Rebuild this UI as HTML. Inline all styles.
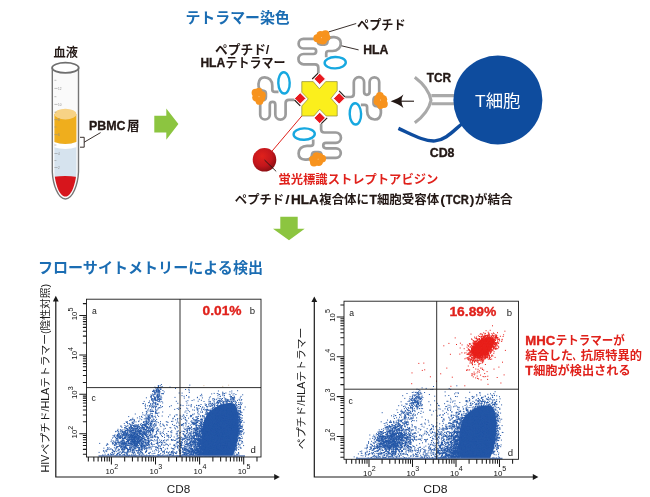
<!DOCTYPE html>
<html lang="ja"><head><meta charset="utf-8"><title>テトラマー染色</title>
<style>
html,body{margin:0;padding:0;background:#fff;}
body{width:650px;height:497px;overflow:hidden;font-family:"Liberation Sans","Noto Sans CJK JP",sans-serif;}
svg{display:block;}
text{font-family:"Liberation Sans","Noto Sans CJK JP",sans-serif;}
.b{font-weight:700;}
</style></head><body>
<svg width="650" height="497" viewBox="0 0 650 497">
<rect width="650" height="497" fill="#fff"/>
<g id="tube">
<defs><clipPath id="tubeclip"><path d="M54.4 67.5 L54.4 172 C54.9 183 59.2 196.6 65.4 196.6 C71.6 196.6 75.9 183 76.4 172 L76.4 67.5 Z"/></clipPath></defs>
<path d="M52.3 67.5 L52.3 172 C52.8 184 58 199 65.4 199 C72.8 199 78 184 78.5 172 L78.5 67.5 Z" fill="#fafafa"/>
<g clip-path="url(#tubeclip)">
<rect x="50" y="143" width="30" height="36" fill="#d6e3ee"/>
<path d="M50 177.5 Q65.4 174.5 80 177.5 L80 200 L50 200 Z" fill="#d7151c"/>
<path d="M50 140.5 Q65.4 147.5 80 140.5 L80 146 Q65.4 152 50 146 Z" fill="#fff"/>
<path d="M50 114 L80 114 L80 140.5 Q65.4 147.5 50 140.5 Z" fill="#efae1d"/>
<ellipse cx="65.4" cy="114.1" rx="11.2" ry="5.3" fill="#f7d285"/>
</g>
<g stroke="#8f8f8f" stroke-width="0.55" fill="none">
<path d="M54.4 80.3h2M54.4 88.4h3.2M54.4 96.7h2M54.4 104.4h3.2M54.4 112.2h2M54.4 119.6h3.2M54.4 127h2M54.4 134.6h3.2M54.4 145h2M54.4 153.5h3.2M54.4 160.5h2M54.4 167.5h3.2"/>
</g>
<g font-size="3.1" fill="#8a8a8a"><text x="58" y="89.5">12</text><text x="58" y="105.5">10</text><text x="58" y="120.7">8</text><text x="58" y="135.7">6</text><text x="58" y="154.6">4</text><text x="58" y="168.6">2</text></g>
<path d="M52.3 67.5 L52.3 172 C52.8 184 58 199 65.4 199 C72.8 199 78 184 78.5 172 L78.5 67.5" fill="none" stroke="#757575" stroke-width="1.4"/>
<ellipse cx="65.4" cy="67.8" rx="13.3" ry="5.1" fill="#fff" stroke="#6e6e6e" stroke-width="1.7"/>
<path d="M80 137.3 H84.2 V147.2 H80" fill="none" stroke="#231815" stroke-width="0.9"/>
<path d="M84.2 142.2 L100.6 132.6" fill="none" stroke="#231815" stroke-width="0.9"/>
</g>
<text class="b" x="65.8" y="57" font-size="12.2" text-anchor="middle" fill="#231815" textLength="24.4" lengthAdjust="spacingAndGlyphs">血液</text>
<text class="b" y="130.4" font-size="13" fill="#231815"><tspan x="89.0" textLength="36.6" lengthAdjust="spacingAndGlyphs" stroke="#231815" stroke-width="0.35">PBMC</tspan><tspan x="127.0" textLength="12.6" lengthAdjust="spacingAndGlyphs">層</tspan></text>
<path d="M154.3 115.8 H166.3 V108.5 L178.4 124.1 L166.3 139.7 V132.6 H154.3 Z" fill="#8cc540"/>
<path d="M280.3 216.7 H297.7 V228.7 H304.7 L289 240.2 L273 228.7 H280.3 Z" fill="#8cc540"/>
<g id="tetramer">
<path d="M301.8 116 L264.5 160" stroke="#e0211b" stroke-width="1" fill="none"/>
<path d="M301.8 81.6 L313.2 81.6 L319.4 88.8 L325.7 81.6 L337.2 81.6 L337.2 90.6 L331 98.3 L337.2 105.5 L337.2 116 L326.2 116 L319.7 109.2 L313.9 116 L301.8 116 L301.8 106 L308.2 98.9 L301.8 92.2 Z" fill="#fbef1c" stroke="#8c8a3a" stroke-width="0.7" stroke-linejoin="miter"/>
<g transform="rotate(0 319.7 98.4)">
<path d="M318.3 73 L318.3 67.6 Q318.3 64.3 315 64.3 L303.6 64.3 A5.15 5.15 0 0 1 303.6 54 L313.4 54 A2.75 2.75 0 0 0 313.4 48.5 L303.4 48.5 A4.8 4.8 0 0 1 303.4 38.9 L314.5 38.9 Q317.6 38.9 317.8 41.5 Q318 44.6 321 44.6 L324.5 44.6 Q327.3 44.6 327.5 41.5 C327.8 38 331 37 334.2 37.2 C338.2 37.5 340.8 39.8 340.8 43.4 C340.8 47.6 337.6 51 332.4 51 L328.6 51 Q326.2 51 326.2 53.4 L326.2 57.2" fill="none" stroke="#9c9c9c" stroke-width="2.7" stroke-linecap="butt" stroke-linejoin="round"/>
<ellipse cx="335.2" cy="62.7" rx="10.6" ry="5.7" fill="none" stroke="#17a8e0" stroke-width="2.4" transform="rotate(-2 335.2 62.7)"/>
<g fill="#f7931e"><circle cx="317.2" cy="38.2" r="3.9"/><circle cx="320.6" cy="35.2" r="4.3"/><circle cx="325.4" cy="34.3" r="4"/><circle cx="327" cy="37.6" r="3.3"/><circle cx="322.8" cy="40.2" r="4.4"/><circle cx="319.6" cy="40.6" r="3.2"/></g>
<circle cx="321.3" cy="37.7" r="0.45" fill="#fff"/>
<path d="M319.7 73.2 L325.4 78.9 L319.7 84.6 L314 78.9 Z" fill="#e8191f" stroke="#fff" stroke-width="0.9"/>
<path d="M312.2 79 L318.1 73.2" stroke="#231815" stroke-width="1.1" fill="none"/>
</g>
<g transform="rotate(90 319.7 98.4)">
<path d="M318.3 73 L318.3 67.6 Q318.3 64.3 315 64.3 L303.6 64.3 A5.15 5.15 0 0 1 303.6 54 L313.4 54 A2.75 2.75 0 0 0 313.4 48.5 L303.4 48.5 A4.8 4.8 0 0 1 303.4 38.9 L314.5 38.9 Q317.6 38.9 317.8 41.5 Q318 44.6 321 44.6 L324.5 44.6 Q327.3 44.6 327.5 41.5 C327.8 38 331 37 334.2 37.2 C338.2 37.5 340.8 39.8 340.8 43.4 C340.8 47.6 337.6 51 332.4 51 L328.6 51 Q326.2 51 326.2 53.4 L326.2 57.2" fill="none" stroke="#9c9c9c" stroke-width="2.7" stroke-linecap="butt" stroke-linejoin="round"/>
<ellipse cx="335.2" cy="62.7" rx="10.6" ry="5.7" fill="none" stroke="#17a8e0" stroke-width="2.4" transform="rotate(-2 335.2 62.7)"/>
<g fill="#f7931e"><circle cx="317.2" cy="38.2" r="3.9"/><circle cx="320.6" cy="35.2" r="4.3"/><circle cx="325.4" cy="34.3" r="4"/><circle cx="327" cy="37.6" r="3.3"/><circle cx="322.8" cy="40.2" r="4.4"/><circle cx="319.6" cy="40.6" r="3.2"/></g>
<circle cx="321.3" cy="37.7" r="0.45" fill="#fff"/>
<path d="M319.7 73.2 L325.4 78.9 L319.7 84.6 L314 78.9 Z" fill="#e8191f" stroke="#fff" stroke-width="0.9"/>
<path d="M312.2 79 L318.1 73.2" stroke="#231815" stroke-width="1.1" fill="none"/>
</g>
<g transform="rotate(180 319.7 98.4)">
<path d="M318.3 73 L318.3 67.6 Q318.3 64.3 315 64.3 L303.6 64.3 A5.15 5.15 0 0 1 303.6 54 L313.4 54 A2.75 2.75 0 0 0 313.4 48.5 L303.4 48.5 A4.8 4.8 0 0 1 303.4 38.9 L314.5 38.9 Q317.6 38.9 317.8 41.5 Q318 44.6 321 44.6 L324.5 44.6 Q327.3 44.6 327.5 41.5 C327.8 38 331 37 334.2 37.2 C338.2 37.5 340.8 39.8 340.8 43.4 C340.8 47.6 337.6 51 332.4 51 L328.6 51 Q326.2 51 326.2 53.4 L326.2 57.2" fill="none" stroke="#9c9c9c" stroke-width="2.7" stroke-linecap="butt" stroke-linejoin="round"/>
<ellipse cx="335.2" cy="62.7" rx="10.6" ry="5.7" fill="none" stroke="#17a8e0" stroke-width="2.4" transform="rotate(-2 335.2 62.7)"/>
<g fill="#f7931e"><circle cx="317.2" cy="38.2" r="3.9"/><circle cx="320.6" cy="35.2" r="4.3"/><circle cx="325.4" cy="34.3" r="4"/><circle cx="327" cy="37.6" r="3.3"/><circle cx="322.8" cy="40.2" r="4.4"/><circle cx="319.6" cy="40.6" r="3.2"/></g>
<circle cx="321.3" cy="37.7" r="0.45" fill="#fff"/>
<path d="M319.7 73.2 L325.4 78.9 L319.7 84.6 L314 78.9 Z" fill="#e8191f" stroke="#fff" stroke-width="0.9"/>
<path d="M312.2 79 L318.1 73.2" stroke="#231815" stroke-width="1.1" fill="none"/>
</g>
<g transform="rotate(270 319.7 98.4)">
<path d="M318.3 73 L318.3 67.6 Q318.3 64.3 315 64.3 L303.6 64.3 A5.15 5.15 0 0 1 303.6 54 L313.4 54 A2.75 2.75 0 0 0 313.4 48.5 L303.4 48.5 A4.8 4.8 0 0 1 303.4 38.9 L314.5 38.9 Q317.6 38.9 317.8 41.5 Q318 44.6 321 44.6 L324.5 44.6 Q327.3 44.6 327.5 41.5 C327.8 38 331 37 334.2 37.2 C338.2 37.5 340.8 39.8 340.8 43.4 C340.8 47.6 337.6 51 332.4 51 L328.6 51 Q326.2 51 326.2 53.4 L326.2 57.2" fill="none" stroke="#9c9c9c" stroke-width="2.7" stroke-linecap="butt" stroke-linejoin="round"/>
<ellipse cx="335.2" cy="62.7" rx="10.6" ry="5.7" fill="none" stroke="#17a8e0" stroke-width="2.4" transform="rotate(-2 335.2 62.7)"/>
<g fill="#f7931e"><circle cx="317.2" cy="38.2" r="3.9"/><circle cx="320.6" cy="35.2" r="4.3"/><circle cx="325.4" cy="34.3" r="4"/><circle cx="327" cy="37.6" r="3.3"/><circle cx="322.8" cy="40.2" r="4.4"/><circle cx="319.6" cy="40.6" r="3.2"/></g>
<circle cx="321.3" cy="37.7" r="0.45" fill="#fff"/>
<path d="M319.7 73.2 L325.4 78.9 L319.7 84.6 L314 78.9 Z" fill="#e8191f" stroke="#fff" stroke-width="0.9"/>
<path d="M312.2 79 L318.1 73.2" stroke="#231815" stroke-width="1.1" fill="none"/>
</g>
<defs><radialGradient id="ball" cx="0.4" cy="0.35" r="0.75"><stop offset="0" stop-color="#e0211b"/><stop offset="0.55" stop-color="#c3161c"/><stop offset="1" stop-color="#7a0c10"/></radialGradient></defs>
<circle cx="264.5" cy="159.8" r="11.8" fill="url(#ball)"/>
<path d="M264.5 160 L276.2 171.4" stroke="#231815" stroke-width="0.9" fill="none"/>
<path d="M328.8 31.9 L356.2 23.5" stroke="#231815" stroke-width="0.9" fill="none"/>
<path d="M341.6 45.8 L358.6 49.9" stroke="#231815" stroke-width="0.9" fill="none"/>
</g>
<g id="tcell">
<path d="M398.4 128.4 C412 134.5 424 141.6 435 140.9 C446 140.1 454 130 463 123" fill="none" stroke="#0e4c9e" stroke-width="3.4"/>
<path d="M414.8 77.2 Q428.6 87.6 431 100.2 Q428.6 112.4 414.8 122.8" fill="none" stroke="#a9a9a9" stroke-width="3.1" stroke-linejoin="miter"/>
<path d="M431.4 95.6 H456 M431.4 103.8 H456" fill="none" stroke="#a9a9a9" stroke-width="3.1"/>
<circle cx="497.9" cy="100" r="44.5" fill="#0e4c9e"/>
<path d="M414 101.2 L399 101.2" stroke="#231815" stroke-width="1.1" fill="none"/>
<path d="M390.6 101.2 Q398.6 98.6 403.4 94.6 Q399.6 101.2 403.4 107.9 Q398.6 103.8 390.6 101.2 Z" fill="#231815"/>
</g>
<text x="497.8" y="106.8" font-size="16.5" text-anchor="middle" fill="#fff" textLength="45.4" lengthAdjust="spacingAndGlyphs">T細胞</text>
<text class="b" y="81.9" font-size="12.5" fill="#231815"><tspan x="426.8" textLength="24.4" lengthAdjust="spacingAndGlyphs" stroke="#231815" stroke-width="0.35">TCR</tspan></text>
<text class="b" y="156.6" font-size="12.5" fill="#231815"><tspan x="429.7" textLength="24.8" lengthAdjust="spacingAndGlyphs" stroke="#231815" stroke-width="0.35">CD8</tspan></text>
<text class="b" x="185.4" y="23.4" font-size="15" fill="#1b6db3" textLength="104.4" lengthAdjust="spacingAndGlyphs">テトラマー染色</text>
<text class="b" x="215" y="53.9" font-size="12.8" fill="#231815" textLength="54.4" lengthAdjust="spacingAndGlyphs">ペプチド/</text>
<text class="b" y="67.3" font-size="12.8" fill="#231815"><tspan x="200.4" textLength="24.8" lengthAdjust="spacingAndGlyphs" stroke="#231815" stroke-width="0.35">HLA</tspan><tspan x="225.6" textLength="60" lengthAdjust="spacingAndGlyphs">テトラマー</tspan></text>
<text class="b" x="357" y="29.1" font-size="12.6" fill="#231815" textLength="48.6" lengthAdjust="spacingAndGlyphs">ペプチド</text>
<text class="b" y="53.8" font-size="12.5" fill="#231815"><tspan x="363.2" textLength="25.2" lengthAdjust="spacingAndGlyphs" stroke="#231815" stroke-width="0.35">HLA</tspan></text>
<text class="b" x="278.5" y="184.4" font-size="12.3" fill="#e0211b" textLength="159.8" lengthAdjust="spacingAndGlyphs">蛍光標識ストレプトアビジン</text>
<text class="b" y="203.6" font-size="12.5" fill="#231815"><tspan x="234.8" textLength="49.4" lengthAdjust="spacingAndGlyphs">ペプチド</tspan><tspan x="285.2" textLength="4.4" lengthAdjust="spacingAndGlyphs">/</tspan><tspan x="291" textLength="27.8" lengthAdjust="spacingAndGlyphs" stroke="#231815" stroke-width="0.35">HLA</tspan><tspan x="319.2" textLength="49.8" lengthAdjust="spacingAndGlyphs">複合体に</tspan><tspan x="369.6" textLength="7.4" lengthAdjust="spacingAndGlyphs" stroke="#231815" stroke-width="0.35">T</tspan><tspan x="376.9" textLength="62.3" lengthAdjust="spacingAndGlyphs">細胞受容体</tspan><tspan x="440.2" textLength="5" lengthAdjust="spacingAndGlyphs">(</tspan><tspan x="445.8" textLength="23" lengthAdjust="spacingAndGlyphs" stroke="#231815" stroke-width="0.35">TCR</tspan><tspan x="469.4" textLength="5" lengthAdjust="spacingAndGlyphs">)</tspan><tspan x="474.8" textLength="38" lengthAdjust="spacingAndGlyphs">が結合</tspan></text>
<text class="b" x="38" y="273.4" font-size="15" fill="#1b6db3" textLength="225" lengthAdjust="spacingAndGlyphs">フローサイトメトリーによる検出</text>
<text class="b" y="344.8" font-size="12.1" fill="#e0211b"><tspan x="525.3" textLength="30" lengthAdjust="spacingAndGlyphs" stroke="#e0211b" stroke-width="0.35">MHC</tspan><tspan x="555.7" textLength="69" lengthAdjust="spacingAndGlyphs">テトラマーが</tspan></text>
<text class="b" y="360.1" font-size="12.1" fill="#e0211b"><tspan x="525.3" textLength="47.6" lengthAdjust="spacingAndGlyphs">結合した</tspan><tspan x="572.6" textLength="8" lengthAdjust="spacingAndGlyphs">、</tspan><tspan x="580.8" textLength="61.2" lengthAdjust="spacingAndGlyphs">抗原特異的</tspan></text>
<text class="b" y="375.4" font-size="12.1" fill="#e0211b"><tspan x="525.3" textLength="7.6" lengthAdjust="spacingAndGlyphs" stroke="#e0211b" stroke-width="0.35">T</tspan><tspan x="533.2" textLength="97.4" lengthAdjust="spacingAndGlyphs">細胞が検出される</tspan></text>
<g id="plot1">
<path d="M134.5 427.8h1M137.8 435.8h1M131.4 419.8h1M124.5 425.5h1M129.4 439.8h1M123.4 431.7h1M135.2 436.5h1M149.5 434.1h1M129.0 455.5h1M127.6 450.4h1M140.0 436.5h1M138.5 447.5h1M135.7 431.1h1M124.1 437.2h1M134.2 445.8h1M142.3 425.9h1M119.4 438.6h1M129.4 427.8h1M113.2 443.2h1M120.1 454.7h1M113.9 435.6h1M131.9 440.4h1M120.3 433.1h1M137.5 427.6h1M136.3 427.1h1M132.4 450.8h1M128.5 443.3h1M134.0 432.0h1M135.8 443.8h1M117.4 438.5h1M129.1 445.9h1M123.5 442.6h1M125.4 442.2h1M146.4 440.8h1M125.5 434.8h1M134.1 434.6h1M144.4 421.4h1M128.0 435.5h1M133.2 426.1h1M135.7 436.5h1M135.2 429.7h1M120.8 441.6h1M135.4 441.7h1M149.7 422.9h1M117.2 434.5h1M144.1 428.1h1M135.8 444.1h1M127.3 454.0h1M156.9 440.9h1M143.0 433.3h1M121.1 453.1h1M135.3 424.9h1M141.0 449.5h1M132.4 432.8h1M142.1 412.8h1M142.0 450.0h1M150.6 426.0h1M126.9 440.9h1M136.8 435.7h1M129.3 439.9h1M135.9 425.1h1M121.2 434.8h1M128.0 443.3h1M132.3 440.3h1M144.6 446.2h1M147.3 436.2h1M125.6 433.6h1M141.7 438.8h1M129.3 428.3h1M133.4 449.5h1M148.6 427.2h1M142.2 441.0h1M130.8 438.2h1M130.4 429.9h1M131.7 435.6h1M151.6 430.3h1M129.7 434.8h1M131.1 445.1h1M138.4 442.8h1M133.1 433.3h1M132.3 430.7h1M122.0 442.9h1M134.4 437.2h1M129.5 447.7h1M141.8 443.7h1M134.2 437.8h1M142.0 435.1h1M130.7 431.4h1M146.3 428.0h1M134.4 429.5h1M141.0 433.3h1M120.0 437.2h1M138.4 443.6h1M115.6 438.3h1M131.1 428.3h1M124.4 454.0h1M136.3 442.0h1M159.6 448.3h1M125.2 446.6h1M127.5 452.1h1M136.8 435.4h1M140.0 443.0h1M132.2 428.0h1M142.4 446.5h1M140.3 451.3h1M122.9 443.9h1M133.6 444.7h1M134.9 448.8h1M122.7 434.6h1M137.4 441.0h1M124.9 432.3h1M145.4 430.0h1M136.7 432.2h1M135.5 436.6h1M127.9 440.6h1M133.2 442.2h1M138.6 447.3h1M110.7 449.0h1M144.0 433.0h1M114.9 441.1h1M143.0 441.1h1M125.0 443.5h1M143.2 421.6h1M136.0 444.2h1M148.5 419.1h1M150.6 443.5h1M133.8 441.4h1M131.4 437.6h1M132.7 450.3h1M123.6 429.8h1M146.8 437.0h1M128.4 452.0h1M133.9 436.4h1M125.6 436.1h1M127.5 440.4h1M120.2 436.9h1M148.6 448.8h1M132.8 430.4h1M145.3 443.5h1M134.6 427.0h1M126.7 445.4h1M130.8 437.8h1M128.2 416.6h1M134.6 437.9h1M130.3 429.5h1M131.1 434.8h1M119.1 454.5h1M125.5 430.0h1M153.0 425.1h1M127.0 452.1h1M122.7 441.3h1M138.3 450.8h1M150.3 437.7h1M118.2 433.5h1M132.2 437.9h1M127.4 450.2h1M114.8 450.1h1M142.7 436.4h1M134.2 438.5h1M135.3 436.9h1M126.1 434.6h1M139.6 453.9h1M128.5 439.2h1M132.9 428.4h1M122.1 436.3h1M120.9 447.0h1M149.5 440.7h1M128.8 437.9h1M137.8 431.5h1M134.1 438.3h1M129.6 424.3h1M128.8 427.7h1M141.6 443.6h1M131.1 434.5h1M132.8 441.6h1M134.7 448.6h1M147.7 441.1h1M142.1 436.7h1M138.8 455.8h1M128.2 445.1h1M119.0 437.9h1M145.1 442.3h1M145.3 439.4h1M132.9 430.8h1M140.6 437.4h1M143.3 434.8h1M143.8 418.9h1M144.8 434.5h1M129.4 436.5h1M151.5 430.8h1M120.5 426.3h1M144.2 433.0h1M140.0 436.6h1M144.3 437.0h1M155.5 423.9h1M151.1 440.3h1M121.7 429.9h1M115.6 439.8h1M143.6 447.6h1M123.1 434.2h1M134.4 433.6h1M143.9 445.6h1M116.1 438.3h1M110.9 440.0h1M137.4 439.4h1M135.0 447.1h1M131.7 419.2h1M134.9 430.7h1M124.9 431.1h1M117.5 431.8h1M132.6 430.9h1M123.6 432.8h1M116.1 444.3h1M140.2 429.1h1M133.8 439.2h1M139.1 440.6h1M123.4 433.8h1M127.1 440.6h1M123.3 454.5h1M124.6 442.8h1M136.7 432.0h1M125.7 439.2h1M138.5 429.2h1M138.3 439.6h1M157.2 441.1h1M118.9 433.9h1M144.4 434.2h1M133.5 447.9h1M134.3 433.7h1M118.3 442.8h1M129.3 430.1h1M142.8 429.2h1M133.6 433.7h1M135.4 456.4h1M131.2 435.2h1M147.4 430.9h1M134.3 433.2h1M126.7 445.1h1M112.4 443.9h1M128.6 441.0h1M149.4 447.4h1M135.0 440.3h1M121.4 445.7h1M124.0 427.8h1M147.2 434.4h1M136.3 437.1h1M135.0 435.8h1M133.9 419.8h1M134.9 445.4h1M143.5 432.9h1M140.7 433.1h1M136.9 435.4h1M122.8 438.4h1M140.2 440.3h1M126.8 428.7h1M146.8 427.7h1M120.3 443.3h1M133.0 439.5h1M134.4 434.8h1M119.7 436.0h1M153.8 427.1h1M150.9 434.3h1M129.3 449.1h1M143.1 427.3h1M138.7 450.1h1M105.2 450.9h1M137.3 433.6h1M133.8 444.8h1M135.4 425.3h1M131.5 427.6h1M132.5 434.9h1M147.8 432.6h1M138.2 432.9h1M134.4 438.9h1M151.6 416.4h1M128.3 443.4h1M130.1 426.8h1M114.2 436.4h1M152.1 431.0h1M145.3 426.0h1M144.8 424.3h1M142.0 428.0h1M135.7 437.7h1M136.9 442.6h1M131.7 443.4h1M132.2 430.0h1M135.1 431.1h1M151.4 426.8h1M140.7 440.6h1M133.8 420.8h1M128.0 449.8h1M127.4 435.3h1M152.5 427.8h1M140.2 439.8h1M135.3 446.6h1M130.6 441.7h1M122.1 449.4h1M133.8 439.3h1M144.3 446.6h1M130.1 449.5h1M132.0 437.7h1M132.0 450.7h1M135.7 439.2h1M116.7 442.2h1M131.9 430.7h1M124.9 437.4h1M144.4 442.7h1M125.9 428.5h1M141.0 442.3h1M151.6 437.6h1M131.0 441.1h1M136.6 436.7h1M134.5 443.5h1M123.4 433.7h1M139.7 437.8h1M157.1 413.3h1M131.6 444.3h1M132.2 432.8h1M122.8 447.7h1M138.1 421.6h1M120.5 446.6h1M122.1 438.4h1M148.8 442.1h1M124.4 432.1h1M146.6 430.4h1M151.6 453.8h1M137.4 430.4h1M140.7 430.8h1M156.4 431.3h1M132.3 429.7h1M127.9 449.4h1M119.3 455.7h1M135.0 431.9h1M151.1 420.0h1M145.2 445.9h1M123.9 449.5h1M124.9 446.9h1M128.9 449.0h1M137.8 430.0h1M132.2 437.0h1M136.9 425.7h1M137.8 425.3h1M131.2 447.0h1M134.1 432.4h1M133.6 438.8h1M140.1 431.4h1M155.5 440.7h1M141.1 452.0h1M135.1 442.0h1M115.6 431.3h1M138.8 440.3h1M112.7 454.0h1M118.7 436.9h1M144.1 429.5h1M142.4 445.1h1M132.8 439.5h1M130.3 435.6h1M126.9 433.1h1M141.6 439.1h1M159.8 434.0h1M136.9 447.3h1M125.8 445.8h1M121.4 427.3h1M133.9 441.6h1M132.5 446.0h1M121.6 444.4h1M135.8 446.5h1M121.6 435.8h1M147.0 427.5h1M146.4 443.6h1M146.6 426.5h1M129.2 420.6h1M140.3 445.6h1M133.0 432.1h1M130.1 436.2h1M130.7 426.8h1M119.9 429.6h1M143.4 433.2h1M132.4 441.6h1M136.9 417.9h1M145.7 442.2h1M115.1 431.7h1M125.7 430.6h1M136.5 443.4h1M138.9 436.5h1M130.3 425.7h1M146.0 451.5h1M136.9 430.2h1M120.9 442.8h1M124.1 441.8h1M143.5 448.3h1M139.7 433.1h1M113.2 450.8h1M149.6 428.7h1M141.2 446.2h1M149.5 428.5h1M130.2 435.8h1M131.2 454.8h1M121.9 443.2h1M162.9 433.4h1M152.3 437.6h1M127.3 432.5h1M136.3 443.9h1M130.2 448.5h1M145.5 446.1h1M120.5 435.9h1M146.5 430.3h1M138.3 438.8h1M122.8 440.4h1M128.9 430.8h1M129.4 443.9h1M133.9 420.7h1M128.5 435.5h1M125.2 436.4h1M131.1 436.3h1M123.0 442.9h1M134.0 443.1h1M144.4 434.5h1M117.4 435.8h1M134.5 426.3h1M127.2 429.3h1M123.6 443.2h1M144.1 427.9h1M128.7 439.7h1M151.3 443.8h1M125.8 448.5h1M138.8 450.4h1M132.0 436.0h1M126.1 430.4h1M141.1 445.4h1M132.8 441.0h1M141.3 446.2h1M134.0 438.2h1M122.3 450.6h1M133.4 445.4h1M135.1 444.0h1M145.2 440.2h1M124.3 443.4h1M134.1 440.1h1M115.2 443.7h1M141.8 445.0h1M122.4 436.0h1M133.8 437.2h1M146.9 444.0h1M117.4 440.6h1M122.3 438.3h1M121.8 437.8h1M138.7 426.3h1M125.5 433.7h1M126.4 436.9h1M141.0 455.1h1M126.0 441.4h1M139.3 445.0h1M123.6 431.6h1M120.9 443.7h1M113.9 447.8h1M155.3 449.3h1M130.9 432.8h1M137.2 442.6h1M134.2 440.6h1M136.3 428.9h1M135.1 437.7h1M155.9 431.6h1M117.1 446.5h1M123.2 444.8h1M119.6 437.2h1M142.9 425.0h1M143.7 448.8h1M123.7 442.4h1M118.9 449.7h1M130.5 450.8h1M150.1 430.5h1M102.9 451.1h1M140.4 434.8h1M122.5 439.8h1M146.2 435.0h1M122.4 440.4h1M131.3 448.1h1M117.6 442.4h1M123.6 438.8h1M150.0 432.6h1M143.7 439.1h1M130.0 431.3h1M124.8 435.6h1M113.3 441.7h1M130.1 434.0h1M134.2 437.1h1M133.6 433.0h1M133.4 455.3h1M121.9 451.8h1M133.8 442.0h1M134.1 437.6h1M149.0 453.8h1M155.4 436.6h1M133.0 437.6h1M125.9 442.3h1M133.8 440.7h1M127.7 451.4h1M126.2 439.5h1M133.8 456.0h1M122.8 432.8h1M141.3 442.6h1M133.3 429.7h1M137.3 452.9h1M132.5 435.6h1M126.4 439.1h1M123.9 448.0h1M131.8 449.2h1M128.4 429.7h1M137.1 434.5h1M134.5 426.1h1M119.2 442.2h1M135.3 437.0h1M119.5 438.0h1M127.6 433.5h1M131.2 435.4h1M135.5 442.3h1M136.2 450.6h1M132.7 421.9h1M129.7 437.9h1M130.3 435.3h1M123.6 444.3h1M131.5 430.5h1M128.3 438.0h1M135.5 428.9h1M121.0 446.6h1M137.1 438.3h1M136.1 436.3h1M132.9 441.5h1M129.6 436.9h1M140.7 423.5h1M115.9 446.7h1M139.7 439.4h1M137.2 436.2h1M137.7 445.8h1M138.8 447.5h1M127.2 430.1h1M131.6 431.9h1M141.6 449.8h1M139.3 449.1h1M136.8 431.3h1M140.5 431.4h1M147.6 431.2h1M145.8 422.3h1M137.1 437.8h1M117.1 430.5h1M145.1 425.6h1M132.9 446.1h1M138.7 436.6h1M117.8 446.6h1M120.0 447.8h1M127.4 436.5h1M148.8 435.6h1M130.3 431.8h1M137.5 452.3h1M154.1 439.7h1M152.4 425.1h1M133.3 438.3h1M131.8 444.6h1M120.4 444.9h1M126.7 455.1h1M139.3 448.8h1M138.9 432.5h1M135.7 437.0h1M145.6 424.9h1M125.8 441.8h1M133.9 439.4h1M141.0 437.5h1M146.5 417.8h1M138.9 431.4h1M131.0 439.6h1M138.6 426.5h1M123.3 432.8h1M116.1 438.5h1M141.0 439.6h1M133.9 436.7h1M138.0 429.7h1M115.5 448.4h1M130.4 434.2h1M127.8 435.1h1M124.8 428.1h1M130.7 444.3h1M144.5 422.2h1M138.8 436.6h1M127.8 445.4h1M134.3 434.8h1M143.0 438.4h1M133.1 449.4h1M140.6 446.2h1M142.1 438.5h1M153.5 419.3h1M147.2 426.6h1M138.0 445.6h1M137.9 451.9h1M143.3 438.8h1M128.5 449.8h1M134.0 432.9h1M144.6 434.4h1M156.4 433.7h1M132.7 442.0h1M134.0 425.1h1M136.7 445.6h1M149.5 446.3h1M134.2 428.3h1M151.0 423.2h1M123.7 443.1h1M132.4 432.8h1M132.3 418.2h1M143.3 443.2h1M146.2 437.0h1M117.6 437.3h1M138.3 438.4h1M127.1 433.0h1M117.4 442.2h1M146.1 426.9h1M140.0 430.4h1M140.0 440.2h1M129.2 434.3h1M146.0 431.9h1M131.8 452.7h1M146.8 442.9h1M124.3 446.8h1M124.9 444.4h1M136.8 441.7h1M126.6 452.0h1M142.1 436.3h1M137.4 453.2h1M124.2 431.9h1M135.3 435.7h1M130.6 427.0h1M144.8 433.1h1M127.4 443.8h1M129.6 451.3h1M148.1 429.7h1M159.6 433.1h1M156.9 430.5h1M135.2 431.6h1M137.0 427.4h1M151.7 435.1h1M133.1 423.5h1M123.6 441.1h1M135.8 437.9h1M139.6 431.4h1M125.2 431.2h1M142.0 425.1h1M126.0 452.9h1M132.9 443.4h1M136.9 434.4h1M141.4 426.8h1M130.7 447.6h1M140.1 451.6h1M124.5 432.0h1M130.4 436.3h1M123.0 449.2h1M147.2 438.4h1M134.2 455.1h1M126.2 434.8h1M130.6 443.4h1M132.0 427.8h1M142.3 454.3h1M116.6 435.3h1M130.3 437.8h1M162.9 431.2h1M145.2 452.2h1M133.3 435.4h1M142.5 436.3h1M157.5 438.5h1M131.9 452.0h1M130.4 438.3h1M148.1 444.2h1M140.0 441.3h1M142.0 434.0h1M128.8 439.8h1M156.1 434.0h1M153.6 426.4h1M140.8 447.1h1M142.2 424.7h1M111.8 452.4h1M141.6 444.7h1M132.3 437.6h1M139.4 430.5h1M142.1 434.6h1M130.7 442.8h1M115.6 448.1h1M138.6 439.6h1M126.2 448.1h1M130.8 434.0h1M127.7 441.3h1M130.7 425.4h1M108.6 449.6h1M148.1 436.6h1M137.3 433.9h1M146.9 445.5h1M156.7 439.5h1M134.8 414.0h1M114.3 442.3h1M124.5 427.6h1M121.0 449.7h1M135.4 433.4h1M112.1 443.0h1M138.3 435.1h1M117.6 444.3h1M137.8 442.8h1M133.3 449.2h1M131.0 430.3h1M133.7 451.6h1M128.5 431.3h1M127.6 441.7h1M115.7 451.6h1M134.2 444.1h1M155.2 425.9h1M156.7 427.7h1M149.3 431.2h1M142.4 436.0h1M126.9 449.3h1M150.7 423.8h1M133.9 442.1h1M133.7 443.3h1M131.2 443.4h1M135.5 441.8h1M129.6 451.9h1M133.6 442.3h1M122.4 447.7h1M130.3 443.6h1M160.0 448.3h1M133.7 422.0h1M131.8 449.4h1M140.5 434.6h1M142.4 434.1h1M122.0 432.2h1M132.2 422.5h1M144.8 432.7h1M137.5 431.6h1M135.9 441.9h1M151.9 422.0h1M126.9 451.7h1M135.4 440.1h1M128.7 437.0h1M151.2 428.7h1M112.6 435.6h1M127.0 429.8h1M128.6 434.5h1M141.9 436.6h1M141.3 435.2h1M150.1 422.9h1M116.9 439.2h1M142.9 428.7h1M131.2 440.0h1M127.0 455.4h1M140.5 442.1h1M124.2 437.4h1M130.4 426.8h1M127.2 445.6h1M138.7 430.7h1M138.0 437.8h1M152.3 429.2h1M132.3 439.2h1M117.3 453.3h1M126.0 433.8h1M124.2 437.1h1M120.9 433.8h1M139.4 444.5h1M127.3 430.7h1M142.3 424.6h1M133.3 426.2h1M138.5 441.2h1M141.6 428.1h1M134.9 446.0h1M148.3 437.4h1M139.3 427.7h1M138.9 434.8h1M139.1 435.1h1M118.2 435.3h1M132.7 454.8h1M131.6 422.3h1M136.8 440.8h1M119.3 443.8h1M152.8 429.5h1M135.7 439.0h1M120.9 448.1h1M115.4 443.1h1M131.3 442.2h1M133.5 444.1h1M126.5 422.3h1M135.5 450.4h1M140.7 445.1h1M126.4 448.2h1M134.1 426.1h1M145.5 434.8h1M163.3 425.4h1M123.2 435.2h1M129.3 447.3h1M125.1 433.0h1M143.3 435.2h1M129.1 437.7h1M134.2 438.8h1M123.5 434.1h1M123.8 434.0h1M129.2 455.1h1M118.3 432.2h1M129.9 432.0h1M136.2 447.9h1M132.4 456.3h1M114.6 444.7h1M129.3 432.9h1M143.4 432.6h1M140.7 445.8h1M133.6 430.4h1M124.6 452.3h1M141.6 448.7h1M128.0 439.9h1M121.4 446.1h1M125.5 446.2h1M150.7 448.1h1M137.0 428.6h1M147.5 445.5h1M129.1 435.9h1M145.0 429.4h1M127.8 440.2h1M132.7 436.5h1M162.3 424.1h1M143.1 422.7h1M128.9 431.1h1M133.6 450.6h1M138.2 454.0h1M148.1 440.9h1M129.0 449.2h1M115.0 437.4h1M131.4 438.0h1M134.7 440.4h1M135.7 428.5h1M149.2 426.7h1M138.0 438.1h1M143.6 433.5h1M122.2 431.4h1M144.2 439.4h1M158.0 431.1h1M143.2 445.0h1M137.3 437.4h1M136.2 435.1h1M154.5 435.2h1M124.1 438.6h1M133.3 432.6h1M139.7 433.6h1M142.8 442.7h1M129.6 444.5h1M137.9 448.3h1M131.4 424.2h1M135.8 434.4h1M133.0 434.8h1M121.7 442.0h1M134.3 434.2h1M144.3 431.7h1M123.7 446.8h1M131.8 440.0h1M141.9 426.6h1M122.5 451.7h1M136.5 446.1h1M122.6 435.4h1M147.2 442.6h1M160.4 426.6h1M157.1 443.1h1M132.0 436.6h1M142.8 429.5h1M135.9 434.6h1M135.6 431.3h1M151.8 436.2h1M119.7 442.4h1M146.3 436.0h1M134.0 433.4h1M150.3 403.7h1M136.6 438.4h1M127.0 423.3h1M137.6 439.5h1M142.7 446.0h1M134.9 440.3h1M140.0 433.6h1M128.7 437.6h1M110.6 441.6h1M144.6 431.3h1M142.3 431.5h1M136.2 429.8h1M135.3 448.0h1M146.1 435.6h1M129.4 447.2h1M126.6 437.4h1M132.4 439.0h1M147.8 433.9h1M119.0 445.0h1M147.8 442.4h1M127.3 441.4h1M122.2 434.7h1M148.6 428.6h1M133.4 452.4h1M119.9 438.5h1M130.5 436.3h1M144.9 448.4h1M147.9 444.6h1M129.7 443.5h1M139.1 433.7h1M142.5 456.5h1M127.3 442.8h1M138.5 441.9h1M134.1 436.6h1M128.5 427.1h1M129.0 427.7h1M135.3 441.3h1M134.8 441.3h1M128.2 437.2h1M129.7 429.0h1M147.0 423.3h1M136.9 434.7h1M144.4 423.6h1M148.0 443.0h1M141.1 446.5h1M125.3 447.3h1M143.6 431.2h1M130.9 431.3h1M155.3 404.5h1M153.5 429.2h1M112.6 440.8h1M123.6 448.4h1M141.9 441.7h1M143.3 441.3h1M142.7 438.2h1M133.7 443.8h1M139.6 449.3h1M141.8 427.5h1M133.6 434.3h1M146.0 423.9h1M141.6 447.7h1M122.9 446.7h1M145.2 425.7h1M131.9 440.0h1M124.5 438.0h1M138.7 437.9h1M124.3 438.4h1M124.3 444.4h1M116.9 438.1h1M134.2 445.3h1M140.1 439.0h1M146.0 433.3h1M132.9 437.4h1M146.2 431.9h1M134.7 444.9h1M133.5 435.9h1M140.9 439.3h1M146.4 432.3h1M130.7 426.1h1M131.8 446.3h1M132.7 429.3h1M135.4 443.6h1M124.4 443.6h1M146.0 421.6h1M130.0 430.8h1M139.7 432.6h1M125.3 432.8h1M138.5 427.1h1M138.9 443.4h1M129.8 436.9h1M157.1 436.8h1M138.7 433.5h1M154.4 436.7h1M145.2 429.5h1M127.1 439.2h1M130.2 443.8h1M139.4 437.4h1M135.2 434.0h1M135.1 428.6h1M131.3 440.1h1M114.2 444.9h1M132.0 436.3h1M138.7 441.8h1M126.5 437.0h1M132.0 441.4h1M137.6 440.6h1M114.9 442.9h1M122.6 434.3h1M111.6 454.3h1M123.7 438.0h1M152.3 427.9h1M122.7 438.5h1M141.8 438.0h1M119.1 436.2h1M137.9 436.9h1M130.9 427.2h1M133.8 436.2h1M140.9 443.4h1M154.2 450.9h1M136.7 443.6h1M135.9 440.0h1M123.6 450.2h1M141.0 445.4h1M131.7 452.7h1M143.8 445.4h1M134.0 437.1h1M154.0 436.4h1M112.3 443.9h1M131.2 441.2h1M144.4 437.8h1M130.6 432.1h1M125.6 421.8h1M131.5 432.9h1M135.8 438.3h1M161.8 432.7h1M147.3 421.2h1M122.1 446.3h1M124.7 447.3h1M130.0 439.7h1M145.7 450.0h1M125.3 455.8h1M126.8 429.2h1M144.4 444.9h1M144.2 439.9h1M130.3 442.4h1M122.0 448.4h1M117.1 435.3h1M126.7 434.5h1M142.9 429.9h1M127.4 438.5h1M139.9 424.6h1M155.4 425.0h1M147.6 440.3h1M121.6 439.9h1M144.2 439.4h1M147.5 419.4h1M126.1 433.0h1M123.8 435.4h1M133.3 438.5h1M116.6 436.5h1M151.0 442.7h1M122.1 440.6h1M131.5 438.7h1M132.0 444.5h1M136.4 433.6h1M137.5 447.0h1M132.1 442.4h1M147.2 436.8h1M134.5 442.4h1M126.5 448.2h1M136.0 445.8h1M137.0 440.7h1M124.3 447.5h1M127.3 440.4h1M143.4 446.9h1M138.4 437.0h1M126.9 421.8h1M157.3 444.9h1M160.4 433.8h1M118.1 431.2h1M137.9 435.6h1M162.6 424.9h1M143.3 454.2h1M137.0 441.8h1M132.2 425.1h1M128.4 443.8h1M132.1 435.1h1M128.3 455.5h1M142.8 427.4h1M130.0 419.7h1M129.6 439.5h1M121.0 437.7h1M133.9 434.6h1M132.5 442.0h1M146.2 450.0h1M138.6 420.9h1M140.2 446.9h1M138.5 432.4h1M133.1 442.0h1M131.1 437.1h1M143.0 445.7h1M122.4 444.9h1M149.5 430.0h1M134.9 444.0h1M126.1 435.3h1M129.0 423.8h1M136.3 434.7h1M126.5 434.4h1M147.3 438.4h1M125.7 426.4h1M126.3 435.4h1M112.0 438.0h1M134.1 438.7h1M146.4 445.2h1M141.8 432.5h1M119.5 445.1h1M126.0 444.8h1M154.4 424.9h1M138.1 439.2h1M134.5 430.0h1M146.3 444.7h1M162.0 436.5h1M149.0 435.3h1M136.1 426.3h1M138.5 438.2h1M141.4 430.1h1M127.6 445.4h1M122.6 439.3h1M135.1 431.0h1M123.9 448.0h1M133.8 444.3h1M135.6 432.7h1M160.7 442.8h1M125.0 437.3h1M133.1 435.6h1M132.7 439.4h1M139.4 430.6h1M146.2 431.9h1M129.0 437.7h1M125.3 452.8h1M116.1 454.4h1M124.1 437.8h1M140.5 450.5h1M135.0 437.5h1M123.1 443.5h1M130.3 446.3h1M134.9 440.4h1M127.9 441.4h1M131.7 428.3h1M114.1 453.1h1M121.6 437.0h1M152.6 431.8h1M130.7 447.3h1M137.0 444.5h1M130.3 445.6h1M125.4 448.1h1M133.8 452.5h1M134.4 437.6h1M133.6 446.2h1M132.8 435.3h1M124.9 448.9h1M128.4 442.5h1M137.0 426.1h1M141.7 439.7h1M144.5 434.5h1M128.9 432.1h1M144.8 439.7h1M147.6 432.0h1M147.2 422.1h1M150.1 425.5h1M132.9 453.4h1M132.5 425.5h1M143.7 438.1h1M119.2 446.2h1M136.8 443.0h1M128.6 428.7h1M130.4 436.1h1M115.0 443.0h1M124.5 446.8h1M134.3 432.5h1M144.5 426.1h1M145.6 444.4h1M133.6 447.6h1M132.4 441.6h1M125.2 434.6h1M139.0 440.6h1M131.7 439.5h1M141.3 443.8h1M154.1 423.5h1M134.1 439.1h1M117.7 439.9h1M124.9 430.4h1M118.2 443.0h1M121.1 440.9h1M149.1 431.6h1M137.0 440.9h1M117.5 429.3h1M141.8 436.1h1M148.6 438.9h1M130.5 441.2h1M126.9 448.7h1M130.7 428.5h1M137.7 424.5h1M141.7 438.6h1M147.7 439.3h1M148.1 453.4h1M147.8 440.6h1M149.8 427.6h1M141.9 443.4h1M117.4 434.2h1M133.0 425.6h1M130.2 441.6h1M144.7 442.1h1M130.5 443.6h1M124.1 455.5h1M150.7 437.2h1M142.0 446.9h1M137.0 428.8h1M144.9 424.1h1M146.4 447.8h1M138.3 449.8h1M107.0 447.8h1M126.9 441.4h1M129.4 440.4h1M123.5 434.3h1M136.7 450.7h1M147.9 441.0h1M129.1 443.4h1M121.8 443.7h1M157.2 442.5h1M129.4 443.3h1M120.7 447.1h1M137.2 427.5h1M139.3 441.4h1M143.4 431.8h1M129.0 438.0h1M124.2 447.6h1M136.5 445.8h1M143.1 441.6h1M127.4 425.6h1M138.2 441.5h1M133.5 428.1h1M166.1 424.8h1M126.6 444.2h1M150.0 432.4h1M133.9 445.0h1M142.6 443.0h1M144.5 442.2h1M148.7 427.6h1M138.2 431.8h1M127.8 430.3h1M128.5 434.6h1M140.2 427.6h1M141.0 431.1h1M150.2 433.1h1M139.2 428.6h1M146.4 423.6h1M151.5 423.1h1M136.3 441.5h1M117.9 441.8h1M121.3 449.3h1M118.4 450.1h1M152.3 431.6h1M125.0 445.6h1M148.3 423.0h1M141.1 456.2h1M153.7 444.4h1M145.7 434.0h1M133.4 428.3h1M132.3 441.7h1M135.5 421.9h1M136.5 431.0h1M128.6 445.5h1M134.1 438.7h1M152.5 430.3h1M115.4 449.8h1M137.4 428.6h1M124.3 442.4h1M136.6 433.3h1M143.9 428.9h1M133.9 442.1h1M143.2 427.8h1M146.9 430.6h1M127.7 456.3h1M141.5 427.3h1M136.5 442.8h1M126.0 428.2h1M137.0 438.9h1M151.9 440.4h1M137.7 426.5h1M137.4 447.5h1M118.7 434.3h1M150.5 436.0h1M154.7 437.3h1M134.8 443.0h1M132.0 423.2h1M116.4 455.4h1M144.4 440.8h1M164.8 428.4h1M142.5 427.7h1M148.7 420.8h1M140.6 425.2h1M123.5 444.8h1M149.5 432.2h1M120.7 431.1h1M132.1 434.0h1M137.6 450.7h1M144.4 433.2h1M139.2 432.1h1M138.8 448.7h1M126.0 443.6h1M120.1 441.2h1M135.2 432.7h1M126.5 426.3h1M119.9 430.9h1M120.3 436.7h1M129.0 437.2h1M113.8 445.1h1M119.4 445.7h1M116.2 443.5h1M136.5 439.5h1M139.1 428.5h1M157.0 415.2h1M117.7 436.9h1M126.9 431.4h1M144.7 430.4h1M132.1 436.1h1M130.8 428.1h1M153.6 424.8h1M130.7 437.9h1M121.6 441.5h1M119.8 435.3h1M138.3 441.5h1M137.9 435.5h1M123.5 440.5h1M140.5 452.9h1M141.0 431.0h1M127.3 449.4h1M141.5 448.4h1M140.9 449.5h1M114.5 434.9h1M131.0 455.9h1M139.1 438.1h1M128.1 437.1h1M131.3 443.7h1M142.9 436.8h1M152.2 433.0h1M110.0 453.8h1M163.8 426.1h1M121.9 431.6h1M145.2 442.7h1M148.3 441.3h1M145.5 445.2h1M136.2 428.5h1M121.5 449.8h1M141.5 440.7h1M126.5 454.6h1M166.2 433.6h1M142.4 434.1h1M154.9 420.5h1M124.3 433.9h1M150.9 444.4h1M152.3 430.5h1M151.9 428.4h1M134.3 445.4h1M148.1 424.6h1M158.2 392.9h1M156.1 413.4h1M145.4 408.6h1M155.1 399.9h1M151.2 407.9h1M148.2 427.7h1M148.6 419.7h1M155.0 412.6h1M146.2 420.3h1M148.5 417.1h1M150.1 411.3h1M148.7 417.1h1M148.1 421.0h1M151.4 400.4h1M148.3 402.6h1M151.9 431.2h1M148.1 419.4h1M143.8 425.0h1M159.8 389.6h1M143.2 431.1h1M151.4 413.6h1M147.7 428.4h1M154.4 402.6h1M155.5 403.0h1M144.0 424.8h1M155.6 390.0h1M161.2 397.9h1M139.5 418.8h1M156.3 389.7h1M150.5 424.0h1M150.6 405.3h1M141.2 428.3h1M158.9 407.6h1M149.9 409.7h1M163.7 391.9h1M157.2 403.9h1M152.1 410.1h1M147.9 430.2h1M152.9 411.4h1M154.3 406.3h1M158.6 387.7h1M153.9 398.4h1M150.8 415.9h1M154.8 416.2h1M157.4 396.5h1M142.8 424.5h1M152.5 405.2h1M154.5 399.5h1M148.1 408.9h1M152.2 401.3h1M146.4 411.3h1M146.2 422.5h1M151.9 416.1h1M149.9 435.8h1M146.5 418.6h1M158.4 412.8h1M154.7 398.0h1M160.0 421.7h1M155.1 409.6h1M158.6 390.3h1M153.1 402.2h1M152.7 403.1h1M153.0 407.0h1M159.5 407.8h1M147.2 405.8h1M158.1 416.4h1M148.7 415.9h1M151.0 421.5h1M136.6 427.2h1M150.3 411.1h1M153.0 396.2h1M154.4 403.7h1M147.7 424.5h1M150.5 395.0h1M149.6 423.6h1M158.8 394.8h1M155.3 406.9h1M155.7 400.4h1M154.4 421.5h1M154.9 398.0h1M140.4 429.3h1M140.4 434.2h1M156.6 410.0h1M151.6 415.7h1M150.5 424.2h1M150.0 404.2h1M146.1 427.9h1M156.9 395.5h1M152.0 398.8h1M144.0 425.7h1M162.2 402.9h1M152.5 420.0h1M151.1 399.2h1M149.0 401.0h1M154.1 394.3h1M149.6 425.7h1M159.8 385.7h1M150.2 413.2h1M148.0 422.6h1M148.6 417.4h1M145.5 420.9h1M160.7 399.6h1M152.9 411.4h1M155.7 428.8h1M150.8 397.2h1M150.7 410.0h1M158.2 399.2h1M145.1 426.4h1M150.2 396.7h1M152.2 391.5h1M146.0 436.6h1M152.3 421.1h1M146.5 423.5h1M155.4 411.2h1M150.3 425.5h1M156.9 401.1h1M147.7 424.8h1M152.2 404.3h1M155.1 403.5h1M152.7 418.1h1M148.2 417.1h1M157.7 397.3h1M144.7 425.2h1M143.1 422.5h1M145.5 417.8h1M155.1 412.1h1M151.4 415.5h1M152.8 430.3h1M152.3 403.6h1M157.1 404.5h1M158.6 401.5h1M154.9 411.8h1M146.7 418.4h1M144.9 433.8h1M152.1 400.1h1M149.0 406.9h1M152.4 406.1h1M160.4 398.0h1M146.0 413.2h1M162.4 393.7h1M152.7 394.4h1M155.1 402.3h1M155.2 388.1h1M145.5 421.3h1M157.7 391.6h1M150.2 406.2h1M159.6 402.0h1M158.8 395.8h1M154.4 406.0h1M151.4 411.5h1M140.9 425.6h1M152.0 406.8h1M145.0 418.9h1M153.6 416.4h1M149.7 423.8h1M163.0 393.7h1M155.6 406.0h1M157.0 398.9h1M148.4 419.9h1M149.8 424.7h1M158.1 390.8h1M150.4 421.2h1M153.8 392.4h1M152.3 411.4h1M159.9 423.6h1M151.1 399.3h1M149.6 414.3h1M148.3 414.9h1M144.9 408.4h1M158.1 399.7h1M148.9 421.2h1M148.6 430.8h1M157.5 408.9h1M156.1 419.4h1M147.3 416.9h1M155.2 417.6h1M156.9 397.9h1M148.3 415.8h1M151.9 421.1h1M154.4 398.7h1M155.4 421.9h1M157.5 397.2h1M155.1 400.3h1M150.7 426.3h1M153.3 421.6h1M156.1 406.6h1M152.8 399.8h1M159.9 399.5h1M158.8 399.4h1M152.9 402.0h1M148.5 402.6h1M153.9 397.0h1M146.5 412.7h1M146.0 429.2h1M149.6 417.2h1M144.6 405.4h1M156.5 391.0h1M155.0 407.8h1M149.4 415.3h1M153.3 390.0h1M154.9 413.7h1M145.5 427.0h1M147.2 410.1h1M145.4 416.1h1M146.7 428.1h1M157.4 404.0h1M157.9 407.9h1M157.5 394.4h1M142.5 432.7h1M153.5 400.5h1M151.3 398.7h1M147.7 418.3h1M144.3 415.3h1M153.2 407.7h1M151.6 417.3h1M146.2 419.2h1M156.9 389.1h1M143.8 425.1h1M145.6 414.3h1M148.1 416.5h1M160.3 389.0h1M155.8 412.9h1M148.6 411.0h1M161.3 393.7h1M148.3 418.1h1M159.6 398.1h1M150.0 418.2h1M152.5 391.1h1M154.5 390.4h1M151.9 394.0h1M158.6 387.7h1M157.5 397.1h1M158.4 391.1h1M155.4 404.4h1M158.3 390.5h1M156.1 388.0h1M159.1 391.6h1M158.2 398.0h1M154.3 393.3h1M157.3 395.4h1M157.5 393.0h1M156.4 391.3h1M160.0 405.7h1M162.4 390.5h1M156.2 390.7h1M156.2 390.9h1M150.6 397.6h1M156.9 394.7h1M156.0 396.8h1M150.8 396.4h1M158.2 385.6h1M159.1 394.2h1M155.1 392.2h1M156.2 391.8h1M154.4 387.2h1M159.6 388.9h1M152.7 391.5h1M156.4 392.9h1M157.5 392.8h1M158.7 392.5h1M156.9 387.7h1M153.8 391.4h1M157.2 388.7h1M158.5 396.2h1M158.3 390.5h1M160.5 389.1h1M152.6 398.8h1M154.4 391.1h1M152.5 395.6h1M160.5 387.2h1M159.1 400.6h1M159.4 395.8h1M154.7 399.0h1M157.5 387.4h1M157.6 397.4h1M154.7 392.9h1M157.7 391.2h1M159.2 393.2h1M158.0 386.5h1M154.2 397.6h1M151.0 395.7h1M156.5 395.2h1M157.8 389.3h1M156.5 395.3h1M156.0 390.0h1M155.2 398.0h1M159.4 396.7h1M157.1 396.9h1M157.7 394.8h1M154.4 396.9h1M157.8 396.2h1M154.3 392.8h1M153.5 394.8h1M156.3 391.8h1M160.9 384.5h1M157.9 389.9h1M161.7 393.5h1M156.9 399.3h1M156.4 390.2h1M153.1 390.5h1M155.6 400.1h1M161.6 386.5h1M158.3 401.6h1M159.5 391.8h1M159.4 387.5h1M157.3 397.1h1M156.7 400.6h1M157.7 385.9h1M159.3 398.8h1M158.7 390.7h1M158.8 398.7h1M157.8 390.6h1M139.1 416.8h1M176.5 439.7h1M148.7 441.8h1M133.7 443.1h1M168.1 452.9h1M181.4 456.3h1M108.0 454.3h1M189.8 452.1h1M152.4 444.6h1M118.2 449.1h1M117.1 453.7h1M140.7 452.7h1M151.4 411.5h1M135.1 454.2h1M162.1 452.1h1M185.2 450.2h1M151.9 413.8h1M132.5 439.5h1M123.3 450.0h1M141.7 452.5h1M160.4 456.3h1M181.1 419.3h1M184.2 431.9h1M172.4 451.2h1M178.7 425.3h1M161.7 455.5h1M185.4 423.2h1M116.6 435.9h1M159.0 455.2h1M160.2 453.6h1M181.0 445.4h1M157.5 404.8h1M188.4 456.4h1M148.6 455.7h1M133.8 455.7h1M112.2 450.6h1M149.0 445.1h1M131.7 444.9h1M166.9 455.7h1M138.0 431.1h1M178.1 456.2h1M166.5 452.1h1M140.7 447.6h1M127.4 450.4h1M127.1 432.8h1M127.7 435.3h1M138.6 442.2h1M103.4 448.2h1M177.2 455.9h1M124.5 435.4h1M117.4 453.8h1M139.4 430.8h1M110.4 455.0h1M161.0 444.7h1M134.4 436.1h1M138.3 442.9h1M141.6 417.4h1M134.1 448.4h1M139.4 433.7h1M125.9 456.4h1M126.1 422.4h1M169.1 406.7h1M175.1 419.8h1M147.6 447.7h1M127.7 441.9h1M155.8 443.5h1M173.1 448.9h1M116.2 447.5h1M157.6 448.1h1M161.7 442.2h1M130.5 420.2h1M106.6 444.7h1M128.4 449.5h1M145.6 425.8h1M186.4 454.2h1M106.8 443.7h1M145.0 439.5h1M184.5 412.1h1M155.1 394.1h1M146.2 455.0h1M104.1 452.1h1M156.8 447.4h1M127.7 440.3h1M156.3 450.6h1M117.7 450.2h1M110.2 449.0h1M119.2 442.7h1M108.6 447.8h1M145.6 447.8h1M135.2 445.0h1M173.0 455.5h1M141.0 416.4h1M145.1 452.2h1M161.7 443.8h1M175.7 414.8h1M149.5 430.9h1M151.5 446.8h1M145.1 451.9h1M175.9 426.3h1M156.8 437.5h1M161.1 442.4h1M117.7 436.7h1M158.1 455.6h1M111.7 452.7h1M170.9 448.1h1M144.1 449.4h1M138.1 442.7h1M149.4 447.5h1M171.3 452.9h1M153.3 441.0h1M142.5 414.8h1M142.9 422.4h1M188.8 436.3h1M148.1 441.7h1M139.0 452.9h1M179.1 451.5h1M169.5 427.6h1M184.4 448.8h1M148.8 444.2h1M157.2 429.1h1M177.3 442.7h1M117.1 454.1h1M146.5 448.3h1M126.0 453.8h1M131.8 450.9h1M134.3 452.9h1M118.3 453.1h1M125.1 427.2h1M160.7 396.2h1M111.7 452.3h1M177.0 447.2h1M152.4 436.8h1M102.3 454.9h1M178.7 393.0h1M115.3 445.2h1M156.4 421.8h1M161.4 401.5h1M179.8 445.5h1M141.3 445.0h1M122.9 451.8h1M123.5 452.0h1M154.4 453.2h1M184.4 450.5h1M126.8 453.9h1M150.5 439.6h1M163.4 429.1h1M180.3 405.3h1M118.9 452.1h1M182.1 449.7h1M165.5 455.1h1M155.5 446.6h1M111.4 454.8h1M102.4 455.5h1M179.8 456.1h1M171.4 440.5h1M144.3 455.9h1M113.3 437.1h1M167.1 448.8h1M148.4 431.1h1M184.7 455.6h1M163.4 456.4h1M148.7 418.6h1M181.4 439.4h1M110.8 454.5h1M120.1 451.9h1M116.7 440.8h1M107.6 448.8h1M126.0 447.9h1M116.8 435.4h1M142.3 437.9h1M179.7 443.7h1M185.5 452.2h1M148.0 443.4h1M158.2 454.8h1M107.4 444.4h1M144.4 447.1h1M112.0 449.7h1M128.0 456.4h1M124.1 454.4h1M172.0 455.6h1M115.3 455.6h1M145.2 442.8h1M149.6 455.9h1M183.1 433.9h1M124.9 438.3h1M160.0 446.2h1M163.2 451.5h1M107.4 454.4h1M164.3 445.3h1M130.4 433.3h1M176.1 423.1h1M115.9 440.1h1M176.7 445.0h1M103.2 450.6h1M114.0 451.5h1M167.5 422.4h1M118.4 434.9h1M146.7 427.2h1M173.9 445.7h1M165.9 440.7h1M187.8 439.3h1M121.7 432.7h1M177.9 445.6h1M146.2 450.6h1M112.1 452.7h1M124.5 445.9h1M105.9 450.1h1M167.7 439.9h1M146.9 415.1h1M178.1 442.0h1M150.6 429.9h1M135.7 455.9h1M106.2 451.6h1M138.3 441.6h1M181.9 454.7h1M149.5 455.7h1M137.3 440.8h1M151.8 446.0h1M146.2 448.6h1M153.3 419.8h1M111.9 442.7h1M107.0 449.7h1M173.6 425.6h1M117.5 450.9h1M149.6 440.8h1M141.2 419.7h1M113.3 451.6h1M141.0 435.2h1M120.9 453.2h1M159.6 454.9h1M123.8 452.3h1M157.4 454.4h1M145.8 424.2h1M181.0 424.7h1M183.6 396.3h1M148.2 447.0h1M188.4 389.6h1M115.5 442.4h1M121.5 444.3h1M136.2 445.1h1M142.1 453.4h1M172.4 448.6h1M136.1 450.9h1M160.7 407.2h1M114.2 445.6h1M178.5 423.2h1M113.2 454.4h1M122.0 452.6h1M151.1 424.0h1M118.6 452.9h1M149.7 432.1h1M164.2 440.0h1M133.9 447.0h1M99.2 443.4h1M120.4 426.0h1M177.8 438.0h1M155.5 447.4h1M164.0 437.4h1M133.2 440.4h1M141.3 448.1h1M116.6 447.7h1M117.1 453.7h1M180.8 447.6h1M105.9 445.4h1M163.1 440.8h1M142.4 441.1h1M121.2 444.1h1M108.2 454.9h1M104.6 454.2h1M121.3 430.4h1M165.8 421.7h1M185.3 448.7h1M143.9 447.2h1M145.0 404.2h1M141.3 447.0h1M168.0 445.7h1M169.5 387.1h1M145.8 456.0h1M131.9 432.9h1M144.9 406.7h1M153.4 453.4h1M161.1 440.4h1M180.1 405.0h1M156.5 443.0h1M189.9 416.7h1M157.3 443.8h1M118.7 437.2h1M118.7 446.0h1M159.1 442.5h1M159.7 431.8h1M152.2 451.2h1M137.7 441.3h1M182.1 424.4h1M123.8 423.6h1M175.8 438.9h1M139.3 443.9h1M98.6 452.4h1M119.9 445.9h1M150.0 434.2h1M149.0 405.6h1M122.1 455.0h1M175.0 428.9h1M159.9 441.7h1M162.8 447.5h1M188.6 455.7h1M183.7 449.4h1M198.4 455.3h1M193.7 448.2h1M134.8 426.5h1M186.3 430.0h1M200.8 451.3h1M193.0 438.3h1M153.8 435.5h1M173.5 452.2h1M199.8 454.9h1M194.8 434.2h1M197.0 450.7h1M196.0 405.4h1M155.0 408.0h1M171.2 451.7h1M163.0 440.7h1M191.3 420.8h1M201.0 430.4h1M201.2 433.5h1M196.1 450.3h1M194.8 440.5h1M191.3 449.1h1M192.8 451.3h1M179.8 455.8h1M179.9 453.3h1M198.1 455.1h1M190.7 454.0h1M199.7 433.8h1M196.2 446.0h1M197.7 439.0h1M190.3 453.5h1M183.3 455.0h1M198.6 408.4h1M198.8 441.7h1M186.0 449.2h1M180.4 437.0h1M197.5 449.2h1M201.2 448.5h1M201.3 442.3h1M191.9 449.5h1M198.4 451.2h1M192.9 450.0h1M199.5 446.7h1M186.0 453.1h1M192.1 450.2h1M200.2 422.4h1M194.9 449.4h1M194.4 446.1h1M180.7 445.5h1M190.0 441.7h1M194.0 442.6h1M193.3 452.8h1M201.2 445.8h1M185.9 433.5h1M192.7 417.9h1M192.2 453.9h1M196.6 456.1h1M187.6 435.7h1M132.5 447.8h1M200.4 454.5h1M200.1 450.6h1M193.8 439.5h1M168.0 416.8h1M190.8 404.6h1M201.1 454.9h1M182.5 451.5h1M199.8 449.8h1M188.9 452.7h1M174.2 409.4h1M187.5 440.4h1M189.4 452.1h1M178.7 449.5h1M188.7 437.9h1M196.4 430.7h1M197.8 456.4h1M197.1 408.9h1M158.0 452.3h1M189.5 449.6h1M198.8 452.9h1M182.9 434.2h1M161.0 435.7h1M188.1 444.1h1M184.3 448.7h1M193.5 419.7h1M192.8 441.2h1M195.0 447.3h1M197.2 445.2h1M190.4 449.6h1M179.5 446.6h1M196.0 452.9h1M191.5 443.0h1M201.2 422.2h1M129.9 424.8h1M191.0 452.0h1M200.0 425.9h1M157.0 456.3h1M183.3 439.5h1M193.2 455.7h1M195.9 454.8h1M160.5 448.5h1M196.1 426.3h1M186.0 444.4h1M191.6 451.0h1M178.7 437.4h1M189.1 451.6h1M198.2 451.8h1M189.5 451.1h1M180.5 445.1h1M197.8 418.5h1M199.1 448.8h1M157.0 447.6h1M192.1 456.1h1M182.9 423.8h1M183.8 454.7h1M176.9 442.0h1M171.1 421.4h1M191.8 452.0h1M188.4 423.4h1M199.7 441.3h1M201.8 456.3h1M199.8 452.3h1M201.1 429.7h1M197.7 454.4h1M189.6 454.3h1M200.2 451.3h1M199.3 447.9h1M201.6 448.1h1M170.4 431.9h1M198.5 440.3h1M197.3 438.6h1M163.5 452.3h1M196.9 431.2h1M183.3 415.1h1M188.3 443.8h1M190.7 440.3h1M194.9 433.9h1M186.3 442.9h1M195.5 456.4h1M199.7 453.1h1M193.9 410.2h1M152.0 430.7h1M180.2 416.9h1M196.6 417.3h1M190.7 437.9h1M186.5 413.3h1M197.3 450.0h1M201.0 442.2h1M163.7 442.6h1M189.6 435.1h1M194.9 430.7h1M184.7 454.4h1M190.4 435.3h1M198.8 399.3h1M201.9 421.7h1M190.9 445.1h1M183.8 416.8h1M183.0 448.1h1M195.6 439.7h1M160.9 449.6h1M143.1 403.5h1M165.2 444.2h1M198.8 440.8h1M192.0 444.8h1M199.2 440.9h1M196.5 419.1h1M186.7 430.5h1M196.6 427.6h1M162.2 412.0h1M194.3 429.4h1M177.5 422.2h1M194.2 444.4h1M195.1 452.3h1M172.3 452.0h1M196.9 410.2h1M187.2 449.8h1M196.3 439.5h1M191.3 452.1h1M190.6 416.6h1M186.5 403.0h1M185.7 424.1h1M197.3 454.7h1M187.6 443.9h1M173.2 445.1h1M182.1 439.8h1M187.9 451.3h1M184.7 446.7h1M199.6 431.1h1M188.9 387.6h1M191.3 432.2h1M169.5 414.9h1M201.8 446.5h1M181.7 439.9h1M190.6 406.7h1M199.9 456.2h1M169.1 451.9h1M188.7 456.4h1M169.1 454.6h1M183.8 454.5h1M163.9 450.8h1M190.5 448.0h1M189.9 442.7h1M181.2 442.0h1M178.6 435.3h1M175.8 401.3h1M192.7 444.1h1M182.0 424.8h1M135.0 456.1h1M188.4 396.7h1M186.3 437.8h1M186.3 415.6h1M196.0 452.7h1M189.3 385.1h1M196.9 449.0h1M192.9 454.0h1M169.6 444.2h1M192.3 442.6h1M166.3 452.1h1M201.0 426.9h1M201.2 449.4h1M200.6 446.8h1M193.2 455.0h1M196.3 451.5h1M185.7 401.3h1M200.9 442.9h1M180.8 441.6h1M151.4 430.5h1M194.6 448.7h1M185.9 456.4h1M185.3 453.6h1M195.9 453.3h1M164.4 442.3h1M196.8 451.1h1M199.1 444.7h1M190.8 456.0h1M179.4 451.4h1M199.6 454.7h1M192.0 436.9h1M181.3 437.5h1M201.0 425.1h1M181.2 455.2h1M190.9 429.3h1M189.0 428.2h1M157.7 388.0h1M185.0 452.3h1M201.4 443.7h1M173.6 452.5h1M180.0 432.6h1M197.9 442.5h1M195.7 448.3h1M172.0 424.4h1M201.5 453.8h1M182.9 453.1h1M197.0 449.4h1M183.0 431.3h1M183.5 450.8h1M199.9 450.1h1M192.2 451.6h1M191.6 454.4h1M193.8 437.6h1M188.4 456.1h1M175.2 453.5h1M182.6 449.3h1M167.4 436.0h1M201.9 445.7h1M189.5 450.6h1M198.8 447.9h1M197.0 397.3h1M196.0 432.8h1M201.8 407.7h1M194.5 453.9h1M191.4 446.1h1M177.0 446.7h1M191.8 441.1h1M198.6 438.6h1M183.3 423.7h1M184.6 434.8h1M198.3 405.8h1M194.9 453.7h1M185.2 420.1h1M178.5 408.0h1M200.8 451.6h1M200.8 452.5h1M159.2 440.0h1M185.7 455.7h1M190.5 421.4h1M197.0 452.5h1M200.0 440.8h1M130.1 450.2h1M200.5 421.6h1M179.7 415.3h1M193.8 438.6h1M195.2 450.2h1M197.4 443.7h1M191.2 436.2h1M193.4 438.1h1M191.7 422.6h1M196.6 435.6h1M197.6 416.5h1M183.4 456.2h1M153.5 446.5h1M201.9 430.0h1M189.6 454.3h1M199.9 454.2h1M186.2 408.1h1M197.8 416.3h1M201.4 448.9h1M190.7 451.1h1M197.2 428.9h1M174.2 440.5h1M198.8 445.1h1M155.6 410.7h1M179.7 443.5h1M200.5 404.5h1M190.3 438.4h1M197.8 451.0h1M195.0 430.4h1M189.6 456.0h1M152.9 455.4h1M189.4 451.4h1M161.7 416.0h1M193.5 399.9h1M200.1 448.2h1M193.0 450.8h1M188.0 426.6h1M121.9 442.8h1M184.8 435.5h1M182.6 438.3h1M185.2 440.4h1M197.8 444.9h1M194.8 454.6h1M198.1 454.5h1M186.8 444.4h1M158.3 445.9h1M185.6 436.1h1M196.8 435.0h1M167.1 444.7h1M179.3 438.1h1M139.9 451.7h1M189.7 452.2h1M184.1 453.2h1M195.8 448.9h1M188.7 443.8h1M200.2 441.3h1M198.7 448.4h1M200.8 424.0h1M201.9 419.4h1M201.2 432.1h1M187.3 439.4h1M195.7 435.0h1M192.3 450.5h1M197.8 435.8h1M187.9 450.2h1M175.9 453.7h1M191.9 448.7h1M200.2 453.7h1M185.1 389.5h1M198.8 439.7h1M172.0 453.0h1M170.6 454.2h1M199.0 448.8h1M154.3 399.3h1M198.1 429.0h1M188.1 428.6h1M183.9 449.5h1M171.3 432.7h1M199.8 455.7h1M193.8 413.9h1M181.9 452.3h1M184.1 446.7h1M192.1 423.3h1M194.4 441.0h1M196.6 453.2h1M199.6 456.3h1M201.2 426.9h1M181.2 456.1h1M187.2 408.9h1M184.1 435.7h1M173.0 453.9h1M198.9 435.2h1M198.0 450.0h1M187.6 452.4h1M192.9 424.7h1M183.3 454.4h1M200.2 448.4h1M195.6 442.6h1M198.4 446.8h1M200.3 453.2h1M184.9 429.7h1M200.0 455.7h1M188.4 397.7h1M172.7 439.9h1M157.9 422.6h1M193.4 447.1h1M184.8 448.7h1M182.0 449.1h1M200.2 430.6h1M196.7 448.7h1M197.6 445.7h1M157.6 448.3h1M194.8 456.4h1M201.3 447.7h1M187.2 446.8h1M166.7 439.8h1M140.6 441.3h1M162.3 451.3h1M176.5 455.7h1M181.5 442.8h1M187.0 450.0h1M197.5 444.5h1M198.0 451.2h1M200.2 442.1h1M178.1 409.3h1M155.2 434.6h1M196.2 439.6h1M193.8 438.8h1M181.4 443.3h1M200.7 452.3h1M195.6 433.5h1M189.3 436.9h1M157.9 455.7h1M201.7 454.5h1M197.8 455.5h1M199.5 456.4h1M174.2 427.9h1M180.7 443.9h1M179.6 418.3h1M176.8 442.1h1M170.7 435.1h1M200.0 444.5h1M195.2 439.0h1M150.6 429.5h1M200.2 424.6h1M185.2 419.4h1M199.9 415.8h1M198.9 438.6h1M195.0 452.2h1M178.3 438.2h1M175.7 433.9h1M195.4 426.0h1M164.8 449.2h1M177.2 427.8h1M158.0 450.0h1M176.5 442.0h1M193.0 433.4h1M158.4 446.6h1M192.0 448.7h1M174.9 440.3h1M187.7 410.6h1M170.8 405.7h1M190.9 450.9h1M200.6 448.6h1M155.9 432.4h1M183.5 428.1h1M189.3 439.5h1M201.6 445.1h1M139.1 454.6h1M181.1 425.5h1M158.2 429.3h1M197.7 438.8h1M164.0 452.0h1M176.7 408.5h1M146.4 440.0h1M200.1 454.4h1M181.5 431.3h1M158.5 445.4h1M189.1 411.7h1M176.7 426.7h1M198.7 444.8h1M202.0 434.9h1M196.6 449.4h1M199.7 431.2h1M192.3 414.9h1M173.1 453.9h1M167.9 435.4h1M196.1 420.9h1M189.2 447.1h1M200.6 452.8h1M168.3 436.2h1M149.9 452.3h1M191.4 435.3h1M168.1 452.9h1M201.6 446.2h1M148.2 438.5h1M197.1 431.5h1M183.8 398.1h1M172.7 418.2h1M199.3 445.7h1M183.8 438.7h1M196.0 447.7h1M201.2 410.1h1M184.4 453.4h1M181.6 393.1h1M194.1 442.5h1M193.9 432.6h1M196.6 427.6h1M201.1 429.5h1M185.0 450.1h1M194.2 428.3h1M201.9 450.0h1M194.0 407.1h1M200.8 449.4h1M188.2 453.9h1M195.1 450.8h1M188.4 446.1h1M195.5 433.5h1M196.4 407.6h1M201.7 412.5h1M194.8 422.9h1M186.6 431.4h1M201.5 426.6h1M187.0 426.9h1M178.0 430.9h1M191.2 451.7h1M192.7 455.4h1M192.2 409.9h1M184.3 429.3h1M183.6 431.5h1M185.4 444.6h1M175.7 443.7h1M197.2 422.3h1M193.0 441.9h1M190.1 444.5h1M167.5 454.2h1M196.9 452.4h1M174.4 447.7h1M201.3 419.9h1M198.3 445.7h1M163.9 453.7h1M162.5 454.4h1M200.4 446.7h1M186.5 437.3h1M182.3 455.7h1M199.9 395.7h1M198.8 451.6h1M182.3 451.2h1M200.6 448.2h1M187.1 451.7h1M201.7 423.1h1M190.6 448.5h1M195.5 450.9h1M201.1 394.3h1M142.4 403.6h1M191.0 448.0h1M188.1 418.2h1M195.5 432.9h1M178.7 446.5h1M178.6 450.4h1M180.2 452.6h1M196.9 397.7h1M201.9 397.9h1M176.7 431.9h1M171.0 439.6h1M176.3 452.6h1M183.1 452.5h1M199.5 447.8h1M184.9 422.9h1M195.1 443.1h1M201.2 454.5h1M184.8 455.7h1M188.1 434.3h1M195.2 442.9h1M183.8 438.9h1M172.3 418.8h1M177.1 419.1h1M197.4 451.4h1M170.5 452.8h1M185.4 442.9h1M182.5 405.6h1M200.5 456.3h1M195.2 445.2h1M196.9 449.4h1M176.3 451.6h1M185.2 444.5h1M140.6 444.9h1M123.3 445.4h1M184.8 455.1h1M190.7 456.3h1M183.6 438.1h1M142.5 444.3h1M196.3 408.9h1M197.8 446.3h1M193.0 422.8h1M151.0 429.4h1M179.1 443.8h1M174.0 416.6h1M199.6 451.2h1M184.4 449.2h1M200.5 428.7h1M166.5 436.0h1M201.0 454.4h1M164.0 434.8h1M200.9 400.3h1M201.9 441.6h1M183.4 450.4h1M200.9 442.3h1M179.4 439.8h1M201.7 454.2h1M170.9 436.2h1M190.6 405.7h1M185.1 455.4h1M202.0 448.5h1M200.9 444.2h1M199.6 449.6h1M195.3 441.2h1M192.8 452.4h1M132.7 419.6h1M182.7 425.8h1M176.8 435.4h1M191.1 427.6h1M196.8 427.9h1M160.9 448.7h1M166.1 444.1h1M191.6 433.4h1M187.7 435.1h1M155.6 449.3h1M197.2 442.9h1M199.5 453.2h1M198.0 452.8h1M200.1 454.5h1M197.9 450.0h1M198.8 453.5h1M175.0 388.4h1M193.9 428.4h1M191.8 442.7h1M196.5 454.6h1M191.6 400.5h1M145.1 435.5h1M187.4 429.9h1M180.9 444.4h1M200.0 406.5h1M200.8 427.9h1M194.5 438.7h1M162.0 406.6h1M192.8 452.6h1M176.9 421.0h1M199.8 425.5h1M201.0 447.0h1M196.0 442.9h1M179.4 453.7h1M197.0 439.9h1M185.3 437.6h1M199.7 441.7h1M179.8 453.9h1M171.0 452.2h1M199.2 443.6h1M186.3 454.3h1M173.8 445.5h1M196.9 425.1h1M195.2 429.7h1M170.5 455.0h1M199.5 444.6h1M197.1 449.4h1M180.0 408.5h1M189.9 428.3h1M183.8 445.2h1M194.7 424.8h1M190.1 442.3h1M196.6 433.3h1M197.9 455.9h1M186.2 449.4h1M195.9 423.0h1M199.2 453.4h1M191.5 449.8h1M194.8 440.0h1M197.6 454.7h1M200.4 439.5h1M182.3 438.8h1M151.4 406.9h1M148.7 452.7h1M200.1 439.5h1M186.0 395.5h1M159.5 425.0h1M181.9 448.5h1M186.5 433.8h1M196.2 448.7h1M196.9 444.1h1M188.9 454.9h1M193.8 424.5h1M166.7 435.2h1M197.1 439.2h1M187.8 453.2h1M187.4 400.7h1M180.7 446.3h1M187.0 428.8h1M188.1 426.2h1M169.0 455.4h1M185.7 451.5h1M193.5 450.1h1M174.3 425.4h1M160.8 450.5h1M195.3 450.2h1M193.5 440.7h1M127.4 423.7h1M182.8 415.0h1M177.3 403.3h1M189.8 454.4h1M193.9 451.5h1M180.9 445.4h1M188.7 390.8h1M187.4 450.1h1M180.0 453.6h1M179.0 441.7h1M188.2 453.7h1M167.8 431.5h1M185.4 447.2h1M199.8 443.2h1M179.3 450.3h1M155.5 425.2h1M194.7 455.7h1M169.8 437.5h1M195.8 416.8h1M192.1 451.8h1M198.9 444.2h1M202.0 431.3h1M198.0 451.7h1M180.1 450.5h1M187.4 455.6h1M177.5 448.1h1M192.4 445.0h1M193.1 454.6h1M186.2 454.5h1M197.2 449.3h1M166.8 425.1h1M201.8 452.4h1M187.0 453.6h1M188.5 447.9h1M195.2 423.6h1M191.5 429.3h1M173.7 437.0h1M188.9 443.0h1M172.3 440.1h1M143.7 401.4h1M145.9 397.8h1M187.3 450.4h1M198.9 430.8h1M179.7 443.3h1M194.8 444.9h1M188.3 405.3h1M188.6 428.5h1M199.6 452.3h1M166.8 448.3h1M192.5 422.1h1M192.9 419.8h1M201.7 456.1h1M197.5 444.0h1M169.9 454.5h1M181.5 395.6h1M201.8 456.5h1M192.3 414.3h1M185.5 453.0h1M197.6 455.7h1M195.7 428.0h1M199.9 428.7h1M198.4 440.5h1M176.5 434.0h1M190.8 446.6h1M191.6 436.4h1M197.8 411.1h1M189.6 455.6h1M199.2 451.0h1M193.4 435.7h1M176.7 442.6h1M198.9 431.7h1M189.5 433.9h1M201.8 429.7h1M180.3 447.8h1M194.9 423.9h1M181.7 442.4h1M199.6 453.0h1M200.7 436.9h1M145.8 411.5h1M172.2 448.7h1M195.2 432.8h1M188.1 387.6h1M198.2 448.2h1M190.9 431.3h1M177.2 447.9h1M186.3 405.3h1M188.7 427.8h1M155.5 447.3h1M194.0 436.1h1M198.5 451.6h1M201.0 445.9h1M185.3 436.3h1M194.5 452.4h1M173.6 449.3h1M199.8 424.9h1M157.5 443.0h1M194.1 446.4h1M174.2 444.8h1M199.6 425.9h1M196.3 453.7h1M198.6 405.4h1M189.1 429.3h1M180.2 442.0h1M196.7 431.2h1M190.2 448.5h1M198.9 454.9h1M170.3 427.8h1M195.0 444.4h1M190.4 445.4h1M197.7 401.2h1M191.5 451.4h1M183.6 435.0h1M193.5 423.6h1M174.5 397.4h1M193.8 423.4h1M195.7 450.4h1M186.6 439.7h1M161.0 444.9h1M179.2 452.8h1M166.1 452.2h1M193.9 452.9h1M187.7 437.8h1M192.8 442.8h1M120.4 431.7h1M150.7 449.2h1M194.0 455.8h1M185.5 410.9h1M188.4 450.5h1M195.0 438.7h1M199.5 449.1h1M180.4 456.4h1M201.7 450.1h1M158.6 451.4h1M199.6 451.5h1M183.7 447.4h1M201.4 395.8h1M176.7 414.9h1M162.8 445.1h1M197.0 456.1h1M174.3 445.6h1M195.5 449.0h1M196.8 448.0h1M168.2 437.7h1M199.7 454.0h1M188.8 392.5h1M199.3 454.4h1M197.3 420.7h1M198.6 420.8h1M184.1 441.4h1M166.7 422.0h1M199.0 438.6h1M201.2 455.8h1M196.5 452.7h1M201.6 445.8h1M185.4 426.0h1M198.9 451.4h1M176.7 436.7h1M196.0 456.2h1M182.5 433.7h1M189.1 448.2h1M174.1 416.0h1M140.7 438.3h1M172.4 451.0h1M184.1 454.2h1M196.3 435.6h1M171.3 430.7h1M194.1 452.2h1M185.3 438.6h1M194.2 456.2h1M138.4 449.7h1M190.4 442.9h1M177.2 438.4h1M201.2 447.1h1M200.2 437.2h1M157.9 437.6h1M193.5 447.8h1M199.8 447.7h1M201.8 447.4h1M198.5 453.9h1M201.0 419.4h1M201.1 426.1h1M192.4 450.8h1M192.6 444.5h1" stroke="#2457a7" stroke-width="1" fill="none" opacity="1"/>
<path d="M203.0 456.6 C200.0 437.0 201.5 420.0 209.0 412.0 C216.0 406.0 226.0 401.5 233.0 403.5 C239.5 406.0 239.5 426.0 238.0 436.0 C237.0 445.0 235.0 451.0 232.0 456.6 Z" fill="#2457a7"/>
<path d="M219.2 415.7h1M226.7 422.7h1M222.2 445.5h1M236.3 415.1h1M225.7 417.3h1M222.2 420.3h1M200.1 416.7h1M216.6 421.7h1M207.2 435.0h1M228.5 415.9h1M212.9 446.1h1M224.2 430.8h1M210.1 430.3h1M240.0 448.0h1M208.4 447.4h1M221.9 433.4h1M222.7 449.4h1M211.5 427.5h1M226.8 434.7h1M230.7 423.0h1M229.5 410.4h1M222.7 451.9h1M198.5 425.4h1M240.1 431.4h1M221.2 411.1h1M215.7 449.2h1M227.5 429.5h1M225.5 427.1h1M208.2 454.7h1M237.3 426.2h1M218.0 430.7h1M202.3 452.6h1M235.0 423.0h1M236.4 438.0h1M233.5 427.7h1M226.2 441.6h1M211.3 445.2h1M230.2 439.5h1M239.8 411.8h1M229.0 454.4h1M237.1 424.0h1M231.1 420.8h1M230.2 425.4h1M205.1 436.0h1M203.6 455.4h1M213.1 430.5h1M221.4 438.2h1M225.2 410.3h1M218.2 427.7h1M219.9 436.3h1M219.4 432.1h1M221.5 407.8h1M226.6 437.2h1M225.7 418.1h1M223.2 429.4h1M228.8 438.4h1M215.3 441.3h1M237.6 419.6h1M220.3 431.6h1M223.4 437.9h1M212.6 410.4h1M217.0 447.8h1M222.3 416.8h1M220.8 429.5h1M214.1 399.3h1M208.5 444.1h1M221.0 442.8h1M222.2 436.1h1M226.3 435.0h1M233.6 422.7h1M217.3 436.4h1M219.1 428.0h1M201.3 447.7h1M207.2 448.3h1M231.3 425.4h1M226.5 433.7h1M213.8 438.7h1M213.9 429.2h1M202.3 434.8h1M225.6 453.8h1M216.9 448.8h1M239.8 397.9h1M209.5 441.0h1M231.0 442.5h1M213.5 446.9h1M231.2 416.5h1M210.4 440.7h1M228.2 413.8h1M216.0 421.0h1M212.0 433.4h1M219.0 436.2h1M225.6 452.4h1M224.8 436.0h1M237.1 440.4h1M229.2 413.4h1M193.0 428.9h1M216.4 428.2h1M216.6 416.7h1M227.1 409.1h1M206.6 437.8h1M208.2 454.0h1M222.1 410.5h1M217.6 430.8h1M237.1 407.9h1M224.0 451.0h1M226.2 440.0h1M238.9 429.1h1M215.4 434.5h1M220.6 429.8h1M210.2 439.1h1M223.3 423.1h1M231.4 416.6h1M234.9 412.1h1M220.2 433.3h1M213.2 425.3h1M212.6 448.0h1M206.0 410.7h1M221.9 440.0h1M234.8 434.2h1M197.8 439.0h1M235.3 406.7h1M203.8 427.5h1M224.1 446.7h1M207.4 434.3h1M228.8 424.0h1M228.8 421.6h1M222.4 431.3h1M229.3 426.3h1M221.2 411.7h1M226.6 422.4h1M239.8 438.5h1M232.2 447.6h1M213.8 434.1h1M212.2 429.4h1M218.2 452.2h1M218.3 431.5h1M221.4 416.7h1M214.3 433.8h1M227.5 439.4h1M221.1 453.7h1M224.5 424.7h1M220.8 440.1h1M227.1 425.7h1M208.2 453.4h1M237.3 429.5h1M224.3 434.9h1M225.4 417.7h1M227.1 425.9h1M232.1 423.8h1M223.2 443.3h1M218.8 433.5h1M203.5 437.2h1M223.0 427.0h1M217.5 434.5h1M217.5 437.4h1M201.3 442.6h1M221.4 434.1h1M233.5 427.9h1M230.9 408.6h1M233.8 425.5h1M207.5 421.0h1M210.7 441.7h1M227.3 447.8h1M217.7 445.8h1M238.8 420.8h1M223.2 424.5h1M222.9 424.3h1M225.4 435.6h1M218.0 425.0h1M222.1 425.0h1M213.8 402.0h1M220.5 421.5h1M215.8 424.3h1M223.5 424.4h1M206.0 455.2h1M205.2 421.0h1M225.7 412.9h1M223.2 439.8h1M210.8 423.7h1M218.5 431.5h1M209.9 439.6h1M204.5 429.1h1M238.9 437.6h1M212.3 456.5h1M225.3 417.4h1M218.1 430.2h1M216.9 447.0h1M230.7 425.8h1M229.5 415.7h1M217.9 428.2h1M211.4 447.8h1M235.7 430.0h1M222.4 437.2h1M217.8 425.2h1M224.0 439.0h1M221.8 441.3h1M233.5 440.9h1M210.8 449.4h1M221.1 412.6h1M212.7 448.1h1M234.7 434.8h1M239.9 438.0h1M220.0 421.7h1M226.6 442.5h1M235.7 431.6h1M217.8 418.4h1M211.1 453.9h1M231.9 417.7h1M226.3 416.9h1M218.8 438.9h1M236.3 418.2h1M223.4 436.5h1M202.3 437.1h1M224.6 435.0h1M220.3 443.9h1M220.8 444.4h1M218.8 445.0h1M225.5 419.6h1M223.5 443.1h1M206.2 447.1h1M222.2 434.0h1M217.5 449.2h1M235.7 448.8h1M209.2 417.9h1M210.8 442.9h1M212.1 434.6h1M214.1 432.0h1M213.7 440.4h1M221.5 428.1h1M232.4 449.9h1M207.3 442.1h1M204.8 439.7h1M201.6 451.3h1M232.6 438.7h1M234.9 442.9h1M204.9 448.0h1M203.8 439.4h1M222.3 434.0h1M232.5 399.1h1M231.6 408.7h1M223.0 445.9h1M228.1 425.4h1M224.4 455.7h1M221.0 437.0h1M216.1 424.3h1M204.8 444.8h1M221.2 429.6h1M232.5 424.8h1M207.7 434.6h1M232.8 427.7h1M243.0 433.9h1M225.0 420.4h1M208.8 444.6h1M212.0 427.1h1M217.5 441.3h1M207.5 442.6h1M207.9 427.8h1M218.3 435.8h1M219.1 423.7h1M227.4 418.8h1M208.4 453.7h1M240.7 400.3h1M232.1 435.7h1M230.4 438.4h1M214.2 427.7h1M239.3 439.9h1M217.4 446.5h1M240.1 407.5h1M232.3 435.2h1M211.6 443.0h1M216.2 424.9h1M240.7 432.4h1M231.5 438.5h1M219.4 423.8h1M223.1 405.2h1M223.1 437.3h1M212.9 426.2h1M218.9 410.6h1M214.1 430.5h1M216.5 402.7h1M225.9 426.2h1M222.2 438.5h1M229.0 417.1h1M230.3 423.4h1M234.1 415.1h1M227.6 438.6h1M228.4 429.6h1M219.1 423.1h1M227.0 412.8h1M211.5 431.0h1M218.4 449.4h1M228.9 413.2h1M220.5 438.6h1M225.7 435.4h1M209.9 410.5h1M235.4 441.7h1M214.9 434.8h1M220.8 456.3h1M230.8 425.4h1M217.0 432.4h1M210.5 423.6h1M201.0 422.6h1M217.8 444.9h1M208.4 434.6h1M226.6 425.1h1M236.2 424.2h1M197.6 451.7h1M207.4 451.2h1M224.2 431.5h1M234.0 424.8h1M224.2 432.9h1M226.3 402.6h1M227.1 414.7h1M238.3 432.1h1M227.4 432.2h1M207.9 454.9h1M216.0 452.6h1M212.4 425.6h1M218.2 442.3h1M215.5 431.9h1M213.6 449.1h1M228.3 432.4h1M216.9 446.5h1M209.5 427.6h1M213.5 438.2h1M221.4 425.8h1M223.7 425.6h1M236.6 412.5h1M226.2 445.8h1M198.3 446.3h1M225.0 446.0h1M212.0 423.2h1M206.7 412.4h1M209.6 428.9h1M239.9 423.0h1M204.3 450.5h1M214.4 449.9h1M233.2 444.4h1M228.0 450.9h1M202.9 450.3h1M219.8 434.9h1M215.5 424.8h1M218.9 443.1h1M228.9 422.8h1M214.9 424.6h1M217.6 442.3h1M236.4 429.5h1M201.5 452.6h1M217.0 424.9h1M225.9 446.8h1M207.8 443.3h1M214.3 433.4h1M207.1 428.4h1M222.6 417.6h1M214.4 417.2h1M229.3 448.5h1M231.8 409.2h1M221.5 441.3h1M216.9 431.3h1M223.7 424.0h1M221.6 426.3h1M208.1 437.0h1M232.3 440.5h1M223.3 439.6h1M229.3 429.5h1M206.5 420.3h1M230.2 404.9h1M227.5 416.6h1M205.6 418.0h1M221.3 448.0h1M220.3 412.9h1M223.3 442.1h1M218.5 446.6h1M226.2 434.2h1M216.0 448.1h1M223.4 413.1h1M213.6 419.4h1M222.0 429.9h1M231.5 428.5h1M215.7 434.0h1M228.0 436.3h1M211.5 426.8h1M217.0 405.6h1M218.4 439.5h1M234.1 424.4h1M212.8 447.4h1M233.8 455.8h1M205.4 440.5h1M219.2 441.5h1M230.6 416.8h1M228.3 442.2h1M210.2 442.0h1M207.9 441.7h1M230.2 441.5h1M207.5 423.1h1M227.0 438.0h1M215.4 441.4h1M220.8 454.6h1M237.3 424.9h1M206.3 433.4h1M224.3 425.6h1M235.1 428.6h1M202.6 430.8h1M224.3 423.5h1M222.2 427.0h1M212.9 424.8h1M239.2 414.4h1M207.4 440.9h1M221.2 433.3h1M221.7 439.1h1M197.6 442.9h1M205.7 422.8h1M210.6 447.2h1M229.2 432.8h1M230.9 420.8h1M227.2 426.6h1M223.4 436.2h1M197.5 443.7h1M223.1 430.2h1M215.4 445.6h1M233.3 442.2h1M235.1 422.7h1M228.4 414.7h1M229.5 427.0h1M209.9 443.9h1M221.7 444.3h1M207.7 440.6h1M230.4 427.8h1M208.1 428.5h1M218.6 436.8h1M212.1 421.7h1M215.8 436.7h1M225.7 431.2h1M214.8 423.1h1M223.2 436.4h1M210.1 434.4h1M235.7 434.9h1M214.0 429.2h1M231.6 435.0h1M194.9 446.1h1M210.2 448.0h1M218.6 425.1h1M233.3 423.0h1M215.6 409.5h1M224.8 429.2h1M213.0 420.8h1M226.8 432.0h1M207.9 410.3h1M229.7 417.5h1M188.9 447.2h1M200.6 446.6h1M240.2 402.4h1M222.6 426.5h1M232.0 430.4h1M216.3 422.3h1M227.4 437.2h1M226.2 433.8h1M203.1 446.4h1M227.1 443.3h1M218.8 435.0h1M234.5 438.7h1M234.7 402.8h1M214.3 431.5h1M222.8 423.3h1M227.8 450.3h1M216.3 442.9h1M219.5 446.6h1M227.3 421.8h1M225.3 434.8h1M233.2 437.4h1M223.3 416.4h1M211.2 433.9h1M201.8 437.4h1M229.4 425.3h1M217.2 424.9h1M217.0 417.4h1M217.6 440.0h1M203.9 443.2h1M216.5 450.2h1M192.8 443.5h1M216.4 425.6h1M211.1 417.2h1M240.4 425.8h1M225.5 426.7h1M228.5 451.0h1M212.6 424.0h1M218.2 415.0h1M216.9 431.3h1M221.5 451.8h1M199.6 443.2h1M229.3 423.8h1M210.4 454.1h1M220.0 439.7h1M231.5 410.5h1M214.6 432.6h1M217.8 425.1h1M207.4 442.6h1M209.3 439.7h1M233.0 437.0h1M208.3 429.8h1M224.7 413.3h1M224.2 420.3h1M213.7 430.0h1M221.2 429.5h1M219.6 423.0h1M215.3 449.7h1M221.2 445.2h1M221.2 428.9h1M209.6 430.7h1M206.7 435.4h1M211.5 436.0h1M222.0 432.0h1M235.6 404.7h1M236.5 420.4h1M224.0 406.0h1M230.9 429.1h1M222.0 441.4h1M232.6 413.5h1M222.0 434.5h1M224.9 422.8h1M217.6 424.7h1M241.2 436.4h1M207.6 444.8h1M220.7 426.9h1M214.2 441.0h1M231.0 425.9h1M240.3 430.8h1M217.2 422.1h1M190.6 444.3h1M227.3 424.7h1M227.3 410.9h1M218.0 445.0h1M219.9 422.4h1M195.5 423.3h1M227.9 420.0h1M225.4 419.5h1M223.2 423.5h1M209.1 417.1h1M212.9 424.8h1M213.7 436.5h1M225.8 436.2h1M209.9 410.4h1M236.5 426.2h1M224.7 417.7h1M196.9 428.5h1M238.9 420.9h1M222.3 422.8h1M214.6 444.8h1M221.7 441.9h1M200.7 436.9h1M222.6 423.2h1M235.3 432.0h1M234.3 425.0h1M216.8 448.1h1M230.7 421.5h1M222.8 429.7h1M227.3 444.8h1M208.8 430.7h1M229.2 430.2h1M197.4 436.2h1M236.5 426.6h1M203.4 453.8h1M213.6 423.5h1M213.2 431.8h1M228.4 437.0h1M228.6 423.1h1M226.4 410.4h1M219.7 424.2h1M199.6 454.8h1M195.3 450.5h1M219.9 413.8h1M217.9 429.3h1M218.9 434.4h1M222.9 439.6h1M217.9 447.4h1M209.5 452.8h1M199.6 428.5h1M233.7 440.9h1M230.3 404.9h1M205.6 441.0h1M217.4 419.5h1M225.2 406.5h1M237.9 438.2h1M213.8 435.2h1M222.3 445.6h1M233.1 405.9h1M201.3 424.1h1M212.3 434.8h1M219.9 423.9h1M212.5 437.1h1M229.9 424.3h1M222.5 416.3h1M209.8 454.8h1M229.9 424.6h1M227.3 413.8h1M214.7 444.5h1M215.6 441.5h1M204.3 442.5h1M219.5 436.3h1M229.8 423.5h1M231.3 426.5h1M226.7 399.9h1M229.4 407.8h1M213.9 418.7h1M215.2 439.0h1M233.5 444.2h1M225.3 428.6h1M211.6 432.8h1M225.8 446.1h1M229.4 424.1h1M228.1 438.7h1M221.5 438.3h1M214.6 417.0h1M224.7 435.4h1M238.9 428.0h1M221.9 416.5h1M213.0 421.7h1M224.0 413.9h1M217.0 444.0h1M230.8 450.1h1M221.4 413.9h1M231.8 447.5h1M217.9 456.1h1M211.1 423.8h1M225.3 445.8h1M219.3 431.7h1M221.8 447.1h1M213.7 426.8h1M226.3 430.6h1M221.0 424.8h1M196.6 449.3h1M217.7 432.6h1M223.9 446.7h1M233.1 438.9h1M213.9 441.3h1M211.5 436.1h1M232.8 423.6h1M213.6 435.8h1M221.4 442.8h1M225.4 432.6h1M228.3 433.6h1M220.3 432.4h1M208.1 436.9h1M231.3 419.2h1M215.5 409.0h1M214.5 443.2h1M242.1 431.6h1M229.8 415.6h1M215.0 419.0h1M217.5 447.8h1M212.0 439.8h1M199.3 446.0h1M229.0 445.0h1M228.7 442.1h1M222.9 432.2h1M215.8 420.2h1M222.5 415.2h1M227.2 432.7h1M216.6 446.6h1M214.1 435.0h1M227.8 434.4h1M223.1 441.2h1M213.5 425.3h1M239.5 435.0h1M209.6 441.2h1M221.8 421.8h1M213.3 421.8h1M233.8 444.8h1M219.5 437.8h1M215.4 432.1h1M207.4 439.7h1M217.5 447.6h1M229.2 430.6h1M227.5 452.1h1M205.8 435.4h1M237.2 415.1h1M217.5 432.6h1M208.7 424.8h1M221.6 427.6h1M213.4 452.7h1M213.3 444.6h1M219.2 436.1h1M214.7 422.7h1M201.6 426.9h1M225.8 435.8h1M214.5 437.7h1M233.1 419.6h1M226.0 424.4h1M226.8 451.8h1M222.1 445.9h1M234.2 427.9h1M216.6 437.6h1M209.3 455.1h1M223.9 436.4h1M190.6 448.6h1M216.1 413.0h1M222.5 408.8h1M215.6 408.5h1M233.8 396.3h1M227.7 429.7h1M221.3 437.1h1M215.8 422.8h1M232.0 434.2h1M212.7 442.2h1M215.6 433.8h1M228.2 409.3h1M226.6 450.3h1M242.2 442.9h1M217.7 426.0h1M227.2 430.7h1M233.7 416.5h1M218.3 428.1h1M237.0 400.4h1M239.4 420.2h1M212.9 413.9h1M214.9 450.8h1M206.5 443.1h1M226.0 411.4h1M227.9 437.7h1M226.6 406.6h1M206.7 440.7h1M211.8 443.1h1M204.5 440.4h1M202.6 424.7h1M205.5 437.6h1M202.9 437.6h1M218.1 434.7h1M224.6 451.7h1M226.8 453.6h1M219.8 455.0h1M212.8 427.3h1M219.9 422.7h1M226.2 430.8h1M216.8 440.4h1M220.6 404.3h1M216.7 425.9h1M220.4 415.7h1M207.9 427.8h1M231.4 418.5h1M203.1 446.8h1M225.0 430.1h1M205.3 434.7h1M236.4 405.3h1M229.4 437.6h1M211.2 436.7h1M215.1 425.8h1M207.8 438.4h1M219.4 444.2h1M224.5 410.8h1M205.2 425.0h1M233.4 415.4h1M213.7 393.4h1M223.0 423.4h1M229.5 444.5h1M225.9 426.0h1M224.6 445.2h1M217.9 394.1h1M219.9 431.5h1M221.7 451.5h1M233.0 449.4h1M204.1 432.7h1M214.7 423.8h1M206.5 443.9h1M209.6 420.5h1M211.4 431.5h1M231.9 405.0h1M234.6 427.0h1M220.8 437.6h1M207.7 428.9h1M224.8 429.7h1M233.7 409.5h1M226.3 430.8h1M229.4 426.1h1M218.4 439.5h1M198.7 454.7h1M198.6 414.2h1M218.9 438.0h1M226.2 440.7h1M233.7 410.7h1M220.8 422.7h1M231.5 439.1h1M219.2 446.7h1M208.2 441.6h1M231.7 442.2h1M224.4 416.8h1M224.1 420.1h1M206.3 411.5h1M219.9 440.6h1M201.5 430.8h1M198.3 452.4h1M217.4 442.3h1M215.3 416.4h1M226.1 440.2h1M235.5 430.2h1M219.6 435.9h1M239.3 431.4h1M213.7 435.3h1M228.2 429.8h1M206.3 453.3h1M221.4 418.6h1M216.6 417.7h1M217.7 423.4h1M226.3 444.7h1M199.7 437.0h1M211.2 393.9h1M221.3 422.6h1M224.2 425.1h1M216.0 438.4h1M216.0 453.2h1M207.6 435.6h1M225.9 416.5h1M212.7 447.6h1M224.8 452.5h1M204.6 403.9h1M234.7 434.9h1M209.0 441.7h1M232.5 416.3h1M215.2 428.4h1M225.9 434.6h1M218.4 434.0h1M227.3 426.5h1M220.0 416.8h1M233.7 431.3h1M227.2 420.8h1M227.3 431.2h1M238.0 417.4h1M212.5 438.9h1M234.0 437.5h1M220.8 435.9h1M204.1 448.7h1M225.1 411.6h1M217.8 440.3h1M238.2 429.5h1M214.7 426.5h1M220.5 430.5h1M222.5 393.1h1M199.5 442.6h1M225.5 425.0h1M209.3 406.0h1M235.2 433.7h1M237.9 416.7h1M219.9 436.8h1M202.9 436.7h1M222.0 438.8h1M221.9 433.4h1M227.8 425.7h1M216.8 441.1h1M207.2 449.8h1M218.5 402.2h1M210.0 437.4h1M239.1 416.8h1M212.4 420.8h1M213.0 453.9h1M219.5 446.4h1M206.6 424.1h1M215.2 419.4h1M218.5 444.9h1M214.7 426.4h1M217.3 429.5h1M233.4 400.1h1M224.7 429.1h1M205.6 454.6h1M215.4 428.5h1M228.0 428.0h1M220.9 444.7h1M219.7 452.8h1M225.7 439.3h1M218.1 450.3h1M218.5 410.5h1M210.8 425.4h1M223.9 408.4h1M238.7 427.7h1M219.8 431.3h1M217.6 423.5h1M228.5 415.3h1M219.1 394.5h1M219.4 432.0h1M212.2 437.0h1M210.1 417.5h1M212.5 435.2h1M232.2 433.1h1M213.2 434.6h1M215.6 443.3h1M215.2 423.3h1M227.5 434.3h1M210.1 444.8h1M225.9 435.7h1M221.3 430.9h1M216.7 420.6h1M225.4 438.3h1M206.3 433.1h1M229.0 416.1h1M222.4 442.5h1M209.3 415.1h1M237.1 418.1h1M229.1 439.8h1M232.5 440.8h1M204.4 434.2h1M217.1 435.0h1M214.4 442.7h1M226.7 429.1h1M234.6 416.2h1M199.5 447.4h1M220.2 435.1h1M218.6 434.9h1M230.7 443.9h1M219.6 437.3h1M206.3 432.2h1M217.9 436.0h1M211.6 426.4h1M220.5 429.1h1M214.8 423.9h1M223.0 436.5h1M203.7 422.2h1M233.5 437.8h1M227.7 419.0h1M206.1 426.9h1M196.8 421.9h1M210.7 437.3h1M217.5 418.4h1M234.0 421.3h1M214.4 425.7h1M233.0 439.1h1M233.1 449.5h1M220.2 403.4h1M233.1 416.2h1M223.5 434.9h1M213.0 421.3h1M207.4 430.7h1M218.7 436.3h1M230.7 447.7h1M205.4 455.2h1M202.7 436.0h1M225.9 432.3h1M190.8 440.0h1M239.6 422.4h1M215.3 418.6h1M227.9 405.2h1M240.0 419.6h1M204.4 452.9h1M208.7 448.1h1M216.9 431.5h1M218.6 424.8h1M222.4 435.9h1M231.3 413.0h1M234.2 439.7h1M221.2 429.6h1M216.4 442.4h1M219.6 445.2h1M223.3 404.7h1M234.1 424.1h1M221.5 453.2h1M239.5 425.1h1M210.8 451.2h1M225.7 436.4h1M238.9 418.2h1M233.8 431.1h1M223.6 446.0h1M210.5 454.7h1M212.4 456.1h1M218.3 418.3h1M223.3 443.0h1M217.3 415.0h1M204.4 437.6h1M212.1 433.3h1M225.6 439.3h1M229.0 433.6h1M205.0 456.4h1M216.1 426.1h1M202.0 452.0h1M213.9 440.8h1M220.7 416.1h1M216.3 442.4h1M213.7 439.9h1M207.0 449.2h1M200.0 440.7h1M219.5 429.6h1M217.0 439.6h1M235.9 432.8h1M202.4 449.7h1M234.4 418.5h1M202.7 453.4h1M225.6 419.3h1M235.8 454.1h1M220.0 420.7h1M223.1 446.3h1M212.6 422.4h1M223.1 416.0h1M232.2 439.0h1M218.0 445.8h1M218.5 423.9h1M228.8 424.9h1M220.6 418.7h1M212.6 422.7h1M225.3 432.0h1M231.1 414.4h1M223.4 437.9h1M233.9 397.6h1M209.4 439.8h1M215.6 427.0h1M209.4 424.1h1M220.6 435.6h1M221.0 429.5h1M217.9 427.6h1M207.0 449.5h1M219.2 437.4h1M215.3 440.1h1M226.5 448.6h1M217.1 433.2h1M232.5 439.3h1M222.5 426.2h1M200.1 449.6h1M218.1 441.0h1M204.7 431.8h1M230.4 407.8h1M235.4 408.9h1M219.7 420.1h1M224.8 438.6h1M204.5 437.5h1M195.9 438.9h1M214.0 442.0h1M217.3 444.1h1M221.0 424.4h1M223.4 439.1h1M226.9 439.8h1M236.7 413.0h1M228.7 431.1h1M216.1 422.0h1M221.1 429.4h1M226.5 436.1h1M208.8 414.2h1M234.3 415.0h1M229.7 417.8h1M217.6 435.2h1M213.2 425.7h1M229.1 417.4h1M230.1 421.7h1M239.4 433.3h1M230.6 433.0h1M222.3 434.1h1M227.6 429.3h1M210.2 450.8h1M227.7 448.7h1M203.5 434.7h1M224.6 421.1h1M226.0 416.2h1M240.7 412.1h1M207.7 419.9h1M231.3 432.0h1M214.4 449.7h1M223.4 414.6h1M213.0 434.2h1M231.2 418.8h1M239.6 447.2h1M228.5 431.7h1M227.6 426.2h1M221.8 433.2h1M217.6 437.9h1M226.7 428.8h1M221.9 415.9h1M218.5 417.3h1M216.9 423.8h1M226.7 446.7h1M215.1 425.1h1M223.9 449.2h1M218.7 443.1h1M209.1 434.6h1M212.3 423.3h1M217.1 431.0h1M217.4 422.3h1M232.3 417.2h1M208.6 432.7h1M198.2 428.8h1M227.6 425.3h1M219.0 409.5h1M236.0 413.3h1M226.6 423.8h1M230.5 442.5h1M221.6 442.2h1M230.6 435.2h1M213.7 438.4h1M215.3 419.5h1M237.3 410.0h1M237.1 425.6h1M213.8 438.4h1M232.8 424.4h1M218.6 422.0h1M231.9 410.1h1M216.9 430.5h1M230.6 418.9h1M219.1 426.7h1M217.2 419.3h1M220.1 451.4h1M222.0 438.3h1M205.6 431.9h1M238.6 426.1h1M216.1 431.2h1M200.8 441.2h1M195.9 439.4h1M190.1 443.1h1M213.8 408.5h1M235.0 423.0h1M202.8 449.6h1M216.9 407.5h1M200.6 436.2h1M232.3 435.8h1M224.3 448.6h1M223.9 430.2h1M235.0 433.1h1M238.1 449.6h1M231.5 446.0h1M214.2 429.2h1M206.1 430.4h1M209.1 451.5h1M201.5 443.7h1M239.9 417.3h1M218.4 430.5h1M221.8 436.6h1M222.5 429.2h1M214.3 432.1h1M233.2 407.0h1M223.7 455.3h1M218.8 450.3h1M230.4 426.9h1M212.4 437.9h1M215.5 442.8h1M222.9 443.1h1M221.5 407.3h1M232.6 432.6h1M213.2 422.1h1M222.2 431.1h1M223.4 422.5h1M220.7 456.1h1M227.8 437.2h1M217.7 433.6h1M233.5 446.6h1M212.8 435.0h1M204.9 429.3h1M220.0 430.4h1M233.2 422.5h1M214.9 435.8h1M213.7 447.2h1M216.7 432.7h1M222.2 431.2h1M218.6 447.5h1M223.8 435.4h1M201.9 453.5h1M236.6 427.9h1M226.7 412.3h1M211.1 421.3h1M235.3 403.9h1M225.3 446.4h1M236.4 431.9h1M207.7 431.6h1M238.4 411.8h1M220.9 437.6h1M198.2 440.2h1M228.6 433.8h1M217.2 422.6h1M209.5 422.1h1M218.1 455.3h1M199.5 428.4h1M226.8 429.9h1M218.1 452.1h1M217.5 408.9h1M235.7 436.1h1M220.8 433.6h1M213.3 433.8h1M210.2 440.8h1M219.8 416.8h1M232.0 397.6h1M209.2 433.5h1M230.4 440.9h1M221.1 447.7h1M220.2 436.9h1M243.0 429.7h1M207.3 448.0h1M222.6 453.5h1M201.2 447.5h1M217.2 451.4h1M226.8 426.2h1M232.6 422.0h1M206.7 439.7h1M229.5 434.6h1M228.9 436.7h1M220.5 433.7h1M225.0 435.4h1M200.3 446.1h1M237.3 432.6h1M231.1 423.9h1M216.1 419.7h1M227.1 431.9h1M226.2 426.2h1M241.4 412.4h1M213.8 437.2h1M206.5 435.9h1M198.4 433.9h1M217.2 409.8h1M203.5 437.6h1M224.9 443.2h1M215.7 449.6h1M210.2 436.8h1M233.3 442.0h1M218.3 424.5h1M222.9 425.6h1M230.7 435.7h1M206.3 419.2h1M210.5 437.8h1M209.2 428.0h1M217.7 439.8h1M214.2 426.5h1M207.1 430.9h1M220.2 420.1h1M220.3 448.7h1M226.2 437.5h1M201.7 442.8h1M229.0 436.7h1M215.6 417.9h1M233.6 424.6h1M223.7 430.7h1M226.2 418.2h1M209.5 443.2h1M223.2 445.1h1M233.7 416.3h1M219.7 405.7h1M228.0 431.1h1M223.7 401.4h1M229.0 424.1h1M216.2 440.2h1M223.6 432.3h1M225.5 432.9h1M229.3 436.8h1M232.4 442.2h1M221.2 426.6h1M218.0 428.0h1M216.6 420.2h1M221.9 429.9h1M233.2 418.1h1M236.6 439.7h1M215.4 443.8h1M210.4 435.4h1M211.9 429.0h1M222.8 423.8h1M223.7 435.7h1M225.6 439.8h1M219.1 400.6h1M209.2 439.7h1M213.8 421.5h1M221.7 429.4h1M224.7 424.7h1M216.5 442.6h1M216.0 409.3h1M235.2 419.0h1M215.4 447.9h1M222.8 434.7h1M217.0 423.0h1M211.2 442.9h1M204.1 443.6h1M214.7 423.1h1M211.6 446.0h1M229.6 438.3h1M208.1 436.2h1M216.0 447.6h1M227.5 414.0h1M219.2 443.9h1M225.8 428.1h1M229.4 416.3h1M202.6 432.1h1M216.0 450.7h1M210.1 429.6h1M234.9 422.1h1M219.2 424.5h1M225.8 419.9h1M238.7 438.5h1M221.2 450.9h1M224.8 438.0h1M217.6 444.4h1M233.9 422.6h1M229.2 422.5h1M231.2 412.4h1M221.0 452.4h1M216.8 429.8h1M216.6 424.7h1M216.5 425.8h1M202.8 442.8h1M224.3 423.8h1M229.1 429.6h1M220.3 435.2h1M215.1 453.4h1M220.8 415.8h1M222.8 436.0h1M223.9 422.0h1M239.7 419.1h1M224.3 439.9h1M227.8 424.6h1M221.3 439.3h1M217.9 433.7h1M209.5 452.6h1M214.1 428.9h1M228.0 436.5h1M235.9 423.7h1M213.4 436.0h1M225.4 428.8h1M226.0 422.2h1M231.2 429.9h1M223.0 445.3h1M225.1 422.7h1M229.9 423.7h1M208.0 443.1h1M220.9 422.4h1M201.6 452.6h1M199.4 451.3h1M211.6 405.2h1M204.0 430.8h1M225.8 416.0h1M231.0 439.9h1M217.2 447.1h1M218.9 417.2h1M217.9 424.6h1M217.6 433.0h1M221.8 427.3h1M224.1 441.2h1M215.5 448.4h1M212.0 444.5h1M214.9 450.2h1M228.9 442.2h1M215.9 433.9h1M235.8 420.7h1M217.8 424.0h1M234.9 438.2h1M207.7 450.4h1M213.0 449.9h1M225.4 426.4h1M225.6 425.5h1M218.7 437.3h1M221.1 437.6h1M223.4 434.8h1M214.3 424.2h1M237.9 431.8h1M229.4 436.6h1M224.7 418.3h1M224.2 418.9h1M215.4 447.7h1M224.5 428.5h1M230.0 431.2h1M212.4 425.6h1M222.7 424.4h1M229.6 438.7h1M222.1 429.7h1M216.9 429.8h1M209.2 449.8h1M213.3 445.7h1M206.9 440.8h1M230.8 431.9h1M221.5 456.0h1M207.5 436.1h1M220.3 438.4h1M206.7 444.5h1M185.7 428.3h1M233.1 401.4h1M232.7 429.7h1M204.8 451.3h1M212.8 438.9h1M222.5 424.9h1M216.3 425.8h1M211.3 447.9h1M214.9 431.2h1M217.8 412.2h1M214.5 444.8h1M222.5 435.4h1M217.9 439.3h1M212.3 450.6h1M220.6 451.0h1M202.8 447.9h1M235.5 424.4h1M202.0 411.8h1M219.4 437.5h1M223.9 429.6h1M224.7 449.2h1M223.1 449.3h1M233.6 434.0h1M219.6 432.4h1M221.8 431.8h1M215.1 423.7h1M214.1 431.4h1M233.8 430.3h1M212.8 450.6h1M215.3 425.2h1M217.4 445.2h1M222.0 414.1h1M218.1 430.5h1M224.2 431.7h1M221.7 446.2h1M234.7 443.9h1M211.4 436.2h1M237.6 414.3h1M215.6 434.3h1M227.3 429.6h1M222.0 435.7h1M217.2 422.2h1M237.2 416.2h1M212.3 445.6h1M212.0 439.4h1M231.4 413.5h1M221.0 433.6h1M240.2 425.1h1M237.9 423.2h1M227.7 441.0h1M222.9 425.5h1M206.5 454.2h1M222.0 419.8h1M221.8 398.5h1M215.3 452.2h1M222.9 435.4h1M205.0 440.5h1M229.7 415.8h1M233.7 407.8h1M206.7 413.2h1M236.4 448.2h1M224.6 423.7h1M209.9 412.0h1M229.1 438.9h1M239.4 434.7h1M208.9 426.0h1M220.6 426.6h1M212.1 422.1h1M217.3 434.8h1M223.4 449.7h1M219.8 446.8h1M213.1 441.7h1M218.6 409.3h1M231.8 427.5h1M220.3 414.9h1M218.1 428.6h1M230.1 420.0h1M209.4 438.7h1M228.0 434.0h1M231.0 396.5h1M227.1 447.4h1M220.1 418.8h1M218.9 450.8h1M223.2 445.6h1M229.2 451.6h1M221.7 413.3h1M216.2 444.6h1M211.5 422.7h1M221.6 419.0h1M232.8 410.9h1M220.3 448.4h1M215.0 443.7h1M219.1 433.8h1M215.2 436.9h1M217.8 442.4h1M203.6 430.0h1M207.8 430.4h1M225.0 423.0h1M219.4 432.3h1M221.7 432.5h1M232.3 410.2h1M209.4 441.6h1M232.1 410.6h1M224.2 427.0h1M212.8 432.6h1M235.7 423.2h1M218.0 448.7h1M224.4 453.1h1M218.2 429.8h1M217.1 433.5h1M219.3 436.5h1M234.4 408.6h1M221.5 424.0h1M208.9 435.4h1M223.7 436.5h1M208.1 436.2h1M222.3 420.3h1M224.0 415.4h1M216.0 434.8h1M222.8 415.5h1M216.8 418.1h1M214.3 434.0h1M236.1 428.8h1M226.2 419.0h1M217.0 409.7h1M212.2 440.2h1M222.0 443.5h1M226.0 424.9h1M229.0 424.1h1M235.4 394.5h1M225.0 443.4h1M208.6 422.6h1M241.2 434.2h1M232.2 419.8h1M228.8 427.4h1M234.0 424.6h1M204.7 414.5h1M214.9 413.5h1M232.5 429.3h1M207.9 426.8h1M216.8 431.0h1M235.9 445.5h1M226.9 404.4h1M216.2 432.6h1M239.6 431.7h1M206.4 440.3h1M224.8 436.5h1M217.8 423.5h1M225.4 408.1h1M217.3 416.0h1M211.5 430.9h1M222.4 442.3h1M206.5 439.7h1M225.6 452.8h1M216.8 435.7h1M229.7 431.7h1M215.5 437.6h1M213.2 411.9h1M224.3 439.2h1M232.9 412.3h1M198.7 436.6h1M226.6 413.2h1M205.4 440.7h1M211.0 440.8h1M226.8 432.0h1M211.6 436.5h1M213.5 428.0h1M237.9 453.1h1M210.4 409.2h1M211.2 422.5h1M208.8 445.2h1M207.4 427.6h1M237.9 413.2h1M232.7 424.3h1M240.5 431.4h1M228.1 415.4h1M218.2 437.0h1M228.5 420.8h1M224.0 452.0h1M212.2 440.3h1M210.7 439.1h1M216.4 440.2h1M212.4 440.0h1M230.2 414.7h1M209.1 431.7h1M229.3 434.5h1M215.1 428.2h1M208.5 437.6h1M220.0 422.5h1M212.0 450.0h1M202.0 433.1h1M219.9 438.7h1M219.6 431.9h1M228.7 419.5h1M223.0 451.0h1M209.6 438.6h1M213.7 450.6h1M194.4 438.9h1M208.5 418.0h1M233.5 410.2h1M235.8 419.3h1M228.0 427.2h1M223.2 432.4h1M226.2 437.5h1M225.1 413.7h1M202.1 443.6h1M211.0 419.9h1M232.3 418.4h1M222.6 449.6h1M216.9 429.3h1M214.4 454.9h1M210.5 449.2h1M221.6 428.9h1M215.4 433.2h1M217.8 422.0h1M237.8 433.7h1M226.2 413.1h1M212.8 429.0h1M226.1 436.8h1M204.5 432.5h1M231.0 433.3h1M218.0 420.2h1M226.0 449.9h1M235.2 417.3h1M215.2 422.0h1M209.8 440.3h1M242.0 438.1h1M220.2 423.0h1M235.6 416.5h1M213.0 429.8h1M224.0 421.4h1M213.4 438.3h1M226.6 420.4h1M217.2 430.6h1M213.1 440.8h1M236.2 420.5h1M223.6 447.5h1M199.0 432.4h1M217.6 423.3h1M214.0 436.5h1M215.1 446.5h1M220.4 437.5h1M211.8 429.3h1M200.7 450.4h1M214.5 439.5h1M229.2 446.9h1M205.8 413.4h1M226.5 441.5h1M224.8 433.3h1M215.4 425.4h1M223.2 425.7h1M212.2 430.6h1M215.9 416.4h1M209.4 429.5h1M224.9 441.8h1M234.3 406.1h1M213.0 430.7h1M232.5 395.1h1M197.8 434.2h1M210.8 442.2h1M209.5 436.7h1M238.0 426.2h1M213.9 420.1h1M228.1 437.5h1M198.6 429.4h1M221.2 445.1h1M225.9 433.5h1M219.6 427.8h1M221.9 426.8h1M228.5 443.7h1M233.8 428.7h1M224.2 431.3h1M202.4 454.2h1M217.8 440.0h1M229.5 429.0h1M211.5 434.9h1M225.9 433.5h1M215.0 436.3h1M221.0 428.1h1M227.9 415.4h1M212.6 400.2h1M221.6 429.0h1M223.6 448.3h1M212.2 442.4h1M220.7 448.5h1M204.7 437.9h1M204.0 428.0h1M223.0 443.1h1M219.1 425.2h1M192.4 440.9h1M216.8 442.0h1M219.3 448.5h1M226.4 411.7h1M207.0 438.9h1M226.2 445.9h1M216.8 416.6h1M214.7 438.0h1M218.5 439.2h1M230.3 396.9h1M225.9 452.7h1M229.3 419.3h1M212.8 434.1h1M207.8 413.3h1M214.2 441.9h1M215.8 428.6h1M215.1 435.7h1M227.5 418.6h1M224.5 450.1h1M228.0 414.2h1M221.3 437.5h1M231.3 435.9h1M221.2 431.3h1M230.1 425.1h1M225.3 427.2h1M227.7 444.0h1M219.3 439.6h1M207.0 437.3h1M204.8 424.2h1M240.6 426.7h1M224.1 438.7h1M224.7 430.7h1M218.2 453.7h1M215.2 408.6h1M208.2 435.4h1M219.3 417.6h1M219.5 409.1h1M208.1 450.0h1M206.6 446.5h1M212.6 433.1h1M216.4 433.9h1M214.9 437.5h1M228.5 423.7h1M207.6 454.1h1M224.2 440.0h1M235.4 425.0h1M229.4 406.5h1M189.0 439.3h1M228.9 415.1h1M225.2 448.7h1M213.9 442.5h1M233.4 399.6h1M215.8 411.8h1M221.1 427.1h1M209.1 420.2h1M223.4 429.6h1M231.3 427.8h1M222.3 443.2h1M204.3 451.9h1M227.3 428.4h1M228.8 409.0h1M211.3 451.6h1M215.9 432.4h1M220.6 439.2h1M217.4 444.0h1M221.3 421.4h1M226.8 453.6h1M214.8 436.3h1M241.8 427.2h1M212.5 430.2h1M214.3 445.3h1M240.7 438.6h1M220.4 441.1h1M218.0 427.9h1M208.7 420.7h1M232.0 423.6h1M221.8 440.8h1M211.1 444.5h1M224.3 446.3h1M234.4 417.8h1M227.2 426.0h1M232.2 436.7h1M224.6 429.6h1M219.7 420.1h1M225.8 409.3h1M232.8 444.2h1M229.0 444.2h1M231.1 419.3h1M222.3 452.7h1M228.0 428.9h1M232.8 434.2h1M218.3 451.4h1M206.4 432.2h1M238.1 414.9h1M226.1 406.6h1M215.4 439.3h1M222.5 438.4h1M217.4 446.2h1M202.1 449.0h1M218.1 435.5h1M205.0 455.3h1M222.1 418.1h1M218.9 439.1h1M231.9 435.4h1M218.7 432.1h1M223.9 455.5h1M216.9 440.6h1M216.0 453.6h1M205.3 451.7h1M230.4 426.4h1M213.9 451.2h1M222.2 432.6h1M215.6 433.4h1M212.4 422.0h1M222.6 430.0h1M232.8 424.7h1M217.2 437.3h1M205.0 433.6h1M213.5 443.8h1M238.9 424.3h1M211.5 414.8h1M232.5 421.0h1M217.5 421.8h1M227.8 412.3h1M218.9 430.2h1M203.4 452.8h1M215.7 419.5h1M218.6 431.6h1M216.5 426.5h1M218.6 437.6h1M223.4 426.1h1M225.0 443.1h1M219.8 431.1h1M218.1 450.5h1M213.1 421.1h1M206.2 441.9h1M203.1 422.6h1M227.0 433.0h1M200.5 432.8h1M234.8 430.5h1M229.0 414.0h1M216.9 437.8h1M207.9 439.9h1M220.3 425.2h1M220.3 422.0h1M231.9 411.9h1M212.2 431.0h1M216.1 440.5h1M219.5 431.7h1M217.1 436.7h1M213.5 453.6h1M202.0 436.3h1M202.8 444.5h1M212.9 447.7h1M217.7 441.4h1M230.5 434.3h1M238.0 452.6h1M224.2 430.5h1M239.8 419.8h1M218.8 442.0h1M208.8 438.4h1M215.7 446.7h1M217.3 441.4h1M235.4 428.0h1M213.8 445.0h1M228.2 438.5h1M215.8 437.1h1M222.5 427.1h1M221.8 452.0h1M211.7 440.6h1M230.2 426.6h1M224.9 409.2h1M222.5 431.5h1M215.0 413.7h1M225.1 409.8h1M213.7 447.6h1M206.1 447.7h1M212.7 411.1h1M222.3 431.6h1M221.0 437.7h1M231.2 407.7h1M202.3 454.0h1M217.8 415.9h1M224.2 447.3h1M210.0 440.3h1M222.7 422.6h1M215.8 412.8h1M208.2 433.5h1M231.8 427.1h1M205.5 437.6h1M230.6 420.7h1M215.7 432.2h1M210.2 449.5h1M210.8 424.5h1M212.3 433.6h1M211.2 443.4h1M222.9 431.8h1M200.5 453.4h1M233.1 449.5h1M228.8 424.8h1M234.6 430.3h1M209.8 396.8h1M195.8 438.5h1M213.5 445.3h1M218.3 418.5h1M223.3 450.4h1M214.6 409.4h1M219.2 452.4h1M221.7 425.4h1M203.8 425.8h1M239.0 418.7h1M208.3 434.4h1M222.9 418.0h1M231.4 409.4h1M211.9 429.4h1M220.1 446.4h1M237.2 431.8h1M217.1 453.1h1M231.1 420.2h1M223.2 427.0h1M222.5 427.6h1M227.6 432.1h1M217.7 440.6h1M230.2 438.8h1M222.9 434.3h1M225.3 449.8h1M207.6 427.5h1M220.3 414.9h1M232.9 437.2h1M229.6 431.6h1M223.7 433.3h1M214.7 448.3h1M213.7 431.2h1M224.7 429.7h1M235.0 432.2h1M220.6 442.0h1M233.8 441.1h1M217.0 436.1h1M232.8 431.6h1M209.7 403.9h1M222.1 449.3h1M209.0 416.0h1M227.1 429.6h1M210.2 432.7h1M212.3 414.4h1M204.5 431.9h1M210.4 434.9h1M211.1 434.6h1M228.4 439.9h1M234.7 437.9h1M215.5 433.3h1M217.1 449.8h1M222.4 419.6h1M214.7 444.7h1M217.2 425.7h1M228.9 439.1h1M222.6 422.8h1M219.3 427.4h1M214.2 456.0h1M235.6 411.1h1M213.7 419.5h1M221.4 440.5h1M209.3 433.8h1M213.9 429.7h1M221.1 430.7h1M225.8 416.4h1M220.9 429.0h1M205.7 441.3h1M196.0 430.0h1M230.6 428.2h1M214.0 442.3h1M235.7 414.0h1M220.3 448.4h1M212.1 420.5h1M226.0 428.6h1M217.3 438.9h1M210.4 412.8h1M226.8 434.1h1M214.6 427.0h1M238.9 440.3h1M214.2 438.4h1M222.8 412.1h1M203.0 445.6h1M200.0 429.0h1M242.2 425.1h1M235.1 406.0h1M232.2 438.1h1M202.3 406.9h1M222.5 429.6h1M224.5 449.0h1M221.0 439.8h1M223.3 426.9h1M210.5 433.7h1M218.5 427.8h1M216.5 433.8h1M224.0 431.2h1M211.9 426.2h1M217.2 427.6h1M215.6 443.3h1M220.3 424.5h1M229.8 417.8h1M222.6 424.3h1M224.3 426.4h1M205.0 441.6h1M216.3 427.8h1M228.7 426.8h1M211.1 426.3h1M215.6 452.0h1M210.0 438.4h1M234.1 422.8h1M215.4 438.9h1M212.5 435.5h1M226.6 408.6h1M231.6 425.7h1M225.3 453.7h1M230.4 435.7h1M222.3 448.3h1M218.8 424.2h1M215.5 414.3h1M214.8 425.5h1M213.8 454.2h1M224.0 417.5h1M218.9 422.5h1M221.0 447.9h1M226.4 426.9h1M219.5 430.5h1M205.7 444.2h1M211.8 437.6h1M208.4 433.6h1M200.1 444.7h1M221.2 422.6h1M207.5 437.6h1M206.6 447.6h1M208.8 423.0h1M229.2 426.2h1M216.8 418.5h1M230.6 438.9h1M219.1 441.9h1M215.5 447.9h1M226.0 444.8h1M226.3 444.5h1M221.3 442.4h1M209.2 426.7h1M215.3 447.9h1M207.7 425.5h1M221.0 436.6h1M235.6 434.7h1M234.9 409.8h1M227.2 444.9h1M230.1 445.1h1M222.5 410.3h1M236.1 419.9h1M224.0 450.4h1M231.1 413.7h1M222.0 446.7h1M223.3 428.0h1M209.7 456.2h1M229.9 395.0h1M221.5 426.4h1M228.5 446.3h1M217.7 423.4h1M225.3 423.7h1M232.2 443.7h1M206.6 446.6h1M209.8 431.4h1M216.9 423.7h1M217.4 431.7h1M202.2 456.4h1M238.4 425.2h1M230.6 419.4h1M201.0 419.0h1M223.8 428.2h1M240.8 431.8h1M228.7 414.9h1M232.1 427.8h1M210.1 431.2h1M222.4 411.4h1M204.3 445.8h1M226.0 420.0h1M200.6 425.5h1M225.0 439.2h1M221.4 448.7h1M216.7 448.0h1M226.5 436.8h1M241.1 421.0h1M223.8 411.9h1M201.1 442.8h1M218.3 439.8h1M206.2 431.6h1M211.5 422.8h1M223.4 443.5h1M218.2 419.0h1M208.8 443.7h1M219.7 426.4h1M211.4 413.1h1M225.5 452.9h1M217.4 442.4h1M224.0 438.7h1M217.1 414.5h1M227.8 427.8h1M218.5 437.3h1M219.8 422.6h1M221.4 404.2h1M201.3 450.3h1M212.8 414.0h1M220.9 414.6h1M214.9 442.7h1M214.8 425.0h1M224.1 421.6h1M214.5 422.3h1M215.4 414.0h1M205.4 426.2h1M210.2 423.0h1M207.6 433.2h1M238.8 419.4h1M205.9 405.1h1M208.6 428.2h1M221.9 448.4h1M234.9 419.6h1M202.1 438.7h1M203.6 429.1h1M221.2 422.2h1M223.4 429.7h1M205.0 419.7h1M200.9 437.7h1M209.7 413.2h1M227.7 433.5h1M219.4 410.4h1M227.7 437.8h1M218.7 446.5h1M219.5 409.6h1M226.3 438.6h1M218.6 426.8h1M222.3 447.0h1M210.2 428.5h1M213.5 430.5h1M224.7 425.8h1M217.3 450.3h1M212.0 408.2h1M226.7 439.5h1M225.5 430.7h1M219.7 425.0h1M211.8 431.8h1M229.2 440.8h1M203.6 429.5h1M211.6 408.9h1M210.0 428.1h1M206.5 434.5h1M207.4 430.8h1M228.7 444.9h1M235.3 430.5h1M227.6 403.7h1M214.7 448.1h1M231.1 418.0h1M213.3 434.9h1M216.1 444.8h1M207.4 441.9h1M232.6 425.4h1M230.4 431.2h1M214.9 444.2h1M216.5 441.7h1M228.6 417.1h1M220.4 423.3h1M223.9 441.3h1M204.0 441.2h1M216.6 444.7h1M200.9 419.7h1M238.4 420.9h1M234.4 434.5h1M227.2 427.8h1M231.4 421.3h1M240.7 426.7h1M229.6 450.4h1M203.0 409.4h1M217.5 454.5h1M195.0 445.7h1M211.1 423.3h1M206.6 446.2h1M219.6 432.2h1M223.8 446.7h1M209.9 424.5h1M216.7 446.3h1M222.6 417.9h1M218.0 436.7h1M217.8 442.0h1M194.4 441.0h1M215.0 442.4h1M228.0 420.0h1M222.4 445.2h1M204.1 431.1h1M216.8 423.1h1M222.4 428.9h1M209.4 435.2h1M226.7 417.1h1M211.2 446.2h1M216.2 431.4h1M218.5 440.5h1M216.3 414.9h1M213.6 430.5h1M227.1 414.8h1M214.7 431.9h1M221.6 438.6h1M222.7 450.7h1M219.4 442.6h1M206.1 427.5h1M233.9 433.4h1M217.1 425.5h1M217.6 440.0h1M205.8 422.8h1M213.6 439.9h1M203.6 434.4h1M224.8 410.8h1M228.7 431.8h1M212.9 427.2h1M202.7 442.2h1M215.5 423.6h1M208.5 428.8h1M221.3 439.6h1M221.5 451.4h1M215.1 416.1h1M220.4 428.7h1M230.5 432.6h1M237.5 422.2h1M214.1 427.9h1M217.1 421.2h1M208.5 441.3h1M233.0 419.4h1M223.7 428.7h1M221.1 399.5h1M223.3 442.5h1M217.9 429.6h1M208.5 423.0h1M238.2 447.0h1M229.0 424.0h1M222.3 422.1h1M229.7 415.9h1M233.1 440.9h1M217.5 433.0h1M225.7 424.9h1M216.2 414.9h1M226.3 416.5h1M216.9 437.7h1M215.8 405.5h1M225.0 417.4h1M224.4 432.9h1M229.4 417.3h1M218.7 401.4h1M215.2 444.2h1M219.6 425.1h1M211.7 416.8h1M232.1 434.4h1M226.1 425.8h1M229.9 414.2h1M205.4 419.5h1M222.4 428.9h1M211.5 436.3h1M220.5 406.8h1M232.9 439.9h1M222.3 413.1h1M217.7 451.9h1M231.3 431.5h1M230.2 424.8h1M239.0 428.4h1M200.0 431.7h1M223.0 429.5h1M215.2 456.4h1M210.4 427.7h1M220.8 442.6h1M207.4 424.4h1M196.1 441.2h1M210.1 449.0h1M216.8 416.3h1M239.2 428.3h1M212.0 405.2h1M207.3 421.0h1M198.8 434.6h1M215.9 445.5h1M217.0 442.7h1M221.1 418.5h1M204.4 436.3h1M211.6 437.7h1M195.8 420.0h1M221.3 436.9h1M231.7 418.6h1M224.9 423.9h1M223.3 417.3h1M223.2 423.4h1M208.7 432.8h1M230.8 436.5h1M208.6 437.5h1M239.6 410.6h1M221.9 442.1h1M200.2 452.0h1M228.7 419.6h1M240.3 419.8h1M216.9 431.5h1M230.8 404.4h1M217.3 434.6h1M213.0 443.8h1M232.6 429.1h1M214.9 429.8h1M223.6 428.1h1M207.7 445.2h1M210.0 446.8h1M231.3 415.1h1M215.5 436.2h1M215.4 442.6h1M206.3 409.5h1M221.8 449.9h1M227.8 425.5h1M214.8 445.9h1M217.6 432.0h1M206.8 433.7h1M234.3 424.7h1M213.1 438.5h1M218.0 444.5h1M237.3 420.9h1M217.2 417.3h1M203.3 428.9h1M209.9 422.4h1M215.8 443.9h1M238.4 410.8h1M222.0 451.9h1M217.3 434.6h1M228.4 427.0h1M233.4 444.2h1M211.7 430.1h1M234.7 421.5h1M228.7 438.9h1M224.4 440.2h1M194.7 428.4h1M234.4 433.7h1M216.8 415.7h1M220.5 444.4h1M209.0 439.4h1M225.9 441.2h1M228.5 441.2h1M233.5 435.7h1M213.8 425.2h1M221.1 452.3h1M206.5 427.8h1M211.3 448.8h1M221.9 440.2h1M212.8 423.2h1M215.0 424.3h1M217.5 430.6h1M222.4 436.5h1M227.8 447.2h1M227.9 429.8h1M230.6 454.0h1M221.9 443.4h1M214.0 425.8h1M202.9 430.7h1M216.1 435.0h1M211.3 428.6h1M200.5 439.1h1M237.2 435.9h1M200.3 444.1h1M223.5 444.3h1M225.6 420.5h1M217.3 421.5h1M220.0 407.7h1M211.6 429.7h1M238.5 425.7h1M211.3 433.3h1M204.5 438.9h1M212.9 420.3h1M220.2 428.7h1M223.3 424.4h1M203.6 426.7h1M223.5 449.8h1M243.5 422.3h1M212.2 453.1h1M218.4 417.6h1M227.2 455.5h1M212.7 423.6h1M209.5 436.8h1M209.0 435.4h1M231.4 435.6h1M229.3 410.8h1M196.7 448.7h1M197.0 452.2h1M206.6 429.9h1M203.8 408.0h1M224.1 421.5h1M222.1 426.3h1M240.6 434.7h1M228.2 420.7h1M221.1 416.3h1M232.3 436.1h1M210.3 441.8h1M204.9 449.1h1M220.1 433.3h1M229.8 443.3h1M202.5 447.0h1M229.3 404.2h1M228.9 431.8h1M214.4 445.7h1M221.6 432.6h1M216.8 454.2h1M220.6 426.2h1M228.4 438.9h1M211.2 419.4h1M230.9 428.2h1M229.0 421.4h1M229.4 415.0h1M198.8 423.5h1M199.9 444.2h1M227.1 435.7h1M213.5 426.7h1M212.4 418.8h1M211.6 424.1h1M205.5 449.3h1M216.7 417.5h1M212.1 451.8h1M212.8 412.7h1M224.9 434.6h1M207.2 447.3h1M231.8 444.8h1M196.0 436.8h1M205.3 419.2h1M226.0 442.9h1M229.5 427.1h1M219.7 426.6h1M227.7 423.8h1M218.6 436.9h1M201.0 441.1h1M223.4 447.7h1M232.0 398.1h1M213.9 447.0h1M201.6 433.1h1M213.3 434.5h1M223.2 427.1h1M223.0 430.4h1M231.6 438.5h1M225.7 433.5h1M225.2 410.7h1M198.4 440.9h1M220.3 437.9h1M229.0 429.7h1M216.1 433.4h1M218.1 447.8h1M220.4 417.6h1M236.6 456.1h1M236.0 418.5h1M226.4 415.9h1M215.6 449.6h1M225.3 448.0h1M214.9 455.2h1M233.7 433.9h1M220.2 433.7h1M230.3 433.9h1M238.3 425.3h1M197.6 434.7h1M243.1 445.6h1M216.4 434.5h1M199.3 438.4h1M216.6 427.6h1M195.2 420.0h1M220.8 423.3h1M218.0 426.6h1M239.4 424.7h1M216.3 420.6h1M231.4 402.0h1M232.4 436.9h1M217.2 404.7h1M228.0 427.8h1M203.6 451.7h1M208.0 421.9h1M216.9 414.4h1M219.6 433.6h1M206.8 435.3h1M215.5 426.1h1M227.4 452.7h1M215.0 455.8h1M218.2 442.9h1M210.3 436.2h1M234.8 422.5h1M239.0 437.5h1M222.1 429.0h1M218.7 454.3h1M237.8 443.0h1M225.1 422.7h1M212.7 446.7h1M213.6 445.0h1M213.5 432.3h1M219.9 435.1h1M217.6 434.8h1M234.2 422.6h1M217.3 446.4h1M224.0 450.5h1M208.7 430.3h1M206.5 418.6h1M212.0 442.0h1M222.3 432.6h1M212.8 442.4h1M198.8 432.9h1M225.1 435.5h1M218.2 421.8h1M216.9 450.0h1M195.7 430.9h1M237.1 390.7h1M214.8 429.1h1M225.6 424.1h1M235.0 430.3h1M232.1 429.1h1M222.1 439.8h1M223.3 424.8h1M229.7 424.7h1M226.2 437.3h1M215.2 410.3h1M224.8 442.8h1M224.0 423.6h1M227.5 411.0h1M222.2 421.3h1M234.7 434.8h1M222.2 444.7h1M229.6 447.3h1M220.5 439.9h1M213.8 426.6h1M209.8 446.0h1M218.3 433.7h1M233.6 400.0h1M214.4 447.1h1M214.5 442.1h1M233.9 427.1h1M221.1 425.9h1M214.6 423.1h1M228.0 409.3h1M221.2 446.7h1M219.5 443.8h1M218.5 439.9h1M207.6 412.9h1M230.6 426.1h1M238.1 428.5h1M205.7 456.3h1M221.3 419.9h1M226.9 435.2h1M215.5 436.6h1M209.8 427.8h1M219.9 439.4h1M241.7 426.5h1M220.7 408.2h1M222.8 450.0h1M197.0 431.8h1M229.8 416.9h1M228.3 423.7h1M225.6 435.0h1M220.4 455.3h1M222.3 437.6h1M211.3 452.1h1M215.1 434.3h1M217.5 445.0h1M238.1 419.3h1M226.8 426.8h1M203.1 428.6h1M224.5 441.2h1M235.4 435.5h1M223.0 423.8h1M231.7 442.6h1M219.6 426.9h1M209.9 450.3h1M228.5 453.2h1M205.2 431.1h1M233.9 415.2h1M203.7 416.3h1M197.2 453.2h1M225.7 416.9h1M218.1 454.2h1M221.2 436.3h1M224.6 443.5h1M219.7 417.2h1M210.5 430.6h1M222.3 436.5h1M223.7 443.5h1M225.3 414.9h1M212.1 426.8h1M220.7 445.8h1M226.0 429.3h1M215.2 432.8h1M207.1 446.3h1M213.9 453.4h1M231.5 426.9h1M217.1 453.1h1M226.6 418.4h1M212.1 442.1h1M224.8 417.5h1M212.7 440.9h1M210.9 426.1h1M221.2 434.9h1M220.6 443.3h1M235.9 415.0h1M202.5 418.0h1M225.5 430.2h1M237.4 434.9h1M234.7 432.0h1M215.9 424.1h1M212.7 449.5h1M214.7 433.1h1M223.2 444.1h1M222.0 421.9h1M223.8 439.4h1M226.4 448.4h1M208.5 430.5h1M207.9 435.9h1M206.8 448.9h1M205.5 448.0h1M218.9 440.2h1M223.4 431.8h1M225.7 432.4h1M220.2 416.9h1M235.3 429.6h1M212.1 405.9h1M223.7 453.0h1M228.5 437.4h1M224.3 421.3h1M216.2 432.1h1M206.6 452.5h1M218.3 444.5h1M213.6 427.8h1M227.4 448.1h1M218.5 445.3h1M226.0 439.6h1M202.7 437.0h1M230.5 430.3h1M210.8 428.7h1M203.2 444.2h1M205.2 431.8h1M213.2 453.6h1M232.1 430.2h1M227.7 434.4h1M207.4 444.4h1M220.9 438.7h1M218.9 415.6h1M209.3 440.4h1M198.1 436.2h1M210.6 425.2h1M191.5 437.1h1M211.4 429.8h1M209.9 439.0h1M211.4 426.4h1M211.1 439.8h1M232.4 431.5h1M216.3 426.7h1M228.1 429.6h1M229.7 435.2h1M227.3 433.1h1M214.0 434.9h1M208.2 448.7h1M214.9 435.6h1M220.1 422.7h1M219.1 442.4h1M231.8 400.1h1M218.9 437.1h1M239.3 423.9h1M231.1 434.3h1M214.8 415.9h1M229.2 424.6h1M189.1 433.1h1M234.8 420.9h1M224.4 440.6h1M224.3 429.9h1M201.9 433.6h1M217.3 435.6h1M218.5 407.1h1M232.1 414.9h1M217.9 440.6h1M210.9 443.9h1M227.1 434.2h1M209.1 442.2h1M228.0 418.4h1M221.5 432.1h1M232.1 412.7h1M207.0 427.9h1M233.4 415.9h1M223.2 421.1h1M213.0 433.6h1M239.9 414.6h1M227.6 445.4h1M228.5 424.0h1M226.0 444.8h1M227.2 414.1h1M211.1 449.4h1M207.6 419.6h1M235.7 431.5h1M221.7 419.2h1M230.1 399.4h1M223.1 426.7h1M221.2 414.4h1M222.4 447.3h1M215.6 418.1h1M233.1 424.7h1M221.9 439.1h1M222.4 432.4h1M205.1 442.9h1M223.3 428.4h1M212.7 446.0h1M214.6 422.6h1M231.1 436.2h1M208.3 421.5h1M217.9 436.4h1M226.7 414.7h1M232.4 425.2h1M214.4 443.3h1M223.4 448.5h1M223.1 407.2h1M207.9 427.6h1M197.0 429.2h1M226.4 418.5h1M221.1 442.1h1M205.6 431.9h1M213.1 416.1h1M215.7 436.2h1M216.2 419.0h1M219.7 443.0h1M211.6 454.5h1M221.5 418.4h1M213.2 448.9h1M210.5 412.3h1M223.7 417.2h1M222.3 436.4h1M210.4 418.5h1M240.6 422.5h1M207.4 440.6h1M223.8 439.7h1M212.3 435.7h1M234.2 414.2h1M235.2 431.8h1M223.6 440.4h1M200.2 442.0h1M235.2 442.2h1M221.0 442.7h1M214.1 440.3h1M233.7 443.0h1M212.2 419.1h1M231.4 427.6h1M214.1 411.1h1M225.7 430.2h1M208.4 431.2h1M215.7 445.9h1M210.2 430.9h1M212.4 427.3h1M222.0 430.7h1M218.2 431.8h1M222.0 439.0h1M233.7 415.2h1M218.8 412.8h1M200.0 419.3h1M216.9 449.9h1M220.8 415.2h1M230.9 422.0h1M231.1 413.1h1M230.2 440.7h1M217.6 426.1h1M226.9 446.8h1M204.5 429.6h1M233.9 431.2h1M224.7 441.3h1M225.4 443.8h1M215.9 418.2h1M220.6 427.6h1M212.8 434.7h1M226.1 405.3h1M205.7 448.5h1M230.4 433.9h1M225.8 437.4h1M219.6 435.6h1M219.0 439.3h1M222.1 446.1h1M220.4 425.6h1M218.8 442.6h1M208.1 431.9h1M213.9 429.8h1M216.9 429.8h1M207.3 417.8h1M207.5 433.1h1M217.0 456.4h1M227.9 416.9h1M217.9 431.1h1M227.3 446.3h1M230.4 436.4h1M228.2 432.7h1M215.5 430.2h1M215.7 433.2h1M200.0 441.4h1M212.7 445.4h1M225.0 431.9h1M208.3 450.7h1M234.5 401.4h1M235.4 437.8h1M216.0 427.4h1M229.9 429.0h1M204.8 433.5h1M208.8 446.4h1M216.0 433.0h1M220.1 441.5h1M218.0 422.8h1M210.8 439.4h1M241.1 441.0h1M223.1 446.9h1M223.1 426.9h1M227.3 431.9h1M221.9 427.2h1M217.5 432.4h1M214.0 435.7h1M236.0 434.3h1M211.3 419.3h1M202.8 444.4h1M241.4 418.1h1M223.9 409.3h1M235.1 412.0h1M235.6 419.7h1M226.1 453.3h1M226.1 431.7h1M212.3 433.7h1M219.1 433.0h1M213.5 425.5h1M220.5 435.2h1M212.5 434.9h1M233.6 405.2h1M228.2 422.4h1M202.1 449.1h1M227.3 428.7h1M229.5 438.2h1M219.3 420.1h1M206.5 439.9h1M224.6 443.1h1M231.3 406.6h1M199.5 431.6h1M226.1 425.1h1M200.5 437.3h1M220.8 425.8h1M238.7 429.0h1M221.0 446.5h1M225.1 435.6h1M216.6 448.4h1M219.9 447.3h1M234.3 430.9h1M216.6 429.4h1M215.9 443.7h1M220.2 428.3h1M222.2 455.2h1M231.9 425.8h1M216.1 413.6h1M206.4 440.4h1M234.2 431.3h1M219.2 426.6h1M211.6 437.5h1M212.6 450.0h1M212.8 429.1h1M213.5 433.3h1M203.5 430.4h1M232.9 432.3h1M224.1 429.7h1M230.4 416.3h1M216.3 432.6h1M223.7 456.4h1M221.8 409.3h1M232.6 409.2h1M228.7 434.1h1M223.8 412.8h1M207.2 418.3h1M211.5 419.1h1M213.2 429.0h1M214.2 450.1h1M206.8 449.5h1M237.7 433.5h1M222.9 436.0h1M208.3 413.4h1M205.7 442.9h1M222.5 451.4h1M231.4 414.0h1M209.5 441.9h1M226.6 447.0h1M217.1 451.3h1M232.3 426.3h1M234.6 452.3h1M223.3 438.6h1M227.7 444.5h1M220.0 418.7h1M216.0 424.6h1M207.6 428.1h1M223.5 455.6h1M219.3 402.0h1M215.9 410.1h1M219.2 444.3h1M218.0 436.0h1M208.9 397.9h1M214.4 430.2h1M232.2 424.0h1M217.5 450.5h1M234.9 401.2h1M207.7 431.1h1M205.6 453.5h1M221.4 442.9h1M228.3 417.4h1M213.0 432.2h1M226.7 410.6h1M229.9 447.5h1M231.4 422.7h1M218.8 450.9h1M219.5 444.2h1M202.4 428.6h1M220.2 431.2h1M223.0 440.7h1M235.0 433.0h1M211.0 452.0h1M209.3 442.1h1M229.6 438.6h1M193.1 434.9h1M208.5 430.0h1M227.0 434.9h1M205.9 424.3h1M219.4 432.5h1M229.0 418.9h1M225.9 423.4h1M217.6 451.7h1M211.6 424.1h1M228.8 420.9h1M219.9 441.0h1M228.6 430.8h1M224.2 433.9h1M215.0 416.0h1M235.3 426.7h1M214.7 430.6h1M224.6 420.6h1M213.3 428.6h1M217.6 430.5h1M217.4 445.8h1M222.5 433.9h1M233.9 447.5h1M239.7 426.8h1M235.2 407.2h1M218.2 435.0h1M235.5 444.2h1M224.4 450.4h1M239.1 413.7h1M235.7 417.1h1M213.7 426.3h1M232.3 421.4h1M215.1 454.9h1M229.7 434.9h1M217.0 446.9h1M200.1 412.0h1M209.7 437.0h1M217.4 433.1h1M220.3 442.8h1M196.3 437.1h1M207.3 454.8h1M212.3 427.5h1M217.8 415.8h1M222.3 410.6h1M211.3 454.1h1M203.9 450.3h1M223.2 421.8h1M216.5 449.8h1M229.4 427.4h1M214.4 434.3h1M226.8 411.2h1M210.6 430.1h1M222.8 433.9h1M221.0 435.9h1M224.8 424.1h1M210.1 451.0h1M218.7 453.4h1M211.0 426.5h1M218.3 439.7h1M226.6 410.5h1M220.4 420.6h1M227.6 428.4h1M221.2 435.4h1M232.0 425.4h1M224.9 445.6h1M231.1 418.7h1M223.8 425.9h1M234.6 427.2h1M202.0 444.5h1M223.2 429.5h1M220.8 422.6h1M196.7 452.2h1M210.9 438.5h1M215.2 447.7h1M212.3 454.7h1M221.4 428.4h1M201.1 431.7h1M227.9 424.4h1M228.2 421.6h1M223.8 405.6h1M220.1 439.2h1M232.1 421.2h1M225.4 439.4h1M216.2 434.4h1M235.4 440.5h1M214.0 436.3h1M218.3 433.5h1M209.0 440.5h1M225.6 401.7h1M219.4 424.4h1M226.6 421.2h1M235.8 449.2h1M219.5 441.8h1M224.1 442.5h1M229.5 438.2h1M219.4 431.4h1M223.8 429.4h1M225.4 412.7h1M228.3 438.7h1M228.8 445.8h1M213.0 438.1h1M224.8 436.7h1M233.0 441.2h1M215.2 456.2h1M223.9 440.0h1M221.8 436.9h1M238.4 454.1h1M221.9 414.7h1M209.9 450.6h1M223.7 436.1h1M222.3 434.5h1M231.8 411.9h1M205.6 454.1h1M210.4 435.2h1M219.3 420.9h1M203.7 432.2h1M232.0 425.8h1M198.8 444.0h1M211.3 425.4h1M204.5 428.0h1M213.2 442.2h1M228.5 429.4h1M229.8 424.2h1M226.4 441.1h1M223.3 429.8h1M200.6 455.0h1M214.8 440.0h1M215.9 436.2h1M225.3 418.5h1M211.6 429.3h1M238.3 402.7h1M226.4 429.6h1M232.5 441.8h1M228.1 427.1h1M229.5 440.8h1M219.6 423.9h1M209.0 436.9h1M224.9 425.5h1M220.1 455.6h1M217.7 434.6h1M223.4 440.0h1M212.2 438.7h1M229.2 439.4h1M228.4 432.0h1M221.1 417.4h1M227.9 434.3h1M209.2 444.7h1M201.1 446.8h1M214.0 433.3h1M217.7 436.4h1M231.0 432.1h1M229.0 415.7h1M221.3 442.1h1M227.0 439.9h1M218.1 436.5h1M211.0 416.2h1M209.5 434.3h1M211.8 440.4h1M235.1 435.8h1M223.1 448.3h1M218.5 440.5h1M220.3 446.5h1M219.7 402.9h1M219.7 447.1h1M227.0 425.1h1M229.7 436.2h1M202.9 443.7h1M222.5 419.2h1M234.6 415.8h1M209.4 444.0h1M217.5 432.5h1M221.9 442.7h1M231.7 423.8h1M217.8 431.3h1M231.0 419.1h1M224.2 439.5h1M239.6 440.6h1M224.6 414.5h1M209.1 425.5h1M211.9 442.5h1M218.7 449.5h1M217.9 452.7h1M226.6 438.4h1M223.8 446.1h1M238.1 410.8h1M228.6 424.6h1M235.7 446.4h1M212.1 429.7h1M215.6 432.4h1M227.3 407.7h1M221.1 430.8h1M226.7 409.9h1M222.8 437.4h1M213.6 455.9h1M238.0 430.4h1M232.1 430.9h1M203.8 435.1h1M213.7 443.6h1M220.4 418.8h1M227.3 424.6h1M205.8 422.3h1M228.9 422.5h1M218.0 416.0h1M232.8 444.7h1M223.4 429.1h1M230.7 412.4h1M229.0 413.3h1M229.5 444.4h1M214.8 444.7h1M231.0 439.6h1M222.3 431.8h1M207.1 450.9h1M216.1 452.6h1M216.7 443.8h1M225.1 410.2h1M227.4 404.4h1M208.5 418.9h1M227.8 433.8h1M219.5 413.9h1M209.1 423.7h1M229.0 430.2h1M212.2 425.0h1M207.7 421.6h1M228.2 442.8h1M229.7 435.9h1M213.3 446.6h1M231.3 440.9h1M230.8 448.0h1M214.8 435.0h1M241.2 422.1h1M219.6 410.1h1M222.6 429.0h1M195.2 435.6h1M226.9 444.3h1M213.8 444.7h1M224.9 450.7h1M202.3 455.0h1M232.4 443.8h1M235.5 433.8h1M240.1 426.7h1M189.3 440.8h1M226.4 430.2h1M223.9 418.9h1M188.6 451.3h1M212.6 435.1h1M219.4 406.4h1M211.6 426.9h1M222.5 425.8h1M219.7 429.1h1M224.2 448.5h1M216.2 426.3h1M229.7 412.1h1M230.6 433.7h1M206.1 452.0h1M232.1 449.8h1M212.6 422.6h1M217.5 430.7h1M232.2 422.3h1M221.4 452.4h1M226.4 439.6h1M228.7 429.7h1M226.7 439.8h1M214.8 430.4h1M210.5 434.2h1M227.6 429.3h1M228.4 422.8h1M224.2 427.8h1M218.5 438.2h1M229.5 432.2h1M220.2 452.5h1M206.1 450.1h1M223.4 430.5h1M225.8 401.4h1M228.6 409.7h1M211.2 429.9h1M212.7 430.8h1M224.0 413.8h1M215.9 429.6h1M219.8 434.4h1M230.4 420.1h1M224.7 429.0h1M239.7 423.4h1M223.6 422.0h1M238.5 413.7h1M231.8 426.2h1M220.8 418.6h1M219.8 405.8h1M234.3 414.1h1M215.3 441.3h1M215.9 413.1h1M223.3 443.5h1M224.7 423.0h1M206.1 440.1h1M223.4 421.0h1M217.5 441.3h1M220.5 433.1h1M222.7 436.4h1M218.8 407.4h1M232.1 437.1h1M225.9 407.9h1M218.9 428.6h1M221.7 438.7h1M231.8 425.2h1M229.1 435.4h1M234.2 428.9h1M219.5 434.0h1M222.4 420.9h1M220.6 447.1h1M238.5 417.8h1M229.8 416.7h1M216.5 436.7h1M206.4 428.2h1M227.7 431.2h1M213.7 445.9h1M213.6 443.9h1M233.4 433.0h1M222.1 418.0h1M221.3 420.8h1M225.2 437.4h1M223.6 456.1h1M222.1 427.0h1M226.5 417.8h1M218.2 451.6h1M194.2 441.6h1M228.8 438.0h1M225.5 444.4h1M221.3 419.1h1M237.7 420.5h1M206.5 430.8h1M190.9 451.5h1M236.6 434.2h1M225.4 423.8h1M204.0 446.4h1M216.8 410.5h1M227.6 433.9h1M208.4 441.8h1M226.9 429.7h1M235.6 424.7h1M220.8 418.2h1M224.5 449.6h1M211.2 432.3h1M222.5 428.8h1M217.6 432.0h1M210.7 443.4h1M207.1 438.8h1M241.2 430.7h1M222.0 419.5h1M210.4 450.8h1M216.7 427.4h1M236.6 435.5h1M238.0 428.1h1M214.7 448.6h1M223.1 430.2h1M230.4 409.0h1M217.5 418.5h1M208.8 434.1h1M210.9 454.3h1M221.2 426.5h1M213.0 436.1h1M207.6 453.9h1M218.6 425.7h1M230.8 432.0h1M228.2 432.7h1M218.7 425.2h1M241.0 426.8h1M212.9 449.0h1M220.3 446.0h1M206.8 433.6h1M219.8 437.1h1M203.5 435.7h1M212.4 426.2h1M239.8 411.5h1M228.6 439.5h1M222.2 394.1h1M230.1 426.3h1M204.4 421.1h1M212.4 433.4h1M207.2 437.3h1M212.4 418.6h1M217.1 420.9h1M226.6 446.2h1M231.5 420.5h1M231.2 427.7h1M215.9 445.0h1M220.8 448.0h1M226.3 441.8h1M212.4 442.8h1M218.0 440.6h1M225.3 414.9h1M211.8 452.9h1M225.9 422.8h1M233.8 415.2h1M209.4 432.0h1M197.2 431.6h1M221.9 437.1h1M210.1 445.9h1M222.8 448.0h1M216.3 432.8h1M224.1 423.0h1M232.8 423.6h1M229.5 413.3h1M217.2 424.1h1M195.0 432.8h1M198.3 435.5h1M212.6 443.7h1M221.9 435.0h1M213.8 445.0h1M214.6 423.4h1M204.2 425.2h1M203.6 456.4h1M202.8 430.8h1M227.2 428.2h1M200.1 443.5h1M227.7 405.3h1M211.2 433.6h1M226.2 421.5h1M223.0 438.0h1M228.4 425.0h1M232.9 397.9h1M212.3 445.9h1M210.3 403.3h1M215.8 428.9h1M212.3 426.7h1M227.2 421.5h1M219.1 432.7h1M220.3 444.7h1M224.6 419.2h1M215.3 426.5h1M231.6 437.3h1M201.0 446.9h1M222.6 440.7h1M225.3 434.6h1M212.1 432.6h1M212.9 429.1h1M229.5 422.4h1M216.8 445.6h1M230.6 414.6h1M210.9 433.2h1M233.7 426.8h1M234.3 424.4h1M217.9 418.7h1M211.4 455.7h1M215.8 432.1h1M212.7 429.6h1M226.2 429.8h1M206.6 422.3h1M218.6 428.6h1M220.5 442.3h1M225.4 451.8h1M197.8 453.3h1M210.8 422.6h1M221.4 449.9h1M221.9 434.1h1M226.8 451.5h1M226.1 417.4h1M214.8 422.2h1M228.1 419.4h1M227.1 450.7h1M226.9 442.0h1M218.7 409.7h1M226.4 451.5h1M235.8 426.1h1M211.6 441.6h1M197.3 431.8h1M228.4 453.6h1M227.5 435.1h1M217.5 450.8h1M215.2 421.4h1M215.0 435.8h1M207.1 434.9h1M214.9 424.0h1M225.1 421.2h1M213.5 419.9h1M215.8 425.5h1M223.0 430.9h1M215.4 442.1h1M221.2 411.5h1M219.4 419.1h1M208.8 429.1h1M220.6 410.8h1M207.7 433.8h1M229.6 425.1h1M210.1 434.1h1M217.3 439.0h1M200.9 452.8h1M215.2 445.0h1M206.8 441.6h1M235.4 433.9h1M218.5 422.6h1M225.2 417.9h1M201.6 448.6h1M206.9 445.3h1M205.7 435.5h1M231.7 414.7h1M215.6 438.1h1M221.3 426.0h1M222.9 419.6h1M218.2 451.2h1M227.8 454.6h1M212.8 440.4h1M223.6 422.4h1M232.2 430.8h1M222.0 431.0h1M221.1 413.8h1M216.3 445.0h1M220.4 436.9h1M226.8 446.2h1M217.2 426.4h1M202.3 439.6h1M221.4 430.4h1M218.2 410.6h1M220.2 404.9h1M236.1 410.8h1M207.3 433.1h1M209.7 416.2h1M226.5 435.4h1M209.1 431.0h1M223.1 432.3h1M219.6 435.8h1M199.4 442.1h1M226.6 431.1h1M233.9 424.9h1M221.9 437.5h1M205.2 449.4h1M227.9 426.0h1M209.0 431.3h1M218.5 428.0h1M224.0 435.1h1M211.7 431.3h1M202.2 435.0h1M218.2 413.5h1M210.9 420.2h1M227.3 440.2h1M218.8 446.8h1M214.8 438.3h1M213.5 442.0h1M221.4 436.0h1M220.6 440.4h1M217.9 444.8h1M215.8 421.4h1M213.2 442.1h1M220.3 454.1h1M231.5 446.6h1M229.4 415.4h1M226.3 434.5h1M220.8 436.3h1M216.3 437.7h1M223.1 401.7h1M214.8 446.6h1M216.2 413.2h1M219.1 442.1h1M218.9 432.2h1M238.5 433.8h1M225.3 432.7h1M215.8 427.7h1M227.6 428.7h1M214.8 439.8h1M230.0 418.2h1M227.6 439.5h1M208.6 452.2h1M218.9 449.3h1M218.5 451.1h1M222.7 441.4h1M226.9 447.8h1M209.7 438.3h1M212.2 441.9h1M222.7 451.0h1M229.5 455.2h1M208.2 433.4h1M203.8 420.5h1M228.2 445.3h1M230.7 453.2h1M209.8 449.6h1M217.6 437.5h1M221.9 423.9h1M224.1 418.7h1M218.4 453.4h1M219.1 446.8h1M229.9 433.4h1M215.2 420.3h1M214.1 428.7h1M215.3 426.9h1M214.5 431.5h1M217.5 437.3h1M215.2 456.2h1M234.0 420.1h1M222.7 432.5h1M216.2 438.5h1M232.4 414.7h1M214.1 441.5h1M219.6 422.5h1M218.7 427.9h1M213.8 439.2h1M215.8 434.3h1M220.5 434.4h1M205.2 427.0h1M215.7 444.9h1M222.2 417.8h1M222.4 443.7h1M222.6 425.7h1M226.3 429.5h1M218.2 419.8h1M218.4 426.8h1M219.6 431.4h1M224.0 442.2h1M216.7 445.4h1M234.8 433.6h1M208.5 434.2h1M226.0 410.3h1M224.7 428.3h1M208.2 433.9h1M225.9 429.1h1M225.2 424.0h1M213.2 429.0h1M226.7 412.5h1M216.3 434.9h1M214.8 452.4h1M212.2 426.1h1M222.2 419.1h1M220.2 430.2h1M205.5 434.7h1M209.2 441.3h1M212.5 454.7h1M215.6 433.4h1M216.0 442.5h1M212.9 428.4h1M226.0 424.2h1M229.1 433.5h1M220.4 424.1h1M218.0 428.6h1M225.2 428.9h1M218.8 419.7h1M222.3 426.4h1M220.6 419.5h1M204.7 433.0h1M194.3 419.9h1M225.8 430.7h1M223.7 406.3h1M217.9 432.5h1M233.3 439.7h1M207.6 424.7h1M208.7 423.3h1M220.3 432.1h1M224.3 452.5h1M226.1 413.4h1M221.1 401.1h1M205.8 438.1h1M222.0 422.0h1M228.5 416.5h1M229.5 416.9h1M240.9 404.6h1M225.2 450.1h1M209.4 454.2h1M214.4 417.0h1M220.4 431.6h1M230.0 422.8h1M208.2 453.1h1M228.7 418.2h1M226.1 452.8h1M210.9 437.0h1M225.7 420.1h1M212.0 435.3h1M219.6 425.4h1M222.0 434.4h1M207.8 431.6h1M224.8 432.5h1M215.5 421.9h1M214.0 412.6h1M235.3 444.8h1M224.9 439.5h1M214.7 429.2h1M210.7 435.9h1M219.9 448.3h1M213.3 398.6h1M241.9 441.5h1M191.9 442.3h1M220.2 442.3h1M195.1 442.7h1M211.6 428.1h1M235.6 441.8h1M214.2 399.8h1M230.4 429.3h1M221.6 443.3h1M231.4 407.2h1M219.8 405.3h1M190.0 446.9h1M212.4 450.2h1M204.1 456.0h1M229.0 419.9h1M225.0 435.8h1M219.7 413.8h1M224.1 455.4h1M221.6 424.5h1M213.9 453.2h1M239.1 421.5h1M222.0 427.7h1M217.7 456.4h1M205.0 427.3h1M213.4 453.6h1M219.7 428.3h1M217.8 421.8h1M214.9 423.6h1M219.1 449.0h1M208.4 436.7h1M219.7 428.3h1M204.2 418.8h1M211.0 453.0h1M212.2 450.7h1M228.3 434.1h1M224.5 441.9h1M208.1 430.6h1M215.6 437.1h1M227.6 431.3h1M232.1 420.1h1M204.9 442.5h1M215.3 424.9h1M220.7 423.7h1M223.1 414.5h1M219.7 435.0h1M226.3 420.4h1M205.2 432.2h1M235.2 445.9h1M208.2 437.3h1M220.2 432.4h1M224.8 409.8h1M231.3 421.1h1M228.7 443.0h1M228.4 437.2h1M232.4 428.6h1M218.1 431.3h1M227.2 431.0h1M235.1 432.3h1M212.1 431.8h1M205.7 404.5h1M233.8 443.0h1M232.1 425.8h1M216.1 454.1h1M222.2 414.0h1M224.5 449.0h1M230.2 431.4h1M200.9 453.2h1M214.1 430.6h1M217.1 436.3h1M222.9 439.9h1M220.5 447.3h1M216.6 441.5h1M222.6 438.0h1M194.0 435.6h1M228.0 432.6h1M228.6 426.3h1M213.2 431.3h1M223.9 414.7h1M240.4 414.3h1M238.0 404.5h1M220.5 435.6h1M207.4 437.1h1M221.4 435.4h1M216.8 417.0h1M228.3 423.7h1M207.0 429.5h1M217.9 447.6h1M222.5 411.3h1M215.1 414.0h1M230.4 446.4h1M208.4 442.8h1M207.4 416.5h1M216.3 453.2h1M228.1 450.3h1M216.8 450.1h1M213.9 407.0h1M227.9 431.4h1M222.1 420.2h1M214.5 431.6h1M221.1 410.7h1M225.9 420.9h1M221.3 436.3h1M211.8 447.5h1M215.0 443.5h1M215.7 440.5h1M223.5 426.1h1M223.6 434.5h1M211.5 433.5h1M217.9 402.4h1M222.9 445.6h1M230.9 419.8h1M222.3 424.8h1M239.4 419.2h1M220.1 413.7h1M227.2 413.2h1M216.5 409.4h1M209.8 443.7h1M220.9 448.9h1M224.7 432.1h1M223.1 415.8h1M221.3 450.5h1M216.5 430.0h1M211.6 414.4h1M216.8 408.2h1M224.5 433.6h1M229.4 449.0h1M186.7 441.4h1M225.9 421.7h1M230.7 424.7h1M232.5 416.0h1M223.7 423.9h1M226.5 433.7h1M215.3 424.9h1M218.9 446.3h1M225.1 417.3h1M208.8 447.4h1M211.9 441.1h1M221.8 426.8h1M206.4 434.4h1M220.3 428.3h1M221.8 421.0h1M220.1 449.3h1M214.1 449.3h1M210.3 432.2h1M197.3 409.4h1M215.8 438.0h1M221.0 434.3h1M231.9 428.2h1M214.7 446.7h1M218.0 428.2h1M233.8 424.6h1M237.3 441.7h1M214.9 433.4h1M230.3 414.3h1M231.6 436.0h1M225.0 429.7h1M209.9 429.3h1M210.3 444.6h1M225.6 419.9h1M243.3 409.7h1M218.0 430.1h1M235.6 423.8h1M238.9 425.8h1M207.2 421.5h1M235.0 436.0h1M229.6 430.9h1M225.3 433.9h1M219.7 398.4h1M226.1 443.1h1M213.4 421.5h1M208.2 421.3h1M201.7 454.1h1M221.3 425.0h1M234.4 424.0h1M214.8 456.2h1M219.3 446.9h1M209.5 418.2h1M219.1 423.6h1M209.6 439.9h1M209.7 433.9h1M205.0 450.3h1M214.3 425.8h1M238.6 399.3h1M219.2 420.6h1M221.7 429.6h1M213.4 445.9h1M209.7 454.4h1M225.1 434.1h1M207.4 435.3h1M223.2 441.7h1M231.5 426.8h1M208.9 431.0h1M214.5 428.7h1M236.9 438.7h1M212.9 454.0h1M222.2 409.9h1M216.6 449.4h1M211.2 421.0h1M235.9 421.6h1M213.9 443.5h1M223.1 413.2h1M215.6 417.7h1M217.5 423.6h1M229.2 444.0h1M215.5 422.4h1M232.7 429.6h1M208.0 439.7h1M214.9 439.3h1M224.6 421.2h1M220.9 452.5h1M213.2 430.5h1M218.4 444.9h1M206.7 415.1h1M220.3 438.2h1M193.0 446.1h1M221.5 451.1h1M228.8 436.9h1M228.4 440.7h1M215.6 431.1h1M224.7 449.1h1M218.9 445.6h1M218.8 444.6h1M229.1 435.2h1M224.4 448.1h1M228.3 437.8h1M210.2 427.5h1M226.8 415.6h1M224.7 447.3h1M197.2 450.7h1M202.0 431.1h1M220.3 433.2h1M213.1 456.1h1M219.6 409.4h1M213.3 423.2h1M234.9 436.4h1M200.6 452.4h1M206.0 422.5h1M209.9 423.3h1M206.0 441.0h1M213.9 454.9h1M219.5 433.3h1M206.2 406.5h1M223.5 445.7h1M233.1 427.2h1M230.9 422.1h1M240.1 408.6h1M231.3 444.8h1M219.5 436.9h1M237.8 431.2h1M227.0 434.9h1M238.8 431.2h1M217.9 445.4h1M208.0 423.2h1M221.7 431.2h1M225.4 424.4h1M230.0 424.8h1M208.2 415.5h1M212.8 435.6h1M229.9 418.7h1M220.4 422.5h1M220.9 426.4h1M234.1 409.0h1M231.0 401.6h1M221.9 430.4h1M202.7 427.1h1M219.8 441.6h1M223.9 449.8h1M202.4 416.0h1M235.7 420.2h1M240.1 428.5h1M225.0 419.2h1M229.3 435.3h1M235.1 409.5h1M218.2 424.4h1M230.5 426.9h1M223.9 437.3h1M204.5 439.9h1M210.9 427.3h1M214.3 430.2h1M230.8 399.2h1M230.0 423.1h1M215.2 430.8h1M207.1 441.9h1M223.9 421.9h1M218.0 410.8h1M232.0 425.5h1M208.8 426.5h1M217.9 426.1h1M205.5 438.9h1M224.9 434.2h1M222.5 449.8h1M216.0 432.5h1M213.4 411.7h1M204.7 447.4h1M211.7 449.2h1M232.5 404.9h1M216.5 442.8h1M232.8 430.2h1M211.3 429.0h1M219.2 435.6h1M215.4 440.2h1M217.4 442.2h1M227.8 445.5h1M199.3 441.3h1M227.5 429.7h1M220.0 418.0h1M220.8 428.7h1M217.8 428.9h1M227.0 440.6h1M220.6 448.0h1M211.5 418.1h1M221.6 449.3h1M229.7 412.4h1M220.3 423.5h1M222.1 447.3h1M215.0 431.2h1M215.4 444.6h1M201.0 430.4h1M218.2 435.5h1M230.0 429.1h1M216.1 435.8h1M210.9 447.7h1M229.1 423.0h1M221.7 427.7h1M221.5 414.1h1M224.8 429.0h1M227.1 423.2h1M219.6 445.3h1M211.6 445.7h1M237.6 415.6h1M220.6 438.8h1M212.2 454.3h1M221.9 429.2h1M232.0 411.7h1M233.2 435.1h1M218.7 443.2h1M226.7 419.1h1M219.0 437.6h1M232.6 401.4h1M232.8 434.4h1M216.5 439.8h1M222.4 421.1h1M214.9 423.2h1M229.3 426.6h1M205.9 435.6h1M218.3 455.6h1M198.7 438.4h1M226.0 428.2h1M197.7 439.7h1M209.4 415.1h1M222.7 425.0h1M216.5 415.6h1M215.6 436.5h1M210.3 406.5h1M215.4 419.2h1M202.5 443.7h1M223.3 402.4h1M228.1 407.9h1M227.7 443.5h1M219.7 414.6h1M232.3 427.7h1M224.7 435.2h1M229.6 414.2h1M224.0 407.8h1M220.4 453.9h1M212.4 428.3h1M193.7 450.9h1M226.5 419.7h1M218.9 438.4h1M239.9 406.4h1M200.2 422.0h1M228.5 414.9h1M210.6 428.1h1M220.0 424.2h1M211.2 432.0h1M223.5 437.4h1M219.7 425.6h1M228.8 442.2h1M221.5 423.1h1M224.8 440.1h1M232.8 445.7h1M225.2 454.8h1M218.7 405.9h1M232.4 451.6h1M218.9 408.9h1M224.1 450.8h1M216.8 434.0h1M213.4 440.5h1M190.1 432.2h1M227.0 442.9h1M208.5 447.1h1M227.4 422.2h1M238.1 416.9h1M206.9 450.2h1M228.8 443.5h1M219.1 443.9h1M224.6 425.7h1M208.1 437.9h1M220.4 445.7h1M221.6 443.8h1M234.4 442.6h1M223.2 421.8h1M216.4 438.4h1M242.2 430.0h1M219.0 425.9h1M219.5 439.3h1M221.1 420.9h1M224.8 434.5h1M227.2 421.6h1M219.0 449.8h1M238.9 428.7h1M236.1 408.1h1M224.6 414.0h1M222.9 441.4h1M217.8 431.7h1M230.4 432.9h1M215.0 413.2h1M221.4 411.5h1M215.6 436.3h1M213.9 432.6h1M220.5 414.2h1M220.2 421.8h1M214.4 446.1h1M219.5 427.1h1M220.8 440.5h1M213.6 440.2h1M218.8 435.2h1M227.2 421.7h1M231.2 445.1h1M222.0 412.1h1M217.5 418.8h1M219.9 432.7h1M239.2 404.6h1M229.3 442.6h1M210.7 428.1h1M219.6 440.4h1M214.9 430.7h1M216.5 430.9h1M203.4 440.0h1M220.4 405.6h1M216.0 420.9h1M229.5 431.5h1M228.5 432.4h1M210.0 443.7h1M230.3 398.2h1M234.0 406.6h1M228.8 430.9h1M206.8 434.9h1M218.2 427.4h1M210.7 451.1h1M221.5 447.9h1M226.4 432.3h1M220.8 425.7h1M222.0 441.6h1M225.2 434.7h1M229.1 435.7h1M214.0 417.5h1M213.9 441.0h1M233.4 450.6h1M217.3 426.0h1M212.2 436.2h1M223.9 423.3h1M217.2 446.6h1M222.2 392.2h1M227.5 434.7h1M230.5 420.1h1M212.2 438.6h1M208.1 455.8h1M237.7 426.9h1M213.7 444.8h1M201.0 442.7h1M220.5 442.5h1M201.7 449.3h1M210.9 423.6h1M209.8 448.7h1M223.3 422.4h1M220.7 437.3h1M207.5 443.9h1M219.0 445.9h1M227.8 418.4h1M222.5 428.1h1M221.7 441.1h1M228.1 414.6h1M225.6 440.7h1M214.9 433.6h1M234.9 448.9h1M224.6 399.1h1M229.5 426.5h1M209.7 452.5h1M209.4 413.2h1M218.9 417.3h1M212.4 442.2h1M227.3 426.6h1M225.1 421.8h1M233.7 428.0h1M227.0 401.8h1M209.0 421.0h1M230.8 454.5h1M214.0 421.7h1M213.1 441.1h1M221.5 428.1h1M220.7 444.5h1M231.7 429.4h1M225.3 447.4h1M236.1 427.0h1M218.6 400.8h1M224.4 416.0h1M216.4 450.3h1M234.9 417.9h1M225.6 399.1h1M225.5 414.5h1M238.8 440.9h1M219.0 451.7h1M214.0 404.9h1M220.6 405.8h1M227.9 415.4h1M228.7 401.6h1M236.3 423.2h1M209.7 416.2h1M216.3 440.1h1M237.2 416.9h1M244.7 407.0h1M214.3 444.3h1M219.8 437.7h1M204.7 440.2h1M212.2 427.6h1M211.6 433.4h1M219.8 396.3h1M208.4 401.8h1M230.6 412.4h1M220.3 432.1h1M230.5 431.2h1M218.1 413.6h1M207.9 427.7h1M221.2 407.1h1M221.9 427.2h1M226.4 425.8h1M218.8 435.1h1M218.6 448.7h1M226.2 438.4h1M193.2 423.8h1M207.9 450.9h1M214.6 415.0h1M218.0 437.5h1M236.1 422.9h1M227.5 424.1h1M225.0 425.4h1M228.0 420.8h1M236.7 436.0h1M210.6 440.2h1M215.7 427.4h1M222.5 443.0h1M225.4 453.1h1M204.2 428.9h1M228.9 423.6h1M229.7 427.5h1M197.2 412.3h1M222.9 403.3h1M214.4 439.8h1M230.8 402.7h1M241.8 420.5h1M226.1 441.1h1M209.4 444.6h1M205.8 422.5h1M208.6 424.7h1M210.2 451.2h1M232.6 422.1h1M223.9 429.9h1M220.6 445.9h1M221.0 433.8h1M221.2 451.2h1M214.3 444.9h1M221.2 416.6h1M208.6 452.8h1M238.2 452.9h1M222.1 417.8h1M215.1 420.1h1M231.1 421.5h1M209.8 428.3h1M240.5 396.4h1M215.1 421.6h1M216.7 439.3h1M212.0 425.0h1M207.8 439.5h1M223.5 451.9h1M224.2 443.0h1M214.1 416.1h1M231.9 440.9h1M194.1 443.6h1M225.2 433.2h1M221.3 446.0h1M220.8 442.9h1M214.2 410.3h1M239.1 400.1h1M216.5 436.4h1M225.3 439.4h1M217.0 441.9h1M221.7 422.7h1M227.9 417.3h1M209.1 423.3h1M215.9 409.6h1M206.1 414.6h1M225.0 417.7h1M211.9 435.8h1M213.0 420.2h1M227.6 426.1h1M220.7 424.6h1M225.0 423.2h1M219.3 422.7h1M225.1 432.2h1M221.7 429.2h1M223.0 432.8h1M217.2 433.1h1M218.3 420.2h1M223.7 430.8h1M215.0 420.4h1M209.7 437.4h1M233.2 407.7h1M240.0 431.0h1M217.2 437.3h1M232.8 397.9h1M224.8 415.1h1M214.1 445.1h1M212.0 441.0h1M217.8 433.3h1M216.3 412.1h1M217.3 419.4h1M219.5 432.9h1M208.9 440.7h1M229.8 424.3h1M209.0 421.2h1M209.6 431.3h1M230.5 415.7h1M228.7 405.0h1M236.0 402.3h1M222.2 414.6h1M214.0 406.9h1M232.8 431.1h1M219.8 443.1h1M219.5 445.3h1M211.9 420.5h1M225.0 414.1h1M196.0 446.7h1M226.3 418.3h1M199.8 435.0h1M229.9 419.0h1M204.5 410.1h1M227.9 447.4h1M217.9 403.6h1M208.6 449.6h1M241.2 399.5h1M216.2 450.1h1M209.1 441.3h1M233.9 428.4h1M191.0 438.4h1M205.2 413.0h1M207.0 416.0h1M213.5 434.8h1M199.5 438.5h1M229.4 403.8h1M231.5 403.8h1M220.2 414.5h1M216.4 430.4h1M204.4 445.4h1M225.7 442.1h1M213.4 426.6h1M227.2 450.4h1M231.5 435.8h1M221.3 454.3h1M198.6 425.8h1M211.0 444.3h1M235.1 440.3h1M223.7 397.2h1M235.7 437.1h1M197.3 448.6h1M219.6 445.5h1M218.9 433.1h1M214.0 425.5h1M231.1 414.8h1M226.5 438.5h1M215.2 444.5h1M224.2 404.3h1M233.3 443.1h1M209.5 455.3h1M223.9 445.1h1M231.8 410.9h1M213.6 454.6h1M234.5 430.8h1M219.9 445.5h1M232.5 422.1h1M230.5 416.6h1M223.6 415.6h1M217.8 420.3h1M213.9 448.1h1M222.6 415.0h1M223.0 417.4h1M235.6 427.0h1M219.9 425.1h1M238.5 408.5h1M224.2 421.1h1M225.6 454.1h1M237.7 431.6h1M221.8 411.5h1M225.0 408.0h1M228.8 417.1h1M219.6 433.6h1M209.2 421.9h1M205.5 444.7h1M218.7 406.2h1M232.7 428.5h1M231.3 443.9h1M230.4 423.6h1M214.0 437.0h1M205.6 444.9h1M215.4 433.7h1M218.1 429.4h1M213.0 438.1h1M230.5 425.8h1M212.5 435.0h1M226.9 452.8h1M229.0 442.3h1M202.6 454.5h1M216.4 420.6h1M234.0 413.8h1M229.7 442.5h1M222.1 410.5h1M209.2 452.6h1M213.5 410.0h1M234.1 443.3h1M226.0 417.0h1M219.9 421.7h1M229.0 423.9h1M210.4 445.0h1M221.2 424.5h1M232.2 432.6h1M212.6 440.5h1M221.1 423.9h1M213.0 443.2h1M222.3 436.0h1M217.0 402.7h1M215.0 435.9h1M218.8 421.4h1M222.8 434.0h1M227.3 400.5h1M212.2 444.6h1M213.2 418.1h1M234.0 413.0h1M225.2 417.1h1M230.1 412.0h1M208.7 430.6h1M231.2 425.3h1M202.7 433.8h1M212.9 425.7h1M234.1 407.6h1M221.1 455.6h1M223.2 430.6h1M222.0 428.6h1M220.3 422.2h1M219.0 414.5h1M206.1 453.1h1M238.2 406.7h1M219.2 421.0h1M233.5 393.7h1M204.4 419.0h1M226.5 417.3h1M208.4 427.2h1M207.3 410.3h1M223.6 417.1h1M231.6 421.0h1M234.7 431.6h1M217.9 425.8h1M229.0 401.7h1M214.5 427.6h1M215.1 439.5h1M223.3 427.5h1M219.6 430.3h1M229.7 424.4h1M201.6 450.2h1M232.7 399.4h1M214.7 422.1h1M236.3 427.3h1M232.8 423.0h1M208.7 417.1h1M220.3 424.3h1M227.9 413.2h1M212.5 433.6h1M213.0 404.7h1M217.6 402.8h1M228.6 400.1h1M230.3 421.5h1M229.5 441.0h1M236.2 441.5h1M230.4 423.9h1M212.0 439.5h1M223.8 428.4h1M229.4 442.8h1M225.3 405.7h1M216.8 393.5h1M211.1 413.6h1M234.1 445.8h1M219.3 444.9h1M240.3 421.7h1M208.9 431.0h1M217.4 427.6h1M214.2 438.9h1M240.1 403.8h1M233.8 435.1h1M215.7 414.8h1M232.9 416.6h1M222.3 412.2h1M209.1 430.0h1M205.2 421.1h1M225.1 424.2h1M218.8 398.9h1M222.4 419.4h1M225.0 427.8h1M217.0 437.3h1M218.1 423.5h1M227.8 445.7h1M219.8 400.3h1M218.0 426.4h1M227.6 416.8h1M200.3 439.4h1M233.9 417.3h1M225.6 449.8h1M212.9 432.8h1M219.1 413.7h1M226.7 426.2h1M202.4 435.6h1M210.4 449.3h1M222.9 417.3h1M239.6 414.9h1M228.9 439.2h1M218.9 409.3h1M227.0 417.6h1M221.1 444.6h1M225.0 425.1h1M198.7 438.5h1M231.5 441.6h1M226.6 400.3h1M216.4 419.0h1M212.1 419.6h1M208.4 399.9h1M222.5 420.7h1M222.8 443.2h1M238.8 430.5h1M212.9 430.3h1M230.9 446.2h1M218.4 415.0h1M211.2 411.3h1M223.2 433.4h1M225.2 426.5h1M237.8 430.6h1M223.7 427.0h1M216.4 452.3h1M215.8 443.2h1M212.5 437.4h1M226.1 419.4h1M229.5 436.2h1M218.6 418.4h1M219.6 445.8h1M235.4 440.8h1M222.1 444.3h1M226.2 403.9h1M209.7 442.2h1M214.7 438.3h1M198.8 455.4h1M206.8 409.4h1M224.8 416.3h1M234.0 420.4h1M218.2 454.1h1M208.6 424.9h1M222.0 443.5h1M232.9 424.9h1M230.6 429.2h1M220.4 401.2h1M208.2 430.6h1M211.6 438.1h1M218.3 451.9h1M227.1 420.6h1M218.5 408.2h1M224.0 427.7h1M223.2 425.4h1M216.4 454.1h1M219.9 445.3h1M218.4 405.9h1M237.3 413.0h1M234.8 426.1h1M217.7 413.7h1M226.8 416.7h1M213.5 453.2h1M209.6 447.4h1M221.8 398.5h1M227.4 431.4h1M220.4 431.8h1M229.6 420.7h1M229.6 433.9h1M228.9 434.7h1M206.9 440.2h1M239.8 406.2h1M216.1 422.7h1M228.6 437.1h1M217.4 441.2h1M240.0 428.0h1M228.0 429.7h1M220.9 421.1h1M216.7 432.4h1M211.0 413.2h1M207.9 448.7h1M227.0 433.8h1M216.4 434.4h1M216.3 416.5h1M226.3 421.5h1M217.4 420.8h1M227.8 430.5h1M214.4 427.4h1M215.6 437.9h1M230.6 439.9h1M213.9 454.5h1M227.4 407.8h1M226.3 420.3h1M221.1 409.9h1M207.4 421.4h1M207.6 427.3h1M230.0 441.9h1M212.0 424.3h1M208.1 431.8h1M215.8 433.8h1M220.0 431.0h1M203.7 435.5h1M227.3 437.1h1M228.5 445.6h1M214.8 447.1h1M229.4 416.2h1M204.9 405.4h1M215.3 433.9h1M221.7 440.2h1M232.9 433.4h1M217.6 409.7h1M210.5 444.5h1M223.2 416.3h1M222.6 450.0h1M225.6 413.3h1M217.5 416.4h1M222.8 416.7h1M215.1 436.2h1M226.8 407.9h1M214.6 425.9h1M233.1 452.9h1M213.1 428.2h1M221.0 423.5h1M226.9 413.6h1M217.7 417.6h1M230.3 431.6h1M215.0 452.8h1M231.5 425.2h1M204.9 422.1h1M207.0 440.0h1M221.7 414.9h1M237.6 422.3h1M212.1 403.5h1M220.7 418.2h1M215.9 432.6h1M198.8 433.7h1M228.5 420.5h1M235.1 438.0h1M223.9 453.7h1M215.5 435.6h1M213.8 436.7h1M225.7 415.7h1M215.9 437.4h1M223.1 432.9h1M209.2 445.5h1M221.8 430.6h1M232.8 436.7h1M225.4 412.0h1M217.6 439.3h1M214.1 414.6h1M212.8 451.8h1M208.7 452.3h1M215.7 428.2h1M223.7 418.7h1M215.1 431.5h1M237.8 429.5h1M224.9 400.8h1M216.4 414.0h1M220.6 445.2h1M236.1 417.1h1M203.4 416.0h1M231.3 393.1h1M211.6 435.9h1M222.3 426.6h1M214.0 443.3h1M218.2 409.5h1M217.6 412.7h1M206.3 432.8h1M186.9 432.1h1M226.3 424.8h1M216.5 418.0h1M228.8 410.7h1M228.2 418.3h1M203.4 434.1h1M236.6 406.9h1M229.9 434.1h1M229.3 444.5h1M221.1 406.2h1M220.9 420.1h1M215.4 424.8h1M225.3 402.0h1M230.5 400.7h1M215.1 425.0h1M229.4 408.3h1M216.2 436.1h1M227.1 439.0h1M219.5 432.2h1M229.9 428.4h1M223.3 416.6h1M215.9 437.5h1M216.6 440.3h1M227.4 423.2h1M215.9 440.1h1M231.1 418.5h1M224.1 406.6h1M230.3 428.5h1M215.3 423.9h1M211.1 404.2h1M213.3 446.5h1M225.1 432.4h1M212.9 444.8h1M228.2 416.2h1M214.1 439.9h1M219.3 445.6h1M202.1 426.9h1M214.7 426.1h1M220.3 428.0h1M218.5 429.8h1M228.7 449.4h1M212.3 452.4h1M204.2 440.9h1M222.4 402.1h1M222.0 426.5h1M222.8 417.8h1M233.6 446.5h1M218.8 421.1h1M212.3 435.2h1M214.9 447.4h1M231.8 431.3h1M224.8 430.7h1M233.5 454.6h1M200.4 441.2h1M216.8 411.8h1M231.1 421.1h1M222.4 426.9h1M226.8 418.8h1M230.0 435.4h1M224.1 439.1h1M208.1 450.5h1M224.9 434.4h1M213.8 436.5h1M196.1 424.2h1M218.0 424.1h1M226.7 410.8h1M222.3 433.1h1M221.2 426.3h1M239.0 418.1h1M223.9 435.7h1M230.5 418.4h1M224.5 444.5h1M238.1 437.0h1M217.3 414.4h1M233.3 443.9h1M239.9 412.7h1M217.2 418.1h1M231.9 417.3h1M207.1 414.3h1M224.4 432.3h1M228.7 444.6h1M212.5 407.3h1M202.6 445.3h1M221.6 437.8h1M217.7 441.2h1M223.1 438.1h1M224.2 434.0h1M229.8 415.9h1M237.3 434.7h1M225.6 431.5h1M205.3 450.0h1M228.1 429.8h1M225.2 421.8h1M222.7 426.7h1M237.6 429.8h1M223.9 444.3h1M217.5 398.1h1M226.0 404.2h1M204.7 409.6h1M231.1 414.1h1M221.9 416.6h1M238.7 422.3h1M228.3 419.3h1M225.1 448.5h1M223.2 416.8h1M209.0 422.7h1M220.4 414.8h1M224.4 421.5h1M231.5 425.5h1M225.8 417.7h1M228.5 408.8h1M228.4 401.5h1M215.9 434.1h1M224.5 417.2h1M219.1 412.7h1M208.4 430.4h1M205.7 441.9h1M236.2 447.5h1M236.1 405.3h1M212.6 425.1h1M213.5 401.1h1M226.4 440.6h1M239.0 416.1h1M222.3 402.8h1M233.6 410.2h1M215.0 422.9h1M217.9 418.7h1M230.5 447.7h1M219.7 396.4h1M222.7 419.6h1M222.4 431.5h1M210.8 441.6h1M220.0 431.8h1M218.0 408.5h1M216.8 420.6h1M222.1 400.8h1M211.8 445.9h1M217.9 446.8h1M229.6 418.6h1M212.3 403.2h1M210.9 448.1h1M211.9 453.1h1M223.8 408.2h1M207.7 451.0h1M218.0 408.3h1M230.7 425.5h1M217.4 406.6h1M229.8 436.2h1M210.0 435.1h1M227.5 433.1h1M232.3 431.0h1M214.2 453.9h1M226.6 449.5h1M212.9 415.1h1M236.1 440.4h1M219.2 432.1h1M231.4 436.9h1M223.2 432.8h1M203.6 441.7h1M225.4 409.6h1M232.5 415.8h1M234.7 415.9h1M238.3 437.9h1M225.4 434.5h1M220.2 436.0h1M222.0 426.3h1M209.2 456.2h1M228.8 409.4h1M224.9 442.7h1M213.3 426.0h1M227.9 435.9h1M234.2 435.3h1M215.0 407.3h1M215.8 427.8h1M217.9 411.1h1M210.6 442.3h1M212.0 451.0h1M218.3 426.2h1M195.8 450.8h1M224.2 429.4h1M212.1 437.5h1M223.2 437.2h1M221.1 446.6h1M222.2 439.9h1M205.9 436.4h1M220.0 430.4h1M201.6 447.7h1M219.1 439.8h1M212.0 427.4h1M214.9 422.5h1M217.8 426.7h1M229.9 432.0h1M233.8 414.7h1M221.5 410.6h1M210.0 429.2h1M236.6 412.5h1M206.6 446.8h1M215.4 423.3h1M218.9 423.2h1M235.0 429.1h1M225.3 411.2h1M232.3 443.2h1M218.0 424.4h1M230.2 410.6h1M219.5 440.6h1M219.6 406.1h1M224.2 426.2h1M225.2 436.2h1M227.0 438.3h1M218.9 421.3h1M205.5 428.9h1M217.8 429.3h1M218.1 400.5h1M212.6 447.2h1M229.6 429.5h1M217.5 450.2h1M204.5 423.3h1M225.4 431.7h1M226.1 419.8h1M212.4 440.2h1M224.1 441.9h1M222.6 417.7h1M213.9 413.3h1M224.0 439.3h1M234.1 416.2h1M212.2 451.3h1M225.7 450.5h1M231.5 419.7h1M227.8 422.7h1M204.4 425.8h1M224.0 393.6h1M217.0 431.1h1M233.8 434.6h1M219.7 447.6h1M241.4 418.0h1M226.2 417.6h1M211.9 433.6h1M239.5 410.3h1M237.4 413.1h1M211.4 429.6h1M228.9 413.5h1M220.6 422.4h1M204.1 442.9h1M210.1 436.8h1M222.0 411.1h1M226.4 434.9h1M217.1 417.6h1M224.1 435.2h1M224.3 428.7h1M224.0 395.4h1M208.7 418.4h1M222.4 444.4h1M226.6 415.5h1M205.5 426.4h1M237.0 413.5h1M236.2 423.1h1M222.7 438.0h1M211.2 424.9h1M214.5 424.9h1M213.6 430.1h1M240.2 421.9h1M221.5 453.5h1M224.8 421.6h1M237.6 417.7h1M222.8 439.0h1M217.1 429.3h1M223.9 442.3h1M234.1 404.5h1M218.9 444.7h1M224.2 436.4h1M219.2 441.5h1M241.6 403.1h1M218.5 442.3h1M235.4 432.6h1M226.9 410.3h1M222.7 432.7h1M221.6 414.7h1M229.6 405.1h1M227.5 400.4h1M224.9 423.5h1M227.9 407.8h1M212.1 398.9h1M214.3 437.6h1M210.7 405.7h1M217.5 442.8h1M218.9 434.4h1M217.2 417.2h1M226.6 399.4h1M211.2 418.9h1M218.5 407.6h1M230.0 417.9h1M238.5 413.6h1M235.3 411.5h1M210.5 444.1h1M223.6 445.2h1M217.0 414.5h1M225.3 440.5h1M226.6 422.3h1M219.6 444.3h1M218.5 442.4h1M226.6 402.1h1M212.5 419.4h1M203.5 401.5h1M221.3 416.1h1M213.6 409.4h1M219.0 434.7h1M209.6 422.0h1M211.3 444.3h1M210.4 432.7h1M207.8 430.2h1M212.9 453.2h1M221.3 406.2h1M214.6 445.4h1M226.9 433.5h1M208.2 404.9h1M211.7 427.4h1M221.4 404.7h1M221.7 416.6h1M223.4 449.4h1M219.7 430.3h1M232.3 426.7h1M229.6 437.1h1M215.3 416.4h1M218.7 449.1h1M206.9 440.2h1M227.7 408.9h1M218.8 420.2h1M240.5 414.4h1M213.9 443.1h1M236.5 445.2h1M211.4 428.7h1M203.6 434.3h1M231.3 454.4h1M211.9 437.0h1M230.8 417.5h1M215.5 443.6h1M215.6 437.0h1M217.8 417.0h1M237.8 443.4h1M224.0 412.8h1M205.3 423.6h1M222.5 419.3h1M223.7 405.7h1M237.6 434.1h1M211.9 408.9h1M213.6 444.3h1M211.4 440.8h1M214.1 445.4h1M227.7 399.8h1M212.6 435.8h1M233.9 426.8h1M221.1 444.1h1M211.4 440.5h1M214.1 422.5h1M206.7 456.2h1M232.6 446.2h1M229.8 411.4h1M210.7 443.5h1M216.1 415.7h1M237.2 417.4h1M213.3 446.0h1M223.0 403.0h1M218.7 451.4h1M218.8 416.8h1M217.2 421.0h1M221.9 427.1h1M204.7 435.1h1M221.2 407.8h1M222.6 425.8h1M207.1 409.5h1M225.3 415.9h1M193.7 442.2h1M200.7 432.9h1M221.7 455.9h1M226.4 431.6h1M216.3 442.3h1M205.7 427.1h1M219.0 449.1h1M230.1 418.4h1M220.2 444.6h1M205.5 448.3h1M218.5 447.5h1M218.8 429.8h1M221.2 410.4h1M226.4 420.8h1M219.5 417.7h1M219.5 422.0h1M232.7 429.4h1M208.0 450.0h1M219.2 413.9h1M211.6 446.4h1M223.3 404.6h1M215.0 436.4h1M188.9 443.1h1M230.4 429.4h1M213.8 440.1h1M209.3 423.3h1M205.1 451.4h1M209.6 426.2h1M207.2 438.3h1M219.1 454.7h1M222.0 412.3h1M219.8 430.9h1M224.2 455.2h1M212.0 455.7h1M226.8 414.0h1M219.5 418.9h1M225.1 436.3h1M226.9 414.4h1M216.8 432.4h1M233.3 398.5h1M228.8 435.9h1M216.4 403.3h1M238.6 421.9h1M237.7 432.4h1M204.8 425.7h1M197.5 413.8h1M214.2 410.2h1M225.4 393.0h1M230.2 455.4h1M220.5 406.6h1M230.5 429.6h1M227.9 426.1h1M216.1 449.5h1M222.5 451.2h1M231.6 431.2h1M214.1 431.4h1M214.2 422.6h1M212.1 430.4h1M235.6 437.8h1M227.6 436.2h1M229.3 435.5h1M216.9 401.6h1M220.4 415.8h1M233.1 410.4h1M217.8 421.0h1M232.8 404.0h1M220.5 441.1h1M220.5 447.8h1M229.5 415.2h1M238.7 417.8h1M217.2 432.6h1M238.0 419.8h1M212.9 418.4h1M211.9 447.8h1M197.8 405.5h1M229.4 416.0h1M208.5 446.6h1M217.4 406.3h1M218.1 410.1h1M204.8 437.2h1M221.5 410.3h1M223.8 431.8h1M215.6 424.9h1M222.1 406.8h1M226.9 411.4h1M206.3 446.7h1M219.8 431.7h1M226.5 433.9h1M192.1 439.1h1M224.1 444.0h1M238.4 425.9h1M234.2 398.0h1M217.8 435.1h1M227.0 421.8h1M219.2 437.0h1M209.1 418.6h1M203.3 452.6h1M207.1 452.0h1M218.0 440.2h1M223.9 434.4h1M222.6 393.9h1M200.2 449.9h1M214.5 404.1h1M207.2 435.0h1M202.4 434.0h1M224.6 398.4h1M229.4 391.8h1M212.9 442.1h1M214.2 424.1h1M225.3 445.9h1M229.9 423.5h1M232.9 425.8h1M230.5 455.2h1M220.9 435.3h1M209.4 436.6h1M226.7 435.6h1M227.9 412.0h1M238.9 408.2h1M237.1 417.2h1M217.2 410.8h1M226.3 435.4h1M219.7 415.0h1M221.7 430.2h1M235.9 441.4h1M213.8 455.9h1M218.1 451.6h1M220.5 441.2h1M213.5 443.0h1M222.9 433.6h1M200.3 439.7h1M231.3 422.7h1M229.5 454.6h1M204.2 436.3h1M240.2 422.2h1M216.5 421.0h1M224.0 417.0h1M211.5 433.4h1M223.6 444.9h1M225.8 432.7h1M231.6 426.0h1M211.8 452.1h1M230.2 401.9h1M240.7 448.1h1M229.1 433.8h1M195.7 427.4h1M234.7 421.5h1M233.5 423.5h1M226.2 401.0h1M229.5 450.0h1M213.6 434.3h1M216.8 451.3h1M232.3 417.7h1M223.6 427.2h1M223.3 437.3h1M224.5 446.1h1M211.3 429.4h1M223.5 404.4h1M202.3 416.4h1M226.3 437.0h1M239.1 425.0h1M209.2 437.9h1M207.2 435.6h1M221.6 412.0h1M223.9 435.0h1M213.2 420.4h1M231.7 410.5h1M220.6 445.6h1M231.6 406.2h1M215.4 431.9h1M215.6 414.7h1M211.1 427.0h1M201.0 409.0h1M216.8 430.7h1M206.8 420.2h1M216.0 418.0h1M222.4 395.6h1M222.7 431.0h1M216.8 427.0h1M220.3 428.9h1M232.9 404.8h1M219.3 423.8h1M221.2 416.0h1M195.4 417.2h1M209.4 421.6h1M232.3 416.1h1M211.9 441.5h1M209.7 431.1h1M231.0 430.8h1M231.2 442.0h1M219.8 424.2h1M214.3 403.3h1M199.5 439.0h1M234.7 425.2h1M208.0 440.3h1M207.9 432.1h1M226.1 439.8h1M220.4 415.0h1M218.0 414.7h1M209.7 431.5h1M213.9 438.1h1M223.7 441.5h1M227.4 447.2h1M223.3 456.0h1M226.4 451.7h1M223.2 444.6h1M226.7 425.5h1M224.8 438.5h1M229.4 449.0h1M224.7 411.5h1M224.2 440.8h1M211.2 444.7h1M202.7 437.8h1M230.8 413.1h1M211.1 418.5h1M204.2 438.6h1M215.1 422.6h1M224.5 452.3h1M229.7 396.5h1M217.4 409.2h1M208.5 442.6h1M220.1 444.1h1M227.9 405.8h1M220.2 453.8h1M231.3 391.0h1M215.5 451.4h1M229.9 409.9h1M237.9 413.0h1M211.7 434.1h1M227.6 415.4h1M220.5 431.7h1M234.4 409.5h1M219.6 434.6h1M203.9 417.3h1M210.8 423.4h1M234.9 412.7h1M203.2 450.9h1M205.9 429.4h1M229.3 434.1h1M222.3 449.7h1M233.4 451.3h1M209.7 406.2h1M213.1 433.2h1M217.1 411.7h1M207.9 448.2h1M218.3 435.8h1M219.0 430.9h1M229.8 415.9h1M219.9 413.5h1M216.6 402.5h1M225.9 444.4h1M232.4 420.4h1M231.6 424.9h1M223.7 434.2h1M216.8 446.1h1M207.1 434.1h1M221.5 441.2h1M220.5 401.4h1M238.0 414.0h1M223.1 416.3h1M228.6 414.9h1M234.5 443.2h1M201.2 442.3h1M214.0 434.8h1M218.3 432.7h1M222.0 425.4h1M208.9 432.4h1M229.8 413.9h1M230.2 415.6h1M226.0 419.7h1M227.9 423.1h1M209.3 403.2h1M232.7 424.9h1M214.4 432.7h1M201.0 447.8h1M222.1 409.7h1M225.2 411.3h1M213.6 447.8h1M203.4 426.5h1M208.7 444.7h1M219.2 419.0h1M194.2 423.0h1M231.5 398.7h1M231.2 413.7h1M218.9 422.7h1M231.9 402.6h1M219.1 455.7h1M208.9 436.6h1M227.4 410.9h1M226.6 453.0h1M211.1 449.5h1M206.0 424.5h1M210.5 417.5h1M233.0 420.3h1M217.6 444.4h1M213.9 453.8h1M227.1 419.9h1M224.1 442.8h1M218.4 428.8h1M229.5 433.9h1M211.8 446.0h1M220.2 452.9h1M208.5 424.1h1M221.5 407.4h1M208.8 441.9h1M207.1 449.1h1M226.9 427.3h1M219.1 446.5h1M224.8 399.8h1M238.9 419.8h1M222.7 446.6h1M225.5 427.8h1M208.3 417.5h1M229.5 428.3h1M229.7 428.8h1M209.8 418.7h1M227.7 449.6h1M224.1 419.1h1M218.5 413.5h1M221.7 431.6h1M214.0 430.4h1M217.3 436.2h1M221.9 422.4h1M218.9 441.5h1M201.7 445.5h1M227.6 447.8h1M230.5 407.7h1M238.9 421.8h1M214.9 437.8h1M207.6 442.2h1M210.0 417.4h1M220.8 436.0h1M216.6 442.5h1M222.8 429.8h1M216.1 435.9h1M228.1 447.7h1M211.2 429.3h1M229.0 452.0h1M214.2 444.4h1M210.7 432.8h1M218.8 418.9h1M212.1 430.1h1M235.5 408.5h1M231.0 447.0h1M209.5 410.7h1M226.7 424.6h1M221.0 441.2h1M228.9 421.1h1M213.9 425.0h1M221.7 408.8h1M241.8 415.5h1M215.9 445.5h1M235.0 403.8h1M219.7 455.0h1M238.4 417.4h1M219.0 430.0h1M209.7 428.0h1M209.6 446.3h1M214.2 425.6h1M227.2 430.9h1M224.8 450.1h1M222.1 451.4h1M238.1 444.6h1M210.3 427.3h1M231.4 430.0h1M214.4 438.6h1M215.0 423.0h1M225.1 438.2h1M223.3 446.6h1M215.3 423.2h1M220.2 430.4h1M237.8 435.5h1M230.5 443.9h1M212.4 440.5h1M203.0 444.4h1M209.3 444.8h1M222.8 423.4h1M212.7 440.4h1M212.1 430.1h1M228.5 420.3h1M217.9 391.0h1M216.9 401.1h1M223.2 435.4h1M236.2 435.0h1M224.2 436.2h1M228.2 428.1h1M221.8 424.4h1M237.2 431.3h1M208.1 430.0h1M209.2 436.3h1M242.2 394.8h1M237.2 411.1h1M209.4 431.9h1M216.1 399.3h1M226.7 406.4h1M221.7 448.1h1M230.3 434.0h1M215.8 430.3h1M227.5 409.4h1M234.1 456.3h1M204.9 437.3h1M201.3 429.9h1M216.2 451.3h1M201.4 449.4h1M225.5 431.0h1M208.8 434.3h1M228.8 394.3h1M217.4 395.7h1M222.4 429.1h1M227.9 442.9h1M218.9 417.2h1M210.3 437.0h1M230.6 397.5h1M205.6 412.0h1M209.8 448.3h1M219.8 430.3h1M220.4 429.3h1M226.5 452.9h1M200.0 442.2h1M208.3 441.5h1M220.9 429.6h1M196.9 449.3h1M206.4 447.9h1M210.5 455.4h1M210.2 432.6h1M222.2 443.3h1M216.1 425.7h1M204.6 448.4h1M179.6 447.9h1M221.0 439.0h1M223.7 455.4h1M217.2 427.5h1M216.3 449.8h1M226.5 451.0h1M203.6 449.3h1M209.5 435.8h1M197.2 438.9h1M199.5 445.8h1M199.5 450.2h1M184.0 443.0h1M209.1 456.2h1M223.8 452.3h1M170.4 431.9h1M214.3 449.0h1M206.9 444.7h1M209.2 456.5h1M212.5 443.7h1M215.1 430.2h1M206.7 445.0h1M207.9 446.3h1M208.6 429.1h1M199.8 440.3h1M225.4 439.4h1M227.3 446.0h1M201.1 447.3h1M232.4 444.2h1M184.9 417.5h1M229.1 431.4h1M176.6 433.4h1M198.1 452.0h1M209.1 446.0h1M200.6 431.6h1M182.0 448.1h1M190.2 445.0h1M213.4 449.5h1M187.3 439.7h1M218.5 434.5h1M228.0 439.5h1M209.4 433.1h1M204.7 442.2h1M226.1 430.3h1M218.5 453.1h1M214.5 426.5h1M224.6 446.2h1M184.6 419.1h1M221.5 452.4h1M202.4 445.8h1M199.9 436.5h1M215.9 444.1h1M200.2 428.6h1M204.7 439.0h1M231.5 443.2h1M214.5 444.5h1M215.3 454.2h1M189.2 452.9h1M222.1 456.0h1M201.5 436.4h1M216.3 445.7h1M196.5 432.2h1M214.9 441.7h1M217.4 408.1h1M190.6 444.9h1M214.3 444.6h1M198.2 439.5h1M226.7 437.5h1M215.0 421.7h1M210.8 435.8h1M221.2 446.1h1M205.0 450.7h1M221.7 437.4h1M213.9 442.0h1M228.1 447.1h1M196.8 433.9h1M236.2 454.9h1M205.1 449.6h1M200.4 438.9h1M206.1 447.5h1M195.9 428.2h1M208.1 448.6h1M213.5 434.5h1M222.9 437.3h1M205.9 448.1h1M212.7 450.9h1M208.4 433.4h1M211.7 441.5h1M194.2 432.4h1M204.0 424.6h1M234.8 449.6h1M226.3 444.1h1M221.0 443.3h1M203.5 431.3h1M205.7 438.3h1M205.1 440.3h1M211.3 437.1h1M205.5 441.4h1M203.0 446.2h1M211.5 438.2h1M209.9 449.8h1M205.2 454.0h1M222.4 436.0h1M224.1 452.2h1M202.8 445.5h1M238.8 434.1h1M215.3 449.6h1M235.3 437.5h1M191.3 422.3h1M216.9 453.4h1M222.4 455.7h1M226.3 428.1h1M220.8 441.3h1M223.7 448.6h1M190.1 415.4h1M197.5 455.2h1M217.9 452.5h1M207.7 430.6h1M215.2 455.6h1M213.5 414.5h1M199.1 440.1h1M197.4 454.1h1M215.7 434.0h1M218.0 419.4h1M215.3 447.4h1M212.1 445.8h1M211.7 434.3h1M191.6 448.7h1M209.9 455.6h1M220.4 455.7h1M195.2 450.6h1M216.0 427.2h1M219.5 438.8h1M209.4 430.0h1M206.9 446.1h1M194.1 452.3h1M195.7 444.7h1M188.6 445.5h1M186.3 420.6h1M219.6 426.1h1M210.1 428.7h1M214.3 435.5h1M189.0 437.9h1M231.9 428.2h1M225.3 433.4h1M192.3 438.1h1M211.6 435.8h1M212.5 436.5h1M197.1 418.3h1M223.0 451.0h1M219.8 450.8h1M222.3 443.6h1M214.7 449.0h1M211.9 438.6h1M217.0 417.2h1M208.3 445.2h1M233.0 441.5h1M213.4 426.0h1M217.6 413.6h1M201.5 431.0h1M209.8 440.7h1M206.0 434.7h1M221.3 422.9h1M237.1 454.4h1M214.3 410.1h1M209.1 455.4h1M200.9 437.8h1M190.9 415.9h1M218.6 443.2h1M218.2 441.6h1M199.9 423.3h1M211.6 447.7h1M199.2 443.9h1M229.5 447.6h1M212.1 424.9h1M216.5 432.9h1M233.3 428.4h1M180.8 447.6h1M216.1 435.8h1M214.2 429.8h1M210.9 436.3h1M227.3 455.8h1M201.9 454.9h1M202.0 434.7h1M233.7 417.1h1M224.3 444.5h1M217.2 451.4h1M212.0 448.1h1M206.9 449.2h1M208.9 435.2h1M215.0 433.4h1M208.7 426.1h1M214.6 446.8h1M209.1 449.4h1M219.9 419.1h1M214.8 439.1h1M223.8 449.3h1M218.6 437.9h1M222.7 438.0h1M205.1 437.8h1M199.6 447.3h1M228.7 452.8h1M204.0 430.4h1M215.9 440.5h1M204.7 436.2h1M213.9 432.9h1M229.5 434.8h1M218.8 446.6h1M214.4 448.5h1M207.1 434.4h1M221.9 450.1h1M198.5 441.2h1M219.7 437.3h1M228.8 445.0h1M227.4 448.0h1M220.3 440.2h1M204.2 443.8h1M206.6 430.4h1M198.8 444.0h1M235.6 450.3h1M227.4 443.0h1M210.1 441.2h1M210.0 424.6h1M202.2 429.0h1M217.8 451.6h1M217.5 438.0h1M216.6 453.3h1M177.6 442.5h1M208.3 404.0h1M192.2 418.5h1M188.6 432.8h1M240.6 428.5h1M204.2 447.9h1M206.8 452.5h1M199.5 442.7h1M186.3 443.3h1M217.1 454.1h1M202.9 449.1h1M227.5 416.6h1M221.9 455.1h1M190.8 440.9h1M221.1 452.5h1M223.6 449.0h1M219.4 439.2h1M206.8 439.0h1M219.0 455.8h1M200.3 436.2h1M213.9 436.2h1M215.5 454.1h1M207.5 456.0h1M207.6 436.2h1M198.9 427.3h1M224.5 422.2h1M208.5 438.4h1M203.7 441.4h1M216.3 443.4h1M206.2 428.3h1M201.1 444.2h1M212.4 419.9h1M198.5 427.6h1M227.8 443.6h1M206.8 430.7h1M226.5 439.4h1M218.4 443.8h1M209.5 428.7h1M207.3 436.5h1M201.9 448.6h1M199.5 444.2h1M208.4 436.5h1M198.0 448.8h1M212.0 431.6h1M193.8 450.0h1M217.4 439.0h1M214.9 439.4h1M213.3 439.9h1M202.4 432.0h1M237.1 421.4h1M208.7 446.7h1M200.2 428.1h1M219.0 454.6h1M207.6 441.0h1M212.3 445.9h1M219.0 449.0h1M192.3 450.1h1M220.0 445.1h1M196.5 449.8h1M193.8 449.8h1M205.2 438.2h1M229.8 437.9h1M202.0 441.3h1M216.6 433.7h1M198.0 437.8h1M214.6 424.6h1M212.7 436.6h1M210.4 451.7h1M185.5 446.1h1M214.6 440.9h1M220.9 449.9h1M212.8 441.9h1M217.8 442.5h1M221.9 435.6h1M213.7 443.8h1M197.6 420.4h1M184.0 452.5h1M214.6 420.2h1M219.9 434.7h1M232.6 454.1h1M215.9 435.6h1M198.7 435.9h1M216.2 415.6h1M208.8 453.1h1M201.3 449.9h1M191.2 439.2h1M186.1 450.7h1M201.0 423.7h1M204.7 432.1h1M211.1 446.1h1M210.5 455.1h1M213.3 443.0h1M235.7 425.3h1M209.4 437.4h1M228.5 456.3h1M199.9 436.9h1M200.6 447.9h1M203.3 449.9h1M186.3 438.9h1M232.3 441.9h1M213.6 420.1h1M219.9 435.2h1M233.3 441.9h1M216.3 451.3h1M178.8 440.5h1M227.2 448.1h1M214.3 441.6h1M202.9 434.2h1M224.7 432.2h1M210.6 442.8h1M200.9 444.6h1M184.3 436.4h1M175.4 446.6h1M211.2 452.1h1M231.5 438.1h1M201.9 415.5h1M206.6 439.4h1M202.0 446.8h1M209.2 443.0h1M193.0 432.4h1M225.5 450.7h1M193.1 441.9h1M195.0 441.8h1M198.9 446.7h1M192.4 423.2h1M197.1 446.6h1M220.3 434.7h1M200.0 450.8h1M208.2 448.0h1M179.0 433.0h1M210.4 453.3h1M210.6 431.8h1M229.6 428.1h1M216.7 434.0h1M171.1 451.7h1M197.9 433.1h1M205.9 433.9h1M210.5 450.1h1M218.3 442.1h1M187.1 445.0h1M179.8 444.9h1M220.4 438.3h1M196.9 440.5h1M193.8 451.1h1M223.3 446.2h1M194.7 438.6h1M213.7 444.7h1M212.5 446.1h1M241.4 428.3h1M191.4 424.3h1M196.7 449.5h1M206.0 418.0h1M213.7 440.5h1M224.6 431.6h1M219.1 428.1h1M204.9 445.7h1M225.5 424.4h1M230.4 444.4h1M202.5 442.0h1M226.2 450.2h1M217.3 442.8h1M213.2 435.0h1M194.9 456.3h1M192.7 450.6h1M215.6 429.7h1M172.3 421.3h1M203.0 434.9h1M215.5 445.4h1M187.2 455.5h1M231.8 433.9h1M232.2 436.2h1M195.5 421.4h1M208.3 437.6h1M208.1 445.0h1M202.5 436.5h1M203.2 442.6h1M216.3 430.1h1M232.3 429.5h1M211.0 446.7h1M211.3 423.2h1M211.7 443.3h1M218.3 435.1h1M203.2 437.5h1M196.6 433.8h1M218.7 425.7h1M184.7 438.1h1M203.1 427.5h1M204.6 440.8h1M208.1 436.2h1M189.1 430.6h1M197.1 444.7h1M207.9 456.0h1M218.0 452.4h1M208.4 439.6h1M207.1 442.9h1M198.6 430.6h1M210.2 439.7h1M172.4 455.0h1M218.6 451.8h1M209.7 423.5h1M227.9 446.0h1M228.0 441.1h1M199.7 443.5h1M207.1 429.5h1M200.7 447.7h1M207.7 436.5h1M216.6 441.6h1M206.5 449.8h1M203.8 453.3h1M209.7 451.1h1M215.2 454.6h1M210.0 422.9h1M217.8 431.3h1M213.9 443.5h1M219.6 436.6h1M210.2 427.9h1M225.3 452.6h1M215.4 429.2h1M221.2 434.6h1M191.0 415.7h1M204.0 421.7h1M210.5 454.9h1M214.9 437.0h1M209.5 452.9h1M229.7 440.7h1M192.7 438.2h1M186.4 454.0h1M207.6 434.0h1M200.9 436.6h1M210.4 445.7h1M218.8 427.8h1M192.5 423.2h1M195.7 456.1h1M199.9 435.6h1M227.1 434.5h1M209.2 430.1h1M209.6 442.8h1M224.7 454.7h1M187.3 444.0h1M211.6 442.4h1M209.4 401.4h1M213.6 446.4h1M196.8 428.7h1M204.3 440.1h1M208.7 447.6h1M219.8 443.4h1M200.4 453.3h1M181.8 416.3h1M215.6 422.4h1M198.0 450.3h1M206.1 434.1h1M210.0 439.6h1M213.8 442.8h1M225.9 455.0h1M212.5 438.6h1M207.0 443.3h1M207.4 426.1h1M220.3 447.9h1M213.4 436.7h1M202.8 426.5h1M205.6 443.3h1M199.6 455.5h1M202.4 439.1h1M220.1 436.9h1M194.3 432.2h1M210.9 449.1h1M194.6 435.0h1M220.4 449.8h1M214.0 447.1h1M226.6 447.1h1M217.2 430.1h1M210.5 440.8h1M201.8 428.5h1M203.2 443.6h1M196.6 447.0h1M206.0 444.6h1M211.2 455.5h1M207.9 442.5h1M208.8 410.1h1M206.1 443.6h1M207.4 440.8h1M219.6 449.7h1M215.6 451.1h1M198.5 436.8h1M210.1 436.2h1M214.0 405.7h1M206.5 451.2h1M207.0 441.8h1M208.8 440.8h1M212.3 447.9h1M203.0 447.3h1M209.4 419.1h1M226.1 444.1h1M197.6 441.0h1M218.6 455.5h1M206.8 437.5h1M218.2 439.8h1M208.6 432.5h1M203.4 442.1h1M236.1 414.8h1M214.7 451.2h1M209.9 449.5h1M210.6 429.7h1M197.7 442.0h1M211.4 432.0h1M190.9 452.7h1M207.0 413.2h1M188.3 451.6h1M220.8 429.3h1M225.9 434.2h1M234.1 440.4h1M209.0 436.9h1M205.7 434.2h1M223.8 454.8h1M214.2 435.0h1M211.1 430.0h1M217.8 441.1h1M204.2 454.9h1M222.6 444.4h1M205.7 439.2h1M213.1 422.5h1M195.4 430.0h1M190.2 433.6h1M189.9 442.8h1M216.4 445.2h1M182.4 445.3h1M227.7 442.9h1M205.9 449.9h1M192.8 428.6h1M214.5 414.8h1M194.1 449.0h1M206.6 446.5h1M225.5 436.8h1M221.6 449.8h1M222.1 438.3h1M204.1 427.3h1M226.1 437.2h1M209.2 453.7h1M211.6 447.8h1M215.8 452.0h1M213.6 436.9h1M192.9 452.6h1M189.7 441.4h1M216.1 436.8h1M211.0 445.0h1M196.0 430.0h1M222.9 437.2h1M220.9 447.5h1M200.9 453.0h1M210.9 447.1h1M223.2 456.2h1M193.1 437.6h1M203.6 443.4h1M206.6 441.0h1M204.2 449.6h1M223.9 436.5h1M219.1 428.4h1M210.3 432.3h1M220.9 449.6h1M223.3 446.5h1M202.1 445.8h1M200.7 454.2h1M218.9 431.6h1M237.3 436.0h1M202.1 432.4h1M199.7 441.5h1M221.2 449.7h1M213.0 446.8h1M194.0 442.2h1M204.1 446.0h1M214.8 455.9h1M198.6 436.1h1M217.6 431.0h1M214.1 454.7h1M206.1 439.3h1M215.1 441.3h1M205.4 442.0h1M212.9 438.3h1M197.2 422.0h1M228.2 441.0h1M206.7 438.4h1M225.0 425.2h1M237.6 434.1h1M230.4 445.1h1M212.1 436.8h1M214.1 437.8h1M199.4 451.0h1M186.8 443.0h1M214.2 453.3h1M210.7 445.8h1M229.8 437.1h1M233.4 421.9h1M198.1 425.9h1M220.0 435.3h1M211.7 447.0h1M210.8 445.1h1M186.3 448.0h1M239.5 444.4h1M201.1 440.5h1M217.3 447.8h1M214.5 441.6h1M198.5 440.9h1M221.1 449.1h1M228.9 450.4h1M209.5 448.7h1M211.9 456.1h1M221.2 444.4h1M198.6 431.2h1M203.0 446.3h1M193.0 441.3h1M207.6 455.4h1M201.5 430.8h1M199.2 447.5h1M221.5 425.9h1M220.7 440.0h1M207.9 417.7h1M186.8 432.2h1M198.8 450.3h1M221.0 441.0h1M209.2 449.5h1M195.2 443.1h1M217.4 439.8h1M208.5 434.7h1M197.6 446.2h1M233.5 449.6h1M229.3 443.2h1M199.2 456.3h1M195.0 420.7h1M218.1 428.6h1M226.2 440.2h1M209.3 440.2h1M194.1 452.1h1M213.8 441.8h1M213.5 438.8h1M189.5 455.3h1M206.2 437.2h1M197.4 437.3h1M212.9 436.8h1M223.6 427.7h1M223.1 427.7h1M198.5 439.6h1M202.5 454.3h1M218.9 437.2h1M205.7 434.4h1M205.5 443.5h1M238.4 431.6h1M199.2 445.9h1M209.3 423.0h1M232.0 435.2h1M208.2 433.0h1M206.4 433.5h1M212.1 416.5h1M206.1 438.1h1M214.9 436.3h1M201.1 428.8h1M207.4 449.2h1M209.1 433.5h1M182.9 418.2h1M217.8 430.4h1M209.2 454.5h1M206.5 430.1h1M212.1 441.9h1M198.5 452.4h1M224.0 454.5h1M202.3 439.0h1M190.8 449.7h1M220.3 437.6h1M208.2 421.4h1M211.8 455.6h1M189.2 445.3h1M192.2 451.1h1M197.0 442.7h1M208.0 433.1h1M208.2 438.0h1M227.8 446.6h1M229.8 426.0h1M234.5 412.8h1M210.8 455.7h1M223.0 437.3h1M203.7 452.4h1M208.7 446.6h1M206.4 442.1h1M201.1 456.4h1M214.8 444.8h1M208.6 448.4h1M215.3 425.4h1M237.2 439.5h1M185.5 446.6h1M211.0 436.8h1M218.5 427.8h1M221.2 442.2h1M216.8 443.1h1M216.3 423.0h1M204.6 451.8h1M207.2 443.0h1M212.3 435.9h1M196.4 436.4h1M224.2 446.9h1M202.7 454.2h1M198.6 441.4h1M220.2 443.0h1M204.6 444.8h1M214.3 416.9h1M207.7 453.9h1M214.6 453.7h1M212.4 432.4h1M182.1 440.1h1M228.9 446.3h1M222.9 452.2h1M191.2 446.3h1M221.5 437.4h1M207.1 449.9h1M211.5 445.7h1M226.5 430.1h1M222.8 439.0h1M222.6 438.4h1M235.8 450.2h1M224.0 426.4h1M202.2 434.9h1M193.5 441.0h1M220.8 443.6h1M205.5 442.5h1M200.9 455.0h1M207.1 451.8h1M221.5 431.0h1M204.7 440.3h1M224.8 451.6h1M184.8 436.2h1M193.9 447.1h1M196.8 449.3h1M209.9 455.2h1M213.8 432.9h1M209.6 437.3h1M221.7 446.7h1M223.8 451.3h1M225.9 451.7h1M208.1 451.1h1M210.2 437.4h1M228.9 440.8h1M215.3 455.7h1M226.9 436.9h1M203.9 430.1h1M209.4 412.2h1M201.7 445.3h1M209.7 432.9h1M215.4 443.8h1M204.2 431.3h1M235.2 436.3h1M190.9 441.4h1M221.1 455.2h1M196.0 434.4h1M213.8 428.8h1M200.1 446.6h1M210.9 454.6h1M210.9 432.5h1M199.7 451.6h1M194.3 445.9h1M200.8 451.4h1M210.2 420.5h1M220.4 444.4h1M230.6 438.9h1M187.8 448.9h1M215.8 435.0h1M203.9 443.2h1M210.1 416.4h1M214.0 443.5h1M215.1 446.1h1M209.6 445.0h1M230.0 446.6h1M209.9 435.5h1M224.5 424.0h1M195.3 431.4h1M197.9 436.7h1M228.6 443.5h1M207.4 454.8h1M187.0 436.9h1M220.2 430.2h1M225.4 453.9h1M193.1 435.9h1M209.2 453.8h1M214.5 441.3h1M202.2 438.5h1M198.1 443.5h1M216.6 432.4h1M216.7 421.6h1M189.5 427.9h1M195.5 435.7h1M205.7 448.2h1M201.8 449.8h1M212.6 454.7h1M216.4 433.2h1M233.5 441.3h1M214.4 425.1h1M221.6 430.2h1M201.0 443.0h1M191.2 454.4h1M226.9 436.2h1M216.8 434.3h1M211.5 417.2h1M204.3 448.7h1M225.5 429.0h1M196.7 422.5h1M201.7 439.8h1M187.5 445.7h1M211.8 424.8h1M209.7 452.8h1M223.7 455.0h1M234.2 428.9h1M216.6 440.0h1M198.8 426.9h1M213.3 432.1h1M209.0 429.4h1M195.9 419.9h1M214.1 430.3h1M194.3 423.0h1M205.8 452.4h1M176.7 431.2h1M217.5 431.6h1M236.9 440.2h1M205.0 445.7h1M201.8 430.9h1M193.0 453.6h1M212.8 407.7h1M202.5 424.1h1M208.8 453.2h1M198.9 447.7h1M202.3 440.9h1M218.2 428.1h1M198.6 451.4h1M202.4 437.9h1M204.9 456.2h1M198.8 421.0h1M213.9 447.6h1M233.5 456.4h1M203.4 434.6h1M211.3 449.3h1M212.2 450.4h1M217.0 441.4h1M200.2 447.3h1M234.4 437.6h1M197.5 451.3h1M229.1 439.8h1M196.0 425.5h1M219.8 434.9h1M226.9 447.6h1M237.5 444.0h1M200.7 444.2h1M202.3 435.5h1M198.1 436.3h1M219.5 454.6h1M212.2 446.9h1M218.5 432.8h1M220.8 455.3h1M218.8 453.1h1M233.6 453.7h1M212.0 455.8h1M206.5 433.8h1M197.9 420.8h1M204.8 440.0h1M210.0 401.8h1M213.1 436.4h1M192.7 431.0h1M204.7 445.9h1M207.3 434.8h1M202.3 444.6h1M202.0 433.0h1M214.3 440.1h1M215.9 429.9h1M196.1 422.5h1M195.7 455.3h1M224.9 441.9h1M219.3 437.6h1M227.0 446.2h1M199.1 440.1h1M193.0 441.5h1M207.0 435.9h1M223.5 449.7h1M218.9 432.5h1M218.5 450.2h1M194.1 430.0h1M223.7 435.4h1M219.2 445.3h1M202.9 435.4h1M199.7 443.6h1M208.2 446.7h1M230.0 416.3h1M212.6 450.8h1M209.0 445.0h1M230.2 416.0h1M229.8 445.1h1M214.7 447.7h1M217.8 433.8h1M225.9 428.0h1M200.6 426.3h1M215.1 443.6h1M204.4 444.7h1M197.5 442.2h1M224.1 442.1h1M233.9 443.5h1M219.9 422.2h1M224.5 446.3h1M207.6 456.0h1M190.6 434.0h1M215.1 435.9h1M202.3 446.3h1M234.6 436.5h1M225.6 437.1h1M207.4 406.6h1M232.3 452.7h1M218.3 414.4h1M207.7 429.5h1M220.1 435.9h1M210.2 431.1h1M224.8 439.4h1M234.6 425.1h1M211.7 441.1h1M213.9 448.6h1M207.3 409.9h1M216.4 442.1h1M193.9 453.0h1M204.5 455.9h1M195.7 435.0h1M212.6 444.5h1M214.4 448.1h1M197.1 429.3h1M189.3 436.5h1M210.3 444.1h1M229.7 428.5h1M206.6 452.5h1M209.2 429.2h1M204.3 448.7h1M195.5 425.6h1M223.8 431.3h1M219.2 446.1h1M191.1 453.3h1M194.1 432.7h1M227.4 422.4h1M198.7 452.1h1M209.5 430.7h1M196.8 450.2h1M200.0 453.1h1M202.3 424.7h1M234.6 455.9h1M243.6 432.8h1M213.0 438.0h1M217.5 447.2h1M210.2 449.4h1M205.5 451.3h1M199.3 447.0h1M219.2 444.6h1M192.0 441.9h1M206.6 428.8h1M212.5 455.3h1M227.3 434.7h1M209.5 420.1h1M202.5 450.4h1M216.8 447.1h1M219.1 439.1h1M198.7 444.9h1M218.6 435.0h1M200.4 444.5h1M222.2 443.1h1M227.8 446.2h1M186.5 449.4h1M201.0 439.1h1M210.4 441.1h1M227.0 446.3h1M225.6 440.9h1M219.0 438.3h1M220.0 448.8h1M210.0 456.2h1M196.9 434.0h1M223.1 443.4h1M189.0 443.0h1M226.3 433.9h1M239.4 433.2h1M210.6 438.2h1M199.2 446.9h1M201.8 444.1h1M215.1 450.1h1M223.1 446.3h1M200.3 444.1h1M205.8 434.4h1M201.7 434.7h1M225.0 447.6h1M222.8 423.4h1M212.3 424.9h1M191.9 455.0h1M210.7 433.9h1M202.9 439.2h1M223.5 451.1h1M198.0 446.3h1M215.6 425.3h1M206.8 455.4h1M224.3 456.5h1M199.9 442.7h1M217.9 448.7h1M218.1 456.1h1M224.9 415.7h1M231.0 435.2h1M190.4 435.1h1M209.1 442.7h1M196.1 429.7h1M222.8 426.7h1M227.8 445.6h1M213.2 428.1h1M200.9 439.9h1M191.1 426.7h1M213.8 433.8h1M212.9 448.6h1M209.9 454.6h1M220.4 425.7h1M200.4 420.8h1M228.1 448.2h1M204.4 448.9h1M223.3 452.3h1M202.5 444.3h1M213.5 427.2h1M232.0 452.5h1M196.6 448.1h1M229.1 445.8h1M209.6 442.8h1M206.7 407.1h1M193.4 431.1h1M206.6 409.2h1M214.7 441.1h1M222.3 421.2h1M229.0 452.2h1M215.1 440.5h1M205.6 449.9h1M230.1 429.7h1M211.5 452.0h1M228.5 442.4h1M199.7 443.1h1M199.9 444.4h1M192.8 454.2h1M209.1 447.2h1M180.3 438.8h1M202.4 447.1h1M215.7 438.3h1M195.1 453.5h1M209.4 431.0h1M198.6 433.3h1M205.6 456.4h1M213.2 451.4h1M216.2 451.5h1M215.8 451.5h1M230.1 449.0h1M214.4 456.3h1M201.6 435.5h1M227.6 449.7h1M204.9 435.6h1M235.8 426.2h1M221.2 440.7h1M208.8 453.3h1M203.9 445.6h1M199.9 454.6h1M206.6 450.7h1M227.9 444.5h1M212.6 427.1h1M209.2 445.6h1M215.8 444.6h1M193.8 436.1h1M190.8 445.0h1M229.0 433.6h1M206.6 447.1h1M231.4 420.3h1M235.3 446.2h1M214.0 444.6h1M220.5 446.2h1M208.6 443.9h1M211.5 451.0h1M210.3 444.5h1M212.0 449.0h1M218.7 427.4h1M234.7 448.1h1M189.9 425.2h1M225.8 431.8h1M202.1 437.9h1M213.0 430.1h1M205.9 445.2h1M204.1 440.6h1M192.4 436.8h1M175.0 453.0h1M238.8 432.4h1M207.2 453.3h1M185.7 441.4h1M219.4 449.6h1M231.4 433.8h1M216.2 435.9h1M203.5 424.5h1M213.9 450.4h1M225.2 414.2h1M201.8 420.3h1M177.2 418.5h1M225.5 415.6h1M218.9 428.5h1M204.5 437.4h1M186.3 421.9h1M222.0 440.8h1M193.2 436.0h1M184.4 448.6h1M191.2 454.4h1M195.6 444.8h1M225.0 452.5h1M219.8 450.3h1M211.2 445.1h1M202.5 440.8h1M209.5 449.3h1M192.3 455.3h1M215.5 426.6h1M197.5 440.8h1M203.2 449.6h1M214.7 448.0h1M198.3 450.0h1M186.7 430.2h1M194.2 436.7h1M200.2 434.5h1M203.2 422.8h1M229.0 450.8h1M226.1 448.8h1M222.0 450.4h1M208.9 426.0h1M213.0 454.7h1M202.5 437.0h1M214.9 427.5h1M224.6 430.3h1M214.1 418.0h1M209.6 434.1h1M214.3 447.1h1M225.2 435.4h1M185.6 449.5h1M216.6 453.9h1M222.1 447.7h1M199.4 444.0h1M213.2 445.8h1M219.8 449.2h1M220.6 455.0h1M207.3 429.9h1M194.2 421.0h1M188.5 450.6h1M205.5 450.5h1M219.5 430.1h1M201.0 447.0h1M205.6 430.7h1M219.0 444.5h1M197.1 444.5h1M208.9 442.1h1M207.2 448.6h1M216.5 437.0h1M221.7 442.8h1M207.5 453.7h1M203.5 450.3h1M204.7 455.6h1M211.1 451.8h1M170.9 439.6h1M185.7 455.7h1M180.2 451.1h1M221.3 410.8h1M200.5 436.6h1M215.3 420.8h1M205.8 448.4h1M230.3 451.1h1M218.9 448.9h1M239.3 445.2h1M203.2 450.4h1M225.8 437.3h1M211.5 417.2h1M214.4 448.2h1M213.6 443.1h1M220.6 435.8h1M228.3 434.5h1M215.3 434.0h1M208.7 430.4h1M214.1 452.6h1M223.9 425.8h1M219.8 430.2h1M214.6 429.9h1M210.0 449.3h1M201.0 452.5h1M194.9 444.9h1M199.3 442.0h1M222.8 435.0h1M190.6 438.2h1M196.9 434.5h1M228.6 439.4h1M233.2 441.6h1M221.9 448.3h1M239.3 433.0h1M201.6 430.1h1M240.9 443.1h1M216.4 430.2h1M216.3 439.9h1M215.6 427.3h1M201.2 441.3h1M209.8 447.7h1M179.3 449.3h1M204.5 426.9h1M196.9 418.9h1M221.5 418.6h1" stroke="#2457a7" stroke-width="1" fill="none" opacity="1"/>
<path d="M98.5 456.1 H245.0" stroke="#5f7db4" stroke-width="1.5" fill="none"/>
<path d="M203.5 385.6h0.8M222.4 386.4h0.8M228.3 385.2h0.8" stroke="#c9a27a" stroke-width="0.8" fill="none" opacity="1"/>
<rect x="86.5" y="299.2" width="174.5" height="157.8" fill="none" stroke="#1a1a1a" stroke-width="0.9"/>
<path d="M180 299.2V457M86.5 387.6H261" stroke="#1a1a1a" stroke-width="0.9" fill="none"/>
<path d="M88.34 457v4.4M86.5 454.30h-3.6M93.85 457v4.4M86.5 449.38h-3.6M98.12 457v4.4M86.5 445.56h-3.6M101.62 457v4.4M86.5 442.44h-3.6M104.57 457v4.4M86.5 439.80h-3.6M107.13 457v4.4M86.5 437.52h-3.6M109.38 457v4.4M86.5 435.50h-3.6M111.40 457v7.6M86.5 433.70h-7.2M124.68 457v4.4M86.5 421.84h-3.6M132.44 457v4.4M86.5 414.90h-3.6M137.95 457v4.4M86.5 409.98h-3.6M142.22 457v4.4M86.5 406.16h-3.6M145.72 457v4.4M86.5 403.04h-3.6M148.67 457v4.4M86.5 400.40h-3.6M151.23 457v4.4M86.5 398.12h-3.6M153.48 457v4.4M86.5 396.10h-3.6M155.50 457v7.6M86.5 394.30h-7.2M168.78 457v4.4M86.5 382.44h-3.6M176.54 457v4.4M86.5 375.50h-3.6M182.05 457v4.4M86.5 370.58h-3.6M186.32 457v4.4M86.5 366.76h-3.6M189.82 457v4.4M86.5 363.64h-3.6M192.77 457v4.4M86.5 361.00h-3.6M195.33 457v4.4M86.5 358.72h-3.6M197.58 457v4.4M86.5 356.70h-3.6M199.60 457v7.6M86.5 354.90h-7.2M212.88 457v4.4M86.5 343.04h-3.6M220.64 457v4.4M86.5 336.10h-3.6M226.15 457v4.4M86.5 331.18h-3.6M230.42 457v4.4M86.5 327.36h-3.6M233.92 457v4.4M86.5 324.24h-3.6M236.87 457v4.4M86.5 321.60h-3.6M239.43 457v4.4M86.5 319.32h-3.6M241.68 457v4.4M86.5 317.30h-3.6M243.70 457v7.6M86.5 315.50h-7.2M256.98 457v4.4M86.5 303.64h-3.6" stroke="#1a1a1a" stroke-width="1.05" fill="none"/>
<text x="105.4" y="473.6" font-size="7.9" fill="#111">10<tspan dy="-4.5" font-size="7.1">2</tspan></text>
<text transform="translate(77.3 438.5) rotate(-90)" font-size="7.9" fill="#111">10<tspan dy="-4.5" font-size="7.1">2</tspan></text>
<text x="149.5" y="473.6" font-size="7.9" fill="#111">10<tspan dy="-4.5" font-size="7.1">3</tspan></text>
<text transform="translate(77.3 399.1) rotate(-90)" font-size="7.9" fill="#111">10<tspan dy="-4.5" font-size="7.1">3</tspan></text>
<text x="193.6" y="473.6" font-size="7.9" fill="#111">10<tspan dy="-4.5" font-size="7.1">4</tspan></text>
<text transform="translate(77.3 359.7) rotate(-90)" font-size="7.9" fill="#111">10<tspan dy="-4.5" font-size="7.1">4</tspan></text>
<text x="237.7" y="473.6" font-size="7.9" fill="#111">10<tspan dy="-4.5" font-size="7.1">5</tspan></text>
<text transform="translate(77.3 320.3) rotate(-90)" font-size="7.9" fill="#111">10<tspan dy="-4.5" font-size="7.1">5</tspan></text>
<path d="M55.8 299.8V477H275.8" stroke="#1a1a1a" stroke-width="1.2" fill="none"/>
<path d="M55.8 295.8l-2.9 5.6h5.8z" fill="#1a1a1a"/>
<path d="M279.8 477l-5.6 -2.9v5.8z" fill="#1a1a1a"/>
</g>
<g id="plot2">
<path d="M390.2 427.2h1M388.3 435.8h1M387.0 448.0h1M394.7 451.4h1M412.1 450.4h1M387.2 437.8h1M400.0 439.7h1M394.5 444.8h1M388.4 449.3h1M399.9 435.9h1M407.2 437.2h1M400.6 425.7h1M395.3 449.7h1M398.2 432.1h1M387.1 446.8h1M403.2 441.2h1M395.9 443.3h1M390.0 439.0h1M386.3 448.0h1M395.8 445.8h1M378.0 435.7h1M386.8 441.6h1M376.5 446.0h1M408.6 429.8h1M409.9 440.3h1M397.0 449.6h1M381.1 453.8h1M390.8 438.9h1M411.9 411.3h1M400.7 445.9h1M405.4 445.0h1M419.0 435.2h1M414.3 437.7h1M404.8 434.0h1M396.8 432.9h1M389.0 448.0h1M393.1 451.9h1M401.5 440.9h1M405.3 430.2h1M396.9 426.8h1M393.6 446.5h1M399.9 445.2h1M414.5 447.7h1M399.6 437.2h1M376.4 439.5h1M393.6 435.7h1M396.0 449.1h1M405.5 454.3h1M381.9 436.0h1M386.3 438.6h1M380.9 440.8h1M409.8 443.7h1M395.4 434.2h1M401.6 447.1h1M403.0 443.6h1M391.4 443.4h1M372.3 453.2h1M412.5 429.6h1M395.2 453.1h1M398.4 439.3h1M390.3 435.8h1M396.3 438.0h1M394.8 432.2h1M395.8 447.7h1M397.8 433.6h1M373.0 452.4h1M374.3 451.5h1M405.0 438.0h1M395.3 441.4h1M409.9 441.4h1M396.1 448.2h1M379.4 437.8h1M393.6 430.9h1M391.8 444.5h1M391.2 434.8h1M398.4 429.9h1M385.4 434.3h1M396.4 447.8h1M407.0 454.5h1M388.6 442.4h1M398.5 439.6h1M408.9 441.1h1M398.6 446.8h1M387.4 442.7h1M368.0 441.8h1M377.5 450.8h1M397.3 436.4h1M390.7 435.4h1M393.2 434.6h1M430.9 428.4h1M399.8 437.8h1M387.3 441.5h1M410.0 442.6h1M409.4 433.7h1M393.7 440.5h1M398.7 436.4h1M396.6 440.7h1M391.3 451.3h1M382.3 439.6h1M406.6 424.5h1M403.8 446.6h1M383.8 446.7h1M397.0 444.3h1M385.4 423.1h1M380.7 434.2h1M399.0 442.8h1M392.3 439.7h1M392.3 438.7h1M395.3 449.4h1M399.1 430.5h1M400.0 435.2h1M384.2 444.7h1M393.9 433.4h1M400.6 433.2h1M378.6 441.8h1M395.3 434.6h1M379.1 441.5h1M392.4 450.0h1M401.1 428.5h1M395.8 434.9h1M392.6 435.4h1M393.3 438.0h1M381.8 446.8h1M405.5 452.2h1M380.4 454.8h1M387.8 428.6h1M383.0 436.8h1M388.5 443.5h1M380.5 446.0h1M380.1 442.3h1M379.1 440.3h1M374.3 457.1h1M391.3 442.7h1M410.1 433.0h1M381.9 444.3h1M382.1 443.4h1M388.8 447.4h1M389.3 446.8h1M391.0 444.6h1M406.6 437.5h1M390.6 444.5h1M391.7 441.0h1M391.7 432.4h1M379.3 445.0h1M380.5 431.5h1M366.8 446.9h1M384.3 436.7h1M383.2 457.0h1M390.7 446.8h1M403.2 436.7h1M368.0 443.3h1M400.0 448.0h1M411.0 430.2h1M391.2 454.5h1M392.8 453.5h1M410.6 443.9h1M400.0 436.9h1M396.8 446.7h1M382.5 441.5h1M385.8 427.9h1M400.6 432.3h1M403.0 449.4h1M393.6 440.2h1M407.2 434.5h1M409.8 449.8h1M371.6 450.5h1M389.0 448.7h1M386.7 446.0h1M396.4 430.2h1M420.8 435.5h1M383.0 430.6h1M383.8 452.5h1M400.7 432.9h1M388.3 431.2h1M404.8 429.4h1M408.5 446.7h1M411.0 421.7h1M405.2 437.2h1M389.6 443.3h1M406.8 441.0h1M387.7 445.4h1M400.7 438.6h1M386.2 440.6h1M403.7 432.5h1M400.8 443.1h1M378.1 440.6h1M387.6 439.5h1M387.1 426.9h1M401.8 444.3h1M389.2 441.9h1M391.7 442.0h1M394.7 452.1h1M407.0 445.6h1M405.4 434.7h1M376.8 440.4h1M393.2 445.1h1M364.8 453.0h1M382.2 431.4h1M377.7 454.3h1M390.1 435.4h1M394.0 453.0h1M394.5 439.3h1M386.1 431.7h1M397.5 441.8h1M386.0 455.2h1M409.0 431.6h1M390.8 444.5h1M390.5 421.8h1M399.4 424.5h1M388.4 429.2h1M403.5 435.5h1M401.9 425.4h1M395.6 442.6h1M379.1 439.9h1M391.0 415.8h1M389.6 445.8h1M395.4 449.5h1M394.8 446.1h1M389.8 447.3h1M391.2 436.5h1M390.9 437.2h1M382.8 442.7h1M389.6 442.3h1M384.8 448.7h1M392.2 456.7h1M377.6 453.5h1M412.8 433.9h1M404.4 416.3h1M395.9 424.8h1M386.4 443.5h1M397.9 428.7h1M388.3 457.2h1M403.9 434.0h1M393.4 437.3h1M391.7 443.4h1M369.5 438.9h1M383.1 440.0h1M395.1 450.7h1M378.7 452.9h1M389.8 456.4h1M401.9 451.4h1M408.5 448.6h1M386.3 426.4h1M392.3 433.6h1M398.7 437.9h1M374.3 446.7h1M406.1 442.6h1M390.8 445.7h1M409.9 446.7h1M391.3 447.1h1M394.0 451.8h1M380.3 431.6h1M400.2 430.2h1M395.1 441.5h1M384.3 447.6h1M399.0 425.4h1M386.9 424.3h1M410.3 444.4h1M398.3 436.4h1M392.1 445.8h1M390.0 448.1h1M412.6 440.1h1M393.2 433.1h1M397.5 446.8h1M380.6 439.3h1M400.7 445.7h1M393.3 427.5h1M383.7 445.9h1M381.2 442.0h1M403.9 434.9h1M392.3 445.8h1M399.1 441.8h1M400.4 439.6h1M409.4 439.9h1M407.3 429.9h1M387.2 444.0h1M389.4 431.7h1M369.3 435.0h1M392.3 440.8h1M395.2 442.0h1M374.1 436.8h1M392.0 431.2h1M392.2 430.2h1M390.9 436.0h1M393.6 434.1h1M378.9 456.8h1M392.0 429.2h1M415.5 433.6h1M390.9 449.3h1M385.9 443.3h1M388.7 440.8h1M408.6 449.3h1M376.4 453.4h1M413.1 446.4h1M385.5 437.7h1M397.7 445.4h1M400.4 444.4h1M382.3 436.8h1M388.2 448.7h1M400.7 440.8h1M390.4 436.2h1M374.1 445.3h1M397.1 441.9h1M378.6 443.7h1M397.4 438.1h1M391.3 424.8h1M374.7 441.6h1M401.5 437.8h1M393.6 423.1h1M404.6 443.0h1M392.9 439.0h1M384.1 447.4h1M370.0 447.2h1M391.1 437.9h1M385.9 438.2h1M391.8 435.0h1M394.6 435.2h1M414.5 439.5h1M406.1 442.1h1M379.7 443.4h1M401.6 429.1h1M388.8 435.7h1M371.0 447.9h1M397.7 453.8h1M382.4 436.2h1M379.0 436.7h1M380.0 436.6h1M390.6 439.0h1M387.3 446.6h1M387.0 434.9h1M391.2 435.5h1M398.6 434.2h1M384.0 454.8h1M385.3 441.2h1M392.7 449.5h1M395.4 448.9h1M398.6 438.3h1M407.8 439.7h1M404.0 435.3h1M395.7 427.9h1M403.8 431.1h1M381.1 437.2h1M393.5 445.7h1M408.0 433.2h1M409.1 428.4h1M405.6 440.4h1M394.9 434.2h1M381.4 438.8h1M390.5 432.3h1M368.9 451.4h1M387.4 437.3h1M377.2 445.3h1M388.0 431.6h1M387.9 436.1h1M397.3 412.5h1M399.0 443.6h1M396.3 457.4h1M396.4 422.7h1M394.9 453.7h1M409.9 447.3h1M389.4 448.5h1M386.3 438.7h1M380.9 438.6h1M392.9 450.9h1M400.7 434.5h1M411.8 425.4h1M388.9 435.0h1M401.4 440.3h1M389.3 439.5h1M401.4 436.5h1M378.3 443.4h1M396.9 456.0h1M399.0 442.2h1M371.1 448.2h1M389.2 432.1h1M380.6 438.3h1M393.2 449.0h1M396.2 443.6h1M392.9 445.0h1M399.2 436.9h1M395.0 427.3h1M398.8 436.6h1M389.2 437.6h1M399.8 453.5h1M378.0 433.9h1M399.9 433.3h1M384.7 457.5h1M388.8 438.6h1M394.3 435.1h1M395.1 446.9h1M403.6 432.3h1M387.0 440.7h1M395.4 436.9h1M379.2 448.1h1M376.2 440.6h1M410.1 438.8h1M390.2 431.3h1M400.0 434.9h1M392.7 440.6h1M376.7 437.2h1M402.0 443.3h1M401.1 437.8h1M401.8 420.0h1M409.9 451.7h1M389.9 437.0h1M393.4 447.2h1M384.6 446.8h1M387.6 441.6h1M383.6 445.8h1M382.7 446.1h1M385.9 434.0h1M393.3 446.8h1M383.0 433.1h1M385.1 451.6h1M383.0 436.6h1M375.8 446.4h1M382.8 440.7h1M389.5 446.2h1M396.0 436.4h1M403.3 434.8h1M400.9 436.0h1M389.9 443.0h1M387.1 451.4h1M388.7 431.9h1M378.4 441.2h1M398.0 434.7h1M391.7 442.2h1M389.2 441.0h1M381.3 438.3h1M406.1 435.4h1M409.7 435.5h1M379.7 435.1h1M411.6 426.9h1M388.4 431.7h1M400.1 426.1h1M372.7 442.7h1M393.0 447.4h1M403.3 448.2h1M391.1 434.7h1M403.8 441.0h1M394.3 430.7h1M403.9 437.1h1M414.8 432.9h1M381.8 456.1h1M393.6 435.7h1M381.2 436.9h1M380.6 433.0h1M396.5 445.7h1M401.5 450.5h1M399.0 432.5h1M394.6 428.7h1M390.0 434.3h1M382.9 428.8h1M391.8 437.8h1M388.5 452.6h1M403.4 437.2h1M386.1 443.9h1M397.9 436.7h1M395.8 427.7h1M412.2 439.6h1M385.5 442.5h1M381.5 440.4h1M403.6 417.0h1M387.3 434.4h1M404.4 438.2h1M397.4 432.9h1M373.4 448.5h1M378.6 444.7h1M377.4 446.8h1M406.2 437.1h1M399.8 444.2h1M398.0 434.4h1M376.9 439.2h1M395.0 444.7h1M392.3 425.4h1M390.7 445.3h1M404.2 446.0h1M397.3 443.9h1M390.6 440.8h1M386.7 436.3h1M383.7 423.5h1M424.5 431.1h1M382.9 443.0h1M385.3 453.9h1M392.3 454.9h1M413.3 437.1h1M379.5 454.0h1M405.8 443.8h1M402.1 433.3h1M381.5 436.8h1M386.8 426.6h1M413.6 433.1h1M368.1 442.1h1M381.0 436.6h1M391.4 456.1h1M378.7 429.8h1M395.4 447.8h1M393.7 434.2h1M398.6 435.4h1M388.9 443.4h1M389.4 422.5h1M383.5 436.6h1M404.5 442.7h1M392.8 427.1h1M403.7 424.9h1M392.3 434.8h1M390.6 426.6h1M378.8 438.8h1M385.6 435.0h1M371.4 446.2h1M380.9 452.7h1M416.1 420.8h1M392.2 432.9h1M399.4 451.5h1M404.4 433.7h1M414.0 426.8h1M398.4 423.6h1M402.2 440.0h1M393.6 427.9h1M381.7 434.3h1M394.3 444.9h1M388.5 440.9h1M376.8 443.8h1M412.0 439.3h1M388.9 433.1h1M380.4 431.6h1M387.0 436.3h1M402.9 428.9h1M389.1 447.5h1M383.3 445.5h1M406.8 436.5h1M382.5 443.8h1M400.7 434.4h1M392.3 437.4h1M385.0 448.5h1M403.8 424.0h1M400.1 440.2h1M400.9 447.5h1M392.1 432.1h1M389.8 439.2h1M387.9 438.2h1M388.3 447.1h1M402.6 440.3h1M419.6 434.8h1M392.3 437.0h1M420.5 424.5h1M390.7 445.3h1M404.8 435.2h1M405.6 431.2h1M371.1 441.3h1M412.2 451.0h1M378.8 436.2h1M390.2 447.9h1M381.3 432.7h1M383.8 432.6h1M377.8 456.0h1M387.2 431.2h1M408.9 437.0h1M378.0 455.8h1M404.0 421.9h1M397.0 436.9h1M400.6 439.5h1M397.4 433.4h1M401.8 443.3h1M400.5 440.4h1M379.7 440.3h1M374.4 447.1h1M403.6 435.0h1M397.8 423.3h1M410.9 439.3h1M392.6 454.2h1M389.6 447.1h1M381.0 443.9h1M395.3 432.9h1M409.4 442.3h1M389.9 442.1h1M401.2 448.1h1M401.4 434.7h1M395.1 426.4h1M378.7 445.1h1M394.0 445.4h1M398.6 437.3h1M388.6 443.5h1M391.1 441.9h1M404.6 444.0h1M415.7 427.9h1M380.3 434.2h1M387.3 433.6h1M383.1 442.0h1M379.3 443.3h1M397.5 426.5h1M384.6 442.2h1M405.0 441.7h1M405.3 430.8h1M390.4 442.4h1M379.4 433.3h1M392.6 441.3h1M391.3 430.1h1M384.0 442.4h1M406.4 424.4h1M389.9 426.4h1M379.1 449.3h1M398.7 438.4h1M374.4 436.9h1M404.4 445.6h1M389.1 422.2h1M408.3 442.9h1M392.7 442.6h1M374.2 439.3h1M384.0 442.5h1M395.0 448.9h1M385.5 446.1h1M389.0 440.8h1M397.6 441.7h1M374.2 453.9h1M385.7 434.4h1M378.6 448.2h1M391.6 428.3h1M399.1 451.3h1M389.6 445.4h1M379.4 437.2h1M385.1 445.8h1M385.2 437.5h1M395.6 441.5h1M397.2 429.8h1M395.0 445.2h1M398.9 441.1h1M380.3 443.3h1M378.2 446.3h1M373.7 439.9h1M400.4 440.2h1M393.2 443.9h1M380.0 436.2h1M398.9 433.7h1M386.1 456.2h1M384.8 436.5h1M380.0 443.4h1M392.9 431.5h1M394.8 427.8h1M393.5 449.7h1M388.2 449.8h1M388.6 431.1h1M389.7 421.9h1M386.8 433.7h1M385.3 445.7h1M385.3 441.8h1M393.8 437.2h1M386.1 441.5h1M387.8 439.7h1M385.8 449.9h1M380.6 444.7h1M371.8 454.0h1M383.4 438.9h1M391.7 453.6h1M393.1 441.7h1M403.9 434.2h1M408.2 428.3h1M391.1 434.1h1M393.1 443.6h1M385.7 448.7h1M391.5 434.7h1M379.8 437.0h1M385.5 457.4h1M391.7 441.0h1M398.3 445.5h1M383.6 441.2h1M385.2 432.4h1M401.4 434.3h1M388.3 427.4h1M394.2 434.4h1M401.4 431.0h1M392.2 434.5h1M386.9 432.8h1M405.6 423.7h1M387.0 441.4h1M394.7 442.6h1M380.8 443.2h1M410.6 447.5h1M385.6 450.8h1M409.5 435.0h1M387.1 444.1h1M388.1 444.1h1M375.7 451.2h1M378.1 438.6h1M391.9 455.8h1M401.1 439.0h1M383.4 452.7h1M390.4 433.4h1M401.0 435.8h1M390.2 430.6h1M383.9 441.6h1M392.5 436.3h1M389.7 435.5h1M387.0 447.9h1M399.7 434.8h1M369.5 447.0h1M409.1 427.7h1M393.7 427.3h1M396.3 444.7h1M392.1 443.9h1M403.7 429.9h1M400.9 442.2h1M389.9 441.1h1M398.0 439.2h1M408.0 446.8h1M408.2 450.3h1M396.9 445.3h1M392.2 433.3h1M383.3 435.7h1M396.3 440.7h1M399.2 428.5h1M393.7 434.9h1M387.3 445.6h1M385.0 451.0h1M392.7 441.8h1M389.3 449.1h1M390.5 438.8h1M389.1 441.8h1M400.2 442.0h1M381.8 438.2h1M393.7 444.9h1M382.5 437.1h1M398.9 429.3h1M395.3 442.7h1M393.6 447.0h1M401.5 451.2h1M398.1 424.5h1M404.9 442.5h1M376.4 456.1h1M392.1 446.1h1M383.7 439.0h1M406.9 421.2h1M397.2 445.2h1M388.6 426.5h1M401.9 446.3h1M390.2 430.7h1M393.4 438.8h1M388.7 427.0h1M404.1 438.1h1M392.5 452.2h1M406.3 439.2h1M383.1 441.7h1M393.1 438.4h1M381.7 435.8h1M401.5 446.0h1M390.4 426.9h1M380.5 434.4h1M400.6 437.1h1M401.7 425.6h1M391.6 425.1h1M384.5 439.8h1M395.2 424.8h1M409.7 450.4h1M381.7 449.4h1M373.2 456.3h1M391.4 452.3h1M376.9 451.4h1M394.8 445.6h1M396.6 444.9h1M401.0 440.8h1M396.0 433.8h1M399.0 417.2h1M392.9 444.9h1M408.6 435.5h1M388.3 447.9h1M384.7 429.0h1M408.8 428.1h1M399.3 427.0h1M391.2 439.6h1M393.6 444.7h1M386.0 440.6h1M382.9 455.1h1M372.3 453.9h1M372.7 449.4h1M397.2 448.8h1M387.0 436.1h1M383.8 444.0h1M385.9 453.5h1M398.6 433.1h1M407.6 445.2h1M391.5 455.1h1M381.5 450.3h1M389.0 437.6h1M399.3 439.0h1M393.2 433.2h1M400.2 449.4h1M377.3 445.7h1M395.6 440.4h1M411.1 448.9h1M396.5 433.5h1M388.6 444.4h1M395.6 449.3h1M402.8 423.1h1M395.5 444.4h1M403.6 445.2h1M395.3 453.0h1M394.9 443.5h1M396.4 435.7h1M391.8 441.0h1M390.7 437.5h1M396.0 446.6h1M378.5 454.4h1M385.9 444.0h1M389.3 436.5h1M395.8 436.0h1M391.5 441.0h1M384.2 442.7h1M401.8 433.6h1M395.0 452.5h1M393.2 422.6h1M397.1 443.8h1M393.8 453.8h1M405.6 432.5h1M390.4 457.2h1M381.1 439.5h1M396.5 446.0h1M397.8 443.1h1M401.0 430.6h1M398.6 442.4h1M390.9 442.3h1M409.0 446.7h1M385.5 446.2h1M384.8 440.0h1M399.6 446.1h1M405.1 444.5h1M382.4 441.7h1M394.2 442.0h1M394.1 441.5h1M386.9 437.7h1M395.1 434.1h1M395.1 454.2h1M392.0 451.5h1M386.8 446.2h1M378.0 447.6h1M384.8 457.4h1M372.4 456.6h1M410.8 435.8h1M388.3 442.5h1M405.4 444.3h1M390.6 436.2h1M408.5 441.4h1M385.6 446.0h1M384.3 445.1h1M383.5 445.5h1M393.1 444.2h1M382.4 444.8h1M376.7 445.3h1M408.4 438.8h1M406.7 436.4h1M384.9 444.9h1M402.0 435.5h1M366.7 445.7h1M394.5 439.0h1M413.9 439.0h1M413.8 437.7h1M400.6 432.2h1M404.6 449.0h1M395.0 428.6h1M408.9 435.8h1M388.2 443.3h1M366.6 444.9h1M404.4 445.5h1M393.8 443.8h1M392.7 452.9h1M399.2 425.5h1M399.8 442.3h1M377.8 450.1h1M393.8 442.3h1M384.9 427.7h1M389.3 449.2h1M404.9 444.3h1M391.6 430.1h1M385.8 447.0h1M393.7 425.7h1M390.9 446.2h1M393.1 440.9h1M401.8 437.9h1M392.6 440.1h1M387.9 436.1h1M390.1 436.0h1M381.2 448.1h1M408.0 422.1h1M399.4 444.2h1M372.1 445.7h1M391.2 452.1h1M406.0 442.5h1M388.3 457.1h1M412.0 434.6h1M396.8 446.1h1M401.0 432.9h1M381.8 447.3h1M409.6 440.5h1M398.6 437.1h1M407.5 447.3h1M382.0 438.9h1M386.5 445.0h1M382.3 450.5h1M396.6 437.5h1M382.1 436.9h1M393.4 439.9h1M409.0 431.1h1M401.6 450.9h1M385.7 445.9h1M398.1 446.7h1M382.0 440.2h1M401.3 430.8h1M379.7 447.3h1M400.4 433.2h1M403.4 440.2h1M378.2 436.0h1M403.0 429.1h1M407.3 444.1h1M409.8 435.5h1M408.5 434.3h1M400.3 447.6h1M400.6 420.4h1M386.1 450.6h1M413.9 436.0h1M394.3 428.6h1M404.2 426.6h1M400.3 433.1h1M393.6 442.7h1M381.2 429.4h1M400.5 445.3h1M395.1 438.8h1M383.0 443.7h1M410.5 431.9h1M397.6 436.6h1M388.6 446.1h1M387.8 446.3h1M408.0 429.0h1M389.1 433.2h1M389.4 436.4h1M372.4 458.3h1M390.9 436.2h1M386.8 452.2h1M403.7 437.6h1M408.2 452.0h1M405.4 445.2h1M376.8 446.5h1M397.1 439.2h1M409.5 444.5h1M391.0 451.7h1M391.6 436.4h1M393.0 443.8h1M377.7 432.1h1M389.3 431.4h1M391.7 436.1h1M396.0 451.9h1M394.6 443.3h1M393.9 437.3h1M389.3 456.7h1M414.9 428.1h1M407.7 432.8h1M402.1 435.8h1M396.4 437.7h1M409.9 437.5h1M385.0 438.5h1M402.6 443.5h1M402.2 437.5h1M392.5 439.9h1M374.8 438.2h1M377.1 438.0h1M407.9 442.2h1M381.6 440.8h1M401.6 438.8h1M391.9 436.2h1M389.2 426.7h1M397.4 435.6h1M408.2 414.5h1M402.3 439.2h1M407.9 445.6h1M382.5 433.5h1M387.4 429.6h1M406.9 429.3h1M393.8 441.7h1M390.4 439.3h1M377.5 441.9h1M388.8 425.4h1M388.0 442.0h1M399.5 436.2h1M392.5 440.6h1M374.4 448.3h1M372.2 450.3h1M405.4 437.9h1M378.3 433.4h1M376.9 448.5h1M379.0 446.5h1M386.9 442.0h1M396.9 448.5h1M392.7 430.1h1M385.9 441.6h1M388.0 447.7h1M384.1 436.7h1M390.1 441.4h1M385.4 440.5h1M394.1 443.1h1M381.5 435.3h1M388.5 456.4h1M395.6 427.7h1M382.7 442.7h1M387.6 435.5h1M398.5 447.2h1M390.1 428.1h1M389.3 431.2h1M390.4 443.7h1M393.9 429.2h1M395.7 434.7h1M390.2 443.1h1M412.5 440.7h1M406.0 438.2h1M390.7 454.1h1M388.6 451.9h1M393.6 444.3h1M392.0 428.9h1M378.2 450.8h1M396.2 433.2h1M398.1 440.6h1M380.4 446.4h1M400.0 437.5h1M393.6 447.0h1M398.8 439.9h1M397.8 436.9h1M393.2 434.8h1M411.6 433.6h1M392.0 434.0h1M376.0 433.7h1M400.9 447.0h1M374.1 455.8h1M392.6 440.9h1M388.7 430.5h1M373.5 443.2h1M415.3 426.7h1M383.3 441.0h1M366.5 447.8h1M380.3 431.6h1M386.5 427.5h1M400.9 444.7h1M373.3 446.6h1M390.8 446.8h1M390.4 436.1h1M388.1 437.1h1M402.5 453.5h1M388.6 447.4h1M367.9 454.2h1M389.6 448.7h1M382.7 436.3h1M387.9 442.7h1M395.8 421.1h1M365.0 456.2h1M390.6 422.5h1M392.9 443.9h1M378.2 439.4h1M369.2 453.4h1M405.0 443.2h1M400.5 439.4h1M373.7 443.3h1M383.0 443.8h1M381.9 445.4h1M387.9 443.1h1M377.5 450.2h1M397.8 449.8h1M392.6 433.5h1M401.2 450.7h1M390.6 431.0h1M408.9 443.4h1M379.6 435.7h1M399.4 455.3h1M398.5 442.0h1M390.6 447.9h1M396.0 457.1h1M388.0 451.3h1M376.3 457.6h1M389.1 430.3h1M401.2 433.7h1M366.8 447.6h1M409.5 434.4h1M375.9 440.1h1M399.1 435.5h1M378.2 434.9h1M398.9 452.2h1M382.9 452.5h1M393.9 441.1h1M392.7 451.3h1M392.2 432.3h1M390.5 438.0h1M388.0 452.8h1M405.6 433.6h1M387.0 445.9h1M390.9 450.0h1M397.9 450.8h1M382.8 437.4h1M387.3 440.7h1M392.7 438.8h1M392.1 455.5h1M390.1 439.6h1M386.6 435.0h1M394.4 425.7h1M398.4 419.2h1M382.7 447.3h1M390.6 431.0h1M393.7 436.0h1M400.2 432.8h1M396.6 429.8h1M386.2 434.4h1M380.6 446.7h1M395.4 436.4h1M383.8 448.2h1M380.4 443.7h1M400.5 426.2h1M384.2 438.7h1M386.9 449.2h1M393.6 454.2h1M420.0 439.2h1M407.0 447.4h1M412.8 456.3h1M390.3 438.9h1M392.8 448.8h1M402.1 430.3h1M392.7 450.0h1M395.0 446.6h1M386.7 428.7h1M381.8 437.3h1M405.5 435.7h1M397.9 442.3h1M393.1 441.5h1M385.2 444.9h1M416.3 439.7h1M387.5 432.3h1M396.9 442.7h1M405.8 433.5h1M384.9 440.9h1M391.5 454.9h1M391.9 442.0h1M388.4 453.9h1M376.5 450.6h1M397.1 431.7h1M394.5 454.8h1M382.4 439.0h1M399.7 449.4h1M398.6 442.5h1M381.0 438.5h1M391.7 426.3h1M373.5 448.8h1M391.5 436.2h1M405.0 438.4h1M393.8 435.8h1M395.2 434.3h1M396.0 451.0h1M398.1 450.2h1M398.7 429.6h1M379.5 438.5h1M396.5 436.8h1M394.9 448.0h1M415.6 436.4h1M414.6 432.8h1M408.7 439.1h1M384.6 445.3h1M399.0 437.2h1M382.0 441.3h1M402.8 443.5h1M389.8 446.4h1M385.2 436.2h1M396.0 445.3h1M403.7 423.2h1M375.5 442.1h1M389.0 450.4h1M394.4 458.6h1M394.8 446.1h1M383.1 446.3h1M384.2 455.6h1M402.0 440.8h1M395.9 439.5h1M409.4 419.5h1M384.4 449.4h1M383.6 436.1h1M394.6 443.3h1M405.0 426.8h1M394.9 433.8h1M388.9 449.7h1M373.2 450.1h1M394.9 448.1h1M404.4 454.2h1M376.4 447.9h1M397.9 438.8h1M396.0 438.2h1M416.1 436.8h1M405.0 444.4h1M385.9 443.2h1M389.7 433.1h1M384.5 443.3h1M386.4 427.5h1M376.5 447.7h1M387.0 420.1h1M388.9 445.2h1M386.3 447.2h1M393.9 434.0h1M392.5 440.0h1M392.0 444.5h1M389.6 445.8h1M377.0 434.6h1M389.6 440.6h1M405.8 421.9h1M391.5 430.9h1M392.4 434.4h1M397.2 439.3h1M392.4 447.2h1M385.1 440.2h1M388.6 438.2h1M381.3 443.6h1M380.4 441.0h1M391.7 436.9h1M386.4 451.5h1M379.7 445.1h1M393.7 447.4h1M398.4 426.5h1M390.1 433.1h1M385.5 437.9h1M412.3 430.1h1M393.3 440.2h1M386.1 440.2h1M402.4 443.2h1M408.6 451.1h1M377.6 438.7h1M379.4 444.5h1M388.6 445.8h1M398.9 451.0h1M378.9 433.8h1M406.0 439.3h1M394.5 438.5h1M410.9 442.2h1M393.1 451.8h1M397.4 433.5h1M401.4 435.9h1M387.2 445.1h1M379.1 448.1h1M388.5 426.0h1M377.3 440.4h1M390.8 437.3h1M396.1 440.5h1M401.7 443.7h1M407.0 437.7h1M384.1 452.0h1M376.2 444.4h1M407.8 437.0h1M393.3 436.3h1M393.0 443.5h1M375.8 457.1h1M379.6 444.5h1M399.8 448.8h1M384.0 442.5h1M405.5 451.2h1M380.6 441.0h1M406.6 419.1h1M377.4 437.8h1M374.7 442.2h1M388.6 440.4h1M384.3 447.0h1M383.3 439.2h1M397.9 430.2h1M400.3 443.4h1M378.3 440.8h1M401.2 451.3h1M407.3 439.4h1M405.8 442.2h1M390.4 439.5h1M386.9 437.0h1M391.5 448.7h1M395.5 438.8h1M382.3 433.2h1M375.2 448.5h1M394.1 439.1h1M395.1 437.5h1M392.8 446.9h1M377.7 432.1h1M373.0 448.8h1M387.5 442.8h1M396.1 440.1h1M402.4 438.7h1M386.1 436.1h1M375.1 438.0h1M379.2 444.7h1M385.6 442.4h1M398.8 447.7h1M372.2 438.4h1M384.9 449.7h1M383.3 457.5h1M390.8 428.9h1M388.1 453.0h1M380.8 446.4h1M401.2 437.9h1M405.2 438.0h1M401.9 447.1h1M397.5 425.7h1M400.6 447.2h1M397.2 443.1h1M393.4 448.8h1M393.9 418.5h1M397.5 443.9h1M386.0 430.0h1M402.0 442.2h1M392.3 438.6h1M379.5 432.3h1M403.6 424.1h1M382.5 450.5h1M396.4 439.4h1M379.8 431.7h1M378.1 447.4h1M397.4 428.7h1M384.8 445.9h1M387.1 431.1h1M388.0 441.1h1M394.9 446.5h1M409.4 429.0h1M388.4 444.7h1M394.4 430.5h1M388.5 448.2h1M410.6 430.0h1M394.2 440.0h1M383.0 433.3h1M386.0 449.8h1M393.4 436.1h1M413.8 433.4h1M382.2 439.1h1M400.6 430.4h1M389.7 429.4h1M392.6 448.0h1M394.5 426.1h1M402.0 451.0h1M390.5 433.5h1M397.0 432.9h1M385.4 436.6h1M387.0 433.0h1M398.7 438.1h1M401.6 434.9h1M393.4 427.6h1M411.7 436.6h1M383.8 437.9h1M378.1 453.8h1M404.6 447.9h1M397.4 426.7h1M385.4 442.4h1M409.7 439.8h1M391.1 435.8h1M420.3 429.4h1M389.1 426.0h1M416.7 408.9h1M406.9 422.3h1M404.0 417.6h1M410.1 407.5h1M412.2 415.2h1M415.1 400.4h1M403.7 418.5h1M411.6 400.3h1M406.2 422.4h1M412.3 403.5h1M401.4 427.5h1M401.1 417.1h1M405.3 417.8h1M421.4 405.4h1M406.8 412.7h1M414.3 395.0h1M411.3 404.7h1M411.9 407.2h1M398.2 405.7h1M415.2 397.5h1M414.3 400.3h1M407.9 417.5h1M397.7 426.0h1M403.4 431.9h1M409.8 403.3h1M405.5 422.7h1M407.2 424.8h1M399.8 424.7h1M414.2 402.1h1M420.3 403.2h1M407.3 413.6h1M396.0 431.0h1M418.2 391.7h1M394.9 415.5h1M393.1 421.3h1M400.8 421.5h1M416.1 417.9h1M406.5 403.8h1M408.1 408.2h1M415.8 404.2h1M409.3 398.6h1M397.7 426.3h1M403.5 412.5h1M406.5 425.0h1M412.4 395.4h1M411.9 409.7h1M397.3 425.0h1M415.8 405.9h1M412.1 398.2h1M394.0 431.4h1M401.2 420.3h1M408.3 415.6h1M420.8 408.4h1M414.6 398.8h1M413.8 399.2h1M412.6 416.8h1M396.3 426.7h1M409.3 412.5h1M402.1 422.8h1M416.7 401.9h1M403.0 406.6h1M419.2 394.5h1M396.9 426.8h1M417.3 396.9h1M402.3 422.9h1M391.8 428.2h1M393.4 425.4h1M394.5 426.4h1M417.7 407.0h1M393.3 421.8h1M412.9 414.8h1M406.2 429.5h1M405.1 418.1h1M397.7 420.7h1M395.3 427.7h1M403.7 412.5h1M412.1 401.1h1M405.3 411.3h1M418.2 395.4h1M410.7 413.6h1M398.6 429.4h1M411.7 415.3h1M406.4 404.3h1M411.2 400.5h1M401.2 410.2h1M395.7 433.2h1M417.0 392.6h1M412.0 418.2h1M397.9 428.9h1M416.4 397.3h1M395.4 422.9h1M409.4 403.8h1M403.6 411.7h1M405.3 403.8h1M399.7 414.9h1M410.4 418.5h1M415.0 392.4h1M407.9 410.6h1M406.8 414.5h1M404.4 406.2h1M413.1 402.4h1M417.7 393.4h1M404.3 418.6h1M398.1 420.7h1M408.9 405.4h1M400.6 401.8h1M419.3 390.6h1M406.5 429.3h1M406.0 408.7h1M405.2 407.3h1M395.2 429.7h1M413.9 402.4h1M404.6 421.0h1M397.8 422.5h1M401.2 411.4h1M405.2 416.6h1M404.5 419.6h1M404.5 414.1h1M393.2 416.7h1M411.7 407.4h1M414.5 415.6h1M405.7 423.0h1M405.2 422.0h1M411.1 399.7h1M418.2 412.5h1M399.0 414.5h1M415.1 402.7h1M400.3 415.2h1M408.7 410.5h1M396.3 429.7h1M417.7 400.8h1M399.9 420.6h1M411.4 398.6h1M412.3 420.5h1M409.7 415.8h1M410.2 406.5h1M411.9 408.5h1M400.8 427.2h1M414.3 405.5h1M407.2 410.0h1M400.8 413.8h1M413.4 410.2h1M402.0 411.8h1M409.3 405.4h1M412.0 402.4h1M398.2 435.1h1M401.1 420.9h1M412.8 406.6h1M399.7 427.5h1M391.6 424.5h1M411.6 398.2h1M390.6 422.5h1M397.9 438.2h1M405.6 414.1h1M410.0 411.3h1M416.5 389.2h1M400.6 428.1h1M417.0 403.4h1M409.7 408.6h1M405.8 412.9h1M393.0 428.1h1M404.2 415.9h1M409.6 396.7h1M397.6 420.0h1M416.0 407.0h1M399.6 420.4h1M400.2 411.2h1M403.1 413.4h1M403.9 408.7h1M407.7 407.6h1M401.0 427.1h1M417.6 393.9h1M407.3 410.0h1M421.6 387.9h1M399.1 423.9h1M411.4 405.4h1M412.1 396.8h1M410.6 417.7h1M401.6 429.4h1M408.7 400.2h1M412.1 398.6h1M397.6 424.0h1M409.5 412.2h1M414.5 398.7h1M400.9 421.8h1M397.6 430.6h1M409.6 413.4h1M397.7 423.7h1M393.3 432.6h1M404.2 414.8h1M393.8 431.4h1M414.5 411.6h1M412.8 400.2h1M402.7 434.9h1M409.2 401.3h1M411.5 408.3h1M396.2 431.3h1M407.1 414.6h1M392.0 429.4h1M410.5 413.1h1M405.6 417.3h1M396.3 433.3h1M408.0 413.8h1M404.9 410.5h1M417.1 406.9h1M405.6 423.1h1M395.9 430.4h1M401.4 412.8h1M399.7 421.7h1M396.5 433.1h1M401.4 426.4h1M412.4 398.0h1M412.2 410.3h1M406.8 409.5h1M419.1 405.6h1M419.5 402.0h1M408.4 418.8h1M402.2 412.8h1M419.8 404.1h1M400.6 428.0h1M405.1 415.5h1M404.6 423.4h1M411.8 420.3h1M417.1 402.2h1M412.9 399.9h1M398.3 421.4h1M417.0 414.0h1M415.9 406.3h1M417.3 406.3h1M410.8 400.3h1M418.3 398.6h1M416.1 398.9h1M412.6 394.9h1M421.0 398.4h1M418.4 392.4h1M416.8 396.1h1M416.3 396.4h1M415.7 402.5h1M416.2 404.7h1M418.3 402.9h1M416.2 398.0h1M417.9 403.5h1M421.3 405.8h1M417.7 393.8h1M418.8 408.6h1M420.2 402.9h1M416.8 400.3h1M418.5 399.8h1M417.8 397.8h1M415.4 402.8h1M414.9 414.8h1M425.7 388.4h1M416.4 401.3h1M419.1 399.0h1M415.6 394.6h1M414.5 402.1h1M410.8 402.6h1M416.7 408.8h1M422.4 397.6h1M417.5 405.0h1M414.0 400.9h1M419.1 397.1h1M418.3 403.4h1M417.3 397.0h1M412.8 402.8h1M416.4 401.6h1M420.5 397.1h1M416.7 401.3h1M422.1 408.6h1M418.0 397.0h1M416.1 396.4h1M417.1 407.3h1M421.2 393.8h1M411.8 396.6h1M414.9 397.8h1M413.3 404.5h1M417.4 404.3h1M418.8 397.8h1M417.1 402.5h1M414.3 396.1h1M417.9 404.5h1M411.5 405.3h1M419.9 398.4h1M415.3 400.9h1M421.7 404.5h1M415.1 401.9h1M421.6 396.0h1M420.4 404.0h1M417.8 394.6h1M410.1 399.7h1M416.3 405.1h1M418.7 396.4h1M414.5 395.2h1M420.2 392.3h1M414.5 402.0h1M415.1 400.9h1M424.1 392.5h1M416.8 402.1h1M414.5 395.6h1M416.2 392.3h1M420.0 399.4h1M413.3 392.2h1M416.4 398.9h1M417.9 402.7h1M416.5 393.7h1M418.3 389.7h1M413.3 403.7h1M420.9 401.0h1M419.1 408.6h1M421.4 397.0h1M420.2 398.4h1M420.3 393.9h1M415.9 405.6h1M418.8 405.8h1M414.4 400.2h1M418.4 401.2h1M413.8 408.4h1M422.6 435.0h1M442.3 448.7h1M440.3 445.2h1M401.8 438.3h1M371.1 444.4h1M421.2 457.4h1M413.5 455.5h1M380.0 452.0h1M418.0 449.2h1M417.8 439.3h1M420.3 449.6h1M436.8 435.0h1M383.2 443.9h1M364.8 454.8h1M429.8 444.4h1M438.3 443.9h1M379.9 449.9h1M442.6 428.8h1M432.6 426.2h1M415.3 454.6h1M414.3 450.6h1M396.5 409.8h1M384.2 438.1h1M414.3 410.4h1M385.0 432.6h1M435.3 454.3h1M380.7 444.3h1M369.3 449.5h1M431.0 428.9h1M419.2 398.0h1M393.1 457.7h1M387.2 458.7h1M424.4 450.0h1M438.8 405.8h1M413.6 446.5h1M407.3 438.7h1M413.7 420.7h1M423.2 449.4h1M425.3 446.1h1M365.4 452.4h1M396.4 448.3h1M375.7 435.0h1M405.9 422.2h1M359.7 451.5h1M388.0 440.9h1M370.2 448.9h1M398.9 455.8h1M430.0 448.4h1M375.2 451.6h1M435.2 447.4h1M445.3 406.6h1M443.5 429.9h1M410.9 403.4h1M429.3 458.7h1M381.5 453.7h1M395.3 415.7h1M398.5 449.6h1M412.7 436.2h1M446.2 406.5h1M370.5 457.6h1M424.8 424.1h1M410.8 407.6h1M410.6 418.0h1M432.6 438.8h1M443.7 445.7h1M399.3 442.7h1M384.7 427.1h1M407.6 401.5h1M366.6 451.2h1M419.4 439.4h1M400.2 454.2h1M435.2 437.0h1M402.5 419.4h1M386.3 422.4h1M402.2 395.7h1M392.3 446.0h1M381.2 453.5h1M441.2 417.4h1M399.2 458.1h1M395.1 424.6h1M439.7 409.1h1M382.3 444.9h1M375.1 456.3h1M367.7 457.8h1M442.9 433.8h1M429.0 446.2h1M430.0 444.9h1M426.2 458.5h1M426.0 457.0h1M379.7 457.3h1M381.5 452.8h1M376.3 457.2h1M398.5 438.6h1M400.6 458.1h1M388.9 453.9h1M370.4 449.1h1M388.0 447.1h1M377.5 437.8h1M404.9 442.2h1M411.2 447.2h1M385.9 444.9h1M424.0 457.6h1M427.0 439.3h1M438.2 431.7h1M396.1 417.8h1M379.6 448.7h1M421.5 417.0h1M370.0 444.2h1M434.7 458.7h1M446.6 436.0h1M401.4 434.3h1M445.9 428.1h1M423.6 447.2h1M416.6 456.4h1M408.9 434.4h1M446.1 451.6h1M383.1 447.2h1M406.4 446.3h1M428.9 394.5h1M440.0 453.4h1M391.8 458.6h1M413.3 413.8h1M366.3 454.8h1M429.9 437.5h1M421.7 458.5h1M411.9 458.4h1M412.3 445.8h1M443.3 438.7h1M441.3 455.4h1M417.4 454.7h1M430.9 442.7h1M442.1 458.6h1M428.7 450.1h1M416.3 456.1h1M423.8 456.2h1M443.9 450.9h1M383.7 442.8h1M378.7 449.5h1M440.1 457.5h1M423.4 451.9h1M380.2 440.0h1M438.4 432.1h1M438.1 451.6h1M381.2 442.8h1M385.1 441.4h1M434.4 436.6h1M425.0 419.7h1M393.8 439.2h1M438.9 415.3h1M374.3 448.1h1M404.7 458.6h1M407.8 448.2h1M373.3 435.2h1M390.8 446.9h1M431.9 457.4h1M440.9 457.7h1M382.2 457.3h1M362.4 455.8h1M371.1 452.9h1M384.3 457.9h1M407.0 427.3h1M366.7 452.0h1M444.6 449.7h1M361.4 453.4h1M438.7 429.5h1M436.3 455.6h1M404.4 425.7h1M357.9 453.9h1M376.8 447.3h1M373.6 455.5h1M430.8 450.2h1M442.0 444.6h1M388.3 438.6h1M368.0 454.9h1M410.1 437.0h1M426.1 453.8h1M387.2 456.0h1M414.2 398.8h1M398.0 454.3h1M403.3 434.8h1M435.5 410.3h1M422.0 442.8h1M387.6 453.3h1M387.6 454.9h1M391.7 457.2h1M381.7 412.7h1M418.7 447.4h1M372.6 436.7h1M409.8 449.1h1M442.1 454.5h1M395.0 451.2h1M389.5 453.2h1M405.6 457.7h1M383.9 455.4h1M390.7 456.1h1M360.8 453.1h1M379.4 456.6h1M415.6 440.2h1M424.2 439.5h1M395.3 438.8h1M433.1 429.2h1M445.3 428.7h1M430.3 432.9h1M408.1 424.1h1M424.4 456.7h1M379.2 437.0h1M424.2 450.1h1M356.5 457.4h1M417.6 456.2h1M436.4 457.9h1M415.6 430.1h1M419.1 443.7h1M403.8 445.6h1M406.3 438.6h1M443.0 440.3h1M420.2 455.3h1M434.1 400.8h1M424.4 433.1h1M394.5 449.7h1M441.6 445.9h1M368.5 454.4h1M420.7 440.4h1M427.2 432.9h1M372.3 458.8h1M419.8 450.6h1M400.7 453.0h1M379.8 453.5h1M446.2 455.1h1M407.9 450.4h1M371.8 445.6h1M405.7 446.7h1M404.5 449.4h1M402.6 456.7h1M360.7 455.6h1M415.3 456.6h1M402.3 430.4h1M420.7 411.2h1M446.4 453.0h1M441.9 451.8h1M395.5 439.9h1M369.2 453.6h1M429.5 410.0h1M439.0 450.5h1M411.4 452.0h1M398.1 458.7h1M424.6 451.7h1M417.7 397.8h1M438.4 436.4h1M434.3 456.7h1M413.0 403.2h1M402.8 453.8h1M429.7 452.9h1M419.9 430.0h1M373.8 449.0h1M380.7 421.8h1M403.4 453.3h1M410.5 455.7h1M439.8 446.2h1M428.8 425.3h1M441.2 443.5h1M399.1 431.2h1M426.4 455.5h1M371.1 457.4h1M394.7 456.9h1M411.9 411.6h1M404.1 457.5h1M412.6 454.9h1M432.1 449.5h1M406.1 429.7h1M409.3 458.1h1M353.7 456.9h1M441.9 425.7h1M420.3 401.4h1M388.4 458.6h1M364.6 448.2h1M414.0 400.1h1M416.7 456.7h1M395.7 456.3h1M415.7 454.4h1M439.3 452.6h1M421.3 424.1h1M440.9 439.8h1M428.2 447.1h1M393.5 414.9h1M377.7 457.4h1M427.2 454.0h1M432.6 438.9h1M366.1 448.8h1M398.7 451.6h1M431.9 452.9h1M411.5 424.4h1M395.2 454.4h1M396.6 429.5h1M381.4 432.5h1M376.6 446.9h1M383.7 442.9h1M439.2 453.4h1M444.9 425.0h1M389.5 453.3h1M382.7 458.0h1M406.4 448.9h1M421.7 448.6h1M377.1 437.0h1M390.1 420.8h1M361.2 451.1h1M430.7 458.1h1M397.7 458.1h1M411.4 450.6h1M429.5 410.3h1M420.3 413.5h1M379.6 453.8h1M384.0 452.5h1M385.0 448.0h1M436.9 433.6h1M383.4 453.0h1M434.1 449.0h1M444.7 452.7h1M456.7 453.9h1M449.1 448.2h1M457.9 455.4h1M458.0 447.9h1M448.6 426.0h1M405.8 453.9h1M428.2 422.0h1M437.6 451.6h1M446.2 432.2h1M452.4 446.2h1M443.7 428.4h1M456.3 455.9h1M428.2 434.7h1M435.4 449.1h1M456.4 422.8h1M456.6 430.9h1M404.2 434.6h1M453.1 424.0h1M448.6 426.7h1M440.7 449.6h1M456.7 421.8h1M451.0 447.3h1M447.9 436.4h1M456.4 449.0h1M435.2 426.7h1M449.2 454.9h1M442.3 458.8h1M430.8 433.4h1M449.6 419.7h1M446.0 454.6h1M433.4 449.1h1M453.3 431.7h1M425.9 434.2h1M449.7 433.1h1M451.3 452.7h1M452.7 453.0h1M430.4 429.6h1M451.2 452.9h1M430.6 453.9h1M437.6 434.2h1M436.4 422.8h1M428.4 401.7h1M452.3 458.6h1M455.8 429.2h1M446.2 446.4h1M456.9 435.4h1M450.1 446.6h1M442.9 457.6h1M434.5 450.4h1M454.6 448.0h1M428.7 448.1h1M457.2 448.7h1M445.6 436.2h1M427.9 444.1h1M446.3 427.5h1M443.4 457.7h1M454.8 443.0h1M445.7 456.0h1M453.8 433.3h1M434.9 445.3h1M432.5 458.1h1M456.0 453.3h1M441.7 429.5h1M401.3 405.2h1M439.8 414.9h1M437.6 458.1h1M451.6 447.2h1M454.4 446.9h1M456.1 450.8h1M458.6 452.6h1M456.6 439.7h1M454.1 393.9h1M458.6 444.8h1M455.3 432.3h1M456.3 385.8h1M444.4 432.3h1M457.5 437.8h1M406.7 447.1h1M424.3 423.1h1M455.4 448.0h1M452.7 447.6h1M455.1 451.9h1M458.5 456.7h1M452.2 432.5h1M437.1 430.1h1M426.7 428.7h1M452.8 456.1h1M446.4 448.5h1M419.8 457.2h1M455.8 445.1h1M456.5 427.3h1M437.1 442.7h1M416.6 452.8h1M449.5 426.2h1M453.4 448.6h1M429.9 429.6h1M433.7 455.1h1M451.1 436.7h1M448.3 395.5h1M444.0 413.4h1M438.1 441.9h1M458.7 456.3h1M457.5 449.9h1M402.5 454.5h1M435.1 458.1h1M436.9 450.3h1M450.8 449.4h1M456.3 456.5h1M449.9 451.4h1M439.5 432.7h1M434.7 439.2h1M454.5 431.7h1M441.0 448.5h1M432.9 427.0h1M452.2 455.1h1M445.0 458.6h1M458.4 448.0h1M453.8 452.8h1M450.5 425.7h1M451.5 411.9h1M450.2 453.7h1M455.7 446.3h1M452.6 436.1h1M444.8 395.8h1M428.3 448.2h1M441.8 457.8h1M415.1 451.0h1M453.1 447.6h1M422.7 454.5h1M365.1 453.6h1M438.4 408.8h1M442.1 421.2h1M436.3 426.0h1M410.3 456.4h1M454.3 451.7h1M457.2 438.0h1M408.2 430.7h1M443.9 450.2h1M456.1 458.3h1M445.6 457.8h1M452.8 421.1h1M456.3 440.5h1M409.5 446.7h1M447.1 437.7h1M444.0 457.7h1M443.7 449.7h1M451.1 446.9h1M457.8 427.2h1M454.2 456.3h1M438.9 434.7h1M448.8 428.5h1M450.6 415.2h1M415.1 453.7h1M439.5 447.0h1M457.6 456.8h1M450.8 457.5h1M449.4 458.2h1M451.0 441.2h1M419.9 451.7h1M458.3 424.9h1M415.6 450.0h1M433.3 445.7h1M446.3 443.8h1M431.4 444.3h1M438.1 452.7h1M403.3 458.1h1M411.1 418.9h1M457.5 452.9h1M448.2 423.1h1M450.4 457.0h1M448.7 388.7h1M451.7 425.1h1M450.3 409.0h1M456.6 458.8h1M433.6 443.6h1M457.9 452.5h1M455.5 436.0h1M442.6 414.9h1M451.2 453.1h1M441.4 453.1h1M438.0 440.0h1M446.5 401.3h1M443.0 440.1h1M442.9 452.5h1M454.9 435.7h1M445.0 456.9h1M456.6 443.6h1M439.2 450.8h1M442.9 456.9h1M447.8 445.2h1M449.4 405.3h1M406.6 450.3h1M443.5 449.9h1M453.7 426.8h1M431.1 451.9h1M421.4 458.3h1M451.2 435.8h1M441.4 434.7h1M448.2 457.2h1M454.7 440.9h1M442.5 414.9h1M446.4 455.3h1M432.3 432.5h1M454.0 448.5h1M441.0 443.3h1M444.4 456.9h1M443.6 452.4h1M451.4 458.0h1M438.9 453.9h1M445.0 444.6h1M439.2 457.4h1M427.6 452.8h1M442.6 435.1h1M433.0 411.2h1M453.2 453.6h1M448.5 440.1h1M458.3 456.5h1M406.9 442.9h1M458.7 418.8h1M450.9 435.5h1M451.5 454.5h1M447.1 431.6h1M456.0 444.5h1M412.9 418.0h1M445.3 456.4h1M435.9 452.0h1M452.2 455.9h1M458.0 414.4h1M438.8 447.0h1M450.0 410.4h1M453.0 438.6h1M451.5 429.0h1M418.7 439.2h1M407.4 455.7h1M439.0 438.1h1M452.3 456.1h1M454.4 447.7h1M450.4 407.0h1M433.0 442.4h1M452.5 456.6h1M431.3 424.6h1M457.2 457.6h1M457.1 409.3h1M451.3 455.8h1M457.4 392.9h1M437.9 437.4h1M441.5 437.2h1M436.6 452.3h1M431.9 445.0h1M454.2 443.5h1M447.1 455.4h1M452.2 446.4h1M414.1 449.0h1M456.5 436.8h1M454.5 400.9h1M456.8 444.0h1M404.2 440.1h1M427.1 457.5h1M447.4 455.8h1M451.3 455.3h1M452.9 445.8h1M453.1 434.5h1M454.1 420.5h1M454.1 457.8h1M430.3 449.5h1M457.2 450.6h1M443.4 449.2h1M442.7 450.5h1M456.8 451.4h1M455.0 452.7h1M442.2 440.7h1M453.2 451.8h1M445.4 429.2h1M443.1 439.8h1M451.3 457.6h1M445.0 435.5h1M451.4 439.0h1M439.3 453.2h1M450.4 441.5h1M442.6 427.9h1M433.2 452.3h1M452.9 451.8h1M447.4 449.7h1M453.1 448.8h1M454.3 453.8h1M446.2 424.9h1M416.2 445.3h1M456.5 452.3h1M443.0 436.3h1M454.6 456.4h1M425.1 455.7h1M454.1 444.9h1M431.2 428.7h1M433.0 386.5h1M457.0 452.7h1M457.9 417.9h1M456.0 421.6h1M443.7 458.8h1M457.2 451.7h1M441.6 438.5h1M425.4 441.8h1M448.7 422.8h1M434.2 396.2h1M425.6 440.0h1M413.9 437.7h1M379.3 431.3h1M447.3 456.4h1M413.9 438.9h1M457.2 457.4h1M408.3 458.0h1M449.2 453.1h1M435.5 443.1h1M457.1 436.3h1M450.9 448.8h1M455.2 451.0h1M458.0 450.8h1M453.2 456.4h1M425.2 441.1h1M458.7 451.2h1M449.2 426.0h1M454.1 452.4h1M456.2 436.4h1M447.9 447.7h1M441.7 448.4h1M447.0 451.2h1M432.8 454.2h1M455.0 396.5h1M455.4 412.8h1M455.3 441.9h1M418.4 428.7h1M447.1 447.7h1M451.6 453.2h1M431.9 431.6h1M455.4 392.8h1M446.9 428.5h1M454.2 436.2h1M438.1 445.4h1M432.7 426.5h1M447.2 408.3h1M431.7 436.8h1M445.7 451.5h1M456.2 450.7h1M447.5 414.0h1M424.9 453.0h1M457.2 439.3h1M453.7 439.4h1M431.1 440.5h1M448.7 436.2h1M421.6 426.2h1M451.2 456.9h1M455.0 451.3h1M453.7 446.8h1M437.3 442.8h1M439.6 446.0h1M376.5 447.8h1M452.1 452.7h1M439.2 423.8h1M396.4 422.9h1M449.5 456.1h1M448.2 455.9h1M438.5 453.5h1M455.5 422.3h1M447.9 457.4h1M454.8 437.9h1M407.9 412.2h1M444.1 403.7h1M444.8 457.8h1M433.3 435.2h1M457.1 427.7h1M404.4 443.8h1M423.8 433.9h1M444.9 436.3h1M458.5 452.0h1M448.8 418.1h1M452.9 439.8h1M450.3 436.1h1M454.8 454.9h1M441.0 456.6h1M452.6 437.3h1M458.3 419.1h1M454.4 436.8h1M448.7 435.8h1M454.4 446.2h1M440.6 429.0h1M458.4 455.8h1M456.7 396.6h1M425.8 439.9h1M454.0 432.6h1M453.4 438.8h1M455.7 439.4h1M436.9 416.0h1M457.4 439.3h1M396.4 443.8h1M434.5 446.8h1M452.6 453.0h1M440.7 431.5h1M402.1 436.4h1M449.9 448.1h1M426.0 431.4h1M439.4 445.8h1M453.2 451.1h1M404.3 398.4h1M458.0 444.3h1M457.4 428.4h1M442.0 442.5h1M454.5 450.4h1M456.8 456.9h1M449.5 445.6h1M458.5 452.7h1M440.6 456.3h1M432.3 389.4h1M435.6 456.9h1M449.8 452.6h1M457.1 452.2h1M456.6 448.0h1M430.9 455.5h1M458.0 393.2h1M422.2 457.5h1M406.5 393.5h1M455.7 444.8h1M392.0 453.5h1M396.8 448.6h1M447.6 405.2h1M451.7 417.8h1M441.8 450.1h1M444.5 456.2h1M452.3 457.2h1M447.7 458.2h1M453.2 431.2h1M423.7 455.3h1M456.9 453.6h1M432.7 454.4h1M403.0 437.0h1M436.0 456.6h1M453.3 457.3h1M447.3 449.9h1M455.9 413.0h1M452.5 435.5h1M453.1 439.9h1M453.6 445.8h1M439.4 434.0h1M457.6 419.4h1M406.3 440.8h1M455.3 451.6h1M417.6 432.1h1M458.5 407.8h1M452.0 426.2h1M457.4 447.6h1M451.0 456.1h1M451.4 449.6h1M450.7 457.1h1M436.2 458.0h1M454.3 456.7h1M405.9 439.6h1M448.3 438.7h1M447.6 455.3h1M443.4 418.9h1M456.1 425.0h1M455.9 449.1h1M450.5 449.5h1M408.7 437.4h1M419.9 447.2h1M445.0 442.8h1M444.3 456.0h1M455.8 451.9h1M457.3 458.0h1M436.9 403.4h1M454.9 447.3h1M451.4 427.7h1M456.2 451.0h1M453.3 453.9h1M387.7 453.3h1M439.3 446.2h1M449.1 455.6h1M451.6 452.3h1M449.3 452.2h1M452.9 439.5h1M442.3 428.2h1M454.1 426.7h1M444.1 452.1h1M448.2 417.2h1M444.6 408.8h1M454.1 458.4h1M458.5 449.3h1M447.5 451.3h1M450.9 458.6h1M441.2 444.4h1M456.4 457.4h1M445.5 455.7h1M454.2 437.2h1M450.7 447.7h1M444.4 447.1h1M437.7 452.1h1M457.6 443.9h1M447.4 442.1h1M432.2 432.4h1M457.3 444.5h1M457.4 432.4h1M421.4 438.1h1M449.7 451.3h1M453.2 450.6h1M455.1 421.0h1M454.0 420.8h1M407.0 437.6h1M458.4 413.9h1M428.5 456.1h1M453.9 438.6h1M437.2 448.5h1M453.6 421.0h1M439.9 434.4h1M454.0 438.1h1M447.6 410.5h1M398.6 456.5h1M457.1 434.9h1M450.3 438.7h1M435.4 454.0h1M438.4 455.1h1M422.8 412.2h1M445.2 453.7h1M455.4 441.2h1M451.2 443.3h1M455.8 405.9h1M445.6 455.5h1M453.6 426.0h1M423.5 427.1h1M444.0 453.2h1M455.1 444.3h1M407.9 437.1h1M457.6 442.4h1M456.3 444.6h1M456.0 435.6h1M442.8 423.3h1M450.4 441.4h1M454.9 437.3h1M447.5 455.8h1M452.1 453.3h1M417.9 450.7h1M439.8 447.8h1M417.5 448.4h1M441.4 441.3h1M423.9 458.0h1M453.7 432.3h1M439.3 454.1h1M451.2 444.0h1M456.6 437.7h1M457.0 440.9h1M446.2 439.4h1M453.7 457.1h1M446.6 442.8h1M457.7 427.6h1M448.2 454.6h1M458.2 416.6h1M441.7 450.2h1M456.9 450.5h1M455.0 436.7h1M450.6 442.8h1M454.8 440.3h1M444.7 452.0h1M437.1 438.3h1M455.7 442.0h1M447.7 455.0h1M398.9 456.0h1M449.9 423.4h1M442.7 437.1h1M444.2 449.6h1M445.8 440.2h1M439.2 447.8h1M435.6 433.9h1M450.2 428.2h1M431.6 440.8h1M451.5 456.1h1M455.6 456.3h1M451.8 452.9h1M421.6 399.7h1M440.1 447.7h1M446.5 451.2h1M443.2 429.9h1M429.4 431.0h1M454.6 448.9h1M451.1 450.3h1M455.9 451.3h1M455.9 450.8h1M455.4 445.2h1M442.0 458.8h1M450.5 442.4h1M452.7 448.5h1M455.5 451.3h1M458.4 407.3h1M434.2 449.9h1M441.5 456.0h1M456.4 451.1h1M453.5 426.5h1M457.2 428.1h1M453.3 445.2h1M453.6 439.6h1M442.8 458.1h1M450.4 441.5h1M448.6 454.5h1M438.3 450.2h1M454.2 424.9h1M448.5 454.9h1M451.3 456.1h1M450.6 451.1h1M412.0 405.4h1M434.9 435.9h1M443.8 436.4h1M444.0 439.8h1M457.2 443.8h1M455.9 441.4h1M411.8 392.5h1M425.4 454.4h1M430.3 447.9h1M453.0 417.4h1M432.8 458.7h1M455.3 458.4h1M446.4 455.1h1M403.0 440.2h1M455.9 436.9h1M437.3 450.0h1M442.4 410.9h1M444.9 454.2h1M453.1 455.2h1M396.0 438.8h1M439.8 447.8h1M412.7 454.2h1M450.2 389.4h1M452.4 457.1h1M455.3 457.5h1M447.4 401.3h1M457.3 454.8h1M456.9 456.7h1M451.8 424.8h1M445.2 449.8h1M454.2 451.1h1M450.5 456.6h1M427.7 420.3h1M443.6 452.5h1M428.7 435.3h1M449.5 420.5h1M444.3 432.4h1M447.3 449.1h1M453.4 454.2h1M430.6 451.0h1M458.4 445.6h1M443.7 441.5h1M419.5 447.5h1M456.6 426.3h1M449.5 455.3h1M440.8 442.7h1M437.0 451.8h1M419.6 393.2h1M442.3 457.0h1M418.1 452.0h1M416.8 450.6h1M457.9 432.5h1M449.3 439.4h1M419.1 453.2h1M452.7 424.8h1M445.7 457.5h1M450.7 452.7h1M436.3 419.0h1M454.6 453.6h1M454.5 450.4h1M450.8 436.8h1M446.8 455.7h1M438.0 405.4h1M455.5 426.4h1M455.9 456.5h1M434.3 432.4h1M448.6 431.7h1M458.0 438.8h1M446.8 447.6h1M397.5 442.8h1M439.9 446.2h1M451.0 457.6h1M436.8 453.1h1M458.4 423.5h1M454.7 452.7h1M430.5 389.5h1M448.7 428.1h1M415.8 454.7h1M458.4 454.6h1M456.4 412.9h1M380.0 446.6h1M450.7 427.2h1M457.9 457.2h1M442.4 421.1h1M455.0 448.4h1M393.7 455.7h1M443.7 420.0h1M457.6 418.6h1M450.1 451.6h1M438.0 452.5h1M454.5 439.3h1M450.9 457.6h1M450.9 452.7h1M452.9 451.2h1M390.1 453.9h1M441.1 453.8h1M453.6 427.4h1M454.7 457.2h1M456.8 455.0h1M455.0 437.1h1M443.1 457.9h1M454.6 450.5h1M440.8 449.1h1M457.0 422.2h1M454.8 441.9h1M457.1 457.1h1M448.4 455.2h1M455.2 454.6h1M447.1 409.4h1M413.0 441.0h1M387.1 454.8h1M450.8 450.2h1M454.4 429.8h1M444.6 391.9h1M453.5 450.7h1M447.4 451.0h1M436.8 456.2h1M426.6 432.4h1M457.3 434.7h1M371.9 453.2h1M444.1 434.8h1M452.3 457.2h1M449.3 449.6h1M453.7 432.7h1M433.3 450.3h1M454.8 447.8h1M442.3 447.7h1M440.9 435.4h1M428.9 457.3h1M458.5 435.5h1M457.8 412.1h1M425.3 450.3h1M458.0 453.5h1M384.5 425.4h1M445.4 454.6h1M451.8 453.4h1M453.4 454.4h1M440.5 448.3h1M443.1 452.2h1M445.9 427.0h1M451.1 450.3h1M457.4 458.8h1M458.2 452.1h1M457.3 452.8h1M451.2 435.2h1M458.7 433.7h1M446.1 433.0h1M457.0 443.8h1M417.0 452.6h1M453.4 437.1h1M458.2 440.1h1M442.4 437.1h1M442.4 430.7h1M445.7 436.4h1M457.8 446.1h1M446.7 448.2h1M456.5 442.8h1M448.6 407.4h1M427.5 455.8h1M451.3 458.0h1M432.1 438.4h1M454.7 442.8h1M421.4 456.5h1M449.4 432.6h1M452.7 401.1h1M400.8 455.2h1M452.2 440.3h1M446.8 450.0h1M455.0 456.6h1M433.4 445.2h1M439.5 453.5h1M443.7 447.7h1M449.8 441.9h1M437.4 453.0h1M444.6 435.2h1M445.4 446.5h1M455.7 452.8h1M424.8 439.8h1M452.2 426.6h1M452.7 452.3h1M448.1 431.9h1M450.1 398.3h1M455.3 415.1h1M421.3 436.4h1M430.1 404.9h1M445.5 452.8h1M449.5 457.2h1M439.3 454.4h1M445.3 446.3h1M440.8 452.8h1M458.4 414.1h1M420.3 405.8h1M451.9 402.1h1M448.6 451.8h1M442.5 451.2h1M446.4 442.7h1M397.6 444.9h1M436.5 439.1h1M450.7 437.2h1M448.4 423.5h1M441.8 457.3h1M429.5 449.2h1M442.5 453.3h1M442.0 444.1h1M449.0 457.9h1M446.7 458.6h1M444.6 452.7h1M415.3 406.6h1M443.1 453.6h1M454.4 403.8h1M457.4 431.5h1M453.6 422.1h1M434.6 433.2h1M446.4 429.5h1M448.8 450.6h1M442.8 419.3h1M432.7 425.7h1M424.2 451.9h1M456.3 423.0h1M456.5 453.0h1M451.8 457.9h1M431.3 414.9h1M455.5 416.3h1M450.5 399.8h1M408.2 441.5h1M447.3 453.0h1M445.9 412.4h1M449.1 455.5h1M457.3 455.8h1M455.1 436.0h1M457.4 423.4h1M441.6 455.4h1M437.5 443.5h1M437.8 457.3h1M454.0 430.9h1M454.7 452.1h1M450.5 438.7h1M455.4 432.8h1M422.8 453.0h1M448.8 434.0h1M400.4 445.6h1M432.7 458.3h1M453.1 406.8h1M427.8 450.9h1M439.6 458.3h1M452.5 426.5h1M449.4 455.2h1M444.5 450.9h1M458.2 434.1h1M435.6 454.0h1M458.4 424.0h1M447.2 442.9h1M441.3 417.5h1M454.1 442.1h1M450.4 455.8h1M451.2 443.4h1M447.6 457.0h1M453.8 441.6h1M457.5 453.4h1M457.3 435.4h1M452.3 448.5h1M457.2 441.1h1M451.2 412.0h1M455.8 448.8h1M456.7 452.6h1M456.6 420.8h1M405.9 439.4h1" stroke="#2457a7" stroke-width="1" fill="none" opacity="1"/>
<path d="M460.5 458.9 C457.5 439.3 459.0 422.3 466.5 414.3 C473.5 408.3 483.5 403.8 490.5 405.8 C497.0 408.3 497.0 428.3 495.5 438.3 C494.5 447.3 492.5 453.3 489.5 458.9 Z" fill="#2457a7"/>
<path d="M457.9 439.4h1M494.2 423.8h1M478.6 432.9h1M487.5 426.8h1M485.7 419.6h1M476.8 423.9h1M465.1 440.3h1M489.5 419.9h1M483.1 431.9h1M465.8 444.0h1M484.5 431.2h1M475.4 436.6h1M452.6 424.5h1M482.6 428.8h1M467.8 432.6h1M458.5 451.6h1M479.7 444.3h1M475.6 438.3h1M460.2 439.2h1M481.3 440.0h1M479.1 408.9h1M466.2 456.1h1M488.8 408.3h1M475.1 427.4h1M477.8 449.0h1M489.4 417.3h1M463.1 447.3h1M478.4 441.1h1M485.1 417.6h1M462.7 455.9h1M494.8 402.7h1M484.4 433.7h1M468.4 428.0h1M493.2 425.0h1M474.3 440.1h1M471.2 431.5h1M483.7 450.3h1M480.0 447.6h1M480.5 434.1h1M474.8 434.1h1M477.2 447.6h1M475.0 416.5h1M483.7 418.2h1M481.3 415.3h1M467.1 450.0h1M471.9 425.1h1M466.7 444.9h1M479.0 434.0h1M491.8 421.3h1M477.1 433.2h1M493.9 432.6h1M460.4 453.0h1M479.1 443.5h1M488.7 407.4h1M466.9 436.2h1M474.9 457.4h1M474.6 446.2h1M470.9 453.8h1M461.4 424.8h1M480.4 420.9h1M468.7 437.4h1M479.4 428.2h1M477.6 440.5h1M480.2 427.0h1M473.4 410.3h1M478.0 420.9h1M473.2 419.7h1M473.9 451.1h1M477.1 433.7h1M491.1 420.5h1M487.0 446.3h1M455.5 439.8h1M473.5 408.6h1M461.0 425.9h1M492.6 426.6h1M472.6 432.1h1M499.2 418.5h1M476.6 416.2h1M468.2 431.6h1M487.9 440.7h1M449.2 449.4h1M489.2 441.8h1M487.3 416.0h1M476.5 431.8h1M462.1 433.5h1M464.5 443.7h1M475.4 453.4h1M455.0 437.6h1M476.2 436.7h1M484.0 409.7h1M464.1 448.1h1M464.6 439.4h1M491.3 436.3h1M475.5 438.9h1M472.9 448.0h1M480.1 442.7h1M460.8 426.8h1M476.6 436.6h1M481.3 437.4h1M492.9 445.9h1M483.0 418.7h1M460.4 442.8h1M488.2 432.8h1M467.8 436.7h1M475.2 422.9h1M487.3 414.9h1M485.8 445.3h1M470.3 431.8h1M461.3 424.3h1M488.7 423.2h1M478.3 412.6h1M480.4 423.8h1M482.6 426.7h1M477.9 428.2h1M496.3 412.9h1M477.9 434.6h1M489.5 422.4h1M485.5 428.0h1M469.7 431.8h1M480.5 425.1h1M474.9 440.7h1M476.1 441.3h1M483.9 432.5h1M477.3 418.8h1M467.8 448.9h1M491.9 402.8h1M474.7 455.4h1M493.9 433.1h1M481.1 449.6h1M486.8 449.4h1M477.6 400.9h1M463.6 431.5h1M476.8 447.3h1M476.8 451.9h1M474.4 415.2h1M457.3 433.4h1M480.7 447.6h1M472.7 430.3h1M471.2 439.6h1M485.4 431.7h1M486.7 444.1h1M468.3 447.6h1M468.6 447.5h1M483.3 437.0h1M484.1 429.6h1M483.3 455.1h1M476.2 426.4h1M495.2 406.8h1M478.5 416.2h1M472.7 454.6h1M466.3 421.4h1M485.6 443.3h1M472.9 415.9h1M482.1 436.2h1M486.7 432.1h1M473.7 427.9h1M487.2 431.8h1M489.6 455.5h1M477.2 448.3h1M461.9 454.6h1M466.3 457.3h1M466.7 452.8h1M472.5 431.8h1M483.6 440.5h1M480.3 455.1h1M473.5 439.5h1M487.6 435.5h1M475.9 442.6h1M497.8 447.2h1M474.8 420.0h1M482.1 456.8h1M467.2 429.0h1M483.7 429.6h1M483.3 443.8h1M481.9 422.6h1M483.4 447.7h1M493.3 433.7h1M491.6 440.0h1M474.4 429.7h1M467.6 428.0h1M474.0 438.8h1M475.2 426.7h1M490.2 431.9h1M467.9 449.9h1M481.7 433.7h1M471.0 440.9h1M474.8 453.4h1M470.2 423.8h1M493.3 393.6h1M479.7 428.5h1M469.1 439.9h1M484.3 435.6h1M482.7 431.7h1M488.3 414.2h1M475.7 436.5h1M467.7 435.0h1M483.0 440.8h1M464.4 425.5h1M480.1 428.1h1M489.6 427.9h1M487.3 441.7h1M461.4 444.8h1M478.7 432.0h1M478.8 440.3h1M477.8 426.8h1M483.8 456.6h1M494.2 430.9h1M483.7 433.5h1M491.9 421.3h1M466.3 447.1h1M490.1 432.9h1M490.7 420.2h1M467.5 434.8h1M471.9 396.4h1M459.4 439.8h1M476.6 433.9h1M480.3 409.3h1M497.1 418.2h1M470.6 455.8h1M472.0 428.9h1M474.9 453.5h1M488.8 404.2h1M476.5 439.2h1M477.6 421.6h1M467.2 424.7h1M483.6 438.4h1M473.8 443.9h1M470.2 414.4h1M475.3 415.1h1M474.7 444.5h1M478.6 429.0h1M486.5 443.3h1M490.5 432.3h1M480.2 449.7h1M484.4 417.9h1M491.7 438.6h1M470.3 439.5h1M479.5 435.6h1M479.2 440.3h1M486.6 399.0h1M467.0 446.0h1M454.1 440.0h1M480.3 450.6h1M467.6 439.0h1M464.8 438.1h1M475.2 441.4h1M470.9 430.4h1M495.8 445.0h1M475.9 444.2h1M485.9 428.7h1M457.7 426.9h1M489.8 446.0h1M466.7 444.3h1M477.1 453.0h1M475.4 411.6h1M487.6 441.0h1M473.7 433.5h1M485.1 424.9h1M476.2 442.6h1M480.7 457.8h1M493.0 423.5h1M496.2 426.7h1M470.4 420.0h1M478.8 439.6h1M482.2 422.9h1M473.9 440.8h1M472.7 448.2h1M476.1 446.1h1M486.7 423.2h1M468.9 425.6h1M464.6 453.2h1M479.3 437.1h1M487.9 410.0h1M466.6 448.3h1M468.7 416.6h1M467.2 442.3h1M476.4 421.9h1M478.0 447.2h1M486.8 435.6h1M477.8 448.7h1M486.3 417.5h1M484.8 434.9h1M473.5 431.3h1M470.9 422.1h1M474.5 428.2h1M471.8 429.5h1M463.1 430.0h1M494.4 438.1h1M486.2 425.4h1M479.0 431.8h1M483.9 421.5h1M484.3 413.1h1M452.4 428.1h1M473.5 396.7h1M492.6 419.4h1M480.6 442.4h1M487.5 441.3h1M480.7 446.5h1M482.6 420.2h1M474.0 414.6h1M473.0 439.4h1M460.7 437.2h1M459.3 450.3h1M490.0 428.9h1M470.1 442.6h1M471.1 425.3h1M482.6 439.1h1M486.5 416.5h1M484.8 428.6h1M482.3 429.6h1M468.7 425.3h1M500.1 413.1h1M488.7 434.3h1M471.5 439.5h1M464.4 438.0h1M481.3 422.8h1M472.7 433.4h1M497.9 415.4h1M484.6 433.7h1M477.6 433.3h1M489.6 437.0h1M476.7 427.3h1M485.9 408.9h1M470.7 429.4h1M488.1 420.3h1M464.3 433.6h1M499.0 401.8h1M481.8 436.6h1M485.7 410.0h1M487.0 452.6h1M477.6 449.1h1M477.5 445.3h1M472.3 442.5h1M475.7 433.2h1M479.7 455.2h1M482.4 436.6h1M472.9 440.9h1M470.6 434.3h1M487.2 419.9h1M460.4 442.1h1M496.4 404.2h1M472.2 409.1h1M481.3 429.2h1M488.0 413.4h1M470.9 425.0h1M472.8 421.4h1M457.9 446.2h1M463.9 452.9h1M456.4 412.6h1M483.7 447.3h1M475.9 434.0h1M476.3 444.9h1M484.4 446.2h1M482.2 420.0h1M462.7 431.6h1M484.5 449.8h1M471.1 439.3h1M463.6 430.7h1M472.9 455.1h1M463.8 433.5h1M468.4 457.2h1M469.0 445.2h1M474.8 457.5h1M471.6 440.9h1M486.0 425.5h1M472.5 432.3h1M472.3 437.0h1M486.0 434.7h1M484.4 432.3h1M475.9 428.5h1M468.9 434.2h1M461.7 453.7h1M480.3 427.5h1M488.3 444.1h1M489.5 446.2h1M477.9 424.4h1M479.8 433.0h1M479.2 438.4h1M481.7 425.7h1M464.0 429.1h1M469.3 414.3h1M478.1 431.6h1M471.5 448.0h1M486.2 437.0h1M464.1 435.9h1M494.4 451.1h1M462.6 433.0h1M476.0 445.3h1M456.8 449.2h1M480.3 430.4h1M483.7 452.3h1M478.9 439.7h1M466.6 442.4h1M487.4 432.0h1M474.0 451.1h1M465.6 452.5h1M480.8 444.0h1M483.2 437.0h1M488.4 454.9h1M476.4 446.0h1M469.8 428.7h1M474.0 431.5h1M465.8 453.7h1M481.9 431.8h1M471.7 449.0h1M474.3 445.9h1M478.3 418.2h1M483.9 448.5h1M491.1 443.1h1M482.7 433.2h1M465.1 450.8h1M490.3 428.1h1M478.8 419.4h1M475.6 438.5h1M464.4 434.1h1M473.8 431.9h1M489.3 447.6h1M458.5 443.0h1M470.7 431.7h1M483.0 445.3h1M464.9 427.9h1M468.3 429.0h1M494.2 416.4h1M455.4 448.3h1M470.4 439.4h1M486.3 423.3h1M460.4 444.2h1M468.7 441.0h1M460.2 453.9h1M482.9 432.9h1M469.6 441.5h1M471.3 432.3h1M463.8 439.0h1M486.4 451.0h1M445.6 455.3h1M458.7 452.8h1M481.2 426.6h1M462.0 418.3h1M488.6 419.2h1M475.2 432.9h1M486.2 446.8h1M477.1 438.9h1M478.7 430.4h1M474.8 438.6h1M480.9 439.9h1M458.7 448.7h1M460.7 456.2h1M484.1 437.4h1M488.5 420.3h1M477.9 416.8h1M465.4 427.8h1M472.4 450.3h1M486.4 452.7h1M482.3 426.3h1M492.4 433.7h1M458.9 443.7h1M469.3 442.0h1M454.0 452.4h1M480.0 427.6h1M499.0 427.8h1M475.6 435.1h1M472.3 403.5h1M472.5 433.7h1M474.9 457.3h1M482.0 444.0h1M484.2 425.4h1M478.9 437.2h1M491.3 438.5h1M458.7 437.4h1M473.6 446.0h1M479.1 432.0h1M474.7 419.7h1M494.7 427.0h1M476.7 409.3h1M463.8 436.2h1M475.7 419.2h1M487.3 446.1h1M493.9 404.5h1M478.8 436.8h1M485.8 442.3h1M480.2 442.6h1M475.7 419.2h1M456.6 422.9h1M485.1 445.6h1M465.8 435.3h1M484.7 426.3h1M483.1 436.0h1M478.3 431.1h1M493.7 426.3h1M479.2 428.1h1M491.0 425.5h1M469.6 405.5h1M475.9 427.6h1M486.1 421.3h1M462.8 435.7h1M485.3 443.7h1M474.9 425.4h1M486.0 441.8h1M463.6 452.6h1M484.4 443.3h1M481.0 442.7h1M478.4 422.7h1M466.6 425.0h1M476.0 448.9h1M492.7 431.3h1M492.0 458.0h1M469.8 455.1h1M476.6 444.2h1M492.7 432.2h1M487.6 430.1h1M471.1 440.5h1M487.7 427.7h1M476.3 435.5h1M476.8 443.7h1M468.9 444.8h1M484.0 436.7h1M482.2 415.0h1M487.0 412.7h1M482.4 421.5h1M475.6 410.7h1M468.0 424.1h1M469.4 429.4h1M482.3 413.8h1M472.4 429.8h1M481.4 424.7h1M460.9 420.8h1M476.8 434.2h1M476.8 418.7h1M472.4 438.2h1M472.8 419.1h1M469.0 430.4h1M459.7 451.5h1M496.4 414.2h1M474.4 444.3h1M484.0 455.4h1M497.1 440.6h1M474.8 418.8h1M485.8 448.3h1M487.2 436.0h1M474.5 415.0h1M489.5 438.5h1M469.3 435.5h1M476.9 431.9h1M491.4 438.2h1M492.0 427.4h1M492.1 444.8h1M473.6 427.1h1M481.9 442.9h1M486.9 443.2h1M463.5 424.9h1M474.2 421.1h1M470.1 453.1h1M467.0 449.1h1M490.5 442.0h1M476.4 435.2h1M484.1 450.5h1M487.4 434.9h1M477.0 428.5h1M478.7 431.8h1M489.8 440.6h1M475.5 428.4h1M484.0 429.1h1M483.8 430.4h1M480.1 444.9h1M489.9 444.4h1M479.3 433.4h1M478.5 434.9h1M463.0 433.6h1M459.5 429.5h1M499.3 437.9h1M488.3 445.8h1M460.1 436.7h1M495.7 448.3h1M464.3 444.3h1M479.8 417.2h1M489.5 420.2h1M498.4 437.4h1M496.1 401.4h1M481.3 442.6h1M476.8 443.9h1M473.7 454.3h1M467.8 420.6h1M468.8 454.4h1M462.7 457.6h1M482.7 421.9h1M477.5 443.6h1M466.9 442.5h1M493.7 411.1h1M453.4 453.1h1M480.3 433.7h1M475.9 417.5h1M471.6 443.3h1M453.4 444.9h1M482.8 442.2h1M482.6 439.7h1M467.4 433.8h1M488.9 416.7h1M473.2 453.4h1M484.5 451.1h1M472.3 427.2h1M473.2 448.0h1M474.2 441.8h1M482.0 434.5h1M474.2 447.3h1M493.4 428.3h1M472.4 430.3h1M466.9 444.9h1M459.6 419.5h1M492.2 434.9h1M495.7 416.9h1M482.7 397.1h1M480.0 431.5h1M467.2 447.6h1M484.1 424.0h1M473.5 438.8h1M485.2 427.1h1M471.1 439.7h1M481.6 439.7h1M474.1 421.4h1M486.2 431.6h1M472.4 437.0h1M467.2 436.3h1M477.2 445.6h1M473.2 424.3h1M491.1 424.2h1M492.2 448.5h1M484.0 440.8h1M492.4 444.1h1M486.8 425.8h1M491.3 414.0h1M484.8 430.1h1M491.0 418.9h1M464.0 447.2h1M472.0 421.0h1M475.6 435.7h1M471.4 452.9h1M475.5 442.4h1M477.4 433.8h1M484.9 421.5h1M463.3 442.4h1M488.3 435.8h1M494.3 428.6h1M494.3 431.1h1M488.5 424.2h1M490.9 447.8h1M479.5 455.4h1M475.8 435.6h1M478.5 450.2h1M465.8 440.5h1M472.0 428.3h1M474.2 441.3h1M480.8 457.5h1M477.8 445.2h1M489.5 415.3h1M485.6 448.0h1M467.9 450.1h1M472.6 442.3h1M458.9 456.5h1M488.3 422.3h1M486.8 436.4h1M487.3 441.0h1M475.6 430.7h1M467.7 429.2h1M473.0 446.3h1M484.9 408.7h1M489.9 426.9h1M473.6 414.6h1M485.6 429.1h1M499.3 408.3h1M456.6 443.1h1M473.8 422.2h1M477.7 428.1h1M485.0 417.5h1M471.9 456.5h1M488.7 429.5h1M462.4 443.6h1M482.4 428.4h1M478.7 435.6h1M466.6 431.7h1M480.4 434.9h1M490.3 412.2h1M474.0 451.4h1M467.3 437.1h1M479.7 429.1h1M471.9 445.1h1M473.2 441.7h1M493.0 443.6h1M483.7 420.8h1M488.4 422.3h1M454.2 430.2h1M466.1 410.5h1M467.7 432.5h1M471.8 418.1h1M468.9 441.5h1M478.0 404.2h1M487.4 436.0h1M492.2 438.0h1M475.7 417.3h1M477.5 444.8h1M496.7 423.2h1M463.2 445.3h1M485.5 426.0h1M485.3 415.6h1M482.3 453.0h1M478.3 439.9h1M489.6 423.1h1M474.6 434.4h1M481.2 433.5h1M459.2 448.6h1M490.0 433.2h1M479.0 429.5h1M458.4 457.1h1M490.8 439.2h1M471.2 428.2h1M483.3 430.3h1M480.9 420.8h1M476.1 436.3h1M489.2 408.8h1M466.0 444.8h1M484.1 429.1h1M482.2 418.6h1M462.8 415.1h1M476.3 409.1h1M477.1 421.6h1M476.5 423.3h1M475.2 444.6h1M476.5 419.1h1M473.7 427.0h1M464.6 430.3h1M469.9 447.3h1M476.6 432.5h1M471.7 441.2h1M481.1 441.9h1M489.4 448.6h1M476.6 437.0h1M468.6 433.3h1M463.6 443.0h1M492.2 441.7h1M473.6 434.7h1M475.1 448.3h1M478.4 428.4h1M480.7 437.4h1M461.7 434.8h1M479.6 438.2h1M476.9 445.4h1M473.2 434.5h1M479.6 446.5h1M472.5 401.4h1M497.1 425.4h1M485.6 431.2h1M486.3 404.3h1M475.9 431.1h1M490.5 414.3h1M478.4 426.2h1M464.0 436.2h1M473.7 424.7h1M477.0 418.2h1M478.1 447.2h1M484.9 445.8h1M476.9 447.1h1M474.8 413.3h1M480.3 435.9h1M464.3 441.9h1M482.9 448.4h1M480.1 426.4h1M479.1 440.7h1M454.2 431.5h1M457.0 440.4h1M457.3 431.1h1M491.5 437.4h1M467.2 427.8h1M476.5 431.6h1M495.3 434.5h1M457.4 441.7h1M464.6 405.5h1M476.1 431.4h1M482.4 431.9h1M489.6 429.6h1M483.1 430.5h1M464.5 452.7h1M474.4 438.2h1M472.5 435.3h1M487.2 423.7h1M482.6 445.2h1M460.3 433.1h1M482.0 435.9h1M488.4 427.0h1M471.6 449.2h1M474.4 436.4h1M488.0 450.2h1M469.8 439.9h1M491.9 423.4h1M468.4 439.2h1M474.8 454.7h1M471.0 448.9h1M478.3 418.6h1M477.9 450.9h1M462.3 406.9h1M477.4 442.1h1M478.3 443.5h1M471.3 439.0h1M468.0 443.2h1M479.5 433.9h1M478.0 428.0h1M459.0 424.3h1M481.9 423.1h1M495.7 421.4h1M478.3 431.1h1M480.6 408.0h1M485.0 448.6h1M479.0 437.5h1M472.0 455.0h1M486.7 425.1h1M484.7 438.1h1M485.3 434.0h1M468.3 424.4h1M490.5 426.5h1M484.2 431.8h1M498.1 412.8h1M465.6 446.3h1M477.8 438.4h1M475.7 425.4h1M483.9 415.8h1M482.8 447.7h1M472.7 448.1h1M477.0 431.8h1M458.3 451.5h1M489.5 435.4h1M477.2 421.2h1M474.7 438.6h1M475.1 433.0h1M474.9 442.9h1M480.7 423.7h1M472.9 419.7h1M475.4 422.9h1M462.4 425.4h1M481.4 437.2h1M486.1 410.9h1M476.7 445.0h1M469.8 438.3h1M477.3 453.2h1M490.8 444.4h1M473.5 428.0h1M472.0 449.7h1M478.0 452.3h1M487.3 441.5h1M482.5 440.9h1M476.5 431.8h1M467.1 441.5h1M486.9 458.4h1M481.9 421.5h1M457.9 454.9h1M495.2 426.4h1M489.6 412.2h1M485.6 442.5h1M470.9 456.1h1M489.3 448.4h1M493.2 451.2h1M474.1 438.5h1M472.1 436.6h1M499.6 428.1h1M479.8 436.7h1M459.4 441.8h1M469.4 437.8h1M479.6 437.1h1M488.3 429.7h1M465.9 424.3h1M475.0 418.4h1M470.3 436.2h1M467.9 457.3h1M486.4 432.6h1M469.1 440.4h1M475.3 450.5h1M483.0 407.2h1M478.6 406.2h1M473.4 442.6h1M494.3 412.9h1M481.2 441.7h1M473.4 455.0h1M472.5 411.8h1M463.2 437.9h1M477.8 452.8h1M474.9 416.4h1M480.1 456.4h1M477.3 440.3h1M468.9 438.6h1M462.3 431.4h1M482.3 437.4h1M486.0 428.8h1M474.5 424.3h1M499.6 398.8h1M474.3 438.4h1M487.8 443.2h1M469.4 416.4h1M475.0 437.1h1M466.8 437.0h1M477.0 430.6h1M473.1 424.9h1M480.6 436.9h1M466.8 446.2h1M469.7 423.5h1M481.0 417.2h1M487.9 421.7h1M483.5 428.2h1M471.0 432.7h1M473.6 439.8h1M449.9 455.0h1M493.3 421.9h1M489.5 426.5h1M470.5 448.7h1M478.1 427.3h1M478.7 439.9h1M484.4 425.3h1M474.1 448.9h1M456.1 425.9h1M482.4 424.9h1M495.5 401.3h1M463.4 458.4h1M481.8 457.0h1M464.8 432.4h1M479.5 422.7h1M481.4 436.2h1M470.1 435.6h1M478.8 453.7h1M470.2 405.0h1M481.6 436.4h1M480.7 430.8h1M488.3 416.9h1M483.4 427.5h1M484.1 434.6h1M456.1 446.2h1M470.0 427.9h1M482.6 423.2h1M470.1 419.8h1M474.1 454.9h1M497.0 451.6h1M484.0 428.5h1M480.1 424.7h1M474.7 438.9h1M476.1 456.1h1M498.1 425.3h1M463.8 424.4h1M481.0 445.1h1M456.6 415.8h1M491.7 405.6h1M482.9 431.4h1M484.6 427.8h1M466.1 435.8h1M467.3 449.8h1M477.7 450.5h1M480.4 443.6h1M473.8 452.8h1M473.6 444.8h1M464.2 441.8h1M471.4 451.7h1M484.9 437.9h1M478.3 447.0h1M485.4 430.6h1M477.4 439.7h1M454.5 422.2h1M485.6 431.4h1M490.0 429.6h1M465.5 436.5h1M463.5 418.1h1M492.2 409.8h1M470.2 427.3h1M477.3 436.3h1M465.1 425.0h1M479.9 423.2h1M472.6 448.6h1M492.4 443.0h1M481.1 435.7h1M451.1 423.5h1M463.7 425.7h1M480.4 426.9h1M479.7 421.5h1M461.9 444.9h1M476.5 447.4h1M488.0 432.8h1M482.7 447.1h1M464.7 443.4h1M482.4 428.6h1M488.6 421.0h1M471.3 451.5h1M463.0 442.3h1M489.4 439.0h1M486.6 435.3h1M474.3 425.4h1M487.1 445.4h1M480.8 442.7h1M487.7 423.6h1M477.1 411.1h1M466.4 448.4h1M473.7 457.0h1M486.8 436.7h1M477.5 443.6h1M471.5 440.4h1M472.2 419.5h1M491.1 445.0h1M485.1 432.9h1M481.5 445.2h1M482.4 430.7h1M453.9 456.0h1M489.6 420.0h1M493.3 415.8h1M486.6 411.5h1M471.9 438.5h1M482.4 451.7h1M470.5 449.7h1M468.5 423.3h1M474.8 450.1h1M481.8 439.1h1M483.2 442.1h1M465.8 449.3h1M481.1 447.0h1M486.9 438.8h1M487.5 423.5h1M481.7 408.7h1M470.2 434.4h1M496.6 426.1h1M482.9 405.4h1M497.0 414.6h1M484.7 438.4h1M491.6 421.8h1M461.2 430.4h1M469.0 436.7h1M482.2 424.6h1M486.7 429.5h1M469.5 448.3h1M459.6 449.1h1M493.6 433.2h1M468.4 449.9h1M489.5 442.6h1M473.7 445.6h1M466.6 451.5h1M476.5 444.7h1M489.8 454.3h1M462.7 450.8h1M481.3 431.6h1M465.3 453.4h1M462.8 455.0h1M464.7 437.2h1M474.2 415.4h1M463.4 437.1h1M478.5 444.1h1M465.1 431.0h1M465.7 435.5h1M460.7 448.3h1M482.8 417.4h1M477.8 433.1h1M485.4 446.5h1M478.8 448.2h1M475.3 432.3h1M471.9 435.7h1M483.7 444.7h1M476.8 426.8h1M456.9 440.2h1M469.6 439.2h1M490.2 420.8h1M481.9 455.4h1M480.8 447.0h1M487.9 453.2h1M458.6 455.6h1M473.1 444.2h1M472.8 453.5h1M486.0 440.0h1M473.9 434.8h1M462.9 432.7h1M472.3 425.1h1M471.5 432.3h1M501.6 425.6h1M489.2 414.2h1M490.6 409.9h1M495.5 419.1h1M480.3 425.9h1M488.8 436.5h1M485.8 442.3h1M482.7 446.1h1M466.6 421.2h1M498.3 425.1h1M479.7 442.4h1M477.1 419.6h1M487.0 433.4h1M482.9 418.1h1M491.3 425.8h1M454.6 450.1h1M462.3 420.4h1M477.3 428.2h1M482.9 436.9h1M497.3 434.2h1M471.7 428.2h1M479.0 440.1h1M468.2 449.2h1M483.8 434.0h1M490.8 406.7h1M489.7 409.0h1M471.0 432.1h1M467.0 445.9h1M467.5 434.8h1M480.5 453.2h1M493.9 419.0h1M488.2 426.1h1M488.2 417.7h1M473.0 438.8h1M482.5 428.9h1M496.5 436.1h1M480.5 438.5h1M488.2 424.5h1M482.9 446.9h1M497.3 427.0h1M475.2 425.3h1M450.7 419.1h1M483.4 422.3h1M473.6 450.6h1M462.7 437.5h1M472.1 452.1h1M469.2 423.1h1M481.6 424.9h1M483.8 410.4h1M467.2 437.5h1M467.5 412.0h1M489.5 420.3h1M466.3 452.0h1M486.4 452.3h1M467.3 426.1h1M480.9 441.3h1M474.9 433.1h1M448.1 444.6h1M477.5 446.7h1M462.9 430.5h1M466.6 406.1h1M491.8 448.6h1M479.0 415.2h1M468.9 439.8h1M483.5 441.1h1M478.5 452.5h1M474.2 439.8h1M468.5 436.3h1M475.4 442.3h1M481.2 443.7h1M486.7 434.9h1M473.8 447.0h1M477.9 450.5h1M483.9 444.1h1M482.8 445.9h1M473.0 410.1h1M480.3 436.7h1M477.6 443.2h1M490.6 432.4h1M468.6 436.7h1M483.9 427.1h1M480.5 425.2h1M476.1 438.9h1M480.8 431.1h1M472.2 435.2h1M464.1 432.3h1M496.1 425.6h1M490.8 430.8h1M476.6 442.0h1M494.5 422.7h1M488.2 411.3h1M469.5 441.9h1M484.0 429.3h1M478.0 437.5h1M472.5 419.9h1M474.8 415.6h1M480.9 409.0h1M484.5 419.6h1M481.0 427.5h1M476.0 404.8h1M464.6 424.3h1M471.3 434.6h1M484.0 421.1h1M476.4 421.1h1M475.0 458.5h1M473.2 445.9h1M478.3 428.7h1M466.3 441.5h1M472.9 445.2h1M462.2 430.7h1M496.2 399.7h1M481.3 450.8h1M470.9 435.3h1M478.6 428.6h1M485.7 458.6h1M487.7 424.3h1M465.7 445.8h1M482.5 430.7h1M489.8 411.4h1M461.1 426.2h1M463.8 433.5h1M465.0 443.3h1M458.8 448.4h1M468.7 432.4h1M495.0 429.6h1M497.3 420.7h1M473.4 430.0h1M453.8 448.9h1M482.1 422.7h1M492.0 395.7h1M465.0 415.7h1M472.8 410.3h1M476.1 428.4h1M488.0 431.2h1M480.8 405.0h1M475.5 400.6h1M465.9 443.7h1M485.9 433.7h1M480.8 420.2h1M465.8 436.2h1M459.5 437.8h1M457.4 457.1h1M481.3 397.7h1M469.3 423.0h1M469.4 450.0h1M476.1 442.2h1M494.3 418.3h1M482.0 429.3h1M472.2 431.7h1M493.4 416.7h1M464.4 428.4h1M487.3 413.5h1M489.0 409.6h1M477.1 430.1h1M479.5 425.3h1M484.8 440.5h1M496.8 416.2h1M489.2 399.0h1M472.0 440.6h1M473.8 421.8h1M470.2 438.5h1M464.1 437.6h1M470.9 420.1h1M467.2 419.0h1M466.6 448.8h1M483.1 412.7h1M480.7 437.3h1M480.9 443.1h1M483.2 421.2h1M484.2 420.7h1M478.9 429.2h1M483.7 427.0h1M461.7 439.8h1M477.7 416.0h1M475.0 428.7h1M487.8 422.9h1M477.3 439.6h1M465.7 442.3h1M490.9 409.0h1M473.2 438.2h1M484.8 413.8h1M484.8 414.3h1M484.5 432.7h1M468.9 430.1h1M464.0 439.9h1M475.5 436.6h1M457.6 454.1h1M489.0 433.8h1M480.5 430.5h1M474.5 438.5h1M467.4 435.0h1M460.4 434.9h1M492.8 428.6h1M483.3 439.3h1M468.3 446.9h1M491.4 436.0h1M480.4 429.3h1M474.6 426.7h1M481.4 417.8h1M478.3 429.5h1M465.0 451.3h1M494.2 440.4h1M488.0 430.0h1M479.2 418.1h1M458.0 446.7h1M484.8 435.5h1M472.6 435.3h1M483.1 445.5h1M482.4 450.0h1M481.9 441.3h1M468.3 438.6h1M484.5 431.2h1M475.3 436.0h1M490.5 413.8h1M482.7 437.1h1M465.1 449.2h1M479.3 428.5h1M467.8 432.1h1M481.8 401.3h1M489.9 420.2h1M475.0 438.7h1M464.9 454.9h1M472.6 433.9h1M469.1 449.3h1M453.8 454.4h1M467.9 433.9h1M490.4 442.5h1M482.1 436.0h1M470.0 449.6h1M483.3 439.3h1M478.8 449.4h1M473.9 438.6h1M460.2 437.1h1M464.8 426.9h1M469.9 434.8h1M497.1 443.8h1M494.3 441.8h1M461.7 434.3h1M478.0 436.7h1M461.3 427.0h1M473.3 428.4h1M493.3 415.1h1M481.0 415.9h1M458.4 427.7h1M468.2 426.3h1M465.8 449.1h1M476.3 424.0h1M490.4 438.3h1M481.2 433.2h1M475.8 413.1h1M470.8 448.6h1M492.9 425.1h1M476.1 434.7h1M482.1 429.8h1M478.3 426.6h1M469.3 441.6h1M484.6 430.6h1M468.1 417.3h1M479.1 444.5h1M467.0 444.8h1M457.1 421.6h1M488.6 430.5h1M486.7 415.8h1M478.7 444.1h1M459.8 422.0h1M464.8 455.8h1M480.8 418.4h1M462.1 449.1h1M472.2 441.0h1M490.7 432.0h1M487.2 438.1h1M483.9 449.8h1M485.9 435.4h1M487.9 439.6h1M473.4 453.4h1M476.2 437.3h1M480.6 452.6h1M482.0 440.6h1M489.2 435.7h1M484.0 437.6h1M488.0 411.1h1M473.9 439.6h1M470.9 439.9h1M470.8 455.7h1M475.8 455.2h1M463.0 420.8h1M470.5 431.7h1M482.1 426.4h1M472.2 441.2h1M465.6 436.2h1M463.9 452.3h1M467.6 411.3h1M467.6 446.7h1M494.1 434.3h1M492.7 434.1h1M496.3 443.9h1M473.9 419.3h1M467.3 424.0h1M470.2 434.1h1M463.8 449.4h1M478.2 445.0h1M469.3 428.1h1M486.6 431.1h1M467.7 437.1h1M479.2 413.9h1M473.8 449.1h1M476.3 448.3h1M477.8 417.8h1M471.8 435.5h1M477.5 429.0h1M478.0 443.6h1M478.3 411.5h1M492.3 437.2h1M474.1 436.7h1M486.6 447.2h1M492.2 421.6h1M488.4 434.4h1M483.5 425.7h1M483.2 407.2h1M491.2 421.5h1M491.9 438.1h1M472.2 450.3h1M476.9 429.4h1M493.9 422.6h1M482.5 429.8h1M465.6 441.3h1M479.7 432.5h1M486.2 425.0h1M483.5 436.9h1M476.4 439.2h1M475.0 451.6h1M466.1 413.8h1M483.3 437.6h1M481.8 422.8h1M470.0 449.1h1M470.6 454.5h1M474.5 435.4h1M496.6 433.1h1M479.4 409.4h1M483.7 432.4h1M478.6 417.5h1M479.5 444.4h1M476.8 431.8h1M460.2 411.8h1M484.9 415.6h1M484.1 438.4h1M483.7 438.1h1M489.3 407.2h1M473.7 425.3h1M485.9 448.6h1M494.4 434.4h1M481.7 440.3h1M462.2 455.9h1M452.0 458.6h1M484.6 420.7h1M474.2 432.6h1M482.6 434.6h1M484.5 424.1h1M488.5 435.5h1M492.7 421.1h1M474.9 442.1h1M476.1 434.1h1M470.3 446.5h1M488.9 437.6h1M487.1 441.2h1M464.6 439.0h1M465.9 410.4h1M481.3 435.3h1M485.7 427.5h1M485.9 429.9h1M494.6 440.8h1M485.2 429.8h1M477.8 444.3h1M487.3 441.8h1M491.8 437.1h1M493.4 457.4h1M486.1 427.5h1M473.9 442.7h1M482.9 438.2h1M471.1 420.1h1M476.4 458.5h1M466.2 446.9h1M477.8 447.5h1M477.0 422.5h1M480.9 415.6h1M485.5 427.0h1M470.4 450.2h1M473.0 421.8h1M471.7 430.8h1M467.5 454.2h1M477.2 431.5h1M472.1 442.2h1M473.0 422.6h1M467.5 454.9h1M464.0 451.1h1M465.7 435.7h1M465.6 425.1h1M467.9 442.9h1M463.2 439.1h1M466.2 440.7h1M496.0 439.1h1M465.0 446.4h1M484.1 429.0h1M491.4 443.6h1M484.7 454.9h1M475.2 424.4h1M500.9 440.1h1M477.6 458.7h1M479.6 423.8h1M460.8 427.7h1M481.0 428.6h1M483.7 448.4h1M460.0 424.9h1M481.0 440.2h1M483.1 425.6h1M481.8 448.4h1M465.0 425.0h1M491.9 435.2h1M485.3 436.6h1M464.4 443.5h1M458.8 423.2h1M484.2 447.4h1M491.6 449.9h1M473.0 433.0h1M477.7 430.1h1M476.7 430.7h1M468.8 441.2h1M483.4 427.5h1M471.7 425.0h1M472.4 437.4h1M471.8 422.9h1M467.1 456.6h1M473.2 447.0h1M488.2 430.5h1M492.2 427.2h1M461.0 447.0h1M464.8 439.5h1M486.7 457.7h1M484.2 419.1h1M470.7 433.0h1M484.9 423.3h1M478.5 437.5h1M462.1 432.4h1M480.5 450.0h1M478.4 452.1h1M481.1 426.9h1M460.4 448.9h1M487.1 427.2h1M478.5 453.0h1M491.9 423.1h1M480.8 419.8h1M481.2 417.6h1M470.3 439.8h1M465.1 447.8h1M481.6 427.7h1M468.0 427.4h1M476.5 433.1h1M455.5 458.4h1M481.9 423.0h1M487.2 416.5h1M469.1 453.2h1M467.4 437.3h1M480.2 426.7h1M472.4 425.6h1M477.0 433.1h1M464.5 434.7h1M471.7 455.9h1M473.5 440.4h1M473.1 445.8h1M491.4 426.9h1M469.4 407.5h1M460.4 448.5h1M465.2 453.0h1M468.0 430.5h1M482.1 441.1h1M491.9 415.6h1M477.9 457.1h1M488.8 436.5h1M486.7 446.4h1M476.8 426.4h1M476.7 424.5h1M472.1 425.1h1M475.6 453.7h1M488.2 414.4h1M473.3 437.9h1M482.0 429.5h1M475.0 425.6h1M473.0 438.3h1M477.5 432.5h1M480.0 440.9h1M464.1 454.6h1M475.3 429.7h1M478.8 433.0h1M465.8 420.6h1M477.8 431.4h1M485.4 406.9h1M485.1 421.5h1M478.4 436.7h1M494.8 431.4h1M487.4 437.6h1M471.2 433.9h1M478.7 430.5h1M494.3 434.7h1M483.7 446.5h1M476.2 439.5h1M486.8 456.4h1M479.4 427.4h1M471.2 455.1h1M471.3 444.2h1M473.9 449.1h1M473.6 439.5h1M468.2 435.4h1M473.7 437.9h1M473.3 430.9h1M481.3 407.9h1M476.3 416.1h1M474.5 438.5h1M478.3 420.8h1M480.3 443.5h1M471.3 437.5h1M471.7 438.9h1M480.4 429.5h1M481.5 449.2h1M460.2 452.7h1M470.0 449.3h1M472.9 422.8h1M460.2 432.8h1M476.4 429.5h1M485.9 417.0h1M467.3 423.9h1M470.4 439.0h1M488.2 439.3h1M471.5 446.6h1M477.9 427.0h1M475.8 435.0h1M482.4 417.1h1M480.6 441.9h1M464.0 445.0h1M484.1 437.6h1M479.0 449.4h1M491.9 418.0h1M483.3 408.9h1M488.9 416.2h1M474.1 428.9h1M472.3 419.5h1M477.0 427.0h1M476.5 412.4h1M472.6 437.9h1M477.8 431.5h1M469.9 424.2h1M469.6 426.7h1M495.8 438.9h1M462.5 440.2h1M488.8 449.0h1M479.6 454.4h1M463.9 451.6h1M469.6 458.6h1M457.7 431.2h1M469.3 424.9h1M489.0 430.6h1M449.4 449.0h1M482.9 406.5h1M476.9 422.9h1M464.2 435.3h1M470.8 432.2h1M489.8 458.3h1M470.5 457.4h1M477.8 425.3h1M467.0 432.0h1M472.8 435.5h1M479.6 434.2h1M483.9 404.0h1M463.2 429.8h1M484.4 422.2h1M487.5 402.5h1M471.6 457.9h1M483.5 437.1h1M468.8 441.6h1M475.9 422.7h1M486.2 445.4h1M486.6 429.5h1M479.4 431.9h1M475.7 415.0h1M486.4 411.0h1M451.5 440.2h1M487.8 439.9h1M491.5 435.5h1M477.6 442.3h1M458.6 444.4h1M484.0 447.9h1M477.5 435.9h1M484.0 445.3h1M491.5 421.0h1M477.0 454.9h1M474.9 442.1h1M484.6 424.4h1M472.3 430.7h1M472.0 439.5h1M479.3 455.8h1M479.6 418.0h1M487.0 438.6h1M490.6 419.1h1M479.5 435.8h1M470.0 451.8h1M499.0 396.7h1M501.1 404.9h1M488.1 438.5h1M462.3 429.3h1M460.9 439.9h1M479.7 437.4h1M485.2 426.1h1M481.2 427.6h1M485.1 422.4h1M478.8 448.7h1M475.0 428.3h1M465.6 435.1h1M458.8 441.4h1M494.2 425.0h1M486.3 434.0h1M458.3 455.2h1M480.3 449.5h1M473.4 422.6h1M484.1 432.7h1M482.6 432.1h1M496.7 419.0h1M464.6 417.5h1M471.6 420.0h1M473.0 444.9h1M487.8 428.3h1M489.6 425.7h1M475.0 406.4h1M475.6 435.9h1M486.4 430.4h1M465.5 436.0h1M456.8 429.6h1M481.0 442.1h1M464.7 418.6h1M474.2 419.3h1M488.0 436.7h1M488.3 422.6h1M496.8 446.1h1M482.9 437.7h1M480.6 430.9h1M469.6 451.4h1M493.3 427.0h1M471.6 424.8h1M470.0 423.2h1M463.1 435.7h1M471.7 450.1h1M473.5 451.1h1M466.6 431.0h1M479.9 450.7h1M473.5 433.8h1M473.5 454.4h1M456.1 435.9h1M466.6 439.3h1M486.8 413.6h1M457.2 432.7h1M463.0 444.5h1M490.8 422.8h1M485.1 433.0h1M476.1 434.6h1M485.0 441.5h1M469.9 430.7h1M482.4 447.1h1M479.5 450.9h1M470.7 428.2h1M470.7 450.2h1M478.6 439.9h1M462.0 418.0h1M487.7 442.6h1M480.9 430.1h1M459.3 451.2h1M461.8 439.6h1M455.3 447.5h1M465.1 451.6h1M477.7 445.7h1M458.3 436.4h1M465.5 419.4h1M473.1 434.4h1M473.1 441.1h1M473.8 436.4h1M469.5 427.0h1M492.9 434.2h1M484.0 402.7h1M463.8 427.6h1M481.1 433.0h1M494.5 440.1h1M481.9 445.4h1M453.7 458.3h1M485.2 451.4h1M482.2 455.2h1M469.9 439.9h1M485.6 428.4h1M485.9 406.6h1M471.6 449.0h1M482.9 450.3h1M478.3 434.8h1M483.1 446.5h1M478.3 430.7h1M457.8 446.7h1M479.4 423.2h1M490.8 409.6h1M476.2 440.2h1M474.2 437.8h1M447.2 450.2h1M471.7 451.9h1M480.1 431.5h1M470.9 447.4h1M468.6 435.2h1M470.4 431.9h1M466.6 425.3h1M462.2 447.8h1M465.2 425.4h1M476.9 426.7h1M489.6 426.5h1M472.5 437.2h1M466.2 443.0h1M475.3 438.5h1M461.7 441.4h1M469.5 451.7h1M470.4 437.9h1M479.8 445.5h1M478.7 441.0h1M479.9 441.8h1M469.7 420.4h1M491.4 422.5h1M476.9 446.3h1M469.8 438.5h1M478.3 420.4h1M470.1 450.0h1M482.9 442.4h1M469.7 443.2h1M477.4 430.1h1M494.5 439.3h1M488.4 429.2h1M484.5 427.7h1M474.0 444.1h1M470.2 430.8h1M473.1 447.2h1M484.7 430.3h1M486.5 439.4h1M480.1 415.9h1M486.9 425.3h1M466.1 429.0h1M487.8 412.5h1M466.0 434.4h1M470.2 445.5h1M470.9 422.7h1M477.1 428.9h1M495.6 431.1h1M469.2 446.7h1M490.4 408.5h1M470.1 448.9h1M486.3 442.7h1M479.7 446.8h1M484.9 436.4h1M477.2 428.1h1M461.8 427.7h1M467.8 427.6h1M477.5 423.6h1M485.3 443.6h1M472.0 457.1h1M473.9 416.4h1M484.6 424.7h1M468.0 432.8h1M478.7 426.5h1M477.1 444.5h1M484.8 445.3h1M458.8 447.5h1M473.5 427.8h1M493.1 430.9h1M459.3 428.5h1M474.4 420.5h1M474.0 438.1h1M468.9 445.3h1M469.2 431.1h1M467.3 442.1h1M496.5 435.3h1M478.3 450.4h1M483.0 429.5h1M470.7 430.3h1M461.2 441.1h1M486.7 436.9h1M485.3 420.8h1M467.6 437.7h1M465.2 441.8h1M493.1 411.3h1M483.6 437.4h1M476.0 420.2h1M484.4 439.2h1M495.6 410.0h1M486.4 415.2h1M489.0 446.7h1M485.8 419.4h1M476.3 421.2h1M469.8 447.8h1M496.8 411.0h1M453.1 447.1h1M470.7 450.5h1M480.4 426.0h1M470.5 434.2h1M476.5 436.5h1M477.5 450.4h1M479.7 426.5h1M484.1 419.3h1M491.9 427.5h1M498.3 428.4h1M483.6 446.3h1M479.9 424.0h1M480.6 433.0h1M472.1 421.6h1M472.8 444.8h1M478.5 425.2h1M485.1 442.4h1M488.8 440.0h1M471.6 435.5h1M482.8 410.4h1M481.2 437.9h1M498.3 438.3h1M488.7 411.0h1M489.2 425.5h1M466.0 428.2h1M466.7 415.1h1M477.7 416.0h1M484.1 439.7h1M462.8 409.1h1M481.8 436.9h1M482.3 415.7h1M483.3 430.5h1M493.6 432.6h1M462.8 434.2h1M466.8 419.8h1M483.1 401.5h1M472.8 452.6h1M482.6 417.6h1M485.3 419.3h1M459.0 427.9h1M496.8 449.9h1M494.9 438.1h1M462.1 428.4h1M472.0 422.0h1M487.1 430.2h1M473.4 432.5h1M482.6 442.0h1M468.5 429.1h1M491.1 435.7h1M464.1 438.8h1M476.0 415.6h1M480.0 435.1h1M463.1 456.2h1M480.2 435.3h1M480.0 426.3h1M462.2 431.4h1M491.7 411.2h1M468.9 439.6h1M469.4 430.7h1M472.1 440.8h1M484.2 422.5h1M474.6 456.9h1M475.0 434.8h1M482.8 439.9h1M475.0 423.2h1M471.5 435.6h1M470.3 428.8h1M474.1 429.8h1M479.3 447.0h1M490.0 443.8h1M478.3 414.7h1M488.6 419.4h1M485.6 446.5h1M492.9 417.0h1M480.1 436.5h1M473.9 433.9h1M455.8 447.9h1M475.4 423.1h1M482.3 439.2h1M484.2 436.6h1M461.3 437.2h1M469.6 437.4h1M468.6 451.8h1M472.4 445.1h1M485.6 449.0h1M490.1 423.0h1M462.1 433.7h1M460.7 430.7h1M477.2 438.1h1M470.0 441.1h1M477.4 410.9h1M477.5 449.6h1M485.9 432.2h1M488.8 419.3h1M471.8 438.6h1M481.2 405.6h1M482.9 424.5h1M492.3 429.2h1M480.8 442.1h1M460.2 444.1h1M481.4 422.1h1M474.2 425.7h1M463.0 444.8h1M488.3 450.5h1M471.4 434.4h1M478.0 420.7h1M471.7 421.9h1M478.2 434.6h1M481.1 403.2h1M482.6 418.1h1M498.7 416.8h1M497.1 437.4h1M471.9 436.8h1M487.8 441.0h1M491.8 443.0h1M486.9 416.0h1M483.5 438.2h1M479.2 420.8h1M469.9 450.8h1M470.7 436.0h1M483.9 434.8h1M472.4 450.8h1M487.8 420.9h1M468.0 429.1h1M487.9 418.0h1M469.0 441.9h1M467.6 447.1h1M472.9 434.5h1M495.7 440.6h1M489.3 412.6h1M463.0 456.4h1M493.5 443.1h1M474.8 455.0h1M459.4 419.3h1M497.6 420.4h1M474.9 454.1h1M469.0 437.6h1M488.6 406.1h1M490.5 430.6h1M462.3 438.6h1M486.2 417.5h1M468.1 438.7h1M464.6 426.7h1M475.7 454.5h1M478.8 412.7h1M472.5 446.7h1M466.9 456.6h1M476.9 418.3h1M491.1 435.3h1M473.9 408.0h1M490.8 447.4h1M471.9 443.1h1M479.8 453.9h1M479.5 429.1h1M467.8 452.6h1M494.9 445.4h1M482.5 439.0h1M480.2 442.4h1M478.9 449.0h1M480.7 410.9h1M486.6 454.5h1M492.3 425.6h1M481.0 426.0h1M481.0 444.2h1M474.8 449.9h1M467.0 433.8h1M483.4 422.8h1M463.4 420.3h1M488.3 442.3h1M479.0 447.6h1M466.8 429.8h1M479.5 435.1h1M462.8 436.0h1M469.4 443.3h1M456.8 444.9h1M494.1 420.8h1M474.6 433.4h1M464.6 425.6h1M482.8 433.8h1M468.6 433.2h1M469.6 442.8h1M478.9 422.4h1M488.7 420.1h1M488.0 420.4h1M479.8 425.6h1M472.8 437.1h1M471.9 431.0h1M479.7 406.5h1M472.8 447.8h1M467.1 424.0h1M483.8 441.5h1M470.5 448.9h1M462.8 430.2h1M490.6 435.8h1M488.2 454.2h1M460.8 426.3h1M475.3 413.5h1M468.3 436.1h1M489.4 421.2h1M474.8 438.3h1M482.5 426.7h1M463.5 435.9h1M481.3 442.9h1M493.3 430.3h1M490.7 421.4h1M493.5 422.1h1M475.0 426.2h1M483.7 410.2h1M480.8 440.5h1M473.6 434.2h1M477.6 450.0h1M494.2 423.5h1M488.8 412.2h1M476.5 423.7h1M488.2 427.6h1M471.2 418.3h1M471.9 444.0h1M496.6 428.2h1M472.1 419.8h1M475.2 406.9h1M463.7 439.9h1M475.1 419.4h1M482.3 420.8h1M470.4 457.2h1M469.6 412.9h1M492.6 453.6h1M494.3 425.9h1M463.1 449.4h1M486.0 440.5h1M461.7 435.8h1M473.3 421.5h1M471.2 441.1h1M473.9 435.6h1M459.4 418.1h1M496.7 420.3h1M483.4 441.3h1M477.5 443.1h1M475.7 433.9h1M472.2 439.0h1M494.0 426.6h1M481.5 437.4h1M472.5 446.1h1M492.3 404.4h1M490.4 443.7h1M491.2 418.5h1M475.1 431.8h1M481.0 448.3h1M477.1 428.6h1M494.6 440.2h1M497.9 407.5h1M483.6 433.6h1M482.7 428.2h1M486.3 436.0h1M462.6 427.5h1M488.8 441.3h1M475.5 444.2h1M482.8 426.4h1M472.5 442.4h1M481.8 434.9h1M494.9 445.3h1M483.4 443.8h1M463.8 453.8h1M474.0 428.0h1M481.1 415.6h1M483.6 437.5h1M476.3 434.0h1M473.3 421.0h1M485.9 442.5h1M477.7 439.5h1M476.7 434.8h1M484.0 435.1h1M478.9 444.1h1M472.3 448.3h1M466.4 428.7h1M487.0 419.3h1M469.4 436.8h1M487.8 400.0h1M469.1 455.2h1M482.8 415.4h1M477.6 429.9h1M467.6 439.6h1M458.9 451.1h1M483.5 431.8h1M471.0 427.5h1M484.8 431.7h1M492.1 447.7h1M475.5 422.9h1M482.8 435.5h1M466.5 437.0h1M484.8 430.7h1M484.0 428.4h1M470.3 431.3h1M486.4 428.3h1M464.4 449.6h1M485.6 446.2h1M484.1 426.9h1M491.4 451.0h1M470.5 445.2h1M493.3 418.4h1M460.9 421.9h1M488.4 434.5h1M487.0 443.4h1M480.5 414.4h1M495.6 433.7h1M484.8 436.5h1M456.7 442.0h1M486.9 437.6h1M487.3 422.9h1M480.7 403.3h1M472.9 442.4h1M486.1 430.1h1M480.9 432.0h1M469.6 431.5h1M481.9 443.8h1M480.1 426.8h1M464.5 443.1h1M472.6 429.6h1M474.3 428.1h1M482.3 440.0h1M455.7 431.6h1M492.5 427.5h1M477.7 407.1h1M462.3 441.7h1M476.3 441.0h1M471.2 437.0h1M487.5 447.7h1M474.6 429.3h1M469.6 436.9h1M482.3 439.2h1M473.1 413.3h1M468.6 425.6h1M492.6 433.6h1M481.1 431.7h1M492.7 444.5h1M481.7 431.7h1M481.0 426.0h1M479.7 431.2h1M476.5 455.6h1M474.0 416.6h1M494.4 420.0h1M471.6 446.7h1M477.6 419.0h1M495.3 417.6h1M496.3 439.2h1M471.3 452.5h1M482.8 456.3h1M466.8 429.2h1M480.8 419.6h1M466.4 445.3h1M471.4 451.7h1M494.3 417.1h1M462.1 448.8h1M491.3 440.6h1M445.4 454.3h1M479.9 440.2h1M480.4 457.9h1M477.3 446.6h1M469.4 429.0h1M473.8 414.9h1M472.6 428.8h1M466.9 426.7h1M493.1 446.3h1M495.0 413.1h1M473.7 441.8h1M472.7 438.2h1M472.1 431.4h1M471.3 426.4h1M478.5 443.6h1M477.3 420.5h1M475.4 431.8h1M457.4 427.1h1M476.2 421.9h1M478.3 432.9h1M481.6 457.5h1M448.5 452.8h1M470.0 421.0h1M477.3 446.6h1M470.2 444.4h1M491.1 442.7h1M485.0 429.8h1M480.5 429.1h1M491.4 445.7h1M476.7 441.0h1M459.9 446.2h1M483.0 455.9h1M472.8 411.2h1M459.1 458.5h1M469.9 438.2h1M474.9 418.3h1M485.0 431.1h1M481.6 425.6h1M464.4 426.4h1M476.9 453.7h1M485.1 427.6h1M470.8 441.2h1M472.2 447.9h1M474.6 430.1h1M464.0 454.5h1M480.9 433.7h1M480.3 424.1h1M483.2 420.4h1M475.1 426.0h1M481.8 437.7h1M479.8 430.9h1M474.7 433.5h1M486.9 420.0h1M461.2 435.1h1M474.9 427.1h1M473.5 422.3h1M491.9 411.5h1M466.2 451.5h1M473.4 454.4h1M477.8 443.9h1M498.3 440.3h1M461.3 435.8h1M463.7 436.5h1M464.7 454.0h1M469.1 432.4h1M468.0 452.0h1M475.4 404.7h1M470.1 446.9h1M460.2 458.3h1M482.2 425.6h1M483.4 423.6h1M491.7 414.2h1M467.3 431.6h1M480.2 425.2h1M464.9 446.0h1M469.8 438.3h1M481.4 443.1h1M478.2 440.7h1M488.2 440.4h1M481.1 397.4h1M471.8 427.7h1M493.2 418.8h1M469.1 448.6h1M482.0 428.2h1M474.9 422.4h1M471.1 417.2h1M477.5 415.0h1M463.3 434.8h1M485.3 441.4h1M473.2 421.4h1M472.9 427.7h1M482.4 429.9h1M458.7 437.2h1M483.8 422.2h1M478.7 431.4h1M481.6 417.8h1M488.7 424.3h1M474.2 450.4h1M493.0 434.3h1M482.0 441.6h1M472.3 458.2h1M464.4 452.7h1M474.6 447.6h1M487.4 419.3h1M479.4 434.8h1M484.6 407.8h1M486.0 428.5h1M474.1 425.5h1M463.9 437.9h1M490.6 430.1h1M467.4 435.4h1M485.5 439.3h1M484.0 445.7h1M471.1 432.0h1M476.0 429.2h1M490.1 417.4h1M474.6 445.4h1M465.4 451.7h1M475.5 436.6h1M478.0 414.4h1M477.0 422.8h1M489.4 429.7h1M480.7 444.7h1M471.3 458.5h1M468.1 445.1h1M466.5 445.8h1M490.0 429.8h1M476.8 450.2h1M489.4 421.4h1M483.0 422.4h1M486.4 445.0h1M486.3 402.5h1M468.8 450.8h1M465.5 452.3h1M469.2 424.3h1M467.7 426.1h1M474.6 431.1h1M469.1 447.4h1M473.4 456.3h1M496.1 420.4h1M483.8 437.9h1M464.5 442.2h1M465.0 431.0h1M490.0 438.1h1M480.8 427.0h1M472.0 434.2h1M466.5 449.5h1M471.7 421.6h1M468.9 437.5h1M466.7 434.0h1M472.6 454.2h1M475.8 428.6h1M476.3 427.4h1M472.6 412.7h1M485.1 450.4h1M460.4 423.2h1M493.2 429.5h1M491.6 431.5h1M484.9 438.8h1M481.2 413.5h1M461.6 432.8h1M476.2 454.2h1M468.6 434.3h1M492.0 434.0h1M467.4 443.1h1M485.9 435.9h1M462.4 432.9h1M492.1 443.9h1M473.7 421.2h1M466.7 446.4h1M466.6 444.5h1M470.7 449.8h1M474.4 417.6h1M478.2 435.7h1M464.7 437.8h1M493.5 443.5h1M482.1 451.9h1M469.5 441.9h1M485.8 444.9h1M490.1 453.0h1M481.7 413.5h1M462.0 431.2h1M477.2 444.4h1M473.5 446.2h1M461.8 448.4h1M478.0 441.3h1M467.2 453.1h1M469.8 436.4h1M482.0 423.1h1M483.8 436.6h1M465.9 435.9h1M490.9 440.5h1M463.1 443.6h1M453.6 433.8h1M483.4 422.1h1M450.4 451.1h1M480.8 435.1h1M472.0 443.5h1M477.0 438.3h1M475.6 452.3h1M471.5 444.3h1M463.8 432.3h1M479.1 455.8h1M484.1 420.1h1M472.9 451.3h1M491.5 453.5h1M469.0 445.9h1M485.5 427.8h1M490.0 393.8h1M463.9 439.4h1M482.8 440.1h1M470.0 441.3h1M471.7 431.2h1M484.1 445.7h1M477.5 438.5h1M480.9 423.4h1M473.0 455.3h1M475.8 434.7h1M475.4 452.5h1M485.0 430.6h1M480.3 447.9h1M483.1 444.3h1M466.5 436.3h1M484.9 427.4h1M478.0 417.5h1M467.1 427.3h1M486.5 447.6h1M452.3 458.5h1M475.1 444.8h1M471.0 431.7h1M464.5 433.2h1M475.4 453.5h1M485.1 444.9h1M487.7 404.6h1M483.7 440.9h1M491.8 419.0h1M454.1 457.5h1M460.8 433.7h1M479.8 421.9h1M465.4 445.8h1M476.4 423.2h1M483.7 441.5h1M494.2 431.3h1M484.9 430.6h1M483.2 431.1h1M481.4 445.2h1M468.9 445.4h1M472.5 445.5h1M463.9 436.4h1M477.0 451.5h1M479.7 436.8h1M466.3 441.6h1M484.4 445.7h1M468.8 441.5h1M494.3 432.6h1M477.6 433.5h1M469.3 440.7h1M485.5 433.5h1M492.8 447.3h1M479.7 444.8h1M477.1 429.4h1M466.6 437.5h1M466.7 444.0h1M462.2 420.4h1M474.5 425.9h1M496.7 425.7h1M474.6 452.0h1M461.0 414.4h1M480.3 434.2h1M477.3 437.4h1M488.4 420.9h1M483.3 414.2h1M459.3 440.1h1M479.3 423.2h1M478.7 435.7h1M467.9 458.5h1M490.7 441.7h1M477.9 421.7h1M471.5 440.3h1M475.5 450.3h1M484.9 415.2h1M490.2 428.0h1M482.7 420.1h1M477.7 442.8h1M483.2 440.1h1M466.9 434.7h1M475.7 443.3h1M472.2 434.3h1M472.5 437.6h1M485.2 430.1h1M477.4 431.1h1M487.5 423.3h1M478.5 436.8h1M471.1 439.7h1M471.3 447.7h1M480.4 431.5h1M456.4 452.0h1M465.3 444.8h1M483.1 434.7h1M471.2 456.7h1M470.2 445.0h1M467.4 445.0h1M492.8 437.0h1M469.9 434.8h1M478.9 442.9h1M485.2 423.1h1M472.1 420.2h1M469.0 442.4h1M483.8 443.2h1M486.5 427.6h1M484.7 428.7h1M466.8 440.4h1M460.5 417.3h1M489.7 451.6h1M465.7 400.9h1M491.2 423.0h1M458.8 426.3h1M471.6 440.9h1M493.3 418.0h1M473.1 417.6h1M484.6 423.6h1M476.7 434.9h1M489.3 443.0h1M478.4 421.5h1M477.3 450.6h1M488.8 429.8h1M474.8 453.3h1M482.2 436.1h1M476.6 455.6h1M490.4 421.2h1M472.0 433.8h1M468.9 450.8h1M475.7 430.9h1M488.3 431.7h1M490.1 410.8h1M483.9 450.3h1M473.6 449.7h1M483.6 428.3h1M497.2 445.3h1M485.0 406.2h1M480.1 440.0h1M477.8 450.6h1M473.2 439.0h1M478.5 456.5h1M497.8 448.5h1M463.4 413.3h1M483.1 421.4h1M484.1 445.0h1M486.5 429.2h1M485.2 413.1h1M461.7 429.3h1M488.7 455.3h1M474.7 437.3h1M472.4 434.9h1M468.4 419.1h1M478.3 414.2h1M490.2 443.8h1M470.8 427.0h1M492.3 449.1h1M490.2 431.5h1M469.1 450.9h1M482.8 428.6h1M472.7 443.0h1M480.3 446.3h1M456.0 424.8h1M478.0 434.3h1M465.4 401.1h1M460.7 434.5h1M473.4 455.0h1M490.6 430.7h1M490.2 421.8h1M500.2 446.7h1M479.8 431.6h1M473.8 433.1h1M477.8 435.5h1M489.2 437.0h1M477.1 423.3h1M491.1 429.3h1M474.4 434.9h1M472.1 457.9h1M491.6 436.3h1M485.6 424.2h1M484.2 425.2h1M477.1 439.6h1M474.8 434.0h1M480.0 447.2h1M467.3 409.7h1M474.7 426.3h1M481.1 416.3h1M466.7 443.9h1M460.1 410.9h1M472.4 431.6h1M467.6 449.5h1M463.0 455.3h1M476.6 426.5h1M495.7 417.3h1M482.4 417.1h1M476.6 428.4h1M465.1 443.9h1M487.4 414.5h1M482.2 422.7h1M479.5 413.9h1M478.0 411.7h1M467.1 450.6h1M466.1 436.0h1M478.8 449.2h1M483.1 432.6h1M495.7 422.4h1M482.5 439.1h1M476.8 407.5h1M468.9 423.9h1M474.7 427.4h1M484.6 442.7h1M473.3 439.5h1M475.8 442.1h1M474.1 424.3h1M476.2 434.4h1M490.0 409.7h1M459.3 448.0h1M497.8 445.7h1M481.1 405.8h1M472.3 432.4h1M482.9 436.5h1M466.2 431.6h1M489.4 423.3h1M483.8 410.9h1M472.2 432.1h1M476.3 442.0h1M467.9 437.0h1M477.7 453.9h1M475.8 430.4h1M472.2 449.8h1M468.2 442.1h1M476.9 425.8h1M474.0 444.6h1M476.7 440.6h1M470.2 433.8h1M493.3 400.0h1M490.8 445.5h1M478.7 440.9h1M486.2 448.7h1M455.7 419.6h1M497.5 434.4h1M458.7 453.7h1M472.8 446.1h1M470.0 449.1h1M488.3 412.1h1M486.3 438.4h1M466.9 445.7h1M484.6 453.7h1M487.0 430.2h1M471.5 444.2h1M474.6 444.2h1M475.6 450.0h1M477.2 438.2h1M483.9 436.8h1M485.1 435.5h1M471.3 441.8h1M478.1 443.1h1M480.5 417.1h1M477.7 432.9h1M461.3 441.0h1M465.1 444.8h1M469.7 439.4h1M472.9 415.2h1M484.7 441.5h1M467.7 430.8h1M464.7 445.6h1M477.5 447.0h1M477.1 440.1h1M465.5 447.7h1M487.2 437.3h1M480.9 442.5h1M471.7 438.4h1M473.8 422.2h1M465.0 441.7h1M488.1 421.9h1M478.3 440.2h1M469.3 439.6h1M486.5 426.6h1M457.1 419.6h1M477.2 421.4h1M481.9 443.1h1M487.8 428.3h1M488.3 431.4h1M470.0 439.8h1M487.1 439.0h1M472.7 415.4h1M472.0 424.2h1M482.0 443.0h1M472.0 457.5h1M485.1 437.5h1M484.0 458.8h1M484.9 410.8h1M468.1 442.3h1M480.2 441.1h1M486.8 448.7h1M488.4 408.8h1M497.6 419.9h1M489.4 408.6h1M463.9 424.1h1M476.5 427.0h1M479.2 400.1h1M463.9 439.1h1M472.1 437.6h1M472.8 417.4h1M493.4 452.9h1M477.9 430.5h1M466.6 446.3h1M461.3 442.0h1M471.3 438.1h1M472.4 442.6h1M474.1 446.4h1M482.7 410.4h1M472.5 424.5h1M476.6 439.6h1M465.6 447.1h1M487.7 436.0h1M477.2 421.0h1M469.6 446.2h1M465.8 431.5h1M480.2 410.7h1M455.3 437.5h1M491.3 417.6h1M488.1 419.4h1M454.6 452.9h1M464.9 436.6h1M478.4 439.0h1M484.3 431.2h1M487.9 431.2h1M477.3 442.1h1M478.9 435.4h1M466.0 437.7h1M482.7 418.8h1M468.7 429.4h1M474.1 414.6h1M470.1 436.0h1M479.4 415.8h1M494.1 424.5h1M483.5 435.2h1M466.5 442.7h1M489.8 438.2h1M488.7 428.4h1M464.2 451.2h1M471.2 422.7h1M488.1 409.7h1M471.4 427.2h1M474.2 440.4h1M489.9 434.9h1M487.1 447.7h1M491.6 443.9h1M468.7 421.0h1M497.0 430.1h1M453.3 454.8h1M481.5 427.1h1M480.8 428.5h1M469.5 442.8h1M462.2 457.0h1M484.8 446.1h1M468.5 418.7h1M481.7 452.6h1M473.4 429.3h1M470.0 434.2h1M491.8 423.6h1M467.6 434.1h1M488.0 438.7h1M468.9 433.6h1M475.5 418.2h1M478.1 427.8h1M491.5 424.5h1M472.8 436.2h1M471.4 458.1h1M492.6 430.0h1M468.4 448.1h1M489.3 422.6h1M489.8 414.5h1M465.4 423.4h1M490.3 423.2h1M468.9 400.3h1M470.1 420.1h1M468.6 418.3h1M475.1 433.4h1M485.7 425.2h1M499.3 409.4h1M479.6 435.1h1M464.2 443.2h1M486.1 437.2h1M461.4 439.8h1M483.1 423.1h1M469.7 427.2h1M470.2 429.7h1M487.3 394.3h1M479.8 439.6h1M476.5 420.8h1M470.2 446.8h1M469.2 438.0h1M489.4 457.0h1M493.0 437.7h1M487.5 417.0h1M493.8 443.6h1M490.3 446.2h1M473.4 441.2h1M479.1 440.5h1M459.9 422.8h1M484.3 401.0h1M484.5 406.2h1M463.9 450.1h1M486.8 433.6h1M474.9 440.5h1M456.8 449.3h1M476.0 452.5h1M485.8 417.0h1M471.5 433.2h1M478.0 425.3h1M482.1 433.8h1M472.5 423.1h1M471.3 423.6h1M460.5 458.3h1M480.6 435.2h1M478.4 438.9h1M495.6 423.4h1M482.9 447.3h1M475.8 434.2h1M463.1 434.1h1M456.0 431.4h1M472.1 449.8h1M472.4 429.4h1M482.6 400.0h1M477.5 422.6h1M477.6 435.8h1M489.8 411.3h1M481.0 447.6h1M481.9 437.1h1M479.7 430.6h1M476.2 435.9h1M494.4 413.8h1M478.8 435.9h1M484.1 445.6h1M491.5 443.6h1M474.6 435.7h1M471.0 421.0h1M484.1 450.5h1M491.5 437.1h1M496.3 424.4h1M477.7 449.8h1M495.6 454.8h1M475.7 434.4h1M476.6 457.6h1M484.5 448.7h1M476.4 433.4h1M467.8 439.4h1M473.0 437.4h1M483.5 427.2h1M484.7 426.6h1M466.4 437.6h1M473.7 419.7h1M475.8 427.7h1M479.1 425.1h1M484.6 446.8h1M462.9 439.9h1M480.3 412.7h1M489.1 435.3h1M490.0 414.5h1M447.6 439.5h1M489.2 435.6h1M472.7 444.1h1M469.7 427.3h1M492.7 448.9h1M494.5 427.5h1M473.0 423.6h1M477.3 446.9h1M470.2 452.3h1M472.2 422.9h1M473.1 424.8h1M458.0 430.0h1M474.8 450.0h1M492.9 430.4h1M468.9 452.1h1M472.1 398.4h1M475.0 423.6h1M474.5 431.9h1M475.5 420.0h1M481.3 432.4h1M483.0 414.2h1M480.0 437.0h1M482.4 432.6h1M485.2 439.9h1M490.7 445.1h1M474.0 429.0h1M464.6 444.8h1M489.6 413.9h1M466.6 457.2h1M468.2 412.8h1M482.2 440.3h1M467.2 425.7h1M471.6 445.6h1M484.3 453.6h1M479.7 444.7h1M490.5 448.2h1M482.2 411.1h1M463.7 411.8h1M490.7 429.5h1M485.5 427.1h1M459.2 431.9h1M470.7 426.2h1M475.2 443.2h1M496.1 428.3h1M476.9 455.5h1M478.5 427.7h1M487.5 429.9h1M480.1 450.1h1M473.9 451.5h1M480.7 442.4h1M480.3 432.2h1M484.4 422.6h1M473.7 441.8h1M479.2 454.1h1M484.9 444.3h1M466.0 442.6h1M463.5 447.3h1M494.4 442.8h1M448.9 447.3h1M485.6 447.7h1M465.2 442.8h1M482.8 439.5h1M483.6 452.7h1M467.0 427.8h1M474.8 430.7h1M473.7 439.5h1M475.3 441.2h1M480.8 424.9h1M482.1 437.1h1M481.2 425.6h1M477.0 426.6h1M482.8 431.0h1M491.9 451.7h1M470.1 438.2h1M498.2 456.8h1M486.6 441.9h1M477.9 442.8h1M482.7 458.4h1M479.0 440.4h1M452.3 444.6h1M469.2 432.4h1M464.7 428.3h1M485.7 455.5h1M485.8 440.3h1M497.6 418.2h1M491.5 444.1h1M487.5 447.4h1M489.0 453.6h1M480.1 446.1h1M488.9 442.6h1M495.3 432.3h1M479.2 441.1h1M474.4 447.8h1M485.1 419.3h1M488.1 431.2h1M461.4 433.1h1M471.9 447.4h1M482.4 410.5h1M483.7 437.2h1M480.4 423.2h1M496.2 423.1h1M458.4 431.8h1M468.9 423.2h1M482.7 452.8h1M491.8 425.3h1M459.1 453.1h1M475.7 453.7h1M470.9 456.5h1M468.8 440.6h1M486.8 444.1h1M475.3 443.8h1M495.8 457.9h1M473.7 435.8h1M485.9 442.2h1M487.1 399.5h1M477.8 427.9h1M465.6 409.3h1M475.2 416.2h1M459.8 428.6h1M473.1 440.9h1M496.2 404.7h1M481.8 447.7h1M471.9 451.4h1M468.1 454.3h1M471.0 443.1h1M455.7 421.3h1M477.4 411.1h1M471.1 417.0h1M477.0 440.8h1M480.4 442.6h1M467.6 407.7h1M493.4 438.3h1M474.9 427.6h1M456.6 428.3h1M487.7 427.6h1M474.9 445.3h1M484.1 453.1h1M476.3 427.5h1M481.0 412.1h1M461.2 447.0h1M470.6 442.8h1M474.0 453.5h1M467.8 452.7h1M478.0 431.6h1M482.1 427.5h1M483.1 433.6h1M487.1 402.0h1M477.2 441.2h1M471.6 423.3h1M470.7 430.0h1M469.3 456.7h1M473.8 441.5h1M489.7 417.9h1M470.7 447.7h1M494.8 409.0h1M472.4 434.6h1M469.7 414.3h1M473.7 423.7h1M466.3 430.3h1M461.4 432.1h1M464.9 443.1h1M487.6 407.0h1M488.8 409.7h1M454.9 432.5h1M486.5 425.3h1M476.0 452.8h1M477.0 439.2h1M485.9 398.9h1M486.8 415.0h1M487.5 434.9h1M464.1 431.3h1M487.7 449.2h1M458.4 455.9h1M482.9 444.1h1M468.7 398.5h1M460.1 436.8h1M481.2 424.4h1M475.3 446.4h1M465.7 416.6h1M480.8 442.7h1M470.3 440.8h1M481.2 452.1h1M464.9 439.1h1M481.2 418.0h1M482.6 450.1h1M464.8 436.4h1M491.2 411.0h1M461.6 438.9h1M482.4 421.2h1M468.9 435.4h1M470.6 423.3h1M465.4 455.2h1M475.4 435.3h1M474.5 428.6h1M468.7 433.7h1M481.4 416.9h1M482.7 450.2h1M474.8 412.7h1M481.9 446.6h1M463.1 439.8h1M479.8 432.0h1M481.4 413.5h1M471.8 419.0h1M488.3 440.1h1M481.8 457.5h1M485.2 424.3h1M481.8 445.9h1M459.7 449.1h1M471.1 454.3h1M475.3 451.8h1M470.7 429.9h1M471.0 428.0h1M469.2 428.2h1M486.9 442.0h1M478.0 403.4h1M476.2 456.7h1M493.4 428.9h1M477.6 418.4h1M464.6 451.5h1M479.1 436.1h1M470.1 415.4h1M494.8 415.7h1M483.3 448.6h1M476.6 432.0h1M482.1 447.9h1M487.8 425.2h1M468.3 449.2h1M477.1 432.7h1M473.4 418.5h1M480.4 434.4h1M475.8 442.9h1M491.6 419.8h1M468.0 452.6h1M488.0 429.8h1M473.2 427.9h1M467.4 446.7h1M477.4 436.0h1M481.3 438.6h1M472.6 415.2h1M465.1 441.1h1M470.7 430.0h1M489.9 426.5h1M482.7 418.3h1M468.4 452.5h1M477.1 423.3h1M474.9 436.8h1M485.2 434.2h1M479.0 441.6h1M469.9 429.8h1M475.1 441.2h1M491.3 427.1h1M479.6 441.0h1M470.8 425.8h1M467.2 430.3h1M473.8 433.0h1M480.8 420.0h1M481.8 417.3h1M477.1 457.9h1M494.6 417.0h1M473.5 435.8h1M491.8 416.6h1M497.7 421.6h1M482.1 400.8h1M466.2 445.9h1M484.8 421.4h1M465.9 453.3h1M476.3 443.9h1M471.1 430.8h1M476.5 416.3h1M490.4 435.2h1M473.8 430.8h1M477.5 431.9h1M466.7 446.0h1M480.3 418.5h1M467.0 448.1h1M478.0 438.0h1M499.4 429.4h1M496.1 431.4h1M465.2 417.4h1M467.3 433.3h1M465.4 444.6h1M476.0 427.9h1M474.0 428.0h1M480.8 458.5h1M462.4 441.5h1M475.8 450.0h1M467.6 445.0h1M464.9 451.7h1M486.8 441.5h1M470.8 425.9h1M496.6 415.4h1M464.6 436.8h1M481.4 432.6h1M480.9 410.0h1M494.1 424.7h1M489.3 432.2h1M488.2 404.9h1M487.6 399.2h1M457.8 440.7h1M465.4 441.8h1M484.0 444.2h1M486.0 431.7h1M474.8 424.3h1M470.4 410.2h1M485.4 418.7h1M488.7 421.6h1M481.6 435.3h1M487.3 442.0h1M467.8 445.8h1M469.4 439.9h1M491.7 441.2h1M471.0 443.0h1M492.9 452.4h1M479.7 435.2h1M489.1 433.1h1M481.6 447.2h1M480.5 438.9h1M475.7 440.5h1M488.7 416.7h1M481.0 426.5h1M480.4 440.7h1M458.4 447.4h1M474.8 421.2h1M475.0 415.5h1M472.9 428.4h1M465.7 435.7h1M474.4 433.1h1M493.8 411.4h1M477.9 398.6h1M461.7 436.7h1M462.1 441.5h1M484.1 427.9h1M481.0 431.0h1M484.1 448.0h1M474.7 447.3h1M485.8 438.7h1M482.1 406.7h1M459.6 443.6h1M492.2 440.6h1M484.7 438.3h1M464.1 427.9h1M479.0 413.9h1M479.8 453.0h1M468.3 452.8h1M473.0 438.7h1M488.6 434.3h1M472.7 424.6h1M478.2 454.3h1M475.2 440.7h1M475.5 438.4h1M483.4 438.5h1M479.4 432.8h1M469.4 439.7h1M487.3 448.0h1M474.8 454.2h1M463.9 440.4h1M482.5 442.1h1M490.8 442.1h1M478.0 444.8h1M489.7 427.7h1M487.5 417.9h1M476.9 428.1h1M486.7 427.3h1M481.7 401.9h1M465.8 441.0h1M478.0 451.4h1M480.3 407.4h1M489.4 438.8h1M476.6 421.8h1M476.7 415.1h1M476.9 438.2h1M481.7 433.0h1M479.5 434.0h1M460.5 418.1h1M475.2 452.5h1M486.7 434.3h1M491.9 423.7h1M477.6 440.9h1M487.7 416.3h1M465.6 423.2h1M475.1 424.0h1M483.5 428.5h1M473.7 418.6h1M475.0 429.4h1M469.6 425.6h1M492.4 421.4h1M479.2 455.1h1M480.0 428.3h1M486.5 425.7h1M469.8 450.8h1M487.3 431.6h1M473.0 429.0h1M487.1 434.3h1M456.6 427.6h1M461.0 443.6h1M475.2 446.9h1M487.1 426.6h1M485.1 436.9h1M484.8 440.9h1M469.5 411.3h1M474.7 428.7h1M477.0 448.2h1M485.2 432.2h1M479.5 431.5h1M473.1 436.7h1M469.2 437.5h1M482.1 424.2h1M478.9 429.9h1M469.3 439.8h1M480.2 453.6h1M474.0 434.2h1M495.2 413.8h1M467.1 436.7h1M471.4 449.0h1M477.4 441.4h1M463.8 429.4h1M466.6 443.8h1M463.5 439.6h1M469.2 443.9h1M473.3 449.9h1M492.0 415.8h1M462.8 419.6h1M468.0 430.1h1M489.7 440.4h1M472.4 440.4h1M481.7 413.8h1M478.6 410.5h1M493.3 427.2h1M495.0 403.0h1M488.9 432.9h1M479.0 432.8h1M480.4 411.4h1M480.5 431.2h1M478.5 422.2h1M460.2 434.4h1M471.2 441.9h1M461.9 423.2h1M478.2 449.6h1M483.5 451.2h1M484.0 424.5h1M467.1 454.4h1M463.9 433.1h1M481.0 406.6h1M476.4 426.7h1M486.2 403.0h1M488.2 446.1h1M470.0 444.2h1M476.8 406.4h1M477.5 444.0h1M483.6 416.7h1M459.5 432.8h1M463.3 457.0h1M485.4 411.5h1M478.3 437.5h1M477.0 432.6h1M477.1 434.0h1M474.1 436.9h1M476.5 456.4h1M471.8 432.6h1M470.8 447.8h1M471.3 424.3h1M486.2 416.7h1M465.6 442.9h1M472.9 423.8h1M480.0 421.3h1M471.4 432.8h1M483.6 419.2h1M498.8 438.0h1M453.6 415.5h1M489.0 417.0h1M478.0 440.3h1M470.0 447.8h1M451.4 444.9h1M464.1 444.8h1M494.8 431.0h1M465.8 436.4h1M455.4 441.4h1M481.2 415.9h1M491.7 441.5h1M493.4 423.2h1M462.1 456.3h1M469.5 449.6h1M475.2 427.4h1M482.9 407.8h1M467.4 435.3h1M484.4 446.9h1M475.7 430.7h1M482.7 436.8h1M493.3 422.4h1M474.8 448.9h1M472.9 452.7h1M478.2 445.7h1M477.3 429.9h1M474.7 417.8h1M482.1 430.9h1M480.8 440.7h1M477.8 409.4h1M479.7 448.1h1M483.9 435.7h1M466.0 424.7h1M476.9 440.4h1M484.3 442.5h1M468.1 433.8h1M483.6 436.1h1M472.7 423.3h1M474.8 406.6h1M483.3 448.2h1M477.7 443.1h1M472.8 424.1h1M483.1 425.9h1M479.0 433.9h1M451.5 451.9h1M491.4 441.5h1M470.9 411.5h1M477.9 417.4h1M480.7 440.3h1M460.9 456.7h1M485.0 440.6h1M487.2 438.1h1M471.4 458.1h1M477.6 436.9h1M465.4 434.5h1M465.7 429.5h1M475.9 423.9h1M467.0 437.3h1M477.7 410.3h1M471.4 420.7h1M489.6 431.8h1M489.7 419.1h1M495.1 435.2h1M497.9 434.7h1M475.4 432.8h1M473.4 434.4h1M493.6 406.8h1M488.6 406.4h1M487.4 429.3h1M466.1 443.4h1M489.7 430.0h1M485.4 411.1h1M470.1 422.9h1M484.0 426.8h1M473.6 431.9h1M480.4 443.1h1M481.6 417.8h1M472.1 432.8h1M478.8 409.0h1M472.0 423.3h1M483.5 431.0h1M478.1 439.0h1M475.2 417.3h1M462.1 456.2h1M463.5 450.7h1M472.9 406.9h1M482.1 427.6h1M458.9 425.3h1M466.4 422.5h1M491.0 441.1h1M494.6 435.8h1M476.0 442.2h1M486.1 427.5h1M497.3 430.5h1M479.0 419.2h1M490.2 409.4h1M478.4 431.3h1M460.0 442.1h1M473.7 428.0h1M485.1 425.8h1M487.1 431.9h1M479.4 440.8h1M480.7 443.0h1M490.2 427.3h1M471.4 431.8h1M483.7 410.3h1M483.4 443.7h1M475.9 441.6h1M483.3 442.8h1M484.4 431.0h1M477.2 444.0h1M479.9 423.7h1M481.4 429.9h1M477.0 428.5h1M482.1 440.0h1M462.2 441.2h1M475.3 450.3h1M479.9 434.4h1M481.7 412.2h1M484.5 432.2h1M472.1 410.1h1M487.2 408.9h1M487.6 422.3h1M467.7 452.9h1M474.1 452.1h1M475.4 414.5h1M489.0 435.6h1M474.1 428.8h1M483.0 412.6h1M470.4 423.6h1M492.8 435.1h1M472.1 418.0h1M474.4 458.6h1M485.9 436.3h1M480.2 439.9h1M455.8 435.8h1M476.7 446.2h1M491.7 432.6h1M480.7 442.4h1M459.5 458.4h1M467.3 435.0h1M486.3 435.3h1M486.9 434.7h1M484.8 452.8h1M472.9 424.7h1M476.3 432.0h1M486.6 438.3h1M462.4 427.7h1M478.0 447.8h1M463.1 434.4h1M486.9 438.6h1M487.1 443.5h1M480.1 425.2h1M467.7 437.0h1M456.3 412.1h1M468.5 430.8h1M485.6 434.3h1M465.0 432.8h1M476.8 423.7h1M471.8 418.7h1M491.6 436.4h1M466.1 447.1h1M489.3 420.8h1M466.2 439.5h1M473.1 413.4h1M485.3 427.2h1M474.8 450.4h1M462.1 441.2h1M471.7 414.8h1M477.1 433.0h1M474.9 453.0h1M484.2 424.4h1M477.3 438.8h1M483.2 414.6h1M466.1 449.0h1M472.3 428.2h1M456.9 422.6h1M466.9 451.5h1M470.9 458.2h1M459.4 452.9h1M477.4 442.1h1M494.8 439.4h1M477.8 443.5h1M485.8 444.8h1M468.3 445.3h1M483.7 437.1h1M473.2 431.7h1M482.2 428.1h1M470.2 433.0h1M487.5 421.2h1M488.4 416.1h1M491.7 443.0h1M473.6 452.8h1M470.2 436.3h1M488.5 436.1h1M480.9 436.5h1M486.2 424.0h1M494.2 441.9h1M468.3 436.4h1M475.8 418.9h1M482.5 418.4h1M485.1 411.7h1M494.1 435.4h1M489.9 427.1h1M498.4 433.6h1M482.2 399.5h1M457.9 436.4h1M479.9 446.8h1M465.6 433.6h1M478.5 440.9h1M480.6 436.4h1M477.5 436.6h1M497.7 446.0h1M470.0 447.7h1M483.1 423.0h1M487.4 445.0h1M478.4 437.2h1M481.2 419.1h1M486.4 443.2h1M481.3 426.8h1M482.5 417.5h1M472.3 440.4h1M454.9 437.7h1M475.1 438.0h1M484.6 426.5h1M466.9 440.2h1M470.9 442.8h1M491.7 402.4h1M485.9 431.5h1M482.6 408.5h1M476.1 449.3h1M472.5 439.4h1M479.5 426.6h1M459.8 449.0h1M472.3 438.5h1M496.4 407.7h1M485.8 423.2h1M467.1 433.1h1M482.6 442.7h1M485.9 438.1h1M472.5 442.5h1M482.6 423.2h1M463.7 425.8h1M472.6 443.1h1M471.4 453.5h1M492.3 407.8h1M475.4 421.6h1M471.9 448.0h1M470.9 451.4h1M477.5 445.6h1M495.9 422.6h1M484.3 421.5h1M476.5 453.9h1M477.5 429.5h1M490.6 407.6h1M458.0 449.9h1M446.0 453.4h1M473.6 443.6h1M468.7 433.9h1M474.9 440.4h1M481.0 451.2h1M459.8 420.2h1M487.3 429.9h1M462.7 436.1h1M479.4 423.7h1M473.1 421.0h1M484.9 441.1h1M463.4 438.0h1M469.4 446.5h1M480.8 433.7h1M490.5 434.4h1M495.5 442.2h1M489.5 426.1h1M470.0 443.1h1M482.8 418.8h1M484.0 423.2h1M491.7 433.7h1M487.7 456.0h1M470.2 445.8h1M467.0 436.6h1M493.5 442.4h1M464.6 436.1h1M484.0 414.2h1M485.2 429.2h1M464.6 443.4h1M474.4 456.7h1M467.6 423.0h1M493.3 438.9h1M467.5 449.5h1M483.5 429.3h1M475.2 420.5h1M490.7 439.0h1M483.6 448.3h1M485.7 428.2h1M479.6 449.1h1M493.8 447.9h1M488.1 425.7h1M482.2 419.3h1M479.8 444.7h1M478.7 429.1h1M457.0 407.0h1M487.9 425.1h1M483.7 418.7h1M495.8 436.6h1M482.2 444.4h1M470.1 434.8h1M486.9 422.2h1M466.3 455.3h1M469.6 432.8h1M481.4 437.6h1M464.3 449.8h1M492.1 431.3h1M482.4 424.4h1M466.0 423.3h1M491.2 416.6h1M478.1 435.2h1M501.8 432.4h1M470.9 421.4h1M476.1 431.8h1M471.4 428.9h1M466.5 431.4h1M477.7 452.3h1M476.7 419.5h1M474.8 439.7h1M484.1 436.9h1M479.4 426.2h1M465.7 408.4h1M473.1 425.8h1M497.7 421.3h1M486.4 417.8h1M487.8 421.5h1M468.0 438.6h1M477.8 424.6h1M468.1 436.9h1M470.8 440.4h1M477.1 430.9h1M481.0 401.6h1M481.5 441.4h1M492.2 435.1h1M485.7 443.3h1M464.0 436.6h1M485.5 429.2h1M451.5 453.6h1M481.5 403.4h1M477.4 431.3h1M469.3 399.8h1M490.7 416.1h1M478.7 437.7h1M479.8 438.9h1M469.3 424.1h1M484.4 437.8h1M470.8 416.6h1M464.9 442.1h1M474.5 430.8h1M486.5 425.6h1M472.7 436.8h1M498.0 440.6h1M489.0 421.5h1M484.7 410.3h1M491.7 430.5h1M473.1 436.1h1M486.8 432.4h1M491.2 438.9h1M467.5 435.6h1M470.8 451.8h1M459.5 434.6h1M474.2 447.0h1M468.0 451.3h1M489.7 422.3h1M460.3 434.9h1M466.4 448.9h1M458.7 445.5h1M462.3 449.5h1M485.2 441.8h1M468.3 453.6h1M472.5 438.9h1M491.6 438.1h1M486.5 436.3h1M481.8 443.3h1M482.2 432.6h1M478.8 441.6h1M488.2 424.8h1M484.5 450.3h1M489.1 451.7h1M491.9 415.9h1M482.3 454.0h1M479.3 441.2h1M470.6 455.9h1M484.4 438.6h1M472.2 448.9h1M496.5 416.7h1M476.5 443.8h1M478.9 408.5h1M477.9 398.4h1M460.9 441.6h1M462.9 449.8h1M488.6 425.8h1M482.9 448.5h1M484.7 443.9h1M462.0 447.1h1M481.6 436.9h1M471.6 434.1h1M487.5 426.2h1M475.9 440.3h1M474.1 416.8h1M474.5 431.7h1M483.5 419.0h1M486.2 431.9h1M461.0 452.4h1M466.5 435.7h1M467.4 422.5h1M483.7 455.8h1M473.9 433.3h1M483.5 409.9h1M476.5 430.4h1M478.2 427.5h1M486.3 433.5h1M474.6 428.7h1M487.9 439.4h1M477.0 436.7h1M474.5 437.2h1M465.7 443.7h1M499.4 422.1h1M484.8 431.8h1M475.7 432.8h1M464.2 434.4h1M471.3 448.0h1M497.0 444.8h1M466.8 453.0h1M479.9 429.2h1M483.2 408.1h1M486.5 434.3h1M477.0 401.0h1M471.6 434.4h1M490.9 422.4h1M496.1 429.2h1M468.0 416.9h1M483.4 429.9h1M484.0 426.0h1M472.4 419.3h1M483.5 413.3h1M482.8 430.6h1M469.3 422.7h1M476.1 444.6h1M474.8 438.9h1M483.9 439.0h1M485.8 458.2h1M496.1 437.6h1M456.1 456.0h1M467.8 423.4h1M474.1 444.2h1M480.6 437.8h1M488.6 448.2h1M479.0 453.7h1M456.4 447.6h1M492.6 426.0h1M479.6 418.4h1M472.7 413.6h1M468.1 442.1h1M471.5 432.3h1M477.4 436.0h1M477.2 438.3h1M468.3 434.0h1M474.0 435.4h1M490.3 424.2h1M489.4 433.7h1M472.5 449.4h1M467.4 440.8h1M470.1 420.6h1M495.2 443.7h1M493.8 421.0h1M467.8 428.5h1M476.9 451.9h1M488.1 444.1h1M477.3 418.1h1M476.8 430.1h1M460.3 438.5h1M479.9 430.5h1M488.9 420.5h1M474.8 426.6h1M466.1 409.1h1M483.2 437.3h1M486.3 426.9h1M461.0 442.7h1M480.1 428.0h1M465.8 454.9h1M486.7 434.2h1M483.1 424.4h1M479.6 443.6h1M464.9 443.1h1M473.2 445.3h1M459.9 448.9h1M489.6 439.7h1M465.9 453.7h1M468.5 445.5h1M463.3 447.8h1M477.4 441.8h1M491.5 416.4h1M481.5 419.4h1M476.2 447.6h1M480.3 432.2h1M496.2 395.8h1M469.7 444.5h1M473.7 428.7h1M474.7 423.9h1M483.9 433.9h1M473.0 435.9h1M476.4 438.7h1M480.2 445.6h1M486.9 425.0h1M490.5 430.8h1M469.9 440.6h1M471.0 450.7h1M471.9 438.2h1M481.8 427.4h1M476.5 453.3h1M482.9 411.5h1M485.7 436.6h1M463.4 437.5h1M473.2 430.2h1M481.7 457.8h1M476.7 440.5h1M474.0 429.2h1M483.2 424.7h1M488.8 419.3h1M472.5 445.0h1M481.9 421.5h1M490.1 442.9h1M471.9 452.7h1M485.8 419.9h1M484.7 419.5h1M463.9 426.7h1M465.6 451.4h1M471.6 443.5h1M471.7 404.1h1M491.9 428.5h1M466.1 453.5h1M491.3 410.4h1M467.3 439.6h1M462.4 425.8h1M471.9 428.8h1M467.5 445.8h1M475.0 449.8h1M479.7 452.0h1M464.5 431.8h1M473.2 438.9h1M488.0 431.5h1M470.0 438.1h1M498.1 431.9h1M475.7 444.1h1M467.3 441.6h1M496.1 441.1h1M466.7 443.4h1M485.0 424.7h1M489.3 423.9h1M490.8 408.1h1M475.4 446.0h1M462.3 440.9h1M486.3 444.3h1M477.5 435.6h1M462.1 444.6h1M480.3 440.7h1M480.4 430.9h1M475.2 437.6h1M486.2 439.5h1M481.3 435.5h1M468.0 437.2h1M487.6 429.4h1M486.9 427.2h1M483.8 443.1h1M479.4 430.8h1M483.4 445.1h1M475.9 411.7h1M484.6 431.1h1M491.8 428.5h1M475.7 412.4h1M466.2 454.8h1M471.7 453.7h1M498.7 437.4h1M490.2 447.0h1M466.1 445.5h1M476.3 458.3h1M480.6 435.2h1M479.1 434.3h1M481.4 422.5h1M460.7 435.7h1M476.3 430.1h1M474.1 443.3h1M474.4 410.8h1M462.4 438.4h1M484.2 448.7h1M484.5 440.1h1M475.1 436.7h1M483.6 438.2h1M487.0 423.4h1M485.6 429.3h1M476.6 440.4h1M457.0 434.9h1M477.4 428.0h1M467.2 433.1h1M482.7 440.7h1M465.0 443.6h1M478.1 422.5h1M489.8 426.5h1M459.1 431.2h1M468.0 448.3h1M486.2 410.1h1M476.1 435.4h1M482.0 444.7h1M467.6 436.1h1M489.7 425.8h1M486.1 418.9h1M491.1 440.1h1M478.5 455.6h1M476.0 432.2h1M464.4 429.8h1M464.9 440.1h1M482.2 442.5h1M474.4 410.6h1M477.3 450.4h1M482.1 420.7h1M456.3 440.9h1M474.0 451.6h1M487.5 448.3h1M490.7 441.8h1M486.8 416.4h1M485.6 423.8h1M484.9 435.8h1M487.7 424.3h1M488.7 445.2h1M458.6 427.5h1M486.0 411.6h1M466.5 452.5h1M476.3 440.8h1M483.3 424.5h1M482.1 428.2h1M485.9 441.7h1M479.1 452.1h1M467.2 451.6h1M476.4 438.3h1M462.7 444.6h1M475.3 415.8h1M486.0 444.8h1M493.9 399.8h1M484.3 419.6h1M475.2 444.5h1M485.5 428.8h1M477.6 440.8h1M474.4 414.3h1M476.7 424.3h1M473.0 421.7h1M482.1 427.3h1M469.2 392.3h1M483.3 434.8h1M471.6 435.8h1M470.3 419.1h1M477.1 446.2h1M470.9 457.1h1M461.9 438.1h1M485.5 444.5h1M481.1 430.3h1M464.8 413.9h1M471.6 430.2h1M472.1 439.7h1M486.9 431.9h1M478.1 406.0h1M463.9 432.4h1M488.4 408.4h1M477.9 430.7h1M495.8 447.1h1M470.4 402.8h1M485.3 408.0h1M468.9 458.1h1M473.4 414.2h1M463.4 457.4h1M488.4 449.2h1M467.2 452.9h1M482.9 450.2h1M465.2 427.7h1M490.9 413.0h1M479.9 424.7h1M473.2 439.2h1M466.3 434.1h1M473.1 443.5h1M489.0 422.0h1M481.0 453.9h1M469.4 440.6h1M474.5 408.9h1M483.3 453.8h1M472.3 432.7h1M462.2 438.1h1M473.3 419.4h1M486.8 443.6h1M465.0 419.5h1M471.3 420.3h1M482.5 422.9h1M476.4 456.7h1M470.1 432.2h1M468.5 440.1h1M472.5 424.1h1M473.1 457.7h1M474.9 413.6h1M464.3 425.5h1M474.2 449.9h1M476.0 432.2h1M474.2 424.3h1M478.7 430.2h1M473.0 431.8h1M485.0 409.9h1M494.8 416.9h1M452.3 458.6h1M475.9 418.4h1M484.6 437.9h1M470.4 428.0h1M481.9 419.6h1M480.6 431.0h1M480.6 430.7h1M489.2 442.5h1M471.8 425.4h1M474.9 419.9h1M455.5 442.4h1M496.9 428.1h1M460.7 421.0h1M464.3 443.4h1M483.8 437.2h1M472.6 441.3h1M490.6 428.4h1M480.3 432.6h1M476.0 435.0h1M464.5 448.2h1M490.7 443.1h1M477.8 435.3h1M476.8 426.3h1M485.9 435.0h1M476.9 420.4h1M478.3 452.4h1M482.6 451.8h1M483.7 438.4h1M485.7 423.3h1M459.9 455.6h1M470.0 438.8h1M486.3 415.4h1M472.8 449.7h1M456.4 446.9h1M467.6 429.4h1M480.1 414.0h1M484.1 428.7h1M491.3 433.2h1M485.1 441.6h1M485.3 417.4h1M472.9 424.6h1M483.6 409.5h1M480.7 427.4h1M491.6 408.7h1M480.1 413.5h1M471.0 437.8h1M492.5 430.8h1M475.8 422.9h1M490.9 417.2h1M469.9 410.7h1M467.5 412.2h1M483.0 453.2h1M485.8 433.7h1M469.3 428.7h1M490.9 434.4h1M470.1 426.5h1M479.9 425.6h1M461.5 449.7h1M471.1 439.9h1M486.1 425.4h1M480.8 429.3h1M466.6 441.1h1M484.1 448.6h1M474.1 456.0h1M494.0 395.3h1M472.2 415.6h1M486.8 421.6h1M465.7 407.7h1M488.8 433.1h1M489.4 426.5h1M466.6 440.7h1M482.8 423.9h1M485.0 449.0h1M463.4 429.6h1M463.6 455.0h1M474.6 428.1h1M474.7 424.2h1M479.1 425.7h1M482.5 426.1h1M488.1 431.1h1M474.3 445.8h1M476.6 442.6h1M475.2 413.3h1M472.8 425.4h1M473.8 445.4h1M479.7 409.1h1M484.7 421.5h1M467.9 418.2h1M484.1 440.3h1M478.0 419.3h1M497.9 412.2h1M488.2 432.5h1M463.6 450.5h1M469.1 437.1h1M481.7 433.2h1M468.9 419.1h1M462.8 429.3h1M480.2 412.6h1M465.3 450.8h1M477.3 428.7h1M477.9 438.3h1M479.9 416.0h1M490.0 440.1h1M486.7 402.6h1M484.5 445.6h1M481.1 414.5h1M474.8 426.5h1M480.0 433.3h1M486.2 453.7h1M465.5 433.2h1M480.4 419.6h1M484.8 425.5h1M473.8 453.3h1M480.9 441.3h1M465.5 446.0h1M471.4 433.3h1M481.2 427.2h1M473.1 413.1h1M472.4 429.2h1M496.2 416.2h1M491.3 418.2h1M464.5 443.0h1M480.0 422.7h1M465.4 447.5h1M476.8 425.6h1M478.4 410.5h1M482.6 420.6h1M484.5 401.9h1M468.5 428.5h1M470.3 410.5h1M477.6 419.8h1M480.8 438.7h1M464.9 446.5h1M455.3 431.4h1M473.7 419.5h1M484.9 406.8h1M480.9 457.1h1M468.3 434.4h1M484.4 433.7h1M486.6 434.4h1M487.6 431.7h1M486.5 425.3h1M471.5 417.8h1M479.9 450.1h1M484.8 432.4h1M487.2 432.1h1M496.0 449.6h1M486.4 413.7h1M473.0 436.6h1M470.3 455.6h1M475.9 448.9h1M496.3 416.1h1M472.8 435.0h1M469.2 449.5h1M465.3 444.5h1M462.8 435.2h1M473.2 440.9h1M486.1 422.3h1M483.4 432.8h1M494.7 436.8h1M474.4 427.8h1M479.7 401.0h1M482.8 412.1h1M474.9 457.1h1M461.4 444.8h1M492.8 417.9h1M478.5 454.5h1M470.2 425.9h1M482.8 446.2h1M460.1 444.9h1M485.1 428.8h1M480.0 424.4h1M477.5 435.5h1M474.5 408.9h1M474.2 433.5h1M480.8 398.5h1M484.9 415.4h1M489.3 404.6h1M484.0 409.0h1M487.7 428.6h1M472.1 434.7h1M490.4 429.5h1M487.0 425.9h1M495.0 458.7h1M465.4 446.9h1M497.3 414.7h1M471.1 437.3h1M464.3 454.3h1M482.4 407.2h1M466.5 444.4h1M488.3 420.1h1M470.1 440.1h1M451.1 436.9h1M475.5 448.1h1M482.5 448.8h1M477.5 430.6h1M476.8 436.0h1M479.5 442.8h1M470.4 449.3h1M474.5 428.7h1M462.5 456.1h1M471.4 423.5h1M492.9 417.9h1M493.4 424.8h1M469.8 421.5h1M485.1 410.1h1M474.9 439.6h1M462.6 447.7h1M476.2 443.3h1M457.7 417.2h1M483.8 443.3h1M476.5 406.9h1M460.2 455.7h1M491.5 449.7h1M473.7 426.2h1M480.1 451.2h1M470.0 412.1h1M465.8 448.8h1M470.7 405.4h1M465.9 438.1h1M491.1 415.5h1M475.6 424.1h1M468.2 431.9h1M472.7 429.9h1M479.1 424.4h1M454.1 451.2h1M489.5 424.8h1M490.4 421.1h1M470.6 423.3h1M475.3 417.4h1M486.8 451.6h1M479.8 395.2h1M483.7 417.5h1M478.2 421.9h1M483.9 431.7h1M474.0 430.1h1M480.4 450.8h1M485.3 439.4h1M478.5 420.1h1M489.2 401.3h1M481.4 441.2h1M466.4 452.3h1M493.3 443.3h1M481.9 431.6h1M480.4 436.7h1M476.9 420.6h1M472.5 432.1h1M484.9 427.4h1M464.1 415.8h1M464.8 434.3h1M472.5 433.8h1M482.2 417.4h1M465.3 418.4h1M472.5 454.4h1M479.3 422.1h1M461.9 437.6h1M473.4 450.0h1M454.4 452.8h1M473.2 415.0h1M476.5 449.6h1M473.8 426.8h1M479.1 454.8h1M480.6 412.6h1M462.8 439.6h1M487.0 410.3h1M484.2 449.7h1M467.8 435.7h1M496.8 437.8h1M490.1 430.1h1M479.7 410.1h1M489.8 432.7h1M482.1 435.4h1M478.3 408.0h1M483.0 417.0h1M496.8 447.7h1M482.8 444.5h1M472.9 415.1h1M478.2 434.8h1M475.3 441.9h1M492.4 452.7h1M473.6 429.7h1M463.1 408.9h1M477.1 451.3h1M484.3 425.5h1M484.7 395.9h1M501.2 419.2h1M477.3 439.3h1M491.3 443.7h1M461.2 425.5h1M476.1 443.3h1M490.2 426.6h1M484.9 434.0h1M479.9 425.0h1M469.4 448.1h1M475.2 457.7h1M474.5 427.0h1M465.8 444.0h1M484.9 420.2h1M465.9 444.2h1M464.1 422.2h1M476.9 446.1h1M492.5 417.8h1M474.1 448.8h1M454.8 455.1h1M487.4 432.3h1M483.8 439.8h1M468.7 432.2h1M463.1 447.2h1M502.4 432.5h1M485.2 422.6h1M475.3 455.2h1M490.5 436.8h1M470.2 437.0h1M478.5 439.5h1M475.3 449.5h1M474.5 451.7h1M481.5 397.7h1M489.8 437.6h1M472.4 448.8h1M476.1 419.2h1M484.3 455.8h1M476.1 424.2h1M489.0 424.7h1M456.5 432.6h1M493.4 415.0h1M480.0 428.1h1M464.0 431.6h1M482.8 425.0h1M495.5 430.9h1M487.0 420.3h1M475.9 413.5h1M485.1 411.0h1M492.2 422.0h1M485.8 420.5h1M485.6 428.3h1M467.9 421.1h1M458.7 446.8h1M488.4 412.8h1M479.3 392.6h1M466.5 412.1h1M484.2 409.4h1M488.5 416.1h1M485.8 409.3h1M473.3 450.0h1M463.3 431.3h1M484.2 406.5h1M486.1 440.1h1M488.0 434.0h1M476.0 425.8h1M464.3 428.6h1M497.2 435.8h1M492.6 418.2h1M482.1 414.4h1M466.9 418.0h1M478.2 451.2h1M478.8 432.0h1M485.4 432.1h1M479.2 449.4h1M487.3 433.3h1M481.5 397.8h1M469.0 421.6h1M466.5 430.8h1M482.5 424.8h1M487.2 413.5h1M492.2 428.9h1M470.7 450.8h1M474.2 408.9h1M479.1 426.7h1M462.8 451.8h1M472.0 417.3h1M476.9 436.5h1M481.2 420.8h1M470.5 443.7h1M483.2 422.4h1M469.3 429.0h1M463.9 419.9h1M478.7 399.6h1M467.0 431.3h1M468.7 417.2h1M480.1 456.0h1M473.2 435.2h1M488.8 409.2h1M469.3 453.1h1M472.7 432.8h1M478.6 412.5h1M480.6 429.4h1M477.2 404.9h1M470.3 434.9h1M477.3 450.3h1M475.9 439.5h1M472.4 453.3h1M476.6 457.1h1M470.8 423.8h1M478.9 437.4h1M469.0 442.7h1M480.3 430.0h1M461.4 441.8h1M481.3 427.2h1M463.4 437.2h1M477.5 429.2h1M469.3 456.3h1M480.9 418.0h1M480.4 448.8h1M476.8 423.5h1M478.8 429.8h1M489.6 424.1h1M481.4 419.3h1M480.2 438.9h1M482.6 448.8h1M472.6 448.9h1M490.2 415.5h1M471.2 436.0h1M479.3 428.8h1M486.9 444.9h1M474.5 443.9h1M484.1 432.4h1M472.2 442.5h1M476.3 431.3h1M448.9 444.8h1M487.9 450.8h1M489.5 444.6h1M490.5 410.7h1M495.3 419.7h1M485.7 440.4h1M475.0 421.1h1M494.0 451.7h1M494.1 424.5h1M473.8 428.7h1M461.8 457.1h1M480.8 437.5h1M494.4 404.6h1M494.0 414.6h1M495.2 435.5h1M475.1 456.4h1M479.9 447.0h1M472.9 427.5h1M477.1 418.6h1M478.3 440.0h1M471.3 454.0h1M466.2 400.6h1M470.1 425.4h1M463.8 445.1h1M465.9 434.2h1M484.3 435.5h1M474.9 431.3h1M485.6 435.0h1M477.4 432.3h1M485.9 455.9h1M464.9 447.2h1M472.8 425.8h1M475.5 403.4h1M487.7 419.9h1M488.5 441.5h1M459.5 432.4h1M496.5 414.0h1M468.3 437.9h1M480.2 431.8h1M474.3 418.7h1M470.5 454.5h1M474.9 445.9h1M495.2 413.1h1M472.7 423.3h1M475.5 435.0h1M489.2 415.2h1M481.1 421.0h1M467.8 425.6h1M466.5 409.4h1M478.7 442.6h1M457.1 417.0h1M473.0 411.4h1M478.2 401.3h1M475.0 418.6h1M476.6 415.6h1M471.1 455.6h1M486.2 433.9h1M479.0 431.2h1M494.9 424.6h1M483.9 416.3h1M475.7 399.7h1M479.5 424.5h1M475.8 430.2h1M460.7 422.2h1M460.6 444.0h1M489.9 430.8h1M478.7 438.4h1M463.6 436.4h1M476.7 441.9h1M469.3 453.1h1M462.4 422.8h1M471.1 444.7h1M462.2 433.0h1M472.7 432.2h1M490.1 427.4h1M453.2 457.8h1M469.9 403.5h1M494.5 409.6h1M488.2 408.1h1M486.0 455.3h1M461.4 427.7h1M477.3 413.9h1M471.6 456.0h1M482.9 457.0h1M460.6 456.0h1M478.9 441.5h1M483.7 407.8h1M459.2 437.9h1M460.5 424.8h1M483.9 425.5h1M478.7 422.1h1M479.1 402.8h1M469.4 436.0h1M482.0 421.4h1M465.6 418.8h1M479.4 405.1h1M480.4 419.5h1M473.2 397.7h1M456.9 444.4h1M472.0 432.3h1M482.6 431.7h1M480.7 430.9h1M486.6 447.6h1M471.6 396.7h1M478.2 424.9h1M475.9 449.1h1M474.0 425.6h1M495.2 414.3h1M465.9 447.3h1M478.9 411.8h1M485.3 438.7h1M457.1 458.1h1M473.7 424.0h1M463.6 422.3h1M477.9 455.5h1M476.6 427.0h1M485.3 436.8h1M493.7 411.8h1M477.9 401.0h1M475.1 446.1h1M485.5 410.6h1M465.5 423.2h1M476.1 457.5h1M467.6 450.2h1M483.4 424.8h1M480.0 440.4h1M460.5 434.9h1M459.3 402.5h1M489.3 404.2h1M481.0 427.7h1M478.5 434.8h1M485.2 435.2h1M473.8 454.9h1M476.6 440.7h1M486.3 444.0h1M494.1 438.1h1M469.2 431.6h1M478.4 415.1h1M471.1 426.4h1M467.1 426.9h1M476.7 420.3h1M500.1 435.5h1M472.5 436.6h1M490.1 448.6h1M482.6 448.8h1M479.2 415.8h1M491.2 443.3h1M474.2 422.4h1M474.3 442.6h1M482.0 409.6h1M475.1 429.7h1M475.5 415.2h1M459.7 437.3h1M477.8 445.7h1M466.4 445.7h1M481.2 431.7h1M495.6 423.8h1M489.0 422.2h1M479.9 436.1h1M481.1 404.9h1M478.2 417.2h1M485.9 423.4h1M478.1 432.2h1M459.8 411.5h1M479.7 439.5h1M494.8 410.0h1M471.7 414.4h1M460.9 415.7h1M478.4 440.5h1M484.5 418.0h1M484.7 432.2h1M489.8 434.1h1M467.8 441.4h1M490.0 436.4h1M483.0 413.6h1M473.5 434.8h1M491.9 400.2h1M484.2 436.6h1M472.4 442.6h1M487.2 435.2h1M471.1 421.0h1M492.5 432.2h1M476.3 428.8h1M479.3 451.8h1M473.8 450.5h1M460.2 434.5h1M479.6 411.9h1M480.9 413.8h1M476.2 425.8h1M488.9 430.2h1M455.0 452.9h1M471.0 418.1h1M484.0 412.7h1M477.0 438.6h1M481.5 428.3h1M498.0 415.2h1M484.7 423.5h1M473.7 441.6h1M463.5 449.2h1M494.0 433.5h1M479.2 419.2h1M490.0 422.4h1M488.0 397.3h1M475.0 457.3h1M484.2 403.0h1M490.0 398.1h1M461.6 417.2h1M477.3 456.9h1M479.9 433.0h1M462.4 430.8h1M472.6 429.1h1M492.7 407.5h1M482.2 437.3h1M467.4 401.9h1M484.5 407.6h1M487.9 441.9h1M474.1 447.4h1M463.9 415.6h1M476.8 418.8h1M477.2 450.3h1M465.4 431.9h1M482.3 416.4h1M484.8 430.9h1M491.5 410.9h1M487.9 405.7h1M476.7 417.2h1M492.3 426.6h1M471.4 432.2h1M473.0 430.7h1M477.5 440.0h1M461.8 433.1h1M471.7 438.5h1M481.8 428.2h1M481.2 428.7h1M487.3 436.5h1M490.6 399.4h1M453.3 425.9h1M482.1 455.1h1M480.2 425.7h1M465.7 450.5h1M475.3 411.5h1M473.6 438.2h1M476.4 435.8h1M479.1 415.7h1M492.6 432.0h1M475.8 444.0h1M489.9 452.3h1M463.6 425.8h1M491.7 422.0h1M471.5 424.2h1M462.8 434.4h1M450.8 443.1h1M483.4 432.9h1M479.1 430.8h1M462.9 411.4h1M480.8 424.8h1M486.2 441.1h1M476.6 423.9h1M475.8 424.5h1M485.3 409.7h1M485.0 433.8h1M475.3 432.8h1M463.2 448.6h1M466.7 444.8h1M490.6 451.1h1M482.5 421.9h1M481.8 453.1h1M487.7 418.6h1M487.8 434.6h1M480.0 422.5h1M477.9 413.8h1M451.1 415.7h1M474.3 418.4h1M467.9 446.3h1M494.5 420.0h1M478.0 439.9h1M459.5 454.2h1M478.8 448.4h1M482.9 436.4h1M468.9 433.2h1M497.2 437.4h1M468.8 437.4h1M473.5 426.8h1M475.2 408.8h1M472.7 424.3h1M483.1 420.5h1M482.2 422.6h1M480.7 438.4h1M485.1 427.1h1M463.7 449.4h1M475.9 440.5h1M473.4 446.5h1M457.5 448.7h1M483.5 426.7h1M482.5 449.7h1M472.4 430.5h1M483.6 427.5h1M489.1 415.2h1M478.1 413.9h1M478.2 429.1h1M478.0 430.4h1M479.6 403.6h1M477.5 409.7h1M472.0 451.1h1M481.5 445.7h1M478.2 449.3h1M459.3 456.2h1M485.1 434.0h1M471.9 432.8h1M477.7 413.2h1M475.0 449.9h1M492.2 437.1h1M476.2 403.8h1M485.6 437.8h1M467.5 455.3h1M474.5 438.8h1M491.9 416.8h1M479.0 429.1h1M480.4 420.1h1M461.8 439.8h1M483.3 423.7h1M486.2 427.6h1M484.0 418.6h1M483.4 422.3h1M469.9 430.9h1M476.3 434.2h1M483.2 408.7h1M467.4 436.4h1M480.1 422.0h1M472.6 442.4h1M464.7 428.8h1M481.2 431.2h1M477.6 451.2h1M476.5 455.9h1M481.9 427.5h1M485.3 439.8h1M491.3 395.2h1M471.1 439.3h1M465.2 441.8h1M475.6 420.7h1M484.2 444.1h1M492.5 414.3h1M480.5 432.4h1M473.6 425.5h1M476.9 446.9h1M481.4 453.0h1M460.6 443.8h1M495.5 424.4h1M466.1 447.2h1M477.8 398.5h1M488.6 449.6h1M476.1 437.9h1M476.2 394.7h1M474.3 422.4h1M480.8 426.6h1M490.3 420.9h1M473.0 446.8h1M480.4 428.8h1M475.8 430.8h1M483.4 422.6h1M483.3 441.1h1M453.8 421.1h1M471.7 407.3h1M495.4 434.3h1M470.3 430.1h1M483.6 406.9h1M463.6 417.6h1M491.9 443.5h1M492.3 418.8h1M479.6 425.4h1M475.3 422.7h1M462.5 451.4h1M475.6 440.9h1M461.5 414.2h1M479.7 413.0h1M477.5 434.5h1M480.1 400.9h1M493.1 412.5h1M470.8 415.9h1M459.1 437.8h1M464.3 447.7h1M488.7 423.5h1M465.3 444.4h1M486.7 435.0h1M469.9 412.7h1M493.9 402.8h1M495.3 403.9h1M492.0 413.9h1M469.3 428.7h1M480.2 451.3h1M475.1 444.7h1M494.8 418.3h1M481.4 415.2h1M492.8 404.4h1M483.5 424.4h1M461.1 414.4h1M479.0 449.4h1M475.7 421.0h1M485.4 427.9h1M474.7 437.6h1M485.6 445.1h1M463.6 440.7h1M481.0 424.4h1M470.5 455.1h1M492.3 450.4h1M483.0 416.9h1M489.0 419.4h1M493.8 418.1h1M484.3 415.1h1M462.1 423.9h1M480.0 437.5h1M494.6 391.7h1M497.0 416.7h1M478.1 427.2h1M456.6 414.9h1M464.9 417.1h1M466.0 427.2h1M480.3 430.2h1M488.4 449.2h1M467.5 431.3h1M466.6 426.9h1M475.1 451.3h1M490.3 418.6h1M490.7 442.6h1M477.2 429.0h1M481.2 430.3h1M471.0 454.1h1M473.0 416.2h1M484.9 411.3h1M466.8 452.7h1M493.4 408.8h1M481.6 425.3h1M481.7 425.0h1M478.0 415.0h1M487.5 423.3h1M473.3 423.7h1M474.2 458.1h1M488.9 435.0h1M468.3 420.7h1M487.3 412.8h1M480.0 426.9h1M494.1 414.0h1M471.2 428.4h1M478.2 420.2h1M466.2 438.2h1M474.3 409.3h1M490.0 426.4h1M464.2 418.1h1M468.2 437.4h1M496.9 443.4h1M459.7 427.0h1M462.2 458.2h1M488.4 456.9h1M484.0 436.5h1M473.2 433.5h1M463.7 439.5h1M483.4 427.8h1M473.8 425.2h1M496.6 426.4h1M455.9 417.9h1M481.3 417.5h1M484.1 424.5h1M468.7 431.0h1M484.6 450.5h1M485.3 428.2h1M480.4 440.3h1M482.0 414.8h1M490.1 405.4h1M473.7 452.5h1M464.6 435.1h1M463.6 444.3h1M473.5 410.1h1M481.8 438.5h1M470.8 445.1h1M469.3 425.7h1M466.9 417.2h1M480.6 428.3h1M477.2 408.6h1M456.5 443.4h1M490.4 427.8h1M473.8 446.5h1M482.7 436.0h1M476.2 426.9h1M464.7 442.6h1M470.7 416.3h1M467.7 437.9h1M494.4 416.9h1M467.9 443.1h1M486.1 416.8h1M465.7 442.1h1M479.8 446.5h1M482.3 440.8h1M488.3 455.9h1M478.5 427.4h1M475.8 429.3h1M493.9 395.5h1M484.3 414.8h1M471.5 442.9h1M477.8 434.2h1M475.8 441.1h1M485.0 449.6h1M496.7 435.8h1M469.8 427.2h1M481.1 440.1h1M480.1 445.4h1M477.6 454.6h1M488.3 448.4h1M476.6 412.0h1M462.2 434.6h1M483.1 423.4h1M470.3 429.1h1M492.4 431.9h1M467.1 447.3h1M484.7 449.6h1M470.7 426.5h1M465.6 435.7h1M496.5 428.4h1M486.4 438.0h1M475.3 418.5h1M471.8 428.1h1M460.6 449.1h1M480.9 454.9h1M465.3 397.7h1M456.0 446.0h1M477.3 432.2h1M463.3 440.2h1M471.3 424.4h1M480.1 438.0h1M483.4 427.2h1M468.2 429.4h1M480.2 441.0h1M485.4 417.3h1M458.6 438.9h1M470.9 456.4h1M495.4 433.1h1M479.6 415.9h1M491.4 407.2h1M481.5 429.3h1M495.1 422.4h1M473.5 437.8h1M488.1 411.3h1M473.6 449.8h1M470.7 447.4h1M479.4 431.1h1M487.6 431.1h1M492.1 414.9h1M465.6 437.9h1M457.1 458.0h1M487.5 454.3h1M449.9 402.2h1M483.0 428.1h1M495.8 420.7h1M487.7 416.5h1M499.7 420.0h1M456.8 451.1h1M470.7 415.7h1M470.4 454.0h1M473.1 420.2h1M479.5 393.1h1M469.4 430.4h1M486.9 432.5h1M485.5 426.5h1M485.7 427.8h1M480.4 415.3h1M479.3 418.6h1M469.9 415.9h1M481.2 401.7h1M495.5 439.3h1M484.8 440.2h1M477.1 424.3h1M488.4 410.6h1M460.7 421.8h1M495.0 402.9h1M464.7 430.2h1M470.1 436.6h1M493.2 436.7h1M492.0 397.2h1M477.8 454.2h1M491.7 434.9h1M468.7 414.5h1M495.3 426.3h1M476.7 446.8h1M470.8 456.2h1M492.5 409.6h1M473.9 435.0h1M480.8 420.0h1M493.1 430.4h1M492.0 441.4h1M488.0 428.9h1M455.7 440.5h1M488.9 415.4h1M488.9 413.2h1M484.0 406.9h1M473.3 434.2h1M487.1 430.9h1M485.0 428.4h1M476.7 439.9h1M484.7 440.2h1M485.1 430.1h1M481.2 425.7h1M489.0 410.9h1M486.5 415.6h1M483.8 432.6h1M474.6 407.4h1M477.9 432.7h1M488.4 425.4h1M490.9 418.3h1M464.9 441.1h1M486.8 427.2h1M478.2 430.9h1M477.9 427.9h1M470.7 434.3h1M473.8 426.3h1M471.5 456.5h1M464.8 421.1h1M473.7 435.3h1M471.4 426.0h1M468.3 443.5h1M478.2 401.2h1M471.1 457.4h1M470.9 444.6h1M485.0 446.6h1M480.7 407.8h1M474.4 456.1h1M484.1 444.1h1M479.2 425.4h1M486.2 442.3h1M484.9 438.7h1M477.7 455.3h1M492.2 401.8h1M475.5 453.5h1M484.5 446.1h1M474.4 429.6h1M488.1 413.5h1M476.5 411.8h1M472.7 423.1h1M481.6 449.3h1M476.5 424.1h1M474.9 448.7h1M468.2 433.4h1M480.9 424.3h1M494.5 428.4h1M471.4 452.3h1M484.9 428.0h1M496.0 431.3h1M463.7 433.0h1M481.6 415.7h1M469.3 445.7h1M484.3 439.8h1M487.8 397.4h1M479.7 428.7h1M475.5 447.7h1M473.1 425.4h1M477.0 407.2h1M479.6 425.0h1M488.7 430.2h1M483.1 441.6h1M488.5 442.7h1M488.7 434.8h1M497.7 431.8h1M479.4 447.1h1M473.4 429.8h1M483.3 427.5h1M465.5 413.8h1M477.8 451.9h1M464.8 426.0h1M458.3 445.5h1M487.2 402.2h1M478.5 429.2h1M484.1 420.2h1M479.2 446.7h1M484.1 445.8h1M489.9 418.6h1M477.2 427.8h1M484.8 396.6h1M472.1 457.3h1M473.9 412.0h1M485.1 440.9h1M485.3 427.6h1M460.5 428.8h1M467.4 410.7h1M486.1 425.6h1M474.0 402.4h1M483.0 432.9h1M476.3 395.9h1M468.5 453.9h1M490.7 420.3h1M482.3 415.5h1M479.3 440.1h1M460.5 455.1h1M484.6 401.7h1M483.0 436.3h1M472.2 435.9h1M467.0 431.3h1M476.3 417.4h1M471.6 445.1h1M482.6 428.0h1M482.3 438.3h1M482.5 455.8h1M478.6 412.1h1M468.8 437.8h1M472.9 430.5h1M471.7 435.2h1M469.1 437.5h1M467.2 417.8h1M482.9 407.3h1M488.4 425.6h1M470.1 444.6h1M466.7 401.0h1M472.5 428.6h1M466.1 401.7h1M470.6 446.7h1M489.2 421.0h1M468.2 424.7h1M485.1 436.0h1M482.0 414.0h1M498.9 445.7h1M465.9 457.7h1M482.1 434.1h1M474.3 437.2h1M468.3 416.6h1M483.4 404.8h1M463.2 434.3h1M494.3 438.6h1M477.3 434.3h1M482.1 448.2h1M494.4 434.2h1M497.4 430.8h1M469.6 430.4h1M470.3 411.8h1M463.2 452.6h1M484.8 431.4h1M492.2 397.5h1M464.6 425.3h1M494.3 405.3h1M471.1 438.6h1M479.7 425.1h1M490.8 403.3h1M476.8 410.3h1M493.7 404.9h1M480.3 455.5h1M477.5 406.7h1M483.7 410.6h1M484.3 432.5h1M482.7 413.1h1M482.3 422.1h1M491.6 443.6h1M471.2 436.5h1M481.4 416.5h1M474.2 441.2h1M489.5 416.6h1M468.1 455.7h1M482.0 438.3h1M477.7 429.2h1M480.3 444.4h1M473.4 443.8h1M466.2 410.1h1M478.7 427.4h1M481.1 432.3h1M482.4 421.5h1M480.8 416.4h1M469.0 434.2h1M482.2 431.6h1M491.7 426.2h1M471.5 436.1h1M495.5 416.1h1M483.8 433.6h1M486.8 426.7h1M479.0 406.3h1M472.7 426.7h1M492.9 441.3h1M480.5 413.2h1M471.2 444.8h1M481.7 433.8h1M469.5 442.8h1M470.3 422.5h1M477.6 420.9h1M462.1 428.7h1M470.7 437.2h1M467.9 435.2h1M473.4 447.5h1M478.9 418.6h1M476.5 446.0h1M462.3 421.1h1M478.5 442.9h1M477.7 424.1h1M494.4 435.7h1M481.4 411.4h1M478.7 445.2h1M482.5 427.4h1M491.6 432.9h1M464.9 418.6h1M472.6 434.2h1M480.8 432.1h1M479.4 433.7h1M472.4 438.3h1M463.1 430.1h1M470.6 431.3h1M468.4 433.6h1M493.1 413.4h1M464.4 429.8h1M493.8 415.2h1M474.3 455.6h1M468.3 436.7h1M474.6 411.1h1M458.4 445.9h1M473.8 427.6h1M482.2 451.9h1M487.3 413.7h1M466.6 441.0h1M477.2 415.1h1M482.9 453.4h1M471.4 411.9h1M488.9 415.5h1M478.4 435.0h1M459.6 456.0h1M478.7 446.5h1M460.4 439.1h1M477.5 403.0h1M468.2 446.3h1M478.9 447.9h1M496.9 438.9h1M464.6 431.6h1M482.7 406.1h1M487.5 402.7h1M453.6 444.0h1M478.1 421.0h1M488.0 424.7h1M480.9 446.9h1M492.7 404.3h1M490.1 440.4h1M459.9 455.4h1M480.7 405.8h1M487.7 411.6h1M471.2 456.0h1M465.8 441.4h1M486.7 441.5h1M469.4 451.0h1M467.0 444.0h1M467.0 444.4h1M458.4 410.0h1M454.8 448.3h1M455.4 443.4h1M459.7 438.3h1M476.8 425.0h1M444.5 450.1h1M484.6 441.4h1M457.1 446.1h1M476.6 446.1h1M453.2 449.2h1M475.0 439.9h1M454.8 446.9h1M478.0 449.1h1M441.5 432.3h1M465.2 434.9h1M479.6 450.2h1M458.0 450.1h1M464.8 438.5h1M467.8 447.3h1M454.2 450.9h1M459.7 452.4h1M475.4 428.8h1M477.6 451.5h1M465.1 426.3h1M462.1 443.2h1M440.5 445.0h1M463.3 454.4h1M466.0 433.8h1M466.1 450.3h1M464.5 453.3h1M461.5 451.8h1M450.2 423.8h1M471.3 455.8h1M462.9 447.1h1M474.9 431.4h1M470.9 440.8h1M454.1 425.7h1M463.9 454.2h1M477.4 449.9h1M466.8 428.9h1M468.0 438.0h1M472.4 447.6h1M452.8 437.0h1M457.1 457.6h1M467.8 448.9h1M465.9 445.7h1M486.9 445.8h1M462.4 418.1h1M476.3 447.3h1M479.4 444.2h1M477.1 440.8h1M462.1 438.4h1M468.6 434.6h1M462.5 433.3h1M476.7 438.4h1M465.1 436.3h1M463.4 441.4h1M474.3 431.3h1M458.7 446.1h1M471.8 447.9h1M475.2 450.4h1M478.1 438.7h1M455.1 447.7h1M468.9 439.5h1M475.8 443.6h1M471.3 446.6h1M473.6 455.8h1M477.7 434.6h1M483.8 453.3h1M462.5 439.3h1M493.3 448.1h1M457.5 446.6h1M483.3 457.1h1M477.7 448.2h1M461.9 431.6h1M461.1 450.3h1M450.8 450.1h1M474.8 446.1h1M462.2 438.2h1M464.6 457.3h1M464.4 427.0h1M451.1 415.2h1M462.6 444.2h1M493.3 446.6h1M484.6 428.6h1M457.1 422.3h1M470.7 445.8h1M456.1 455.0h1M472.3 423.8h1M450.7 416.4h1M476.0 456.5h1M453.4 442.0h1M450.8 444.0h1M436.3 435.2h1M463.7 441.0h1M461.0 443.9h1M473.9 439.9h1M461.9 417.7h1M472.8 417.0h1M460.2 449.8h1M472.7 457.2h1M460.9 443.9h1M478.3 427.2h1M474.1 447.4h1M463.6 453.9h1M467.3 451.4h1M459.7 445.9h1M474.9 444.8h1M455.5 445.3h1M466.7 439.0h1M477.6 438.2h1M474.0 453.3h1M470.1 437.9h1M482.0 441.0h1M483.3 415.2h1M458.7 439.6h1M462.1 442.3h1M449.9 448.2h1M453.6 446.0h1M466.4 429.5h1M469.7 448.7h1M466.8 443.2h1M483.1 455.1h1M473.1 450.9h1M476.8 435.2h1M455.9 452.1h1M451.9 435.4h1M470.8 441.4h1M458.5 423.1h1M438.5 442.1h1M487.4 431.6h1M457.1 444.1h1M471.2 421.5h1M472.1 444.4h1M477.6 439.0h1M464.8 415.2h1M466.6 441.1h1M458.4 418.8h1M466.2 445.1h1M460.5 433.5h1M490.5 441.6h1M477.7 451.5h1M480.4 447.8h1M456.2 455.4h1M464.0 436.3h1M469.4 431.8h1M470.3 440.7h1M460.7 453.3h1M464.7 455.0h1M480.2 422.8h1M472.2 452.3h1M496.3 438.9h1M446.4 426.6h1M460.9 445.0h1M437.6 458.6h1M448.0 449.4h1M478.7 427.7h1M481.3 458.5h1M466.7 442.4h1M459.8 444.8h1M467.1 446.9h1M466.7 435.9h1M482.5 441.6h1M477.4 433.1h1M462.0 444.1h1M466.6 450.1h1M491.6 438.5h1M464.2 450.1h1M465.7 433.6h1M475.0 439.6h1M478.9 424.3h1M464.7 436.5h1M463.9 443.6h1M487.7 445.9h1M471.2 450.9h1M455.4 451.3h1M487.4 431.0h1M480.3 454.2h1M485.8 451.8h1M489.4 435.6h1M479.4 442.1h1M482.1 429.9h1M472.8 456.7h1M479.3 440.1h1M482.1 456.0h1M477.7 433.8h1M462.0 442.6h1M471.9 439.5h1M479.4 450.5h1M479.9 450.0h1M485.1 425.3h1M470.8 431.7h1M485.1 457.9h1M460.4 420.7h1M456.3 432.4h1M472.2 418.3h1M489.4 441.2h1M448.0 436.7h1M464.8 449.5h1M478.6 423.2h1M455.3 457.8h1M472.1 448.3h1M491.2 452.6h1M469.7 452.7h1M475.4 437.3h1M479.1 416.2h1M484.4 442.2h1M472.0 440.3h1M448.3 454.2h1M465.9 404.2h1M475.5 442.3h1M459.9 438.2h1M463.4 448.8h1M485.7 446.3h1M476.3 443.3h1M460.7 441.5h1M487.1 441.5h1M466.8 439.7h1M476.2 425.9h1M462.6 450.6h1M460.6 443.8h1M469.4 430.2h1M460.1 446.3h1M446.2 437.8h1M441.0 450.5h1M474.2 452.2h1M436.6 433.9h1M463.7 458.4h1M465.4 442.1h1M466.3 418.1h1M446.3 450.2h1M463.0 458.4h1M474.3 449.7h1M454.0 450.7h1M450.2 447.5h1M476.9 446.8h1M444.3 443.5h1M457.2 428.6h1M464.9 433.1h1M470.2 457.8h1M477.3 449.1h1M484.5 438.5h1M451.2 434.5h1M461.1 419.6h1M484.7 424.9h1M469.6 451.1h1M468.3 429.3h1M484.9 449.0h1M458.0 428.3h1M475.4 432.7h1M479.1 451.8h1M462.0 434.6h1M464.6 438.7h1M464.3 446.1h1M467.0 444.9h1M476.5 458.7h1M492.4 447.9h1M483.0 453.7h1M466.8 433.3h1M462.9 455.2h1M470.1 442.2h1M480.4 442.8h1M459.0 449.7h1M472.9 452.7h1M493.0 440.6h1M459.9 454.7h1M453.2 434.3h1M457.3 449.4h1M468.4 450.8h1M483.5 432.2h1M476.5 436.1h1M474.7 458.2h1M467.8 422.6h1M485.6 434.5h1M489.6 445.0h1M448.3 450.2h1M443.3 456.3h1M471.4 456.2h1M462.3 455.4h1M466.8 410.6h1M472.1 457.9h1M457.1 450.2h1M473.8 454.8h1M467.0 442.7h1M469.2 454.4h1M471.2 443.1h1M450.7 452.6h1M460.7 442.8h1M482.0 444.3h1M477.3 434.5h1M474.7 450.8h1M476.1 423.1h1M478.8 433.3h1M491.2 452.2h1M457.4 457.3h1M451.4 438.6h1M463.2 440.4h1M465.3 440.1h1M464.5 449.9h1M466.0 450.4h1M463.3 431.9h1M445.2 454.7h1M492.8 442.7h1M471.0 428.8h1M486.4 412.0h1M468.8 444.2h1M472.3 429.4h1M466.4 457.5h1M490.2 446.3h1M451.2 428.3h1M490.7 425.7h1M477.7 444.9h1M484.3 445.1h1M445.5 456.9h1M465.0 432.6h1M462.2 429.0h1M473.4 432.3h1M455.5 452.9h1M472.2 429.7h1M463.1 450.2h1M437.9 437.1h1M457.4 448.4h1M463.8 425.5h1M481.8 446.5h1M472.9 448.5h1M451.5 423.5h1M471.4 451.6h1M452.2 451.1h1M468.1 433.7h1M456.1 441.0h1M441.2 433.2h1M467.6 446.9h1M480.9 457.2h1M440.3 445.2h1M452.0 442.8h1M469.0 446.2h1M440.8 444.1h1M465.0 442.9h1M498.8 457.5h1M457.9 447.7h1M463.0 437.4h1M465.1 431.1h1M463.5 421.6h1M486.2 431.7h1M469.9 441.0h1M461.9 447.5h1M478.1 456.4h1M467.8 441.8h1M485.9 452.1h1M455.3 450.4h1M488.8 457.8h1M451.0 445.3h1M470.4 421.4h1M446.7 446.7h1M488.2 449.5h1M474.2 435.0h1M462.3 449.5h1M471.0 453.3h1M459.2 420.0h1M480.6 452.3h1M473.5 433.5h1M467.3 453.9h1M463.1 454.5h1M456.2 436.2h1M484.7 446.2h1M469.6 428.2h1M482.0 434.6h1M476.7 440.9h1M467.9 448.6h1M476.5 448.9h1M489.0 439.1h1M470.4 456.6h1M480.5 450.7h1M444.7 456.7h1M453.0 454.4h1M475.7 428.6h1M452.4 436.4h1M460.6 436.7h1M466.2 443.3h1M472.3 453.6h1M453.5 445.4h1M466.9 447.9h1M451.7 449.6h1M478.4 430.2h1M457.0 446.6h1M486.5 455.4h1M472.1 450.3h1M454.4 430.2h1M481.1 449.9h1M471.4 446.9h1M453.0 453.0h1M457.3 447.7h1M480.4 448.8h1M452.6 454.9h1M468.7 438.4h1M466.2 448.6h1M465.3 430.4h1M483.0 451.2h1M451.2 449.6h1M471.3 452.3h1M476.6 452.0h1M462.4 457.8h1M445.1 450.3h1M485.7 428.0h1M483.6 450.4h1M449.0 450.8h1M489.3 455.0h1M457.6 456.7h1M473.9 428.5h1M474.8 404.6h1M441.9 453.5h1M457.0 444.4h1M469.1 400.9h1M472.2 448.7h1M453.0 438.5h1M481.9 413.6h1M463.3 455.0h1M457.5 443.7h1M453.3 455.7h1M453.0 437.6h1M482.6 449.1h1M459.4 442.7h1M454.5 448.1h1M455.2 444.3h1M477.6 445.1h1M466.5 436.7h1M456.6 434.7h1M475.0 421.8h1M442.1 444.0h1M450.7 450.8h1M460.9 430.4h1M465.0 430.2h1M481.0 446.4h1M433.8 448.7h1M467.0 445.8h1M472.6 452.6h1M440.9 438.1h1M452.1 422.2h1M455.7 436.1h1M450.2 457.1h1M459.7 447.9h1M445.2 444.7h1M473.9 449.2h1M455.2 440.5h1M446.1 455.8h1M480.9 454.1h1M461.7 440.1h1M481.9 457.9h1M458.3 455.8h1M446.7 434.8h1M464.7 456.7h1M491.4 440.3h1M472.3 424.3h1M457.1 452.1h1M462.0 422.1h1M491.0 452.4h1M473.1 440.5h1M477.7 438.6h1M453.6 448.7h1M468.5 437.9h1M485.2 425.3h1M485.3 438.4h1M451.2 454.7h1M467.9 455.9h1M472.5 442.7h1M465.3 433.4h1M437.8 452.2h1M460.2 452.2h1M472.3 430.1h1M466.2 455.4h1M454.4 456.5h1M463.9 456.2h1M462.8 440.4h1M465.9 449.4h1M474.0 449.2h1M447.4 445.7h1M487.8 446.4h1M474.4 440.5h1M490.5 443.1h1M486.3 451.3h1M482.1 444.0h1M463.0 434.2h1M482.9 454.4h1M458.8 449.1h1M478.6 438.8h1M466.7 444.8h1M435.0 456.3h1M462.9 454.1h1M472.8 440.2h1M470.5 452.3h1M467.8 435.2h1M469.8 440.3h1M460.5 441.5h1M458.1 437.3h1M462.1 458.5h1M486.1 449.2h1M472.4 433.6h1M468.6 444.7h1M475.5 438.3h1M478.9 458.4h1M469.7 453.9h1M458.1 454.6h1M465.3 453.5h1M457.4 432.2h1M467.4 442.0h1M485.2 430.8h1M485.5 442.0h1M469.5 451.4h1M476.7 427.5h1M482.9 442.1h1M453.8 457.4h1M459.8 440.6h1M461.7 447.9h1M443.8 448.9h1M483.1 445.4h1M463.0 451.3h1M490.6 441.8h1M447.6 448.5h1M469.2 446.6h1M463.1 457.3h1M450.7 456.0h1M465.5 450.6h1M464.0 455.1h1M467.8 458.4h1M484.8 419.4h1M462.0 443.8h1M492.5 444.0h1M456.4 443.7h1M494.9 446.4h1M476.7 443.9h1M483.5 432.5h1M482.1 435.5h1M485.4 450.7h1M453.4 458.0h1M464.6 454.9h1M472.3 445.3h1M446.6 442.4h1M459.0 450.8h1M468.0 444.3h1M446.7 428.9h1M491.8 449.0h1M446.5 448.4h1M473.6 437.9h1M462.1 453.9h1M472.9 457.3h1M491.7 429.4h1M454.8 451.7h1M482.1 450.9h1M461.7 415.9h1M475.2 457.6h1M454.4 406.2h1M487.8 435.5h1M488.6 452.7h1M490.4 440.4h1M461.5 450.2h1M466.1 450.7h1M444.2 442.1h1M464.4 451.5h1M481.0 437.0h1M461.1 450.3h1M457.8 447.0h1M483.7 437.4h1M451.4 434.1h1M460.4 458.4h1M492.7 435.2h1M472.1 421.7h1M472.4 449.8h1M469.2 457.8h1M453.5 450.7h1M468.5 451.4h1M468.7 452.6h1M478.6 451.0h1M475.8 427.6h1M471.2 432.7h1M474.2 431.7h1M454.2 444.6h1M475.7 449.7h1M452.0 456.4h1M485.3 441.8h1M435.9 444.0h1M468.8 456.7h1M462.1 444.4h1M470.0 427.3h1M474.1 429.4h1M481.1 452.0h1M450.5 441.3h1M482.5 449.5h1M460.7 451.7h1M457.0 432.9h1M461.5 428.5h1M477.1 429.2h1M471.2 439.0h1M480.8 437.0h1M449.8 436.1h1M494.1 439.7h1M453.7 433.5h1M439.9 433.7h1M461.4 453.3h1M469.5 443.8h1M457.0 432.3h1M465.6 447.0h1M481.6 443.3h1M473.5 457.0h1M458.1 445.6h1M475.8 458.3h1M475.6 430.6h1M491.1 435.1h1M454.1 453.2h1M447.7 458.5h1M462.3 451.9h1M478.3 442.4h1M472.7 433.7h1M456.7 456.4h1M465.7 440.9h1M464.0 423.5h1M458.8 444.3h1M466.7 442.0h1M491.0 427.0h1M455.8 451.9h1M466.9 455.8h1M467.6 437.8h1M479.6 451.1h1M475.8 448.8h1M484.7 454.4h1M457.1 441.7h1M455.9 443.3h1M470.1 451.3h1M475.7 457.4h1M482.0 449.4h1M457.7 453.1h1M466.3 442.6h1M473.4 450.8h1M476.7 451.6h1M440.2 445.5h1M474.1 456.3h1M463.2 453.3h1M452.5 454.2h1M488.1 416.0h1M459.4 454.4h1M454.1 438.4h1M470.3 453.3h1M474.2 449.8h1M461.7 442.1h1M482.3 453.4h1M483.9 435.0h1M434.8 434.9h1M470.9 448.8h1M489.4 425.5h1M465.3 441.7h1M462.6 443.7h1M461.8 449.5h1M449.5 422.8h1M455.7 436.7h1M448.4 442.6h1M480.2 423.6h1M483.8 446.2h1M446.9 448.2h1M450.2 447.4h1M472.1 443.4h1M483.1 444.0h1M469.6 437.3h1M450.0 442.6h1M469.2 433.7h1M498.3 453.0h1M474.3 440.4h1M450.1 432.6h1M460.1 422.9h1M466.3 443.6h1M449.3 455.1h1M448.0 442.9h1M465.1 456.1h1M455.0 451.5h1M466.4 421.6h1M477.6 428.1h1M500.6 444.9h1M479.8 437.8h1M492.8 451.5h1M472.9 444.4h1M470.3 442.0h1M473.4 450.8h1M470.3 442.3h1M483.3 416.5h1M448.7 456.0h1M470.7 445.2h1M490.9 438.9h1M469.8 455.9h1M482.7 445.5h1M468.5 448.7h1M479.9 451.2h1M453.3 441.1h1M467.0 448.7h1M474.3 432.3h1M468.9 439.8h1M470.4 426.8h1M483.3 430.6h1M468.3 442.9h1M447.6 446.7h1M457.2 443.0h1M467.4 449.7h1M466.6 456.0h1M452.1 457.0h1M474.5 446.8h1M470.3 436.7h1M471.5 449.6h1M455.2 453.6h1M453.8 437.2h1M457.0 454.4h1M484.1 456.8h1M446.3 446.8h1M476.9 442.4h1M472.9 450.9h1M462.8 434.3h1M489.2 418.4h1M467.4 419.8h1M470.6 452.8h1M454.9 443.9h1M476.9 454.1h1M433.4 453.1h1M493.3 448.0h1M460.3 448.9h1M471.3 457.5h1M458.9 457.0h1M478.7 449.4h1M446.5 437.0h1M437.6 452.6h1M476.8 445.8h1M449.7 441.4h1M470.2 448.2h1M472.6 458.4h1M474.9 440.6h1M479.3 437.1h1M442.2 452.9h1M462.5 440.1h1M463.4 438.7h1M457.4 440.5h1M471.3 436.3h1M474.6 437.3h1M472.8 440.2h1M479.8 435.7h1M472.8 446.4h1M441.7 455.5h1M461.1 430.8h1M468.4 414.8h1M449.1 444.4h1M455.6 454.7h1M457.5 453.3h1M469.0 438.6h1M483.7 457.5h1M438.1 450.4h1M466.1 456.7h1M467.6 431.4h1M454.6 428.1h1M473.7 443.0h1M477.4 426.7h1M453.0 426.7h1M453.6 442.8h1M461.2 454.6h1M461.3 431.3h1M465.4 431.8h1M466.7 443.8h1M488.9 455.1h1M459.3 458.1h1M456.0 433.7h1M463.1 427.0h1M487.1 449.0h1M449.6 436.9h1M462.1 449.8h1M472.2 434.8h1M458.2 451.2h1M448.8 435.5h1M473.8 452.9h1M481.2 450.4h1M489.2 439.0h1M461.7 444.7h1M498.4 434.8h1M458.6 447.1h1M471.8 457.0h1M469.0 432.6h1M450.5 426.8h1M448.9 451.1h1M437.1 440.0h1M476.9 440.4h1M480.5 446.8h1M458.8 432.3h1M474.1 442.1h1M474.9 442.1h1M476.4 429.8h1M469.2 440.3h1M462.6 435.6h1M485.2 441.8h1M481.3 414.5h1M475.7 456.5h1M468.9 435.3h1M468.3 430.2h1M496.0 433.8h1M473.9 454.1h1M471.1 443.2h1M447.3 446.6h1M492.6 427.2h1M431.6 449.8h1M478.8 438.3h1M467.6 443.5h1M461.2 418.3h1M471.0 447.2h1M469.0 456.2h1M441.2 442.3h1M447.7 443.4h1M468.3 439.1h1M473.6 447.7h1M475.5 450.4h1M492.9 435.5h1M482.6 441.1h1M465.5 434.0h1M459.7 455.3h1M455.3 454.2h1M494.1 403.1h1M475.9 443.6h1M454.8 451.9h1M467.8 450.6h1M459.4 449.0h1M453.4 444.0h1M464.1 447.8h1M484.3 445.4h1M488.7 445.9h1M436.4 438.8h1M484.7 439.7h1M447.5 458.7h1M460.1 448.3h1M471.3 437.4h1M463.4 442.9h1M464.2 432.7h1M462.6 446.5h1M459.3 453.7h1M472.7 431.3h1M489.6 430.0h1M470.6 433.8h1M447.4 441.0h1M483.9 424.5h1M488.5 428.5h1M457.2 444.3h1M475.1 455.0h1M466.9 453.5h1M489.2 446.7h1M465.4 456.1h1M444.2 449.7h1M463.8 444.9h1M471.2 442.0h1M456.8 448.5h1M467.6 431.2h1M447.9 439.5h1M480.8 434.3h1M460.2 447.8h1M457.7 436.3h1M455.0 457.5h1M477.1 429.8h1M483.1 453.8h1M489.8 437.6h1M471.2 436.5h1M450.2 444.2h1M473.6 437.2h1M451.6 429.8h1M440.1 450.9h1M479.3 444.9h1M478.1 409.2h1M455.0 455.9h1M478.5 438.6h1M469.6 431.4h1M465.8 425.5h1M489.5 453.2h1M467.5 427.4h1M464.6 442.3h1M454.7 432.4h1M483.9 433.7h1M469.0 430.2h1M461.0 456.2h1M475.1 444.0h1M450.6 456.8h1M460.3 439.5h1M470.4 452.0h1M488.6 449.0h1M456.3 433.8h1M472.8 411.5h1M453.9 452.8h1M454.6 441.3h1M465.4 445.0h1M457.8 448.1h1M443.0 444.8h1M475.7 442.9h1M467.1 449.4h1M486.9 446.8h1M487.9 415.7h1M438.9 445.8h1M459.3 444.9h1M471.8 444.9h1M455.9 416.8h1M483.7 430.8h1M474.3 445.5h1M467.1 447.2h1M470.6 456.7h1M471.3 452.9h1M457.4 448.6h1M491.5 438.6h1M477.7 447.9h1M484.2 439.7h1M469.5 453.7h1M478.4 441.4h1M458.0 440.5h1M459.3 446.8h1M469.6 458.0h1M455.0 446.9h1M483.8 436.5h1M485.9 434.5h1M453.3 445.5h1M467.8 452.4h1M466.3 448.6h1M492.8 442.0h1M476.7 437.8h1M467.4 443.0h1M451.1 436.0h1M479.0 457.6h1M468.1 434.4h1M474.0 432.6h1M470.6 435.1h1M444.2 441.5h1M478.5 453.3h1M446.1 436.1h1M468.5 435.7h1M492.5 423.9h1M455.5 453.0h1M461.3 452.6h1M459.8 452.1h1M461.4 433.0h1M482.2 446.9h1M473.3 457.1h1M457.3 451.2h1M466.7 447.3h1M459.5 422.2h1M462.4 453.0h1M474.5 446.1h1M477.2 454.6h1M476.6 435.0h1M476.9 457.5h1M481.2 433.3h1M497.0 430.4h1M472.7 453.0h1M457.5 458.1h1M476.9 440.9h1M447.8 451.9h1M465.8 427.4h1M451.8 435.2h1M482.6 438.5h1M471.4 439.1h1M471.8 450.9h1M475.2 451.3h1M464.1 432.6h1M485.0 420.0h1M447.1 454.3h1M464.5 435.5h1M481.8 443.1h1M464.6 425.7h1M446.7 447.4h1M468.5 442.5h1M473.2 449.5h1M486.2 447.6h1M477.8 437.7h1M476.2 444.1h1M475.7 427.9h1M482.7 434.7h1M490.5 447.3h1M498.0 454.7h1M468.2 449.5h1M474.4 451.2h1M478.2 431.4h1M487.4 444.9h1M446.8 439.0h1M466.5 433.2h1M474.8 452.4h1M471.1 451.1h1M468.8 456.2h1M462.8 440.0h1M482.7 453.1h1M468.3 426.3h1M459.4 447.3h1M459.3 455.4h1M469.3 454.0h1M453.6 442.4h1M471.0 446.4h1M470.0 442.4h1M472.2 455.6h1M466.3 453.0h1M476.3 439.3h1M475.9 457.8h1M451.9 418.7h1M470.2 443.3h1M473.8 432.9h1M460.4 423.8h1M479.9 440.8h1M497.4 447.1h1M479.0 423.2h1M465.6 436.7h1M470.7 447.8h1M455.0 449.6h1M472.1 434.0h1M466.3 450.9h1M451.1 433.2h1M487.0 438.2h1M462.8 417.6h1M461.4 443.5h1M463.2 456.9h1M464.1 447.3h1M471.5 420.3h1M465.5 448.9h1M476.0 452.0h1M473.5 447.5h1M477.3 434.5h1M459.1 456.4h1M485.0 454.9h1M455.3 439.9h1M463.3 445.8h1M466.5 452.0h1M449.1 438.0h1M449.9 452.9h1M469.6 449.1h1M451.5 440.7h1M465.3 430.7h1M463.3 427.9h1M444.9 448.5h1M463.2 457.8h1M482.0 427.8h1M457.9 455.0h1M463.5 427.7h1M480.2 438.5h1M477.5 434.3h1M480.3 449.2h1M474.5 442.3h1M437.6 431.0h1M475.5 449.2h1M459.0 411.7h1M491.7 450.7h1M473.3 444.2h1M466.1 446.8h1M452.7 415.1h1M460.6 456.7h1M445.0 426.8h1M467.3 441.0h1M452.5 448.5h1M482.9 435.9h1M464.1 432.3h1M446.3 448.7h1M471.3 419.3h1M467.1 442.7h1M439.1 427.8h1M441.2 443.1h1M484.8 448.1h1M451.5 432.1h1M489.0 441.8h1M463.1 438.3h1M481.9 449.6h1M463.7 443.7h1M474.2 436.9h1M477.3 447.0h1M480.6 436.2h1M472.3 456.2h1M444.8 452.7h1M452.2 450.5h1M458.5 457.2h1M476.9 445.4h1M459.0 457.1h1M469.6 457.0h1M446.0 433.5h1M469.6 439.6h1M462.0 438.9h1M469.4 444.9h1M492.3 433.2h1M474.2 446.1h1M459.0 454.0h1M466.3 433.8h1M489.5 445.5h1M477.0 418.2h1M455.6 444.4h1M472.8 440.8h1M471.3 429.8h1M464.3 448.5h1M462.5 448.3h1M454.3 439.2h1M471.1 443.0h1M453.1 422.5h1M455.3 454.7h1M456.0 456.4h1M472.3 450.8h1M479.5 446.6h1M481.4 440.5h1M466.5 421.1h1M480.7 442.5h1M460.0 449.9h1M470.6 442.3h1M476.9 443.4h1M460.8 418.4h1M457.9 444.6h1M451.1 433.2h1M483.5 453.4h1M484.7 453.0h1M455.1 440.4h1M468.0 457.6h1M451.8 442.6h1M466.1 425.7h1M459.2 445.3h1M483.0 456.0h1M463.8 443.9h1M493.7 454.6h1M474.2 425.7h1M456.3 433.5h1M471.1 426.1h1M469.3 450.1h1M458.9 453.8h1M471.0 447.4h1M458.2 447.0h1M461.4 444.1h1M466.0 431.6h1M454.7 435.3h1M464.3 426.1h1M477.2 441.5h1M472.8 446.8h1M451.0 445.6h1M466.7 432.6h1M484.9 432.8h1M464.0 443.0h1M465.0 436.2h1M463.3 420.0h1M471.7 438.7h1M458.3 426.7h1M464.1 418.1h1M475.5 446.3h1M453.4 440.1h1M475.9 440.1h1M463.9 439.2h1M455.1 441.3h1M446.1 451.0h1M479.9 447.9h1M469.4 455.7h1M469.8 439.4h1M472.4 443.7h1M448.9 438.5h1M474.6 417.4h1M473.4 417.5h1M479.5 426.9h1M477.5 430.9h1M477.6 434.3h1M470.3 435.1h1M476.4 431.0h1M455.4 444.5h1M460.0 429.4h1M474.8 449.7h1M474.3 440.8h1M459.1 457.2h1M458.5 442.5h1M468.4 451.6h1M467.6 444.4h1M490.8 420.3h1M484.2 438.2h1M458.9 413.7h1M456.6 457.1h1M471.8 456.1h1M460.8 451.1h1M475.3 445.5h1M458.1 448.2h1M458.4 437.2h1M453.6 454.3h1M472.7 454.6h1M451.5 446.3h1M473.7 413.5h1M469.4 443.7h1M449.1 433.2h1M455.2 428.5h1M487.4 435.5h1M457.9 436.7h1M471.8 442.0h1M461.7 443.2h1M481.0 418.5h1M464.1 452.3h1M463.6 428.9h1M492.5 440.2h1M438.0 449.1h1M465.0 443.4h1M478.7 440.5h1M479.5 447.5h1M497.4 448.4h1M453.4 450.0h1M470.6 457.7h1M465.7 440.1h1M462.6 449.8h1M482.7 448.7h1M484.8 451.4h1M460.2 450.4h1M478.1 451.4h1M469.1 441.8h1M475.8 423.1h1M475.6 443.6h1M484.3 429.2h1M464.0 436.5h1M452.7 451.7h1M481.4 442.2h1M484.8 424.4h1M469.0 432.2h1M453.7 452.3h1M448.2 438.1h1M471.1 450.1h1M474.1 430.9h1M462.9 433.3h1M459.8 435.4h1M480.0 442.6h1M452.7 456.2h1M482.8 437.3h1M496.2 433.2h1M477.7 453.3h1M454.9 420.3h1M483.7 448.6h1" stroke="#2457a7" stroke-width="1" fill="none" opacity="1"/>
<path d="M356.0 458.4 H502.5" stroke="#5f7db4" stroke-width="1.5" fill="none"/>
<ellipse cx="483.2" cy="347" rx="12.6" ry="7.2" fill="#e8211c" transform="rotate(-38 483.2 347)"/>
<path d="M490.1 339.1h1M471.9 362.2h1M482.6 339.7h1M490.6 341.5h1M476.3 346.8h1M478.4 342.0h1M472.3 360.6h1M488.7 344.9h1M483.8 337.1h1M486.1 349.7h1M471.5 351.3h1M485.3 348.0h1M487.1 347.6h1M486.6 345.3h1M477.9 342.5h1M482.6 344.3h1M479.5 352.3h1M474.5 348.1h1M479.6 340.9h1M477.5 348.5h1M482.1 350.8h1M494.1 342.8h1M478.8 345.4h1M480.1 341.1h1M481.5 347.0h1M489.2 347.8h1M478.6 348.5h1M490.3 351.2h1M484.5 346.2h1M492.4 338.8h1M489.4 339.5h1M481.0 347.6h1M478.9 342.4h1M495.6 344.9h1M478.3 346.5h1M485.6 343.4h1M487.5 344.9h1M478.6 351.1h1M477.8 345.7h1M486.7 353.9h1M480.0 348.6h1M492.1 335.6h1M487.9 345.8h1M487.0 353.4h1M492.7 344.1h1M496.3 343.3h1M476.6 347.7h1M471.0 345.6h1M488.1 335.0h1M475.5 353.7h1M474.2 344.2h1M487.2 344.6h1M466.6 350.7h1M474.1 349.9h1M486.3 339.3h1M480.0 351.3h1M479.0 345.2h1M485.7 346.1h1M474.4 355.3h1M488.7 349.4h1M482.1 344.3h1M491.3 344.6h1M487.8 342.6h1M484.1 342.2h1M482.2 343.3h1M475.7 349.7h1M487.5 335.1h1M485.7 343.9h1M481.8 349.6h1M472.5 349.9h1M482.8 346.0h1M488.1 347.0h1M487.1 341.4h1M481.3 345.9h1M482.2 342.2h1M487.5 348.4h1M492.5 338.1h1M481.6 355.9h1M489.8 345.6h1M486.5 344.2h1M483.5 339.9h1M488.4 343.9h1M477.7 353.7h1M476.9 348.0h1M475.0 346.2h1M483.0 341.8h1M481.7 346.3h1M494.7 348.6h1M479.1 352.3h1M486.3 342.3h1M489.7 330.3h1M488.2 350.1h1M475.5 348.7h1M481.5 346.4h1M474.0 351.3h1M489.7 348.5h1M492.5 342.9h1M485.4 341.6h1M489.0 356.3h1M483.6 349.4h1M484.5 345.8h1M486.8 352.2h1M477.1 348.5h1M481.5 343.3h1M479.5 353.4h1M490.3 345.5h1M471.2 351.4h1M482.8 343.4h1M487.6 346.5h1M495.5 348.4h1M478.2 347.3h1M491.5 344.8h1M473.2 360.3h1M484.6 348.7h1M478.8 344.0h1M484.3 333.9h1M481.6 349.7h1M492.4 356.0h1M476.1 350.9h1M480.9 345.8h1M471.7 360.3h1M488.9 344.3h1M487.6 340.7h1M480.5 341.2h1M478.8 346.9h1M484.2 340.3h1M491.4 344.0h1M491.9 334.8h1M485.5 348.2h1M489.4 346.3h1M484.2 345.6h1M487.5 345.9h1M488.7 348.6h1M482.0 348.8h1M494.0 344.6h1M486.6 343.2h1M486.4 345.9h1M478.4 346.8h1M468.5 360.3h1M484.5 344.9h1M490.7 335.8h1M481.2 345.9h1M487.8 340.1h1M482.0 348.4h1M481.6 342.6h1M473.7 350.2h1M485.6 330.7h1M480.5 351.1h1M471.0 348.5h1M475.7 351.6h1M478.1 353.0h1M492.7 341.9h1M486.6 348.2h1M481.6 346.7h1M481.3 345.6h1M480.5 352.4h1M483.4 343.8h1M482.1 345.2h1M495.0 337.7h1M477.7 350.8h1M484.4 346.5h1M489.1 342.7h1M497.4 338.1h1M486.7 347.1h1M480.8 352.7h1M475.1 341.7h1M488.2 337.5h1M488.6 337.4h1M481.8 355.4h1M490.0 342.5h1M476.2 346.6h1M476.3 346.5h1M486.2 341.6h1M485.6 343.1h1M481.3 357.4h1M488.2 350.4h1M485.5 341.1h1M490.4 346.6h1M487.3 346.1h1M494.7 334.9h1M477.0 349.8h1M472.1 346.6h1M475.3 348.4h1M477.3 357.7h1M481.5 345.2h1M491.0 347.8h1M483.6 351.3h1M478.1 347.3h1M493.7 340.5h1M488.6 354.3h1M486.6 349.7h1M482.8 345.9h1M488.6 351.9h1M480.0 348.5h1M483.3 344.9h1M476.0 354.7h1M492.3 343.1h1M488.1 339.9h1M481.7 344.3h1M493.5 347.8h1M476.8 347.3h1M488.4 340.5h1M478.4 345.7h1M489.0 340.7h1M478.7 348.3h1M487.4 349.7h1M481.5 345.6h1M498.0 343.3h1M485.2 344.0h1M487.5 346.7h1M488.7 342.5h1M473.3 341.1h1M488.7 342.1h1M479.4 354.1h1M487.1 348.9h1M481.9 350.8h1M486.3 347.2h1M489.4 347.7h1M475.5 348.1h1M489.2 338.1h1M484.0 349.0h1M482.2 351.0h1M497.3 341.6h1M479.5 349.5h1M490.8 336.4h1M481.9 345.0h1M488.5 340.6h1M472.7 350.5h1M476.1 341.6h1M486.4 340.5h1M484.3 340.7h1M482.9 350.2h1M478.0 346.3h1M481.4 355.2h1M477.7 344.7h1M489.9 340.8h1M477.5 344.5h1M492.0 343.2h1M487.3 344.7h1M486.9 347.7h1M476.6 355.8h1M495.3 347.1h1M488.8 336.3h1M480.0 350.5h1M473.4 351.9h1M478.7 349.5h1M487.4 345.4h1M485.2 346.1h1M487.7 332.2h1M484.1 343.4h1M489.1 350.5h1M483.1 348.7h1M487.1 348.7h1M485.7 341.2h1M480.0 345.4h1M483.8 347.7h1M489.8 347.0h1M488.0 337.2h1M488.4 343.6h1M486.0 349.9h1M490.7 346.7h1M476.4 349.3h1M486.6 343.2h1M483.1 339.0h1M482.2 341.3h1M483.4 348.4h1M475.8 349.7h1M485.4 340.9h1M476.1 343.3h1M483.5 347.2h1M482.9 349.3h1M488.4 343.3h1M481.5 334.6h1M484.6 353.2h1M478.4 342.7h1M488.1 342.4h1M488.9 341.7h1M488.5 357.8h1M485.9 348.5h1M482.6 342.8h1M486.7 354.7h1M490.6 350.0h1M483.4 344.4h1M468.7 349.5h1M473.8 350.8h1M482.6 346.1h1M493.5 347.5h1M484.9 345.8h1M466.8 357.5h1M484.0 341.4h1M482.0 352.4h1M483.5 347.8h1M479.9 345.1h1M490.4 347.4h1M481.3 354.8h1M470.6 351.5h1M485.4 347.4h1M479.5 340.9h1M488.6 347.7h1M477.6 352.9h1M494.5 342.9h1M495.0 340.1h1M474.8 354.5h1M484.1 352.9h1M480.5 351.8h1M492.9 336.1h1M474.8 356.4h1M475.4 347.0h1M487.8 344.2h1M476.3 347.1h1M488.5 344.7h1M485.9 339.4h1M474.3 354.6h1M468.6 352.9h1M489.3 348.9h1M483.3 346.7h1M482.9 348.7h1M482.5 339.1h1M487.1 343.2h1M480.3 348.7h1M476.4 353.3h1M492.5 342.8h1M479.2 351.2h1M481.5 345.6h1M481.5 347.9h1M483.7 341.3h1M472.7 352.7h1M480.1 348.6h1M487.9 350.7h1M474.7 344.3h1M483.4 342.5h1M478.0 346.4h1M493.5 341.8h1M493.3 342.4h1M477.6 347.4h1M483.8 348.8h1M496.3 348.9h1M479.2 350.4h1M479.7 351.9h1M483.9 348.2h1M483.4 349.0h1M474.2 351.2h1M484.3 349.3h1M481.6 341.9h1M493.8 337.7h1M482.9 341.7h1M491.3 345.8h1M481.7 351.0h1M478.0 348.2h1M477.0 348.3h1M480.4 349.8h1M473.3 343.5h1M485.3 340.1h1M477.3 350.0h1M483.8 346.3h1M490.6 342.9h1M472.7 352.1h1M481.9 355.9h1M496.9 338.9h1M487.9 338.9h1M479.8 344.1h1M489.4 340.2h1M478.8 349.0h1M482.5 352.5h1M490.3 344.0h1M482.4 353.1h1M479.2 342.2h1M483.0 343.8h1M482.6 343.1h1M483.6 351.4h1M482.1 341.1h1M484.7 337.6h1M476.7 353.4h1M493.2 340.3h1M485.6 348.0h1M474.4 347.9h1M482.7 350.2h1M477.5 345.7h1M479.6 352.2h1M472.2 353.5h1M484.4 342.0h1M481.3 352.5h1M476.0 353.2h1M475.6 353.7h1M477.0 344.9h1M472.9 352.7h1M481.0 340.5h1M479.2 345.2h1M477.4 353.1h1M488.7 342.6h1M478.3 350.6h1M486.3 340.6h1M479.4 356.1h1M483.3 345.3h1M478.0 347.1h1M482.1 338.1h1M485.2 336.5h1M476.5 352.1h1M476.8 348.3h1M492.8 347.2h1M469.9 359.3h1M487.9 345.9h1M483.2 332.8h1M480.6 341.9h1M490.3 346.7h1M482.6 348.9h1M478.1 347.6h1M478.7 350.6h1M489.8 338.4h1M483.0 351.9h1M487.2 353.4h1M480.6 337.6h1M490.6 347.6h1M483.5 346.1h1M480.8 342.2h1M485.3 357.2h1M491.6 339.0h1M479.0 339.7h1M491.3 336.8h1M491.6 342.7h1M487.7 349.0h1M478.4 349.1h1M491.1 351.3h1M484.6 351.6h1M477.3 355.6h1M483.5 339.8h1M475.2 349.2h1M486.5 346.8h1M486.2 347.6h1M482.5 354.4h1M485.2 342.5h1M485.2 343.6h1M494.6 348.7h1M493.0 339.4h1M480.0 343.6h1M481.1 351.2h1M496.7 337.4h1M479.6 334.3h1M487.4 346.7h1M489.9 338.4h1M472.7 359.0h1M483.7 350.1h1M484.6 341.4h1M485.6 346.6h1M491.8 340.4h1M485.7 348.1h1M476.6 349.5h1M486.8 340.5h1M472.8 346.8h1M491.8 344.4h1M482.1 344.6h1M476.1 352.8h1M483.8 349.4h1M486.8 336.6h1M480.9 352.9h1M477.2 344.8h1M486.3 348.5h1M482.3 348.1h1M483.5 355.1h1M483.0 352.8h1M477.9 349.3h1M483.6 341.2h1M490.3 337.3h1M482.7 343.4h1M486.6 336.4h1M463.7 348.7h1M487.0 335.7h1M484.3 344.7h1M484.1 343.7h1M486.8 339.4h1M491.8 346.8h1M478.1 344.4h1M485.1 344.8h1M489.8 345.8h1M481.0 338.4h1M484.0 346.7h1M480.3 352.0h1M480.7 339.2h1M476.9 349.0h1M475.4 356.2h1M481.9 344.0h1M483.9 346.4h1M484.3 351.1h1M489.0 343.3h1M483.3 346.8h1M487.8 338.7h1M483.7 353.9h1M483.1 344.7h1M482.5 348.6h1M473.8 355.3h1M479.1 346.9h1M478.0 349.9h1M490.3 341.7h1M479.5 349.2h1M483.0 347.1h1M484.4 346.0h1M483.0 343.0h1M482.3 346.4h1M481.1 344.6h1M486.9 348.4h1M486.6 343.5h1M479.1 356.4h1M481.5 353.4h1M468.5 358.5h1M474.6 354.9h1M490.6 347.3h1M491.9 342.6h1M489.0 334.8h1M490.0 345.7h1M486.6 347.4h1M477.6 344.1h1M476.8 344.7h1M485.7 346.5h1M490.1 339.1h1M482.6 348.0h1M482.5 344.6h1M486.7 345.7h1M482.0 347.2h1M476.8 352.9h1M477.8 349.7h1M483.5 343.5h1M478.8 353.2h1M472.4 347.3h1M479.0 348.5h1M481.8 357.2h1M491.0 340.6h1M486.6 343.6h1M484.3 349.2h1M478.3 348.7h1M492.4 341.0h1M477.3 343.5h1M477.6 354.9h1M482.2 345.0h1M482.0 345.1h1M491.9 339.4h1M484.0 346.0h1M481.3 347.1h1M489.4 344.0h1M486.4 340.6h1M482.3 344.4h1M473.0 354.3h1M484.1 337.8h1M490.9 344.4h1M482.1 342.6h1M484.2 346.8h1M472.6 355.1h1M487.5 344.9h1M485.9 354.5h1M481.0 344.7h1M480.6 348.3h1M469.5 343.9h1M483.3 357.1h1M491.4 346.7h1M478.3 354.6h1M478.3 348.2h1M471.0 349.4h1M486.7 346.9h1M482.5 340.8h1M491.9 338.9h1M477.1 344.6h1M482.7 349.4h1M483.1 353.6h1M481.7 344.7h1M481.9 351.6h1M478.4 348.6h1M485.3 350.2h1M482.3 347.2h1M482.6 344.3h1M472.5 348.5h1M483.9 344.9h1M485.5 354.5h1M484.0 349.1h1M483.1 343.2h1M485.9 355.0h1M485.3 338.5h1M489.5 340.3h1M483.1 350.5h1M477.4 351.6h1M474.7 357.6h1M484.8 345.3h1M478.9 348.7h1M476.9 339.3h1M488.6 345.2h1M481.4 345.6h1M489.4 343.2h1M469.4 354.5h1M481.9 348.5h1M489.5 342.9h1M488.1 341.5h1M471.3 354.5h1M475.8 347.0h1M485.8 347.1h1M482.9 340.5h1M473.9 357.0h1M482.5 350.1h1M480.6 348.1h1M489.3 341.3h1M487.3 355.8h1M481.0 345.8h1M487.5 339.7h1M488.3 344.9h1M474.4 350.9h1M484.1 346.3h1M481.7 344.5h1M492.9 342.8h1M487.2 337.4h1M474.2 344.7h1M492.1 337.9h1M482.0 350.9h1M494.6 342.5h1M485.6 341.3h1M479.5 349.9h1M478.9 350.6h1M480.5 343.5h1M490.3 345.4h1M473.6 349.4h1M481.7 352.3h1M491.7 337.7h1M490.9 346.0h1M490.3 345.4h1M487.4 343.9h1M487.5 344.7h1M482.7 349.6h1M486.9 346.8h1M476.1 352.7h1M483.8 349.1h1M490.1 349.1h1M481.7 342.9h1M486.1 344.3h1M482.5 348.8h1M492.7 345.3h1M476.9 343.0h1M496.2 337.6h1M487.2 351.2h1M484.2 340.1h1M494.4 344.7h1M485.2 345.2h1M476.5 354.5h1M486.1 350.2h1M482.4 349.0h1M478.1 352.2h1M486.2 352.1h1M482.7 355.2h1M482.5 345.7h1M483.4 359.8h1M485.2 342.2h1M481.7 349.5h1M491.0 342.2h1M469.5 347.1h1M484.3 351.4h1M478.8 347.3h1M479.6 349.0h1M481.7 358.5h1M473.2 360.9h1M490.2 342.5h1M495.4 336.0h1M481.3 345.9h1M483.4 346.7h1M495.4 349.2h1M480.8 350.5h1M486.8 347.3h1M491.5 338.8h1M484.4 349.1h1M482.2 345.8h1M489.9 337.8h1M485.9 335.5h1M477.3 355.5h1M479.3 356.2h1M486.8 338.7h1M482.1 350.2h1M469.8 355.7h1M486.2 341.4h1M488.0 350.1h1M483.8 349.6h1M479.7 351.7h1M475.6 345.9h1M485.4 350.3h1M491.4 333.6h1M485.3 348.2h1M498.8 339.9h1M488.0 349.4h1M490.0 344.3h1M488.2 353.0h1M489.1 345.3h1M476.4 351.0h1M488.2 344.6h1M472.6 347.6h1M481.1 351.9h1M476.6 343.5h1M475.3 352.7h1M479.9 350.6h1M480.4 350.4h1M484.3 344.1h1M490.9 349.9h1M485.8 344.2h1M478.7 363.5h1M483.8 347.3h1M488.2 348.0h1M478.0 354.3h1M477.9 341.9h1M486.3 354.4h1M496.3 335.6h1M483.8 350.6h1M478.3 344.7h1M477.5 356.2h1M473.0 356.9h1M483.7 343.0h1M481.1 352.9h1M482.3 343.4h1M485.8 352.6h1M473.6 345.4h1M477.9 354.5h1M491.3 337.2h1M486.7 345.4h1M483.0 353.4h1M480.7 350.9h1M467.7 348.8h1M478.7 355.0h1M471.9 350.5h1M469.2 350.4h1M481.8 350.6h1M481.7 346.6h1M498.2 343.1h1M486.2 344.7h1M489.4 343.6h1M484.8 342.6h1M481.7 360.1h1M473.4 349.7h1M480.8 345.2h1M487.8 343.9h1M491.4 341.1h1M482.6 341.7h1M489.6 343.7h1M482.6 343.1h1M488.7 346.1h1M481.3 349.6h1M488.5 342.7h1M478.2 348.5h1M483.5 354.1h1M493.1 340.1h1M483.7 353.9h1M479.4 345.8h1M485.1 346.6h1M477.6 346.6h1M476.9 358.0h1M481.1 348.4h1M486.3 343.6h1M482.5 346.8h1M479.3 345.0h1M484.4 342.2h1M484.5 346.3h1M489.2 345.0h1M464.1 353.0h1M488.0 340.0h1M484.1 340.2h1M475.4 341.0h1M482.1 352.5h1M485.8 345.8h1M475.9 343.8h1M478.2 353.7h1M493.7 347.3h1M482.0 346.8h1M487.7 348.2h1M489.6 348.6h1M478.8 347.3h1M465.5 352.8h1M481.3 344.9h1M486.3 343.1h1M482.1 348.5h1M482.2 345.6h1M475.4 355.0h1M479.2 346.1h1M487.4 342.2h1M484.8 347.9h1M474.3 352.1h1M490.4 345.1h1M489.4 345.2h1M481.2 349.2h1M483.1 344.6h1M485.6 346.4h1M488.6 347.6h1M480.8 347.7h1M489.1 340.7h1M488.3 349.1h1M483.0 342.9h1M487.2 347.4h1M488.3 333.2h1M487.4 346.4h1M481.1 345.4h1M476.8 349.3h1M485.0 343.0h1M484.2 349.2h1M477.1 354.3h1M486.3 344.6h1M492.0 325.8h1M487.5 335.4h1M482.0 345.7h1M474.5 348.0h1M485.2 353.2h1M478.4 354.9h1M476.2 355.3h1M476.3 347.5h1M475.4 345.0h1M493.0 333.0h1M476.3 352.6h1M495.5 337.8h1M487.3 344.0h1M473.3 347.2h1M487.1 352.4h1M490.6 343.9h1M488.7 346.5h1M481.8 334.3h1M488.1 345.4h1M482.7 348.4h1M484.8 346.4h1M471.1 338.9h1M475.5 349.5h1M480.8 349.8h1M476.8 348.6h1M487.0 347.0h1M483.1 346.1h1M479.9 350.6h1M481.5 349.2h1M485.0 351.2h1M483.8 352.2h1M483.3 336.4h1M490.4 345.9h1M485.3 346.6h1M485.1 352.2h1M477.5 354.6h1M485.2 343.1h1M482.5 338.8h1M490.3 347.2h1M483.4 350.9h1M488.9 347.4h1M486.5 346.3h1M481.1 339.3h1M484.9 353.1h1M489.4 338.5h1M484.9 347.6h1M483.0 340.7h1M486.9 340.5h1M480.9 340.6h1M489.7 346.8h1M482.8 339.2h1M488.9 342.0h1M481.3 343.6h1M486.7 346.6h1M483.0 345.9h1M489.1 346.7h1M474.9 357.1h1M471.6 349.4h1M485.0 345.9h1M486.9 345.9h1M478.5 349.4h1M487.7 339.2h1M481.0 348.5h1M484.8 352.7h1M478.6 347.1h1M478.8 347.6h1M479.3 353.1h1M474.3 344.2h1M494.8 338.3h1M478.6 344.5h1M492.7 349.8h1M481.9 335.8h1M478.5 346.6h1M487.2 339.1h1M486.6 340.7h1M478.1 341.5h1M478.4 341.5h1M471.1 345.7h1M493.5 333.6h1M484.9 350.0h1M488.9 339.3h1M495.1 346.1h1M482.1 349.6h1M484.8 340.3h1M481.5 351.5h1M475.8 347.8h1M484.1 353.8h1M488.1 349.7h1M487.7 340.6h1M484.9 346.8h1M481.9 352.6h1M474.3 352.7h1M485.9 348.0h1M504.4 331.2h1M487.8 340.6h1M482.5 346.4h1M479.9 342.5h1M490.5 343.2h1M477.3 345.6h1M473.0 349.1h1M487.8 344.5h1M482.4 339.6h1M496.3 337.5h1M480.6 344.5h1M489.5 344.0h1M486.3 348.1h1M487.0 350.8h1M485.3 348.0h1M478.2 343.1h1M483.4 350.2h1M493.3 343.6h1M483.4 342.1h1M478.9 346.4h1M476.4 343.4h1M486.8 345.8h1M481.9 349.5h1M483.0 346.7h1M488.5 349.8h1M485.1 355.1h1M476.7 348.8h1M476.8 344.9h1M490.5 340.8h1M476.0 344.8h1M485.8 339.2h1M488.3 345.0h1M484.7 342.9h1M492.2 339.6h1M496.3 343.7h1M480.0 348.3h1M493.4 342.1h1M481.2 349.0h1M485.7 351.0h1M493.6 343.7h1M482.6 345.6h1M475.6 360.1h1M483.9 352.7h1M478.5 357.1h1M479.4 346.7h1M476.6 342.9h1M487.9 343.3h1M485.1 352.5h1M478.5 345.5h1M477.0 350.5h1M489.2 347.8h1M475.6 338.6h1M477.4 348.3h1M486.2 348.8h1M494.4 344.1h1M476.5 353.8h1M480.5 344.6h1M480.4 333.5h1M475.0 346.1h1M475.1 341.8h1M475.7 347.5h1M487.0 346.3h1M489.7 349.1h1M484.4 339.2h1M489.5 341.6h1M475.1 346.9h1M488.7 338.6h1M468.1 349.3h1M489.7 346.4h1M481.6 352.5h1M478.2 354.7h1M488.0 341.4h1M484.4 340.9h1M473.5 347.3h1M481.0 352.1h1M481.1 342.9h1M486.9 340.6h1M497.1 340.1h1M479.0 349.4h1M481.0 348.6h1M476.4 344.7h1M492.9 342.5h1M485.8 352.1h1M481.6 346.7h1M477.0 348.4h1M473.2 357.7h1M476.0 338.6h1M486.5 355.4h1M489.7 349.0h1M473.1 360.1h1M478.6 346.9h1M481.3 350.0h1M486.3 349.8h1M486.8 346.3h1M481.5 349.7h1M482.8 347.6h1M467.6 359.4h1M490.8 342.1h1M488.1 349.7h1M479.4 345.4h1M477.0 350.5h1M485.5 346.1h1M486.4 351.4h1M488.8 344.3h1M479.8 349.5h1M474.8 349.7h1M497.4 346.0h1M490.8 343.1h1M482.1 349.0h1M485.2 346.4h1M479.5 348.6h1M482.3 348.4h1M471.9 351.5h1M492.3 338.3h1M484.2 352.9h1M476.1 353.9h1M482.6 341.1h1M484.5 346.9h1M482.0 347.8h1M489.0 338.8h1M473.6 355.0h1M488.0 349.4h1M480.2 345.0h1M481.4 346.6h1M482.7 337.3h1M485.0 356.1h1M483.2 348.2h1M485.4 346.2h1M486.5 338.8h1M489.1 346.1h1M484.0 353.6h1M491.7 341.5h1M480.7 347.0h1M501.5 340.0h1M485.1 351.2h1M483.2 339.1h1M483.4 344.9h1M481.3 353.0h1M477.8 348.2h1M487.4 340.1h1M487.1 357.7h1M481.9 343.7h1M491.8 340.2h1M485.7 349.4h1M480.6 346.6h1M472.5 349.3h1M486.9 342.8h1M493.8 335.9h1M484.4 347.2h1M478.1 352.1h1M489.5 337.5h1M485.0 343.3h1M478.3 344.5h1M490.0 344.7h1M495.1 336.6h1M478.7 351.5h1M474.0 362.3h1M468.0 346.0h1M486.5 345.3h1M483.3 342.0h1M472.0 364.5h1M471.7 347.3h1M481.2 348.5h1M471.1 357.5h1M486.6 341.6h1M483.9 346.3h1M482.6 354.3h1M471.6 349.8h1M481.3 350.4h1M481.8 351.4h1M482.7 342.9h1M481.7 354.4h1M493.6 351.7h1M484.7 345.2h1M467.9 345.9h1M481.3 347.1h1M483.5 344.8h1M486.9 342.9h1M485.0 344.9h1M473.7 355.7h1M477.4 351.9h1M482.2 338.7h1M473.2 353.8h1M487.3 344.0h1M484.6 344.8h1M473.6 342.1h1M487.6 347.0h1M484.5 347.3h1M490.1 347.5h1M489.7 352.1h1M487.6 346.1h1M481.3 355.8h1M481.9 353.5h1M487.0 344.0h1M477.7 342.7h1M476.9 350.1h1M484.1 344.9h1M475.3 345.3h1M490.4 340.6h1M480.3 349.1h1M481.2 338.5h1M481.9 348.2h1M486.6 340.6h1M479.6 346.9h1M487.4 346.0h1M483.4 343.2h1M482.6 346.5h1M481.5 348.0h1M476.6 353.3h1M476.3 345.3h1M479.0 351.2h1M480.8 350.0h1M484.1 342.7h1M498.3 339.4h1M484.9 335.4h1M483.0 347.6h1M488.1 340.4h1M488.3 337.1h1M480.4 344.6h1M483.7 349.6h1M483.2 354.8h1M485.4 347.6h1M489.0 351.2h1M482.8 345.1h1M479.7 350.2h1M476.7 350.7h1M480.6 348.6h1M479.1 346.3h1M487.1 352.1h1M481.5 345.5h1M480.0 355.8h1M472.9 346.7h1M484.2 354.9h1M492.4 338.6h1M477.4 351.9h1M486.2 350.0h1M483.1 348.7h1M478.6 344.7h1M474.3 358.7h1M476.3 354.2h1M476.1 361.1h1M485.1 350.7h1M501.7 339.3h1M482.3 349.2h1M479.3 351.0h1M490.8 337.0h1M477.5 347.3h1M484.9 346.9h1M478.9 356.8h1M471.8 351.0h1M482.6 347.4h1M484.2 347.2h1M493.2 337.0h1M491.3 341.0h1M478.4 339.1h1M477.4 346.1h1M489.1 342.0h1M479.3 346.7h1M477.9 355.4h1M495.6 348.3h1M467.7 354.0h1M496.3 342.5h1M488.8 346.6h1M478.7 338.5h1M485.4 342.7h1M480.4 347.7h1M490.2 347.9h1M490.9 342.1h1M486.9 356.4h1M487.1 345.6h1M488.8 342.2h1M488.9 344.6h1M478.8 342.7h1M483.2 342.3h1M470.8 352.4h1M486.3 347.0h1M484.4 346.6h1M473.5 350.3h1M476.2 347.7h1M474.7 355.5h1M482.8 343.9h1M489.3 338.5h1M490.3 344.1h1M472.3 352.3h1M482.7 346.0h1M483.3 346.1h1M470.3 344.0h1M483.1 337.2h1M475.6 350.1h1M473.5 355.9h1M484.6 347.0h1M472.4 353.1h1M469.1 352.2h1M492.3 340.5h1M487.0 353.1h1M483.4 350.0h1M489.0 349.6h1M486.6 345.1h1M490.7 339.1h1M479.5 347.6h1M473.8 353.5h1M477.3 355.2h1M482.7 345.9h1M486.6 345.3h1M485.3 346.4h1M484.6 337.2h1M469.6 350.7h1M488.4 348.5h1M480.5 339.8h1M479.3 344.1h1M483.0 337.6h1M486.6 349.7h1M490.8 345.1h1M473.7 346.8h1M484.1 342.6h1M472.3 357.4h1M479.8 352.8h1M483.0 344.8h1M481.6 344.2h1M495.9 336.6h1M496.1 337.0h1M487.2 344.6h1M489.6 341.0h1M483.2 351.1h1M483.9 344.4h1M488.4 339.2h1M495.4 337.4h1M479.4 346.6h1M476.0 341.9h1M478.6 344.6h1M488.0 340.2h1M491.2 359.1h1M478.0 342.1h1M474.5 353.1h1M481.0 348.5h1M479.7 342.0h1M483.3 341.7h1M491.4 355.2h1M472.0 355.3h1M482.5 344.0h1M482.9 344.8h1M484.2 335.3h1M478.2 345.1h1M475.6 357.6h1M467.2 354.3h1M482.1 341.5h1M478.5 351.1h1M479.0 350.1h1M477.3 339.1h1M478.8 350.2h1M478.5 349.3h1M483.8 347.9h1M482.4 340.7h1M481.6 344.9h1M483.9 349.6h1M484.5 339.1h1M488.1 347.1h1M479.3 353.0h1M487.9 353.6h1M483.8 342.8h1M474.9 349.4h1M494.9 343.1h1M480.8 349.1h1M479.7 344.3h1M488.0 341.7h1M479.5 346.7h1M488.5 343.4h1M483.7 350.4h1M483.0 340.6h1M480.1 354.1h1M476.6 351.5h1M484.3 350.2h1M477.7 346.0h1M478.0 345.4h1M477.4 348.9h1M475.9 344.4h1M486.7 343.0h1M477.7 346.5h1M483.3 345.4h1M493.6 339.8h1M481.9 347.7h1M487.4 338.7h1M483.4 348.4h1M475.7 347.9h1M476.6 352.2h1M481.3 351.1h1M490.8 340.3h1M492.1 346.0h1M487.2 348.0h1M479.6 354.2h1M479.0 336.5h1M494.6 343.5h1M480.2 348.1h1M487.9 352.2h1M482.1 354.8h1M472.6 352.5h1M468.7 356.9h1M482.9 341.0h1M485.8 346.3h1M477.8 347.2h1M478.0 350.3h1M486.5 354.3h1M491.7 344.4h1M503.1 334.8h1M486.3 347.1h1M484.5 349.9h1M490.1 341.7h1M488.5 336.3h1M474.8 352.4h1M475.0 346.5h1M488.4 338.9h1M474.1 352.7h1M488.4 349.7h1M480.1 351.3h1M478.0 355.5h1M487.8 339.8h1M483.3 345.4h1M481.8 345.4h1M490.5 344.5h1M475.1 348.0h1M485.4 341.0h1M477.0 350.0h1M476.9 355.5h1M484.2 347.8h1M492.5 342.4h1M484.3 341.6h1M482.6 351.5h1M478.1 347.6h1M477.0 348.7h1M484.7 345.4h1M487.3 340.6h1M481.3 358.2h1M484.3 344.4h1M486.6 344.0h1M488.4 339.8h1M483.7 342.1h1M488.1 350.6h1M487.5 347.1h1M477.9 346.1h1M481.5 348.3h1M483.2 345.3h1M465.6 358.2h1M486.1 348.1h1M483.7 352.5h1M495.0 343.1h1M473.5 346.8h1M476.2 346.1h1M476.3 349.2h1M484.8 343.4h1M495.0 344.1h1M483.1 350.6h1M479.0 349.4h1M480.9 342.9h1M488.3 334.8h1M482.7 349.8h1M476.5 352.2h1M480.6 348.1h1M492.3 350.6h1M501.2 341.5h1M488.1 349.5h1M483.2 352.6h1M479.1 345.9h1M482.0 348.2h1M477.7 345.0h1M486.7 342.4h1M481.6 347.0h1M478.1 341.3h1M487.0 344.7h1M477.5 355.1h1M475.5 350.2h1M481.7 351.3h1M483.0 350.2h1M488.6 343.1h1M480.0 346.9h1M483.3 351.5h1M473.7 357.5h1M483.4 351.0h1M487.9 344.3h1M484.6 349.3h1M489.6 340.5h1M478.0 351.8h1M495.4 346.0h1M483.3 342.3h1M490.6 341.6h1M488.3 349.0h1M493.5 341.5h1M483.3 336.2h1M489.7 346.2h1M478.9 347.1h1M479.2 346.8h1M488.7 347.3h1M469.2 353.3h1M488.8 348.4h1M484.6 341.8h1M490.6 343.7h1M480.3 347.5h1M478.1 350.7h1M483.5 353.0h1M491.0 342.4h1M488.6 343.4h1M489.1 338.7h1M489.8 351.6h1M484.2 344.5h1M476.2 348.7h1M485.7 349.1h1M479.7 353.4h1M480.8 348.9h1M475.0 351.6h1M484.5 355.8h1M495.9 344.7h1M484.0 349.7h1M477.9 349.8h1M481.8 343.4h1M488.4 345.0h1M489.5 340.7h1M471.4 355.3h1M481.0 348.4h1M488.5 344.9h1M484.7 342.9h1M481.4 351.9h1M482.2 353.0h1M485.8 357.4h1M481.2 346.9h1M482.3 340.3h1M484.2 349.7h1M492.9 341.3h1M485.0 351.8h1M476.3 352.7h1M476.0 341.0h1M486.2 344.6h1M471.4 353.9h1M493.9 339.0h1M474.3 342.8h1M473.6 358.6h1M489.5 344.4h1M487.1 337.0h1M469.8 356.4h1M493.0 342.8h1M485.2 350.8h1M486.4 343.3h1M484.8 346.0h1M494.7 349.2h1M487.2 347.9h1M471.6 351.0h1M481.5 350.8h1M479.4 349.9h1M485.7 347.8h1M483.4 350.2h1M485.9 343.9h1M480.3 350.2h1M474.0 351.5h1M481.5 340.3h1M483.7 337.3h1M485.1 346.9h1M487.2 335.9h1M490.6 350.1h1M485.1 335.7h1M488.5 340.2h1M478.1 349.2h1M495.4 335.1h1M482.7 347.8h1M486.7 346.0h1M470.8 350.2h1M482.6 349.8h1M481.0 357.4h1M483.2 349.5h1M480.4 355.1h1M484.7 347.2h1M488.9 349.2h1M487.6 339.4h1M474.3 350.6h1M492.9 346.4h1M486.0 337.9h1M485.0 347.5h1M479.6 341.1h1M480.4 340.9h1M486.5 345.2h1M483.6 356.5h1M484.9 347.3h1M496.6 345.3h1M479.8 350.5h1M478.8 344.0h1M490.4 342.1h1M483.2 352.6h1M491.8 341.2h1M481.6 348.0h1M480.5 351.8h1M472.1 349.1h1M484.1 339.6h1M479.7 351.4h1M478.9 351.8h1M481.3 348.1h1M482.6 340.7h1M485.2 342.0h1M491.6 350.0h1M482.7 343.1h1M473.4 359.1h1M490.4 340.5h1M482.1 353.0h1M483.2 348.8h1M474.5 352.6h1M473.7 355.7h1M468.9 343.6h1M474.5 354.8h1M478.9 352.6h1M482.8 352.7h1M474.2 349.4h1M497.7 339.4h1M483.3 345.9h1M474.9 349.9h1M482.6 341.4h1M486.5 344.2h1M491.0 356.2h1M478.5 342.6h1M484.3 342.4h1M485.4 341.4h1M481.6 336.6h1M484.4 343.8h1M483.1 341.0h1M480.8 347.7h1M475.5 341.3h1M475.5 344.8h1M489.0 350.0h1M486.9 346.0h1M483.1 341.6h1M487.6 344.0h1M487.5 343.3h1M482.7 345.9h1M481.0 349.5h1M477.1 350.5h1M488.3 333.4h1M490.1 345.2h1M488.3 353.3h1M481.6 344.5h1M484.4 357.0h1M486.9 341.6h1M481.5 343.5h1M489.1 343.7h1M483.8 342.3h1M481.2 348.0h1M479.1 355.7h1M483.7 350.7h1M486.7 354.4h1M473.7 343.7h1M478.4 351.9h1M498.0 347.0h1M480.6 353.4h1M487.0 344.4h1M472.4 348.6h1M477.1 348.4h1M471.8 353.3h1M482.7 349.0h1M486.9 344.5h1M479.6 351.8h1M480.5 349.5h1M473.0 349.7h1M478.0 345.8h1M488.3 342.9h1M495.5 343.8h1M482.1 354.2h1M476.0 349.6h1M477.1 360.0h1M475.2 353.1h1M488.0 342.3h1M479.9 348.3h1M471.0 345.5h1M490.2 348.6h1M484.3 353.3h1M480.3 348.5h1M482.3 340.0h1M484.8 351.8h1M492.1 343.5h1M488.0 342.6h1M474.4 353.6h1M486.3 350.1h1M474.6 351.2h1M487.2 340.5h1M487.5 344.6h1M484.3 348.6h1M478.7 342.3h1M486.3 338.1h1M486.5 343.3h1M466.5 354.3h1M495.4 339.1h1M484.1 354.7h1M482.5 342.2h1M491.6 339.7h1M485.9 339.6h1M485.6 353.9h1M483.5 350.5h1M481.6 347.5h1M489.2 335.8h1M483.1 347.0h1M475.5 353.3h1M486.5 342.4h1M486.2 338.6h1M477.2 351.7h1M489.3 349.3h1M489.4 339.0h1M489.0 348.0h1M482.6 346.8h1M489.1 339.7h1M482.4 345.5h1M479.2 349.3h1M483.4 345.5h1M474.2 358.8h1M487.0 354.2h1M482.2 346.6h1M490.7 347.2h1M475.9 349.8h1M495.7 336.1h1M483.4 346.5h1M486.8 340.8h1M477.3 345.4h1M479.7 357.0h1M476.1 338.7h1M483.4 349.5h1M481.5 348.0h1M479.9 344.8h1M486.7 348.1h1M481.2 346.4h1M480.5 349.6h1M488.0 341.2h1M472.0 351.0h1M485.9 344.2h1M493.9 339.4h1M477.2 350.3h1M480.6 336.4h1M485.4 344.8h1M489.6 342.5h1M497.3 348.6h1M477.3 345.1h1M466.6 347.2h1M481.6 341.3h1M487.9 342.9h1M494.7 345.6h1M492.7 335.6h1M473.1 344.1h1M481.5 350.2h1M479.0 347.4h1M482.2 360.0h1M483.1 353.4h1M473.7 349.5h1M482.1 348.8h1M472.6 345.2h1M481.0 339.2h1M486.3 347.0h1M481.0 346.7h1M479.9 352.8h1M481.3 338.6h1M482.3 349.9h1M484.2 347.0h1M478.6 346.4h1M480.5 344.1h1M489.4 344.4h1M491.6 347.6h1M480.3 352.1h1M485.3 349.3h1M472.4 351.6h1M490.7 343.5h1M486.6 344.0h1M487.9 350.2h1M492.2 343.2h1M482.2 344.2h1M489.5 340.0h1M488.7 349.2h1M490.1 345.4h1M486.2 347.5h1M491.4 346.8h1M483.1 351.1h1M490.4 342.8h1M485.4 343.8h1M481.8 347.7h1M480.0 353.8h1M485.1 342.5h1M489.8 344.4h1M484.0 355.3h1M498.9 339.1h1M477.8 354.9h1M478.7 355.1h1M488.7 345.4h1M482.2 349.8h1M483.1 351.1h1M474.5 346.0h1M477.5 347.4h1M478.4 364.0h1M480.9 341.1h1M486.6 335.2h1M487.9 339.5h1M484.2 344.7h1M482.1 346.0h1M480.4 345.5h1M471.8 351.6h1M485.0 347.3h1M492.1 343.7h1M486.6 350.0h1M480.2 347.1h1M483.4 351.0h1M475.6 349.4h1M492.8 343.4h1M484.9 341.3h1M484.1 346.1h1M486.5 346.3h1M469.8 351.6h1M479.3 346.1h1M475.5 348.8h1M494.0 344.6h1M481.7 342.7h1M484.9 342.4h1M481.5 352.3h1M479.7 346.0h1M483.3 348.5h1M475.5 355.7h1M484.3 336.2h1M479.7 348.4h1M471.1 349.6h1M484.3 348.5h1M496.4 344.1h1M482.9 352.7h1M481.2 346.0h1M484.8 348.7h1M491.0 339.0h1M478.2 339.9h1M491.6 343.5h1M474.9 351.7h1M488.0 345.2h1M483.8 344.4h1M476.7 351.0h1M484.9 352.4h1M479.2 342.3h1M479.9 352.8h1M488.0 346.4h1M478.2 342.9h1M474.6 353.4h1M476.0 344.7h1M490.7 345.2h1M497.0 332.7h1M487.1 339.8h1M483.4 342.0h1M493.3 346.5h1M483.0 339.2h1M468.2 357.3h1M477.5 361.1h1M491.5 341.6h1M490.2 345.6h1M485.3 345.0h1M502.6 336.5h1M483.4 340.4h1M487.9 348.1h1M485.1 341.9h1M481.8 354.7h1M481.5 352.4h1M481.0 352.8h1M477.9 357.5h1M481.0 339.6h1M471.7 346.4h1M475.5 348.1h1M493.3 348.2h1M471.7 349.7h1M476.6 341.8h1M484.8 347.1h1M487.3 347.9h1M478.0 352.7h1M480.4 353.1h1M495.8 335.1h1M484.0 350.0h1M488.4 337.5h1M486.4 338.6h1M490.9 339.3h1M483.6 343.7h1M487.8 345.5h1M483.7 344.9h1M487.0 344.1h1M486.0 349.2h1M472.4 352.1h1M480.0 345.0h1M487.8 348.1h1M496.1 337.9h1M484.2 346.1h1M485.5 353.0h1M483.7 341.1h1M489.1 337.5h1M489.0 358.3h1M468.3 358.8h1M499.1 340.8h1M478.8 344.3h1M481.4 352.1h1M486.0 342.9h1M477.6 344.6h1M491.3 344.4h1M484.4 338.8h1M493.0 348.2h1M484.3 351.5h1M477.8 354.8h1M479.0 345.8h1M495.0 340.3h1M483.8 342.0h1M481.2 345.8h1M478.5 355.1h1M486.6 355.3h1M483.0 352.4h1M478.2 348.9h1M482.8 347.7h1M494.1 341.6h1M485.4 347.4h1M484.8 345.9h1M489.1 340.5h1M476.9 340.3h1M483.8 346.9h1M483.3 347.4h1M495.0 343.0h1M486.5 351.6h1M487.3 347.2h1M486.0 348.8h1M478.0 350.9h1M485.5 354.5h1M495.3 337.7h1M487.3 342.8h1M487.8 348.2h1M479.4 353.9h1M489.9 347.0h1M481.9 347.5h1M484.7 353.8h1M488.2 340.6h1M481.5 351.8h1M483.1 350.8h1M490.6 347.0h1M488.7 343.0h1M487.3 348.1h1M489.7 342.6h1M471.0 359.7h1M483.5 342.5h1M486.7 350.6h1M482.2 348.6h1M480.2 345.5h1M478.1 352.6h1M483.9 350.3h1M485.8 353.4h1M489.9 346.1h1M489.2 339.7h1M483.9 348.2h1M479.1 350.2h1M482.6 345.8h1M481.7 338.8h1M471.8 350.3h1M488.7 348.3h1M476.3 346.5h1M484.9 333.4h1M484.1 347.1h1M485.9 337.6h1M482.2 353.0h1M483.0 350.8h1M486.2 339.8h1M483.5 351.9h1M493.7 346.5h1M482.4 342.2h1M470.6 358.3h1M478.0 347.6h1M476.0 348.7h1M483.6 347.6h1M482.2 345.3h1M481.5 351.1h1M484.3 357.7h1M487.0 352.7h1M487.2 342.6h1M483.3 344.1h1M482.7 345.7h1M487.4 347.3h1M485.2 345.9h1M484.0 350.0h1M476.6 355.5h1M483.7 353.1h1M490.2 349.5h1M479.8 345.1h1M484.2 345.8h1M484.7 353.0h1M486.7 338.9h1M480.7 344.7h1M494.4 340.7h1M481.3 347.4h1M477.2 345.3h1M479.4 344.1h1M477.4 351.7h1M477.0 356.9h1M480.0 346.9h1M481.5 348.1h1M476.5 348.4h1M483.0 349.7h1M487.5 351.4h1M475.1 349.6h1M484.6 357.2h1M479.1 339.7h1M489.3 350.5h1M477.2 353.9h1M480.4 349.4h1M486.8 357.4h1M492.3 341.1h1M485.2 350.3h1M499.9 336.3h1M476.7 346.2h1M478.4 352.9h1M483.3 346.2h1M481.2 336.8h1M480.6 355.6h1M481.9 356.3h1M481.2 353.8h1M469.4 350.9h1M485.7 344.0h1M481.5 348.6h1M483.4 353.2h1M488.2 349.5h1M482.4 348.1h1M492.1 346.1h1M475.2 377.9h1M484.5 358.4h1M477.5 369.3h1M469.8 360.7h1M480.6 358.1h1M472.3 347.2h1M470.1 360.0h1M476.7 376.1h1M480.2 354.3h1M477.2 357.9h1M481.9 362.9h1M471.9 363.2h1M472.9 367.4h1M476.6 353.2h1M472.6 374.1h1M471.9 364.8h1M466.0 370.3h1M481.5 368.1h1M474.0 358.7h1M471.5 374.9h1M469.8 361.7h1M480.6 379.9h1M461.6 344.9h1M469.5 363.1h1M486.5 357.9h1M483.1 361.8h1M475.4 360.6h1M477.2 354.1h1M478.7 372.3h1M477.4 359.8h1M482.1 356.2h1M480.8 351.4h1M469.1 369.9h1M480.8 357.7h1M478.8 370.8h1M471.9 361.4h1M467.1 358.8h1M479.2 357.4h1M476.6 372.9h1M483.2 370.1h1M475.3 369.0h1M467.8 366.0h1M469.7 354.0h1M471.5 373.6h1M477.3 371.3h1M482.0 369.5h1M478.1 378.9h1M477.6 360.7h1M474.0 361.5h1M483.5 376.8h1M480.1 375.1h1M483.8 358.8h1M474.4 373.7h1M477.0 378.4h1M474.8 356.8h1M472.8 376.9h1M485.2 376.6h1M481.9 369.3h1M486.6 371.6h1M480.3 363.4h1M480.1 368.1h1M471.2 359.6h1M474.4 364.6h1M471.2 350.7h1M466.7 369.8h1M484.2 373.6h1M477.5 362.4h1M471.5 375.7h1M475.5 351.5h1M474.1 374.8h1M475.8 351.2h1M482.9 345.3h1M479.9 354.9h1M478.9 345.4h1M470.5 334.1h1M482.3 351.1h1M489.7 343.9h1M477.1 350.3h1M473.4 354.8h1M481.4 339.2h1M478.3 347.9h1M481.4 345.2h1M479.7 353.8h1M467.9 353.1h1M481.7 361.7h1M476.7 353.6h1M478.5 351.7h1M480.7 351.1h1M475.8 351.3h1M481.2 359.4h1M480.6 350.8h1M484.9 355.0h1M488.8 346.2h1M475.6 347.2h1M478.7 343.0h1M480.6 351.6h1M485.0 351.7h1M481.1 345.7h1M492.8 348.7h1M487.5 353.9h1M476.3 353.0h1M480.8 349.2h1M480.4 349.6h1M474.8 349.6h1M474.1 349.8h1M471.1 354.1h1M477.4 353.5h1M483.9 349.8h1M487.1 346.6h1M485.1 355.2h1M467.4 354.1h1M481.9 358.9h1M484.2 353.5h1M483.0 345.5h1M482.8 349.0h1M479.4 347.1h1M479.6 352.5h1M485.0 347.4h1M472.3 343.1h1M487.0 338.4h1M485.2 347.2h1M480.7 345.6h1M477.8 354.3h1M482.7 350.2h1M485.9 345.6h1M479.7 341.9h1M478.1 351.7h1M484.4 351.6h1M481.6 338.8h1M481.3 349.2h1M479.3 352.9h1M477.1 345.4h1M482.4 354.3h1M471.6 350.6h1M461.4 352.8h1M484.9 350.3h1M487.9 355.8h1M475.3 349.5h1M480.2 355.2h1M484.0 340.9h1M484.9 356.7h1M481.9 351.8h1M477.9 345.4h1M478.0 353.2h1M485.2 356.6h1M479.5 349.6h1M482.1 354.7h1M472.8 340.9h1M477.9 347.2h1M475.4 354.9h1M476.7 345.0h1M482.3 356.3h1M478.9 343.5h1M477.1 356.6h1M478.9 350.6h1M470.7 355.2h1M479.2 350.0h1M478.9 351.7h1M473.4 351.7h1M475.0 356.8h1M485.0 351.1h1M484.7 358.8h1M482.6 354.6h1M475.4 352.6h1M480.3 348.4h1M476.3 351.8h1M473.2 348.3h1M481.8 355.1h1M481.7 346.3h1M480.0 360.9h1M474.4 360.5h1M487.3 342.6h1M493.2 348.0h1M477.3 350.7h1M484.6 343.9h1M486.3 349.4h1M476.6 349.1h1M481.8 347.3h1M478.5 364.4h1M484.7 340.8h1M472.7 351.6h1M483.7 357.0h1M480.9 350.2h1M481.7 347.0h1M487.8 359.2h1M482.0 346.2h1M483.9 347.6h1M471.3 353.2h1M478.4 348.8h1M475.5 359.3h1M471.9 348.6h1M478.8 350.9h1M476.4 346.7h1M482.8 354.6h1M479.8 340.4h1M478.9 356.2h1M484.8 348.7h1M477.7 349.7h1M484.2 345.1h1M480.9 355.7h1M480.7 347.8h1M479.3 356.0h1M482.5 356.0h1M476.1 347.7h1M482.1 344.4h1M483.6 349.4h1M480.2 352.2h1M474.5 346.0h1M479.4 353.2h1M480.3 343.1h1M469.9 356.0h1M483.7 342.4h1M488.7 348.4h1M484.6 345.7h1M488.0 353.0h1M486.5 350.7h1M486.5 349.7h1M469.3 344.7h1M479.1 344.7h1M490.6 349.0h1M476.1 351.4h1M471.7 358.4h1M471.1 347.3h1M475.2 352.7h1M479.3 351.1h1M478.9 358.1h1M479.4 352.0h1M476.3 354.2h1M481.1 352.3h1M482.0 362.2h1M476.4 356.1h1M479.2 351.3h1M476.1 351.3h1M478.5 357.9h1M485.5 347.7h1M471.4 357.2h1M480.9 357.6h1M475.6 351.6h1M478.9 347.4h1M488.3 343.9h1M487.1 353.2h1M473.3 347.7h1M485.9 342.4h1M477.0 350.9h1M489.3 357.2h1M474.1 341.3h1M481.1 360.9h1M476.9 348.0h1M475.6 349.1h1M477.5 360.5h1M477.1 353.9h1M475.2 360.7h1M472.7 340.6h1M481.0 345.3h1M483.3 349.7h1M484.3 346.5h1M485.4 355.4h1M481.5 351.4h1M472.9 351.1h1M476.0 343.3h1M476.1 345.1h1M485.3 353.2h1M479.4 347.9h1M479.6 345.3h1M480.8 351.2h1M482.9 359.0h1M486.3 357.2h1M475.1 344.3h1M481.2 353.8h1M481.6 355.4h1M486.0 350.4h1M481.0 347.1h1M484.2 347.2h1M479.5 354.1h1M489.0 342.4h1M474.7 352.2h1M482.6 346.3h1M494.6 357.4h1M479.3 342.6h1M481.3 348.9h1M481.5 352.0h1M476.8 348.5h1M475.0 343.7h1M479.6 347.5h1M484.3 351.9h1M489.0 358.3h1M485.1 357.8h1M474.6 350.5h1M474.6 338.1h1M475.7 348.1h1M483.3 347.7h1M488.0 348.6h1M479.3 349.6h1M478.3 345.4h1M477.2 343.5h1M481.3 341.9h1M478.8 355.9h1M480.9 359.5h1M480.6 344.9h1M483.5 348.2h1M479.5 351.0h1M474.3 349.0h1M477.6 353.5h1M480.8 348.6h1M486.0 349.9h1M474.7 352.2h1M485.3 348.4h1M480.8 353.3h1M481.1 357.1h1M479.8 348.8h1M474.8 355.4h1M469.4 356.0h1M474.4 358.0h1M481.1 345.8h1M476.0 349.1h1M479.9 352.3h1M480.7 336.6h1M478.9 351.9h1M479.8 346.7h1M473.2 346.9h1M490.4 349.7h1M480.4 348.8h1M479.4 351.5h1M474.2 352.5h1M476.9 346.8h1M481.9 346.3h1M482.0 352.8h1M471.9 354.9h1M483.0 357.8h1M483.7 348.6h1M478.2 350.8h1M483.4 350.4h1M477.5 355.0h1M484.9 350.4h1M471.5 339.5h1M480.8 350.6h1M474.0 351.3h1M479.2 343.3h1M483.9 348.7h1M480.2 359.2h1M484.4 352.3h1M478.3 355.2h1M483.7 339.5h1M491.6 349.8h1M474.1 337.1h1M486.2 342.7h1M477.4 353.1h1M482.2 349.8h1M485.3 351.1h1M472.7 352.3h1M477.5 352.1h1M480.2 357.1h1M484.7 354.8h1M481.3 350.1h1M476.9 353.1h1M464.4 358.8h1M478.2 348.4h1M477.0 352.9h1M479.3 346.3h1M478.7 347.0h1M487.6 350.2h1M482.7 353.4h1M479.8 356.3h1M482.1 356.5h1M474.1 354.0h1M472.7 356.4h1M477.8 345.4h1M479.6 358.4h1M482.3 345.3h1M478.2 346.4h1M476.7 346.4h1M484.0 351.2h1M477.6 349.3h1M477.7 352.1h1M481.0 351.1h1M480.5 351.6h1M479.1 354.2h1M482.1 355.1h1M478.2 353.9h1M477.7 355.5h1M470.6 362.6h1M470.1 352.8h1M480.0 345.7h1M483.4 348.6h1M472.8 343.0h1M478.4 341.6h1M484.5 351.2h1M478.5 347.3h1M483.8 344.3h1M481.5 354.1h1M484.6 340.8h1M493.3 353.3h1M473.0 347.9h1M480.5 350.5h1M481.6 350.0h1M481.4 348.0h1M490.4 352.2h1M474.6 351.0h1M480.7 350.3h1M483.7 350.5h1M474.6 350.8h1M476.5 355.9h1M470.7 356.0h1M474.7 342.8h1M485.0 357.9h1M480.1 348.3h1M485.1 346.1h1M482.8 351.2h1M479.0 347.7h1M484.9 344.3h1M485.2 348.8h1M478.3 349.9h1M472.1 351.4h1M490.0 359.3h1M486.8 349.3h1M478.9 349.7h1M480.8 346.9h1M471.6 358.0h1M486.5 353.2h1M477.1 349.7h1M489.1 355.5h1M473.8 356.2h1M476.5 350.5h1M485.9 345.3h1M486.6 350.1h1M474.9 345.1h1M474.2 352.3h1M473.6 351.9h1M477.7 354.4h1M481.9 352.6h1M474.4 352.4h1M478.2 354.4h1M477.2 353.3h1M478.9 346.9h1M480.0 353.2h1M482.0 353.1h1M482.8 354.0h1M485.4 347.8h1M483.7 354.6h1M477.1 349.5h1M473.1 358.9h1M485.5 348.8h1M485.1 347.2h1M482.3 352.1h1M478.9 353.8h1M478.7 348.8h1M481.0 355.9h1M475.8 345.5h1M481.1 355.6h1M470.0 346.9h1M483.3 349.8h1M479.0 343.6h1M468.9 359.0h1M481.4 352.2h1M472.2 352.4h1M479.6 344.6h1M476.1 346.9h1M477.3 344.3h1M470.5 351.9h1M484.2 353.9h1M489.1 359.1h1M478.5 344.8h1M479.3 358.4h1M476.3 350.6h1M478.8 344.2h1M481.7 348.2h1M482.0 347.6h1M472.2 351.3h1M479.6 348.4h1M476.3 350.7h1M476.6 353.8h1M481.9 347.4h1M498.3 347.1h1M475.6 348.6h1M489.6 357.5h1M481.5 342.0h1M486.7 354.1h1M481.9 342.2h1M477.2 340.3h1M479.4 350.4h1M478.1 366.1h1M485.0 353.9h1M475.9 357.4h1M481.8 351.0h1M483.7 351.4h1M479.0 350.3h1M489.4 350.1h1M482.7 349.3h1M476.4 346.1h1M478.2 351.2h1M479.1 356.4h1M483.7 344.7h1M482.2 353.1h1M474.8 355.2h1M479.0 351.9h1M477.5 350.8h1M480.0 357.2h1M483.3 346.5h1M476.5 358.3h1M476.4 353.5h1M479.7 356.9h1M483.7 352.6h1M476.5 349.6h1M471.8 353.4h1M479.0 352.7h1M477.4 350.5h1M477.9 347.1h1M482.0 357.3h1M474.0 356.4h1M483.1 353.7h1M484.9 364.5h1M473.4 351.0h1M477.2 346.1h1M491.6 355.2h1M475.5 353.8h1M482.0 350.3h1M490.4 352.6h1M487.6 350.2h1M481.9 347.3h1M478.1 346.1h1M478.8 350.4h1M485.0 346.8h1M469.7 354.7h1M484.0 348.5h1M473.1 355.0h1M482.8 349.1h1M485.6 350.4h1M482.5 353.5h1M481.6 352.2h1M489.1 345.5h1M477.2 346.8h1M480.4 352.1h1M484.9 348.7h1M482.0 354.0h1M483.0 352.7h1M474.1 347.2h1M478.8 359.4h1M479.4 349.0h1M479.2 344.5h1M478.0 350.7h1M474.3 341.5h1M481.1 344.8h1M471.2 350.4h1M484.5 346.0h1M483.6 348.5h1M473.6 344.3h1M477.6 351.6h1M481.8 347.4h1M486.3 356.5h1M483.8 349.5h1M481.8 354.2h1M488.3 347.1h1M479.0 354.5h1M480.8 348.1h1M480.3 354.8h1M481.2 344.0h1M474.3 355.3h1M481.5 350.4h1M483.8 350.5h1M478.7 351.9h1M473.6 353.5h1M473.2 348.2h1M475.1 356.0h1M483.2 353.5h1M485.5 349.7h1M479.5 345.6h1M478.6 355.2h1M487.2 353.9h1M483.8 350.9h1M479.8 350.2h1M481.9 342.8h1M481.4 347.5h1M483.1 351.8h1M483.0 345.2h1M482.8 352.6h1M476.4 356.4h1M487.5 348.3h1M483.9 351.6h1M489.9 353.4h1M474.5 350.6h1M472.4 349.1h1M484.8 349.2h1M488.7 355.8h1M481.4 355.1h1M475.1 351.7h1M481.5 342.0h1M468.4 350.4h1M483.7 344.0h1M481.2 352.7h1M479.2 356.8h1M477.0 352.3h1M478.3 351.8h1M483.4 349.0h1M479.3 351.8h1M475.6 345.8h1M474.2 351.3h1M473.2 347.1h1M481.4 355.3h1M469.9 352.3h1M478.9 338.7h1M480.5 354.0h1M481.9 348.3h1M475.9 352.7h1M483.5 348.8h1M477.9 335.9h1M474.5 348.3h1M487.8 350.3h1M489.2 349.8h1M483.8 352.2h1M476.8 344.5h1M478.1 356.8h1M476.4 353.2h1M477.5 356.0h1M483.7 353.8h1M477.4 354.4h1M475.3 353.5h1M475.1 343.8h1M484.4 353.7h1M474.0 343.1h1M477.0 362.1h1M476.4 351.9h1M481.3 352.2h1M483.7 349.9h1M486.4 344.6h1M482.8 351.7h1M475.2 345.7h1M473.9 346.1h1M485.1 345.3h1M481.9 343.2h1M480.7 359.2h1M480.4 360.0h1M483.5 341.1h1M482.8 351.8h1M478.7 351.5h1M482.4 360.0h1M487.1 345.6h1M488.2 348.0h1M482.2 343.7h1M473.0 349.4h1M478.5 351.6h1M478.1 353.1h1M481.4 342.0h1M475.3 357.6h1M484.0 352.7h1M474.8 342.8h1M476.7 349.5h1M482.3 351.2h1M480.3 354.8h1M483.0 354.3h1M459.7 348.0h1M471.3 363.3h1M479.7 351.1h1M472.3 350.9h1M479.4 343.3h1M480.0 348.1h1M484.3 347.7h1M473.8 352.1h1M484.6 352.4h1M487.9 354.2h1M484.8 354.2h1M477.0 347.2h1M479.1 355.6h1M480.2 343.8h1M481.9 360.9h1M479.9 349.8h1M473.2 343.2h1M470.8 352.8h1M477.0 348.7h1M480.5 350.0h1M479.1 360.3h1M483.4 344.3h1M473.7 343.4h1M476.2 346.1h1M466.9 345.0h1M475.1 344.8h1M480.5 352.6h1M485.4 350.1h1M482.9 345.2h1M481.7 350.9h1M482.0 351.5h1M481.7 341.3h1M480.6 340.3h1M480.5 350.6h1M474.9 346.2h1M477.6 342.1h1M477.9 352.9h1M481.0 347.5h1M481.7 352.2h1M481.3 348.8h1M487.2 341.6h1M486.5 350.8h1M484.2 352.5h1M477.9 343.8h1M482.2 352.1h1M473.8 346.5h1M483.8 336.7h1M486.2 348.6h1M477.5 356.1h1M482.7 360.5h1M475.9 354.3h1M478.1 358.4h1M481.2 349.3h1M486.1 350.4h1M489.1 347.1h1M488.1 354.9h1M482.1 352.9h1M472.8 345.1h1M478.0 346.4h1M479.2 351.0h1M481.5 351.3h1M477.2 354.0h1M482.5 350.7h1M480.1 350.9h1M474.8 360.9h1M471.9 360.2h1M480.3 349.8h1M473.7 348.7h1M467.9 354.6h1M477.9 347.0h1M476.0 337.1h1M450.4 386.3h1M473.8 351.9h1M496.7 377.5h1M502.0 362.2h1M443.3 345.8h1M467.5 370.0h1M464.3 385.8h1M454.7 337.9h1M478.5 349.6h1M478.8 349.2h1M497.3 337.6h1M487.1 379.4h1M491.3 345.9h1M473.6 372.1h1M487.5 384.3h1M482.6 376.5h1M456.0 344.5h1M503.6 374.9h1M480.3 340.8h1M498.4 367.1h1M500.4 383.0h1M477.1 357.4h1M449.9 354.3h1M482.4 347.0h1M504.9 350.4h1M473.7 347.9h1M446.3 368.1h1M487.3 376.2h1M451.8 377.2h1M440.2 373.8h1M448.4 343.4h1M459.3 354.1h1M459.9 343.2h1M468.1 359.7h1M496.8 342.5h1M493.5 369.1h1M411.5 372.9h1M436.0 381.2h1M424.2 369.8h1M429.9 376.8h1M418.3 363.4h1M411.2 383.7h1M421.8 370.4h1M423.3 363.1h1" stroke="#e8211c" stroke-width="1" fill="none" opacity="1"/>
<rect x="344" y="301.2" width="174.5" height="158.10000000000002" fill="none" stroke="#1a1a1a" stroke-width="0.9"/>
<path d="M436.7 301.2V459.3M344 389.2H518.5" stroke="#1a1a1a" stroke-width="0.9" fill="none"/>
<path d="M346.25 459.3v4.4M344 457.21h-3.6M351.69 459.3v4.4M344 452.24h-3.6M355.91 459.3v4.4M344 448.38h-3.6M359.35 459.3v4.4M344 445.23h-3.6M362.26 459.3v4.4M344 442.57h-3.6M364.78 459.3v4.4M344 440.26h-3.6M367.01 459.3v4.4M344 438.22h-3.6M369.00 459.3v7.6M344 436.40h-7.2M382.09 459.3v4.4M344 424.42h-3.6M389.75 459.3v4.4M344 417.41h-3.6M395.19 459.3v4.4M344 412.44h-3.6M399.41 459.3v4.4M344 408.58h-3.6M402.85 459.3v4.4M344 405.43h-3.6M405.76 459.3v4.4M344 402.77h-3.6M408.28 459.3v4.4M344 400.46h-3.6M410.51 459.3v4.4M344 398.42h-3.6M412.50 459.3v7.6M344 396.60h-7.2M425.59 459.3v4.4M344 384.62h-3.6M433.25 459.3v4.4M344 377.61h-3.6M438.69 459.3v4.4M344 372.64h-3.6M442.91 459.3v4.4M344 368.78h-3.6M446.35 459.3v4.4M344 365.63h-3.6M449.26 459.3v4.4M344 362.97h-3.6M451.78 459.3v4.4M344 360.66h-3.6M454.01 459.3v4.4M344 358.62h-3.6M456.00 459.3v7.6M344 356.80h-7.2M469.09 459.3v4.4M344 344.82h-3.6M476.75 459.3v4.4M344 337.81h-3.6M482.19 459.3v4.4M344 332.84h-3.6M486.41 459.3v4.4M344 328.98h-3.6M489.85 459.3v4.4M344 325.83h-3.6M492.76 459.3v4.4M344 323.17h-3.6M495.28 459.3v4.4M344 320.86h-3.6M497.51 459.3v4.4M344 318.82h-3.6M499.50 459.3v7.6M344 317.00h-7.2M512.59 459.3v4.4M344 305.02h-3.6" stroke="#1a1a1a" stroke-width="1.05" fill="none"/>
<text x="363.0" y="475.9" font-size="7.9" fill="#111">10<tspan dy="-4.5" font-size="7.1">2</tspan></text>
<text transform="translate(334.8 441.2) rotate(-90)" font-size="7.9" fill="#111">10<tspan dy="-4.5" font-size="7.1">2</tspan></text>
<text x="406.5" y="475.9" font-size="7.9" fill="#111">10<tspan dy="-4.5" font-size="7.1">3</tspan></text>
<text transform="translate(334.8 401.4) rotate(-90)" font-size="7.9" fill="#111">10<tspan dy="-4.5" font-size="7.1">3</tspan></text>
<text x="450.0" y="475.9" font-size="7.9" fill="#111">10<tspan dy="-4.5" font-size="7.1">4</tspan></text>
<text transform="translate(334.8 361.6) rotate(-90)" font-size="7.9" fill="#111">10<tspan dy="-4.5" font-size="7.1">4</tspan></text>
<text x="493.5" y="475.9" font-size="7.9" fill="#111">10<tspan dy="-4.5" font-size="7.1">5</tspan></text>
<text transform="translate(334.8 321.8) rotate(-90)" font-size="7.9" fill="#111">10<tspan dy="-4.5" font-size="7.1">5</tspan></text>
<path d="M314.3 300.4V477H534.4" stroke="#1a1a1a" stroke-width="1.2" fill="none"/>
<path d="M314.3 296.4l-2.9 5.6h5.8z" fill="#1a1a1a"/>
<path d="M538.4 477l-5.6 -2.9v5.8z" fill="#1a1a1a"/>
</g>
<text x="92" y="314.2" font-size="8.6" fill="#1a1a1a">a</text>
<text x="91.6" y="401.2" font-size="8.6" fill="#1a1a1a">c</text>
<text x="249.8" y="314.4" font-size="9.6" fill="#1a1a1a">b</text>
<text x="250.6" y="453.4" font-size="9.6" fill="#1a1a1a">d</text>
<text x="349.2" y="315.8" font-size="8.6" fill="#1a1a1a">a</text>
<text x="348.6" y="404" font-size="8.6" fill="#1a1a1a">c</text>
<text x="506.8" y="316" font-size="9.6" fill="#1a1a1a">b</text>
<text x="507.8" y="455.8" font-size="9.6" fill="#1a1a1a">d</text>
<text class="b" x="202.6" y="314.6" font-size="12" fill="#e0211b" textLength="39" lengthAdjust="spacingAndGlyphs" stroke="#e0211b" stroke-width="0.3">0.01%</text>
<text class="b" x="449.4" y="315.8" font-size="12" fill="#e0211b" textLength="47" lengthAdjust="spacingAndGlyphs" stroke="#e0211b" stroke-width="0.3">16.89%</text>
<text x="166.8" y="492.8" font-size="11.6" fill="#1a1a1a" textLength="23.4" lengthAdjust="spacingAndGlyphs">CD8</text>
<text x="423.2" y="492.8" font-size="11.6" fill="#1a1a1a" textLength="24.4" lengthAdjust="spacingAndGlyphs">CD8</text>
<text transform="translate(49.3 472.4) rotate(-90)" font-size="10.2" fill="#1a1a1a" textLength="188.4" lengthAdjust="spacingAndGlyphs">HIVペプチド/HLAテトラマー(陰性対照)</text>
<text transform="translate(305 449.2) rotate(-90)" font-size="10.2" fill="#1a1a1a" textLength="121.6" lengthAdjust="spacingAndGlyphs">ペプチド/HLAテトラマー</text>
</svg>
</body></html>
